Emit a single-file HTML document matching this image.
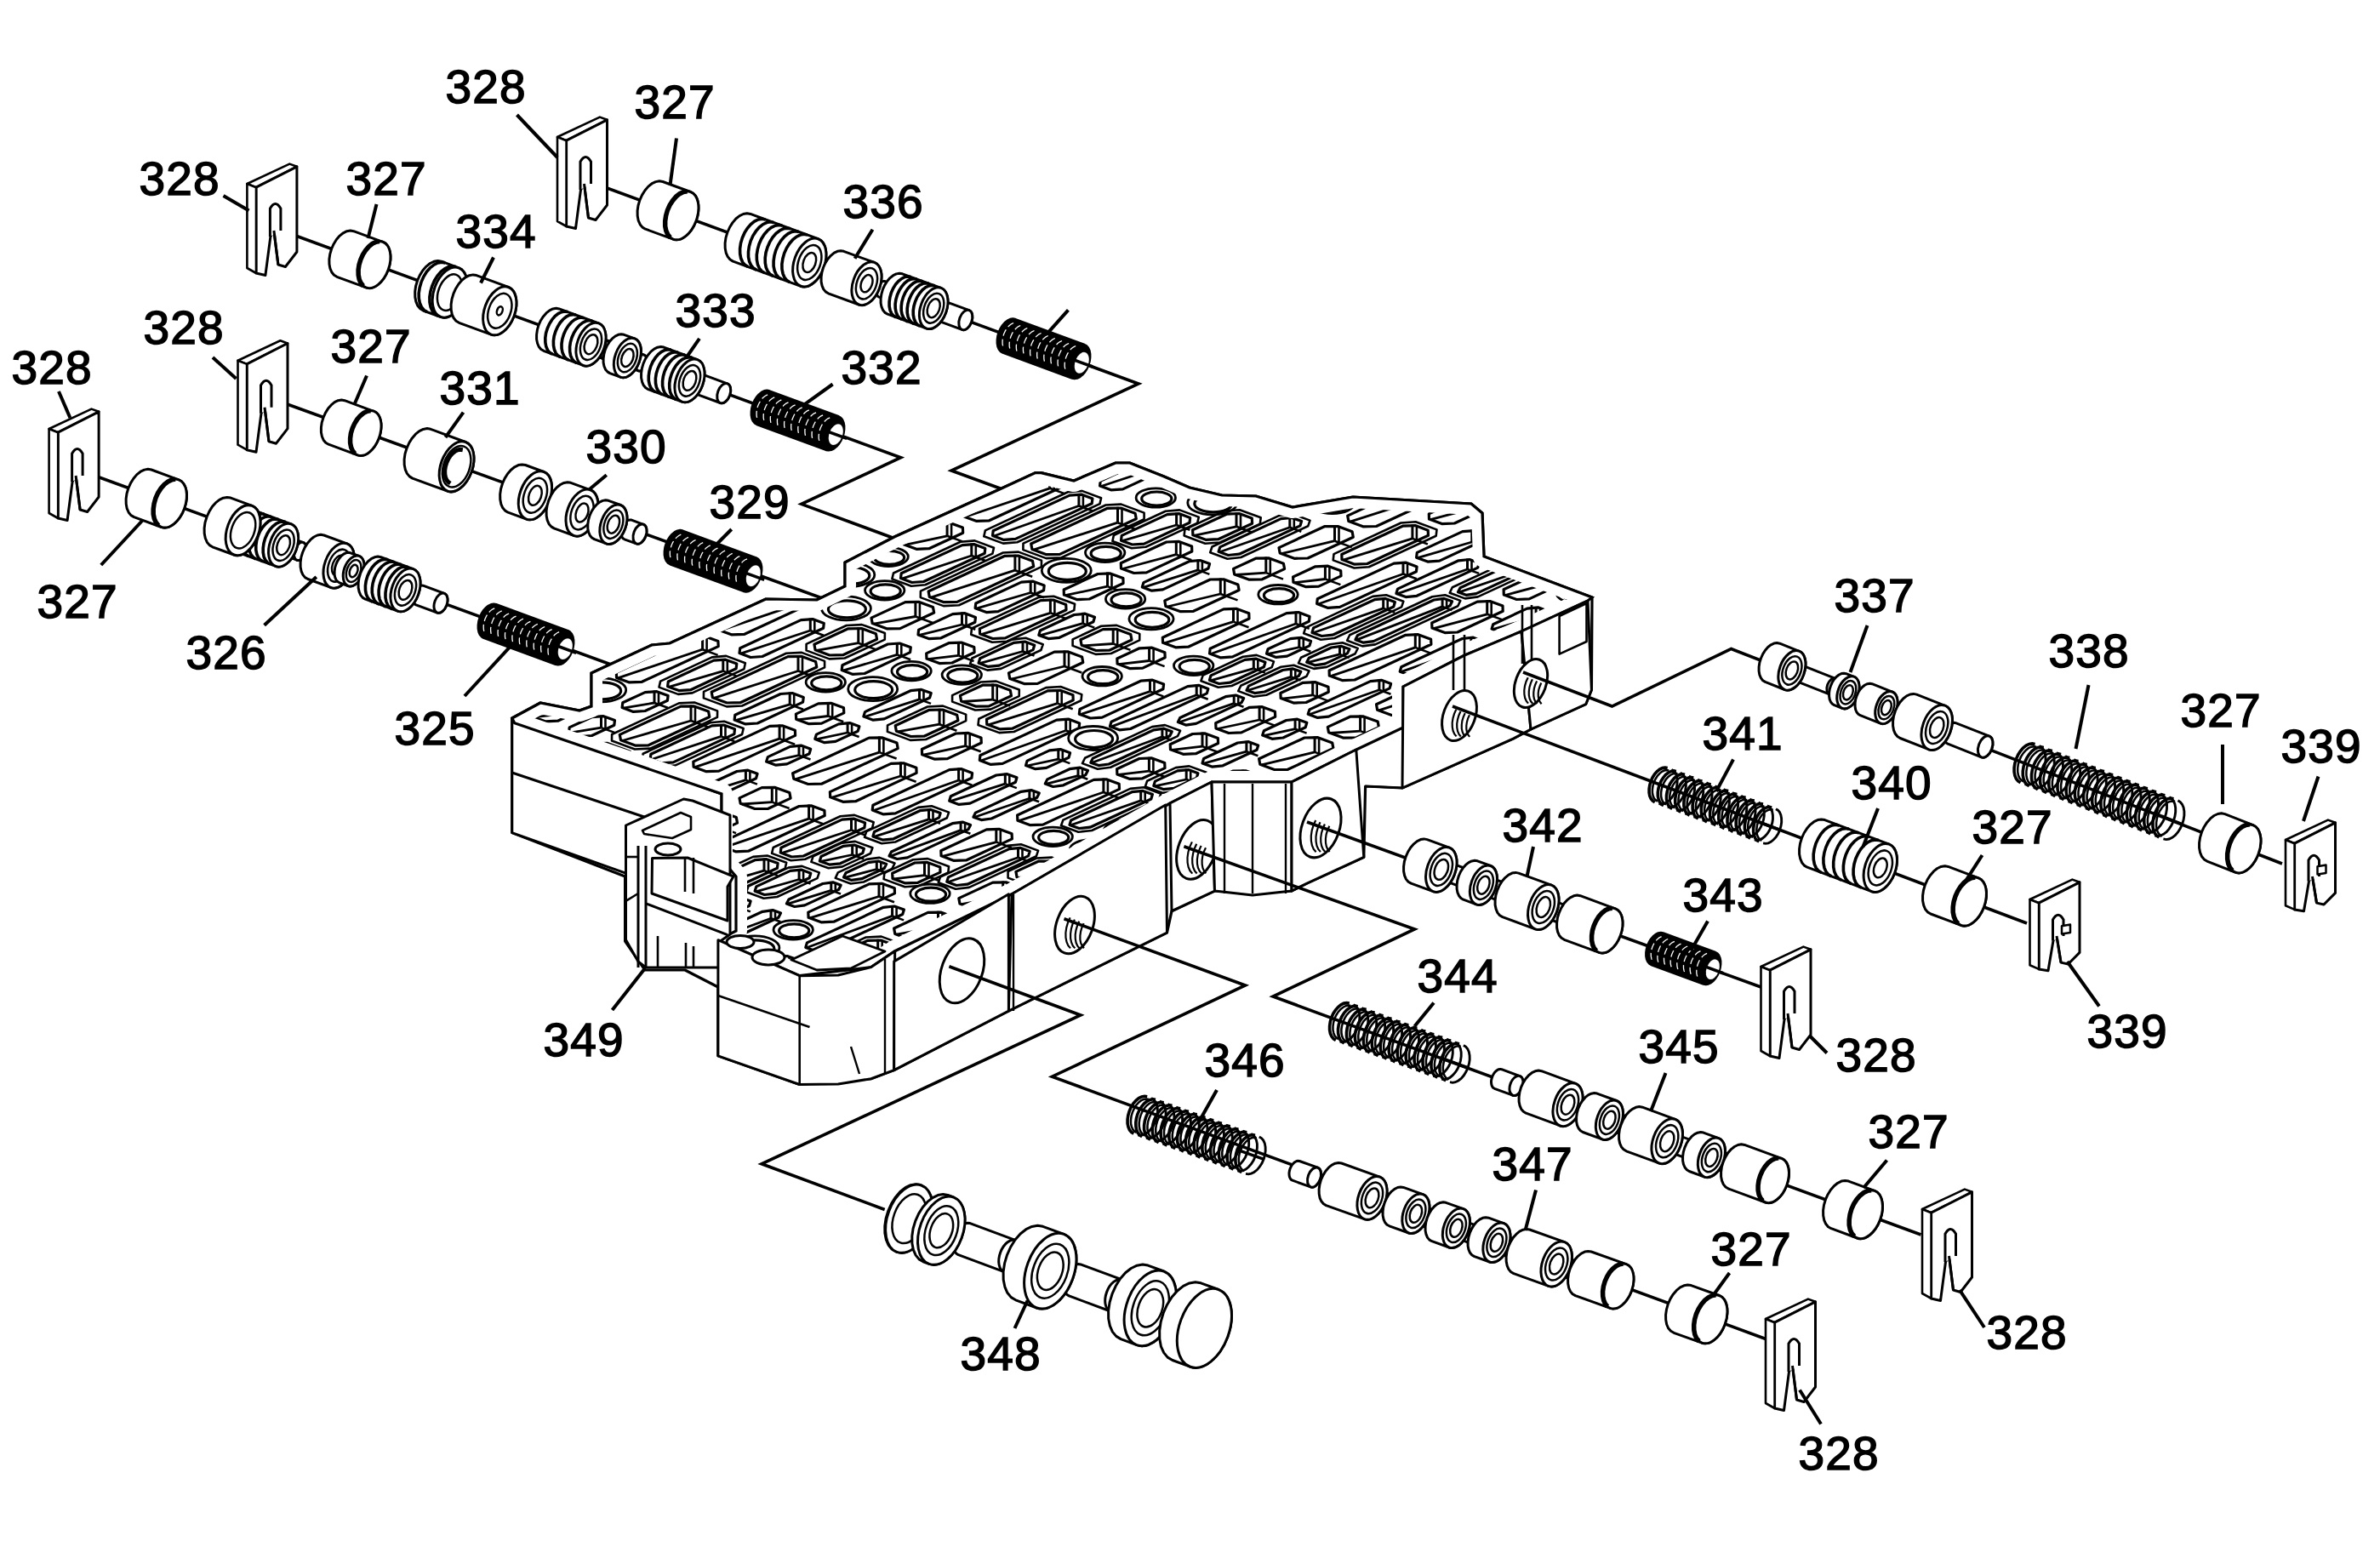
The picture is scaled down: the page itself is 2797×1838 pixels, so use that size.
<!DOCTYPE html>
<html><head><meta charset="utf-8"><style>
html,body{margin:0;padding:0;background:#fff;overflow:hidden}
svg{display:block}
.t{font-family:"Liberation Sans",sans-serif;font-size:55px;letter-spacing:1.2px;fill:#000;stroke:#000;stroke-width:1.5px}
</style></head><body>
<svg width="2797" height="1838" viewBox="0 0 2797 1838">
<rect width="2797" height="1838" fill="#fff"/>
<path d="M689.0 212.0 L1338.0 451.0 L1118.0 553.0 L1200.0 583.0" fill="none" stroke="#000" stroke-width="3.6" stroke-linejoin="miter"/>
<path d="M323.0 268.0 L1058.6 537.7 L941.8 592.4 L1060.0 636.0" fill="none" stroke="#000" stroke-width="3.6" stroke-linejoin="miter"/>
<path d="M312.0 465.7 L980.0 708.0" fill="none" stroke="#000" stroke-width="3.6" stroke-linejoin="miter"/>
<path d="M89.4 551.0 L740.0 789.0" fill="none" stroke="#000" stroke-width="3.6" stroke-linejoin="miter"/>
<path d="M601.8 844.0 L635.0 826.0 L681.0 835.0 L695.0 830.0 L695.0 791.0 L766.0 758.0 L787.0 756.0 L900.0 704.0 L960.0 705.0 L993.0 689.0 L993.0 661.0 L1051.0 631.0 L1174.8 575.0 L1216.8 555.6 L1223.5 555.6 L1262.0 565.0 L1311.0 544.0 L1327.7 544.0 L1368.0 560.0 L1398.0 573.0 L1436.0 582.0 L1476.0 583.0 L1519.0 596.0 L1590.0 584.0 L1729.0 592.0 L1742.0 603.0 L1744.0 654.0 L1871.0 702.0 L1870.4 810.7 L1863.7 827.5 L1799.0 857.0 L1778.8 867.8 L1701.4 902.3 L1648.0 926.0 L1604.6 924.0 L1602.8 1007.4 L1536.0 1038.0 L1518.0 1047.0 L1427.5 1047.0 L1377.0 1070.7 L1371.5 1096.0 L1185.4 1188.0 L1050.7 1257.6 L1023.8 1267.7 L939.7 1274.5 L843.9 1240.8 L843.9 1160.0 L805.0 1140.0 L758.0 1140.0 L734.6 1106.0 L734.6 1030.0 L601.8 978.6Z" fill="#fff" stroke="#000" stroke-width="3.2" stroke-linejoin="round"/>
<path d="M601.8 844.0 L848.0 933.0 L848.0 1040.0 L748.0 1030.7 L601.8 978.6Z" fill="#fff" stroke="#000" stroke-width="3" stroke-linejoin="round"/>
<path d="M601.8 908.0 L760.0 961.0" fill="none" stroke="#000" stroke-width="3" stroke-linejoin="miter"/>
<clipPath id="topclip"><path d="M601.8 844.0 L635.0 826.0 L681.0 835.0 L695.0 830.0 L695.0 791.0 L766.0 758.0 L787.0 756.0 L900.0 704.0 L960.0 705.0 L993.0 689.0 L993.0 661.0 L1051.0 631.0 L1174.8 575.0 L1216.8 555.6 L1223.5 555.6 L1262.0 565.0 L1311.0 544.0 L1327.7 544.0 L1368.0 560.0 L1398.0 573.0 L1436.0 582.0 L1476.0 583.0 L1519.0 596.0 L1590.0 584.0 L1729.0 592.0 L1742.0 603.0 L1744.0 654.0 L1871.0 702.0 L1866.0 706.0 L1788.0 742.0 L1720.7 770.3 L1649.0 807.0 L1649.0 855.0 L1596.0 880.0 L1518.0 919.0 L1424.0 919.0 L1375.0 944.0 L1189.0 1050.8 L1051.7 1117.7 L1023.8 1136.6 L939.7 1146.7 L843.9 1104.7 L865.0 1094.0 L865.0 1030.0 L848.0 1010.0 L848.0 933.0 L604.7 849.8Z"/></clipPath>
<path d="M601.8 844.0 L635.0 826.0 L681.0 835.0 L695.0 830.0 L695.0 791.0 L766.0 758.0 L787.0 756.0 L900.0 704.0 L960.0 705.0 L993.0 689.0 L993.0 661.0 L1051.0 631.0 L1174.8 575.0 L1216.8 555.6 L1223.5 555.6 L1262.0 565.0 L1311.0 544.0 L1327.7 544.0 L1368.0 560.0 L1398.0 573.0 L1436.0 582.0 L1476.0 583.0 L1519.0 596.0 L1590.0 584.0 L1729.0 592.0 L1742.0 603.0 L1744.0 654.0 L1871.0 702.0 L1866.0 706.0 L1788.0 742.0 L1720.7 770.3 L1649.0 807.0 L1649.0 855.0 L1596.0 880.0 L1518.0 919.0 L1424.0 919.0 L1375.0 944.0 L1189.0 1050.8 L1051.7 1117.7 L1023.8 1136.6 L939.7 1146.7 L843.9 1104.7 L865.0 1094.0 L865.0 1030.0 L848.0 1010.0 L848.0 933.0 L604.7 849.8Z" fill="#fff" stroke="none"/>
<g clip-path="url(#topclip)"><path d="M391.5 944.7 L463.1 911.5 L477.9 910.9 L492.9 916.4 L493.2 922.5 L421.5 955.8 L406.7 956.4 L391.7 950.9Z" fill="none" stroke="#000" stroke-width="3.2" stroke-linejoin="round"/><path d="M393.2 951.4 L474.6 926.2" fill="none" stroke="#000" stroke-width="2.8"/><path d="M474.6 909.7 L474.6 926.2" fill="none" stroke="#000" stroke-width="3.0"/><path d="M479.6 911.7 L479.6 928.2" fill="none" stroke="#000" stroke-width="2.6"/><path d="M474.6 926.2 L492.6 932.8" fill="none" stroke="#000" stroke-width="2.6"/><path d="M499.4 894.6 L589.2 853.0 L604.0 852.4 L619.0 857.9 L619.2 864.0 L529.4 905.7 L514.7 906.3 L499.7 900.8Z" fill="none" stroke="#000" stroke-width="3.2" stroke-linejoin="round"/><path d="M501.2 901.3 L600.7 867.6" fill="none" stroke="#000" stroke-width="2.8"/><path d="M600.7 851.1 L600.7 867.6" fill="none" stroke="#000" stroke-width="3.0"/><path d="M605.7 853.1 L605.7 869.6" fill="none" stroke="#000" stroke-width="2.6"/><path d="M600.7 867.6 L618.7 874.3" fill="none" stroke="#000" stroke-width="2.6"/><path d="M625.5 836.1 L651.8 823.9 L666.5 823.3 L681.6 828.8 L681.8 835.0 L655.5 847.2 L640.8 847.8 L625.7 842.3Z" fill="none" stroke="#000" stroke-width="3.2" stroke-linejoin="round"/><path d="M627.2 842.8 L663.2 838.6" fill="none" stroke="#000" stroke-width="2.8"/><path d="M663.2 822.1 L663.2 838.6" fill="none" stroke="#000" stroke-width="3.0"/><path d="M668.2 824.1 L668.2 840.6" fill="none" stroke="#000" stroke-width="2.6"/><path d="M663.2 838.6 L681.3 845.2" fill="none" stroke="#000" stroke-width="2.6"/><ellipse cx="706.7" cy="810.9" rx="29.0" ry="14.0" fill="#fff" stroke="#000" stroke-width="2.8"/><ellipse cx="707.7" cy="811.9" rx="22.0" ry="10.0" fill="#fff" stroke="#000" stroke-width="3.2"/><path d="M724.3 790.2 L814.1 748.6 L828.9 748.0 L843.9 753.5 L844.2 759.6 L754.4 801.3 L739.6 801.9 L724.6 796.4Z" fill="none" stroke="#000" stroke-width="3.2" stroke-linejoin="round"/><path d="M726.1 796.9 L825.6 763.2" fill="none" stroke="#000" stroke-width="2.8"/><path d="M825.6 746.7 L825.6 763.2" fill="none" stroke="#000" stroke-width="3.0"/><path d="M830.6 748.7 L830.6 765.2" fill="none" stroke="#000" stroke-width="2.6"/><path d="M825.6 763.2 L843.6 769.9" fill="none" stroke="#000" stroke-width="2.6"/><path d="M845.0 734.2 L934.8 692.6 L949.5 692.0 L964.5 697.5 L964.8 703.6 L875.0 745.3 L860.2 745.9 L845.2 740.4Z" fill="none" stroke="#000" stroke-width="3.2" stroke-linejoin="round"/><path d="M846.7 740.9 L946.2 707.2" fill="none" stroke="#000" stroke-width="2.8"/><path d="M946.2 690.7 L946.2 707.2" fill="none" stroke="#000" stroke-width="3.0"/><path d="M951.2 692.7 L951.2 709.2" fill="none" stroke="#000" stroke-width="2.6"/><path d="M946.2 707.2 L964.2 713.9" fill="none" stroke="#000" stroke-width="2.6"/><ellipse cx="998.8" cy="675.4" rx="29.0" ry="14.0" fill="#fff" stroke="#000" stroke-width="2.8"/><ellipse cx="999.8" cy="676.4" rx="22.0" ry="10.0" fill="#fff" stroke="#000" stroke-width="3.2"/><ellipse cx="1044.1" cy="654.3" rx="23.2" ry="11.2" fill="#fff" stroke="#000" stroke-width="2.8"/><ellipse cx="1045.1" cy="655.3" rx="17.6" ry="8.0" fill="#fff" stroke="#000" stroke-width="3.2"/><path d="M1061.7 633.6 L1101.7 615.1 L1116.4 614.5 L1131.4 620.0 L1131.7 626.2 L1091.8 644.7 L1077.0 645.3 L1062.0 639.8Z" fill="none" stroke="#000" stroke-width="3.2" stroke-linejoin="round"/><path d="M1063.5 640.3 L1113.1 629.8" fill="none" stroke="#000" stroke-width="2.8"/><path d="M1113.1 613.3 L1113.1 629.8" fill="none" stroke="#000" stroke-width="3.0"/><path d="M1118.1 615.3 L1118.1 631.8" fill="none" stroke="#000" stroke-width="2.6"/><path d="M1113.1 629.8 L1131.1 636.4" fill="none" stroke="#000" stroke-width="2.6"/><path d="M1132.5 600.8 L1222.3 559.1 L1237.1 558.5 L1252.1 564.0 L1252.3 570.2 L1162.5 611.8 L1147.8 612.4 L1132.7 606.9Z" fill="none" stroke="#000" stroke-width="3.2" stroke-linejoin="round"/><path d="M1134.2 607.5 L1233.7 573.8" fill="none" stroke="#000" stroke-width="2.8"/><path d="M1233.7 557.3 L1233.7 573.8" fill="none" stroke="#000" stroke-width="3.0"/><path d="M1238.7 559.3 L1238.7 575.8" fill="none" stroke="#000" stroke-width="2.6"/><path d="M1233.7 573.8 L1251.8 580.4" fill="none" stroke="#000" stroke-width="2.6"/><path d="M1258.6 542.3 L1312.1 517.4 L1326.8 516.8 L1341.9 522.4 L1342.1 528.5 L1288.6 553.3 L1273.8 553.9 L1258.8 548.4Z" fill="none" stroke="#000" stroke-width="3.2" stroke-linejoin="round"/><path d="M1260.3 549.0 L1323.5 532.1" fill="none" stroke="#000" stroke-width="2.8"/><path d="M1323.5 515.6 L1323.5 532.1" fill="none" stroke="#000" stroke-width="3.0"/><path d="M1328.5 517.6 L1328.5 534.1" fill="none" stroke="#000" stroke-width="2.6"/><path d="M1323.5 532.1 L1341.6 538.7" fill="none" stroke="#000" stroke-width="2.6"/><ellipse cx="1376.1" cy="500.2" rx="29.0" ry="14.0" fill="#fff" stroke="#000" stroke-width="2.8"/><ellipse cx="1377.1" cy="501.2" rx="22.0" ry="10.0" fill="#fff" stroke="#000" stroke-width="3.2"/><path d="M1393.7 479.5 L1483.5 437.9 L1498.3 437.3 L1513.3 442.8 L1513.5 448.9 L1423.7 490.6 L1409.0 491.2 L1394.0 485.7Z" fill="none" stroke="#000" stroke-width="3.2" stroke-linejoin="round"/><path d="M1395.5 486.2 L1495.0 452.5" fill="none" stroke="#000" stroke-width="2.8"/><path d="M1495.0 436.0 L1495.0 452.5" fill="none" stroke="#000" stroke-width="3.0"/><path d="M1500.0 438.0 L1500.0 454.5" fill="none" stroke="#000" stroke-width="2.6"/><path d="M1495.0 452.5 L1513.0 459.2" fill="none" stroke="#000" stroke-width="2.6"/><path d="M423.4 969.0 L476.9 944.1 L490.8 943.2 L503.9 948.0 L503.2 953.8 L449.7 978.6 L435.9 979.6 L422.7 974.8Z" fill="none" stroke="#000" stroke-width="3.2" stroke-linejoin="round"/><path d="M414.2 968.6 L474.9 940.4 L491.5 938.9 L514.0 947.2 L512.5 954.2 L451.7 982.4 L435.1 983.8 L412.6 975.6Z" fill="none" stroke="#000" stroke-width="2.6" stroke-linejoin="round"/><path d="M424.1 975.2 L487.9 956.5" fill="none" stroke="#000" stroke-width="2.8"/><path d="M487.9 942.1 L487.9 956.5" fill="none" stroke="#000" stroke-width="3.0"/><path d="M492.9 944.1 L492.9 958.5" fill="none" stroke="#000" stroke-width="2.6"/><path d="M487.9 956.5 L503.6 962.3" fill="none" stroke="#000" stroke-width="2.6"/><path d="M513.2 927.3 L584.9 894.0 L598.7 893.1 L611.8 897.9 L611.1 903.7 L539.5 937.0 L525.7 937.9 L512.5 933.1Z" fill="none" stroke="#000" stroke-width="3.2" stroke-linejoin="round"/><path d="M504.0 926.9 L582.9 890.3 L599.4 888.8 L622.0 897.1 L620.4 904.1 L541.5 940.7 L524.9 942.2 L502.4 933.9Z" fill="none" stroke="#000" stroke-width="2.6" stroke-linejoin="round"/><path d="M513.8 933.6 L595.8 906.4" fill="none" stroke="#000" stroke-width="2.8"/><path d="M595.8 892.0 L595.8 906.4" fill="none" stroke="#000" stroke-width="3.0"/><path d="M600.8 894.0 L600.8 908.4" fill="none" stroke="#000" stroke-width="2.6"/><path d="M595.8 906.4 L611.6 912.2" fill="none" stroke="#000" stroke-width="2.6"/><path d="M615.7 879.7 L642.0 867.5 L655.8 866.6 L669.0 871.4 L668.3 877.2 L642.0 889.4 L628.2 890.3 L615.0 885.5Z" fill="none" stroke="#000" stroke-width="3.2" stroke-linejoin="round"/><path d="M616.3 886.0 L652.9 879.9" fill="none" stroke="#000" stroke-width="2.8"/><path d="M652.9 865.5 L652.9 879.9" fill="none" stroke="#000" stroke-width="3.0"/><path d="M657.9 867.5 L657.9 881.9" fill="none" stroke="#000" stroke-width="2.6"/><path d="M652.9 879.9 L668.7 885.7" fill="none" stroke="#000" stroke-width="2.6"/><path d="M669.2 854.9 L695.5 842.7 L709.3 841.7 L722.5 846.5 L721.8 852.3 L695.5 864.5 L681.7 865.5 L668.5 860.7Z" fill="none" stroke="#000" stroke-width="3.2" stroke-linejoin="round"/><path d="M669.8 861.1 L706.5 855.1" fill="none" stroke="#000" stroke-width="2.8"/><path d="M706.5 840.7 L706.5 855.1" fill="none" stroke="#000" stroke-width="3.0"/><path d="M711.5 842.7 L711.5 857.1" fill="none" stroke="#000" stroke-width="2.6"/><path d="M706.5 855.1 L722.2 860.9" fill="none" stroke="#000" stroke-width="2.6"/><path d="M731.8 825.8 L758.1 813.6 L771.9 812.7 L785.1 817.5 L784.4 823.3 L758.1 835.5 L744.3 836.4 L731.1 831.6Z" fill="none" stroke="#000" stroke-width="3.2" stroke-linejoin="round"/><path d="M732.4 832.1 L769.0 826.0" fill="none" stroke="#000" stroke-width="2.8"/><path d="M769.0 811.6 L769.0 826.0" fill="none" stroke="#000" stroke-width="3.0"/><path d="M774.0 813.6 L774.0 828.0" fill="none" stroke="#000" stroke-width="2.6"/><path d="M769.0 826.0 L784.8 831.8" fill="none" stroke="#000" stroke-width="2.6"/><path d="M785.3 801.0 L838.8 776.1 L852.7 775.2 L865.8 780.0 L865.1 785.8 L811.6 810.7 L797.8 811.6 L784.6 806.8Z" fill="none" stroke="#000" stroke-width="3.2" stroke-linejoin="round"/><path d="M776.1 800.6 L836.8 772.4 L853.4 770.9 L875.9 779.2 L874.4 786.2 L813.6 814.4 L797.0 815.9 L774.5 807.6Z" fill="none" stroke="#000" stroke-width="2.6" stroke-linejoin="round"/><path d="M785.9 807.3 L849.8 788.6" fill="none" stroke="#000" stroke-width="2.8"/><path d="M849.8 774.1 L849.8 788.6" fill="none" stroke="#000" stroke-width="3.0"/><path d="M854.8 776.1 L854.8 790.6" fill="none" stroke="#000" stroke-width="2.6"/><path d="M849.8 788.6 L865.5 794.4" fill="none" stroke="#000" stroke-width="2.6"/><path d="M869.7 761.8 L941.3 728.6 L955.1 727.6 L968.3 732.5 L967.6 738.2 L895.9 771.5 L882.1 772.5 L869.0 767.6Z" fill="none" stroke="#000" stroke-width="3.2" stroke-linejoin="round"/><path d="M870.3 768.1 L952.3 741.0" fill="none" stroke="#000" stroke-width="2.8"/><path d="M952.3 726.6 L952.3 741.0" fill="none" stroke="#000" stroke-width="3.0"/><path d="M957.3 728.6 L957.3 743.0" fill="none" stroke="#000" stroke-width="2.6"/><path d="M952.3 741.0 L968.0 746.8" fill="none" stroke="#000" stroke-width="2.6"/><ellipse cx="994.4" cy="714.9" rx="29.0" ry="14.0" fill="#fff" stroke="#000" stroke-width="2.8"/><ellipse cx="995.4" cy="715.9" rx="22.0" ry="10.0" fill="#fff" stroke="#000" stroke-width="3.2"/><ellipse cx="1039.7" cy="693.8" rx="23.2" ry="11.2" fill="#fff" stroke="#000" stroke-width="2.8"/><ellipse cx="1040.7" cy="694.8" rx="17.6" ry="8.0" fill="#fff" stroke="#000" stroke-width="3.2"/><path d="M1059.2 673.8 L1130.9 640.6 L1144.7 639.6 L1157.8 644.5 L1157.2 650.3 L1085.5 683.5 L1071.7 684.5 L1058.5 679.6Z" fill="none" stroke="#000" stroke-width="3.2" stroke-linejoin="round"/><path d="M1050.0 673.5 L1128.9 636.8 L1145.5 635.4 L1168.0 643.7 L1166.4 650.6 L1087.5 687.3 L1070.9 688.7 L1048.4 680.4Z" fill="none" stroke="#000" stroke-width="2.6" stroke-linejoin="round"/><path d="M1059.9 680.1 L1141.8 653.0" fill="none" stroke="#000" stroke-width="2.8"/><path d="M1141.8 638.6 L1141.8 653.0" fill="none" stroke="#000" stroke-width="3.0"/><path d="M1146.8 640.6 L1146.8 655.0" fill="none" stroke="#000" stroke-width="2.6"/><path d="M1141.8 653.0 L1157.6 658.8" fill="none" stroke="#000" stroke-width="2.6"/><path d="M1167.2 623.7 L1257.0 582.1 L1270.8 581.1 L1283.9 586.0 L1283.2 591.7 L1193.4 633.4 L1179.6 634.4 L1166.5 629.5Z" fill="none" stroke="#000" stroke-width="3.2" stroke-linejoin="round"/><path d="M1157.9 623.4 L1255.0 578.3 L1271.5 576.9 L1294.1 585.2 L1292.5 592.1 L1195.4 637.2 L1178.9 638.6 L1156.3 630.3Z" fill="none" stroke="#000" stroke-width="2.6" stroke-linejoin="round"/><path d="M1167.8 630.0 L1267.9 594.5" fill="none" stroke="#000" stroke-width="2.8"/><path d="M1267.9 580.1 L1267.9 594.5" fill="none" stroke="#000" stroke-width="3.0"/><path d="M1272.9 582.1 L1272.9 596.5" fill="none" stroke="#000" stroke-width="2.6"/><path d="M1267.9 594.5 L1283.7 600.3" fill="none" stroke="#000" stroke-width="2.6"/><path d="M1293.2 565.2 L1364.9 532.0 L1378.7 531.0 L1391.9 535.9 L1391.2 541.6 L1319.5 574.9 L1305.7 575.8 L1292.6 571.0Z" fill="none" stroke="#000" stroke-width="3.2" stroke-linejoin="round"/><path d="M1293.9 571.5 L1375.8 544.4" fill="none" stroke="#000" stroke-width="2.8"/><path d="M1375.8 530.0 L1375.8 544.4" fill="none" stroke="#000" stroke-width="3.0"/><path d="M1380.8 532.0 L1380.8 546.4" fill="none" stroke="#000" stroke-width="2.6"/><path d="M1375.8 544.4 L1391.6 550.2" fill="none" stroke="#000" stroke-width="2.6"/><path d="M1392.1 519.3 L1432.0 500.8 L1445.8 499.9 L1459.0 504.7 L1458.3 510.5 L1418.4 529.0 L1404.6 530.0 L1391.4 525.1Z" fill="none" stroke="#000" stroke-width="3.2" stroke-linejoin="round"/><path d="M1382.8 519.0 L1430.0 497.1 L1446.6 495.6 L1469.1 503.9 L1467.5 510.9 L1420.4 532.8 L1403.8 534.2 L1381.3 525.9Z" fill="none" stroke="#000" stroke-width="2.6" stroke-linejoin="round"/><path d="M1392.7 525.6 L1442.9 513.2" fill="none" stroke="#000" stroke-width="2.8"/><path d="M1442.9 498.8 L1442.9 513.2" fill="none" stroke="#000" stroke-width="3.0"/><path d="M1447.9 500.8 L1447.9 515.2" fill="none" stroke="#000" stroke-width="2.6"/><path d="M1442.9 513.2 L1458.7 519.0" fill="none" stroke="#000" stroke-width="2.6"/><path d="M1468.3 484.0 L1494.6 471.8 L1508.4 470.8 L1521.6 475.6 L1520.9 481.4 L1494.6 493.6 L1480.7 494.6 L1467.6 489.8Z" fill="none" stroke="#000" stroke-width="3.2" stroke-linejoin="round"/><path d="M1459.0 483.6 L1492.6 468.0 L1509.2 466.6 L1531.7 474.8 L1530.1 481.8 L1496.6 497.4 L1480.0 498.8 L1457.5 490.6Z" fill="none" stroke="#000" stroke-width="2.6" stroke-linejoin="round"/><path d="M1468.9 490.2 L1505.5 484.2" fill="none" stroke="#000" stroke-width="2.8"/><path d="M1505.5 469.8 L1505.5 484.2" fill="none" stroke="#000" stroke-width="3.0"/><path d="M1510.5 471.8 L1510.5 486.2" fill="none" stroke="#000" stroke-width="2.6"/><path d="M1505.5 484.2 L1521.3 490.0" fill="none" stroke="#000" stroke-width="2.6"/><path d="M460.7 987.6 L500.7 969.0 L516.4 968.8 L533.2 975.0 L534.4 981.5 L494.5 1000.0 L478.8 1000.3 L461.9 994.0Z" fill="none" stroke="#000" stroke-width="3.2" stroke-linejoin="round"/><path d="M463.6 994.7 L512.6 986.0" fill="none" stroke="#000" stroke-width="2.8"/><path d="M512.6 967.4 L512.6 986.0" fill="none" stroke="#000" stroke-width="3.0"/><path d="M517.6 969.4 L517.6 988.0" fill="none" stroke="#000" stroke-width="2.6"/><path d="M512.6 986.0 L532.9 993.4" fill="none" stroke="#000" stroke-width="2.6"/><path d="M527.9 956.4 L581.4 931.6 L597.1 931.3 L614.0 937.5 L615.2 944.0 L561.7 968.8 L545.9 969.1 L529.1 962.9Z" fill="none" stroke="#000" stroke-width="3.2" stroke-linejoin="round"/><path d="M530.7 963.5 L593.4 948.5" fill="none" stroke="#000" stroke-width="2.8"/><path d="M593.4 929.9 L593.4 948.5" fill="none" stroke="#000" stroke-width="3.0"/><path d="M598.4 931.9 L598.4 950.5" fill="none" stroke="#000" stroke-width="2.6"/><path d="M593.4 948.5 L613.6 956.0" fill="none" stroke="#000" stroke-width="2.6"/><ellipse cx="641.8" cy="917.6" rx="23.2" ry="11.2" fill="#fff" stroke="#000" stroke-width="2.8"/><ellipse cx="642.8" cy="918.6" rx="17.6" ry="8.0" fill="#fff" stroke="#000" stroke-width="3.2"/><path d="M657.6 896.2 L697.5 877.7 L713.2 877.4 L730.1 883.6 L731.3 890.1 L691.4 908.6 L675.6 908.9 L658.8 902.7Z" fill="none" stroke="#000" stroke-width="3.2" stroke-linejoin="round"/><path d="M648.3 895.8 L695.5 873.9 L713.5 873.0 L740.6 883.0 L740.5 890.5 L693.4 912.4 L675.3 913.3 L648.2 903.3Z" fill="none" stroke="#000" stroke-width="2.6" stroke-linejoin="round"/><path d="M660.4 903.3 L709.5 894.6" fill="none" stroke="#000" stroke-width="2.8"/><path d="M709.5 876.1 L709.5 894.6" fill="none" stroke="#000" stroke-width="3.0"/><path d="M714.5 878.1 L714.5 896.6" fill="none" stroke="#000" stroke-width="2.6"/><path d="M709.5 894.6 L729.7 902.1" fill="none" stroke="#000" stroke-width="2.6"/><path d="M728.3 863.4 L800.0 830.1 L815.7 829.9 L832.6 836.1 L833.8 842.5 L762.1 875.8 L746.4 876.1 L729.5 869.8Z" fill="none" stroke="#000" stroke-width="3.2" stroke-linejoin="round"/><path d="M719.1 863.0 L798.0 826.4 L816.0 825.5 L843.1 835.4 L843.0 842.9 L764.1 879.6 L746.0 880.5 L719.0 870.5Z" fill="none" stroke="#000" stroke-width="2.6" stroke-linejoin="round"/><path d="M731.2 870.5 L812.0 847.0" fill="none" stroke="#000" stroke-width="2.8"/><path d="M812.0 828.5 L812.0 847.0" fill="none" stroke="#000" stroke-width="3.0"/><path d="M817.0 830.5 L817.0 849.0" fill="none" stroke="#000" stroke-width="2.6"/><path d="M812.0 847.0 L832.2 854.5" fill="none" stroke="#000" stroke-width="2.6"/><path d="M836.2 813.3 L926.0 771.6 L941.7 771.3 L958.6 777.5 L959.8 784.0 L870.0 825.7 L854.3 826.0 L837.4 819.7Z" fill="none" stroke="#000" stroke-width="3.2" stroke-linejoin="round"/><path d="M827.0 812.9 L924.0 767.8 L942.1 766.9 L969.1 776.9 L969.1 784.4 L872.0 829.5 L854.0 830.4 L826.9 820.4Z" fill="none" stroke="#000" stroke-width="2.6" stroke-linejoin="round"/><path d="M839.1 820.4 L938.0 788.5" fill="none" stroke="#000" stroke-width="2.8"/><path d="M938.0 770.0 L938.0 788.5" fill="none" stroke="#000" stroke-width="3.0"/><path d="M943.0 772.0 L943.0 790.5" fill="none" stroke="#000" stroke-width="2.6"/><path d="M938.0 788.5 L958.3 796.0" fill="none" stroke="#000" stroke-width="2.6"/><path d="M956.9 757.3 L996.8 738.8 L1012.5 738.5 L1029.4 744.7 L1030.6 751.2 L990.7 769.7 L975.0 770.0 L958.1 763.8Z" fill="none" stroke="#000" stroke-width="3.2" stroke-linejoin="round"/><path d="M947.6 756.9 L994.8 735.0 L1012.9 734.1 L1039.9 744.0 L1039.8 751.6 L992.7 773.5 L974.6 774.4 L947.6 764.4Z" fill="none" stroke="#000" stroke-width="2.6" stroke-linejoin="round"/><path d="M959.8 764.4 L1008.8 755.7" fill="none" stroke="#000" stroke-width="2.8"/><path d="M1008.8 737.1 L1008.8 755.7" fill="none" stroke="#000" stroke-width="3.0"/><path d="M1013.8 739.1 L1013.8 757.7" fill="none" stroke="#000" stroke-width="2.6"/><path d="M1008.8 755.7 L1029.0 763.1" fill="none" stroke="#000" stroke-width="2.6"/><path d="M1024.0 726.1 L1063.9 707.6 L1079.6 707.3 L1096.5 713.6 L1097.7 720.0 L1057.8 738.6 L1042.1 738.8 L1025.2 732.6Z" fill="none" stroke="#000" stroke-width="3.2" stroke-linejoin="round"/><path d="M1026.9 733.2 L1075.9 724.5" fill="none" stroke="#000" stroke-width="2.8"/><path d="M1075.9 706.0 L1075.9 724.5" fill="none" stroke="#000" stroke-width="3.0"/><path d="M1080.9 708.0 L1080.9 726.5" fill="none" stroke="#000" stroke-width="2.6"/><path d="M1075.9 724.5 L1096.2 732.0" fill="none" stroke="#000" stroke-width="2.6"/><path d="M1091.1 695.0 L1180.9 653.3 L1196.6 653.0 L1213.5 659.2 L1214.7 665.7 L1124.9 707.4 L1109.2 707.7 L1092.3 701.4Z" fill="none" stroke="#000" stroke-width="3.2" stroke-linejoin="round"/><path d="M1081.9 694.6 L1178.9 649.5 L1197.0 648.6 L1224.0 658.6 L1223.9 666.1 L1126.9 711.2 L1108.8 712.1 L1081.8 702.1Z" fill="none" stroke="#000" stroke-width="2.6" stroke-linejoin="round"/><path d="M1094.0 702.1 L1192.9 670.2" fill="none" stroke="#000" stroke-width="2.8"/><path d="M1192.9 651.7 L1192.9 670.2" fill="none" stroke="#000" stroke-width="3.0"/><path d="M1197.9 653.7 L1197.9 672.2" fill="none" stroke="#000" stroke-width="2.6"/><path d="M1192.9 670.2 L1213.2 677.7" fill="none" stroke="#000" stroke-width="2.6"/><path d="M1211.7 639.0 L1301.5 597.3 L1317.2 597.0 L1334.1 603.3 L1335.3 609.7 L1245.5 651.4 L1229.8 651.7 L1212.9 645.5Z" fill="none" stroke="#000" stroke-width="3.2" stroke-linejoin="round"/><path d="M1202.5 638.6 L1299.5 593.5 L1317.6 592.6 L1344.6 602.6 L1344.6 610.1 L1247.5 655.2 L1229.5 656.1 L1202.4 646.1Z" fill="none" stroke="#000" stroke-width="2.6" stroke-linejoin="round"/><path d="M1214.6 646.1 L1313.5 614.2" fill="none" stroke="#000" stroke-width="2.8"/><path d="M1313.5 595.7 L1313.5 614.2" fill="none" stroke="#000" stroke-width="3.0"/><path d="M1318.5 597.7 L1318.5 616.2" fill="none" stroke="#000" stroke-width="2.6"/><path d="M1313.5 614.2 L1333.8 621.7" fill="none" stroke="#000" stroke-width="2.6"/><ellipse cx="1358.3" cy="585.0" rx="23.2" ry="11.2" fill="#fff" stroke="#000" stroke-width="2.8"/><ellipse cx="1359.3" cy="586.0" rx="17.6" ry="8.0" fill="#fff" stroke="#000" stroke-width="3.2"/><path d="M1374.1 563.6 L1427.6 538.8 L1443.3 538.5 L1460.2 544.7 L1461.4 551.2 L1407.9 576.0 L1392.2 576.3 L1375.3 570.1Z" fill="none" stroke="#000" stroke-width="3.2" stroke-linejoin="round"/><path d="M1364.8 563.2 L1425.6 535.0 L1443.7 534.1 L1470.7 544.1 L1470.7 551.6 L1409.9 579.8 L1391.8 580.7 L1364.8 570.8Z" fill="none" stroke="#000" stroke-width="2.6" stroke-linejoin="round"/><path d="M1377.0 570.7 L1439.6 555.7" fill="none" stroke="#000" stroke-width="2.8"/><path d="M1439.6 537.2 L1439.6 555.7" fill="none" stroke="#000" stroke-width="3.0"/><path d="M1444.6 539.2 L1444.6 557.7" fill="none" stroke="#000" stroke-width="2.6"/><path d="M1439.6 555.7 L1459.9 563.2" fill="none" stroke="#000" stroke-width="2.6"/><path d="M1463.9 521.9 L1535.5 488.7 L1551.2 488.4 L1568.1 494.6 L1569.3 501.1 L1497.7 534.4 L1482.0 534.6 L1465.1 528.4Z" fill="none" stroke="#000" stroke-width="3.2" stroke-linejoin="round"/><path d="M1466.8 529.0 L1547.5 505.6" fill="none" stroke="#000" stroke-width="2.8"/><path d="M1547.5 487.1 L1547.5 505.6" fill="none" stroke="#000" stroke-width="3.0"/><path d="M1552.5 489.1 L1552.5 507.6" fill="none" stroke="#000" stroke-width="2.6"/><path d="M1547.5 505.6 L1567.8 513.1" fill="none" stroke="#000" stroke-width="2.6"/><path d="M520.0 999.9 L546.3 987.7 L560.2 986.7 L573.3 991.5 L572.6 997.3 L546.3 1009.5 L532.5 1010.5 L519.3 1005.7Z" fill="none" stroke="#000" stroke-width="3.2" stroke-linejoin="round"/><path d="M510.8 999.5 L544.3 983.9 L560.9 982.5 L583.4 990.7 L581.9 997.7 L548.3 1013.3 L531.7 1014.7 L509.2 1006.5Z" fill="none" stroke="#000" stroke-width="2.6" stroke-linejoin="round"/><path d="M520.7 1006.1 L557.3 1000.1" fill="none" stroke="#000" stroke-width="2.8"/><path d="M557.3 985.7 L557.3 1000.1" fill="none" stroke="#000" stroke-width="3.0"/><path d="M562.3 987.7 L562.3 1002.1" fill="none" stroke="#000" stroke-width="2.6"/><path d="M557.3 1000.1 L573.0 1005.9" fill="none" stroke="#000" stroke-width="2.6"/><path d="M577.2 973.4 L667.0 931.7 L680.8 930.7 L693.9 935.6 L693.2 941.3 L603.4 983.0 L589.6 984.0 L576.5 979.1Z" fill="none" stroke="#000" stroke-width="3.2" stroke-linejoin="round"/><path d="M577.8 979.6 L677.9 944.1" fill="none" stroke="#000" stroke-width="2.8"/><path d="M677.9 929.7 L677.9 944.1" fill="none" stroke="#000" stroke-width="3.0"/><path d="M682.9 931.7 L682.9 946.1" fill="none" stroke="#000" stroke-width="2.6"/><path d="M677.9 944.1 L693.7 949.9" fill="none" stroke="#000" stroke-width="2.6"/><path d="M697.8 917.4 L737.7 898.8 L751.5 897.9 L764.7 902.7 L764.0 908.5 L724.1 927.0 L710.3 928.0 L697.1 923.1Z" fill="none" stroke="#000" stroke-width="3.2" stroke-linejoin="round"/><path d="M698.4 923.6 L748.6 911.3" fill="none" stroke="#000" stroke-width="2.8"/><path d="M748.6 896.8 L748.6 911.3" fill="none" stroke="#000" stroke-width="3.0"/><path d="M753.6 898.8 L753.6 913.3" fill="none" stroke="#000" stroke-width="2.6"/><path d="M748.6 911.3 L764.4 917.1" fill="none" stroke="#000" stroke-width="2.6"/><path d="M764.9 886.2 L836.6 852.9 L850.4 852.0 L863.5 856.8 L862.9 862.6 L791.2 895.9 L777.4 896.8 L764.2 892.0Z" fill="none" stroke="#000" stroke-width="3.2" stroke-linejoin="round"/><path d="M755.7 885.8 L834.6 849.2 L851.1 847.7 L873.7 856.0 L872.1 863.0 L793.2 899.6 L776.6 901.1 L754.1 892.8Z" fill="none" stroke="#000" stroke-width="2.6" stroke-linejoin="round"/><path d="M765.5 892.5 L847.5 865.4" fill="none" stroke="#000" stroke-width="2.8"/><path d="M847.5 850.9 L847.5 865.4" fill="none" stroke="#000" stroke-width="3.0"/><path d="M852.5 852.9 L852.5 867.4" fill="none" stroke="#000" stroke-width="2.6"/><path d="M847.5 865.4 L863.3 871.2" fill="none" stroke="#000" stroke-width="2.6"/><path d="M863.8 840.3 L917.3 815.5 L931.1 814.5 L944.3 819.4 L943.6 825.1 L890.1 850.0 L876.2 850.9 L863.1 846.1Z" fill="none" stroke="#000" stroke-width="3.2" stroke-linejoin="round"/><path d="M864.4 846.6 L928.2 827.9" fill="none" stroke="#000" stroke-width="2.8"/><path d="M928.2 813.5 L928.2 827.9" fill="none" stroke="#000" stroke-width="3.0"/><path d="M933.2 815.5 L933.2 829.9" fill="none" stroke="#000" stroke-width="2.6"/><path d="M928.2 827.9 L944.0 833.7" fill="none" stroke="#000" stroke-width="2.6"/><ellipse cx="970.3" cy="801.8" rx="23.2" ry="11.2" fill="#fff" stroke="#000" stroke-width="2.8"/><ellipse cx="971.3" cy="802.8" rx="17.6" ry="8.0" fill="#fff" stroke="#000" stroke-width="3.2"/><path d="M989.9 781.8 L1043.4 757.0 L1057.2 756.0 L1070.3 760.8 L1069.6 766.6 L1016.1 791.5 L1002.3 792.4 L989.2 787.6Z" fill="none" stroke="#000" stroke-width="3.2" stroke-linejoin="round"/><path d="M990.5 788.1 L1054.3 769.4" fill="none" stroke="#000" stroke-width="2.8"/><path d="M1054.3 754.9 L1054.3 769.4" fill="none" stroke="#000" stroke-width="3.0"/><path d="M1059.3 756.9 L1059.3 771.4" fill="none" stroke="#000" stroke-width="2.6"/><path d="M1054.3 769.4 L1070.1 775.2" fill="none" stroke="#000" stroke-width="2.6"/><path d="M1079.6 740.1 L1119.6 721.6 L1133.4 720.6 L1146.5 725.5 L1145.8 731.3 L1105.9 749.8 L1092.1 750.7 L1079.0 745.9Z" fill="none" stroke="#000" stroke-width="3.2" stroke-linejoin="round"/><path d="M1080.3 746.4 L1130.5 734.0" fill="none" stroke="#000" stroke-width="2.8"/><path d="M1130.5 719.6 L1130.5 734.0" fill="none" stroke="#000" stroke-width="3.0"/><path d="M1135.5 721.6 L1135.5 736.0" fill="none" stroke="#000" stroke-width="2.6"/><path d="M1130.5 734.0 L1146.3 739.8" fill="none" stroke="#000" stroke-width="2.6"/><path d="M1146.8 709.0 L1200.3 684.1 L1214.1 683.2 L1227.2 688.0 L1226.6 693.8 L1173.0 718.6 L1159.2 719.6 L1146.1 714.7Z" fill="none" stroke="#000" stroke-width="3.2" stroke-linejoin="round"/><path d="M1147.4 715.2 L1211.2 696.5" fill="none" stroke="#000" stroke-width="2.8"/><path d="M1211.2 682.1 L1211.2 696.5" fill="none" stroke="#000" stroke-width="3.0"/><path d="M1216.2 684.1 L1216.2 698.5" fill="none" stroke="#000" stroke-width="2.6"/><path d="M1211.2 696.5 L1227.0 702.3" fill="none" stroke="#000" stroke-width="2.6"/><ellipse cx="1253.3" cy="670.4" rx="29.0" ry="14.0" fill="#fff" stroke="#000" stroke-width="2.8"/><ellipse cx="1254.3" cy="671.4" rx="22.0" ry="10.0" fill="#fff" stroke="#000" stroke-width="3.2"/><ellipse cx="1298.7" cy="649.4" rx="23.2" ry="11.2" fill="#fff" stroke="#000" stroke-width="2.8"/><ellipse cx="1299.7" cy="650.4" rx="17.6" ry="8.0" fill="#fff" stroke="#000" stroke-width="3.2"/><path d="M1318.2 629.4 L1371.7 604.6 L1385.5 603.6 L1398.7 608.4 L1398.0 614.2 L1344.5 639.1 L1330.6 640.0 L1317.5 635.2Z" fill="none" stroke="#000" stroke-width="3.2" stroke-linejoin="round"/><path d="M1308.9 629.0 L1369.7 600.8 L1386.3 599.4 L1408.8 607.6 L1407.2 614.6 L1346.5 642.8 L1329.9 644.3 L1307.4 636.0Z" fill="none" stroke="#000" stroke-width="2.6" stroke-linejoin="round"/><path d="M1318.8 635.7 L1382.6 617.0" fill="none" stroke="#000" stroke-width="2.8"/><path d="M1382.6 602.5 L1382.6 617.0" fill="none" stroke="#000" stroke-width="3.0"/><path d="M1387.6 604.5 L1387.6 619.0" fill="none" stroke="#000" stroke-width="2.6"/><path d="M1382.6 617.0 L1398.4 622.8" fill="none" stroke="#000" stroke-width="2.6"/><ellipse cx="1424.8" cy="590.9" rx="29.0" ry="14.0" fill="#fff" stroke="#000" stroke-width="2.8"/><ellipse cx="1425.8" cy="591.9" rx="22.0" ry="10.0" fill="#fff" stroke="#000" stroke-width="3.2"/><path d="M1444.3 570.9 L1470.6 558.7 L1484.4 557.7 L1497.5 562.5 L1496.8 568.3 L1470.5 580.5 L1456.7 581.5 L1443.6 576.7Z" fill="none" stroke="#000" stroke-width="3.2" stroke-linejoin="round"/><path d="M1444.9 577.1 L1481.5 571.1" fill="none" stroke="#000" stroke-width="2.8"/><path d="M1481.5 556.7 L1481.5 571.1" fill="none" stroke="#000" stroke-width="3.0"/><path d="M1486.5 558.7 L1486.5 573.1" fill="none" stroke="#000" stroke-width="2.6"/><path d="M1481.5 571.1 L1497.3 576.9" fill="none" stroke="#000" stroke-width="2.6"/><path d="M1506.8 541.8 L1546.8 523.3 L1560.6 522.4 L1573.7 527.2 L1573.0 533.0 L1533.1 551.5 L1519.3 552.4 L1506.2 547.6Z" fill="none" stroke="#000" stroke-width="3.2" stroke-linejoin="round"/><path d="M1507.5 548.1 L1557.7 535.7" fill="none" stroke="#000" stroke-width="2.8"/><path d="M1557.7 521.3 L1557.7 535.7" fill="none" stroke="#000" stroke-width="3.0"/><path d="M1562.7 523.3 L1562.7 537.7" fill="none" stroke="#000" stroke-width="2.6"/><path d="M1557.7 535.7 L1573.5 541.5" fill="none" stroke="#000" stroke-width="2.6"/><path d="M1577.6 509.0 L1649.2 475.7 L1663.1 474.8 L1676.2 479.6 L1675.5 485.4 L1603.9 518.7 L1590.0 519.6 L1576.9 514.8Z" fill="none" stroke="#000" stroke-width="3.2" stroke-linejoin="round"/><path d="M1578.2 515.3 L1660.2 488.1" fill="none" stroke="#000" stroke-width="2.8"/><path d="M1660.2 473.7 L1660.2 488.1" fill="none" stroke="#000" stroke-width="3.0"/><path d="M1665.2 475.7 L1665.2 490.1" fill="none" stroke="#000" stroke-width="2.6"/><path d="M1660.2 488.1 L1675.9 493.9" fill="none" stroke="#000" stroke-width="2.6"/><path d="M559.9 1013.4 L631.6 980.1 L646.4 979.5 L661.4 985.0 L661.6 991.2 L590.0 1024.4 L575.2 1025.0 L560.2 1019.5Z" fill="none" stroke="#000" stroke-width="3.2" stroke-linejoin="round"/><path d="M561.7 1020.0 L643.1 994.8" fill="none" stroke="#000" stroke-width="2.8"/><path d="M643.1 978.3 L643.1 994.8" fill="none" stroke="#000" stroke-width="3.0"/><path d="M648.1 980.3 L648.1 996.8" fill="none" stroke="#000" stroke-width="2.6"/><path d="M643.1 994.8 L661.1 1001.4" fill="none" stroke="#000" stroke-width="2.6"/><path d="M658.8 967.5 L685.1 955.3 L699.9 954.7 L714.9 960.2 L715.1 966.3 L688.8 978.5 L674.1 979.1 L659.1 973.6Z" fill="none" stroke="#000" stroke-width="3.2" stroke-linejoin="round"/><path d="M649.5 967.1 L683.1 951.5 L700.4 950.3 L725.2 959.5 L724.4 966.7 L690.8 982.3 L673.5 983.5 L648.7 974.3Z" fill="none" stroke="#000" stroke-width="2.6" stroke-linejoin="round"/><path d="M660.6 974.2 L696.6 969.9" fill="none" stroke="#000" stroke-width="2.8"/><path d="M696.6 953.4 L696.6 969.9" fill="none" stroke="#000" stroke-width="3.0"/><path d="M701.6 955.4 L701.6 971.9" fill="none" stroke="#000" stroke-width="2.6"/><path d="M696.6 969.9 L714.6 976.6" fill="none" stroke="#000" stroke-width="2.6"/><path d="M712.3 942.6 L784.0 909.4 L798.7 908.8 L813.8 914.3 L814.0 920.4 L742.4 953.7 L727.6 954.3 L712.6 948.8Z" fill="none" stroke="#000" stroke-width="3.2" stroke-linejoin="round"/><path d="M714.1 949.3 L795.4 924.1" fill="none" stroke="#000" stroke-width="2.8"/><path d="M795.4 907.6 L795.4 924.1" fill="none" stroke="#000" stroke-width="3.0"/><path d="M800.4 909.6 L800.4 926.1" fill="none" stroke="#000" stroke-width="2.6"/><path d="M795.4 924.1 L813.5 930.7" fill="none" stroke="#000" stroke-width="2.6"/><path d="M814.8 895.1 L904.6 853.4 L919.4 852.8 L934.4 858.3 L934.6 864.4 L844.8 906.1 L830.1 906.7 L815.1 901.2Z" fill="none" stroke="#000" stroke-width="3.2" stroke-linejoin="round"/><path d="M816.6 901.7 L916.1 868.1" fill="none" stroke="#000" stroke-width="2.8"/><path d="M916.1 851.6 L916.1 868.1" fill="none" stroke="#000" stroke-width="3.0"/><path d="M921.1 853.6 L921.1 870.1" fill="none" stroke="#000" stroke-width="2.6"/><path d="M916.1 868.1 L934.1 874.7" fill="none" stroke="#000" stroke-width="2.6"/><path d="M935.4 839.1 L961.7 826.9 L976.5 826.3 L991.5 831.8 L991.8 837.9 L965.5 850.1 L950.7 850.7 L935.7 845.2Z" fill="none" stroke="#000" stroke-width="3.2" stroke-linejoin="round"/><path d="M937.2 845.8 L973.2 841.5" fill="none" stroke="#000" stroke-width="2.8"/><path d="M973.2 825.0 L973.2 841.5" fill="none" stroke="#000" stroke-width="3.0"/><path d="M978.2 827.0 L978.2 843.5" fill="none" stroke="#000" stroke-width="2.6"/><path d="M973.2 841.5 L991.2 848.2" fill="none" stroke="#000" stroke-width="2.6"/><ellipse cx="1025.7" cy="809.7" rx="29.0" ry="14.0" fill="#fff" stroke="#000" stroke-width="2.8"/><ellipse cx="1026.7" cy="810.7" rx="22.0" ry="10.0" fill="#fff" stroke="#000" stroke-width="3.2"/><ellipse cx="1071.1" cy="788.6" rx="23.2" ry="11.2" fill="#fff" stroke="#000" stroke-width="2.8"/><ellipse cx="1072.1" cy="789.6" rx="17.6" ry="8.0" fill="#fff" stroke="#000" stroke-width="3.2"/><path d="M1088.7 767.9 L1115.0 755.7 L1129.8 755.1 L1144.8 760.6 L1145.1 766.8 L1118.8 779.0 L1104.0 779.6 L1089.0 774.1Z" fill="none" stroke="#000" stroke-width="3.2" stroke-linejoin="round"/><path d="M1090.5 774.6 L1126.5 770.4" fill="none" stroke="#000" stroke-width="2.8"/><path d="M1126.5 753.9 L1126.5 770.4" fill="none" stroke="#000" stroke-width="3.0"/><path d="M1131.5 755.9 L1131.5 772.4" fill="none" stroke="#000" stroke-width="2.6"/><path d="M1126.5 770.4 L1144.5 777.0" fill="none" stroke="#000" stroke-width="2.6"/><path d="M1151.3 738.9 L1223.0 705.6 L1237.7 705.0 L1252.7 710.5 L1253.0 716.7 L1181.3 749.9 L1166.6 750.5 L1151.6 745.0Z" fill="none" stroke="#000" stroke-width="3.2" stroke-linejoin="round"/><path d="M1142.0 738.5 L1221.0 701.9 L1238.3 700.7 L1263.1 709.8 L1262.3 717.1 L1183.3 753.7 L1166.0 754.8 L1141.2 745.7Z" fill="none" stroke="#000" stroke-width="2.6" stroke-linejoin="round"/><path d="M1153.1 745.6 L1234.4 720.3" fill="none" stroke="#000" stroke-width="2.8"/><path d="M1234.4 703.8 L1234.4 720.3" fill="none" stroke="#000" stroke-width="3.0"/><path d="M1239.4 705.8 L1239.4 722.3" fill="none" stroke="#000" stroke-width="2.6"/><path d="M1234.4 720.3 L1252.4 726.9" fill="none" stroke="#000" stroke-width="2.6"/><path d="M1250.2 693.0 L1290.1 674.5 L1304.8 673.9 L1319.9 679.4 L1320.1 685.5 L1280.2 704.0 L1265.4 704.6 L1250.4 699.1Z" fill="none" stroke="#000" stroke-width="3.2" stroke-linejoin="round"/><path d="M1251.9 699.7 L1301.5 689.1" fill="none" stroke="#000" stroke-width="2.8"/><path d="M1301.5 672.6 L1301.5 689.1" fill="none" stroke="#000" stroke-width="3.0"/><path d="M1306.5 674.6 L1306.5 691.1" fill="none" stroke="#000" stroke-width="2.6"/><path d="M1301.5 689.1 L1319.6 695.8" fill="none" stroke="#000" stroke-width="2.6"/><path d="M1317.3 661.8 L1370.8 637.0 L1385.6 636.4 L1400.6 641.9 L1400.8 648.0 L1347.3 672.9 L1332.6 673.5 L1317.5 668.0Z" fill="none" stroke="#000" stroke-width="3.2" stroke-linejoin="round"/><path d="M1319.0 668.5 L1382.3 651.7" fill="none" stroke="#000" stroke-width="2.8"/><path d="M1382.3 635.2 L1382.3 651.7" fill="none" stroke="#000" stroke-width="3.0"/><path d="M1387.3 637.2 L1387.3 653.7" fill="none" stroke="#000" stroke-width="2.6"/><path d="M1382.3 651.7 L1400.3 658.3" fill="none" stroke="#000" stroke-width="2.6"/><path d="M1401.6 622.7 L1441.5 604.2 L1456.3 603.5 L1471.3 609.1 L1471.6 615.2 L1431.7 633.7 L1416.9 634.3 L1401.9 628.8Z" fill="none" stroke="#000" stroke-width="3.2" stroke-linejoin="round"/><path d="M1392.4 622.3 L1439.5 600.4 L1456.9 599.2 L1481.7 608.3 L1480.8 615.6 L1433.7 637.5 L1416.3 638.7 L1391.6 629.5Z" fill="none" stroke="#000" stroke-width="2.6" stroke-linejoin="round"/><path d="M1403.4 629.4 L1453.0 618.8" fill="none" stroke="#000" stroke-width="2.8"/><path d="M1453.0 602.3 L1453.0 618.8" fill="none" stroke="#000" stroke-width="3.0"/><path d="M1458.0 604.3 L1458.0 620.8" fill="none" stroke="#000" stroke-width="2.6"/><path d="M1453.0 618.8 L1471.0 625.5" fill="none" stroke="#000" stroke-width="2.6"/><path d="M1477.8 587.3 L1549.5 554.1 L1564.2 553.4 L1579.3 559.0 L1579.5 565.1 L1507.9 598.4 L1493.1 599.0 L1478.1 593.4Z" fill="none" stroke="#000" stroke-width="3.2" stroke-linejoin="round"/><path d="M1479.6 594.0 L1560.9 568.7" fill="none" stroke="#000" stroke-width="2.8"/><path d="M1560.9 552.2 L1560.9 568.7" fill="none" stroke="#000" stroke-width="3.0"/><path d="M1565.9 554.2 L1565.9 570.7" fill="none" stroke="#000" stroke-width="2.6"/><path d="M1560.9 568.7 L1579.0 575.4" fill="none" stroke="#000" stroke-width="2.6"/><path d="M1576.7 541.4 L1648.3 508.2 L1663.1 507.6 L1678.1 513.1 L1678.4 519.2 L1606.7 552.5 L1592.0 553.1 L1576.9 547.6Z" fill="none" stroke="#000" stroke-width="3.2" stroke-linejoin="round"/><path d="M1567.4 541.0 L1646.3 504.4 L1663.7 503.2 L1688.4 512.4 L1687.6 519.6 L1608.7 556.2 L1591.4 557.4 L1566.6 548.3Z" fill="none" stroke="#000" stroke-width="2.6" stroke-linejoin="round"/><path d="M1578.4 548.1 L1659.8 522.8" fill="none" stroke="#000" stroke-width="2.8"/><path d="M1659.8 506.3 L1659.8 522.8" fill="none" stroke="#000" stroke-width="3.0"/><path d="M1664.8 508.3 L1664.8 524.8" fill="none" stroke="#000" stroke-width="2.6"/><path d="M1659.8 522.8 L1677.8 529.5" fill="none" stroke="#000" stroke-width="2.6"/><path d="M590.3 1034.4 L616.6 1022.2 L629.4 1020.9 L640.7 1025.1 L639.1 1030.5 L612.8 1042.7 L599.9 1044.0 L588.6 1039.9Z" fill="none" stroke="#000" stroke-width="3.2" stroke-linejoin="round"/><path d="M589.8 1040.3 L627.0 1032.4" fill="none" stroke="#000" stroke-width="2.8"/><path d="M627.0 1020.0 L627.0 1032.4" fill="none" stroke="#000" stroke-width="3.0"/><path d="M632.0 1022.0 L632.0 1034.4" fill="none" stroke="#000" stroke-width="2.6"/><path d="M627.0 1032.4 L640.5 1037.4" fill="none" stroke="#000" stroke-width="2.6"/><path d="M647.4 1007.9 L673.7 995.7 L686.6 994.4 L697.8 998.6 L696.2 1004.0 L669.9 1016.2 L657.0 1017.5 L645.8 1013.4Z" fill="none" stroke="#000" stroke-width="3.2" stroke-linejoin="round"/><path d="M646.9 1013.8 L684.1 1005.9" fill="none" stroke="#000" stroke-width="2.8"/><path d="M684.1 993.5 L684.1 1005.9" fill="none" stroke="#000" stroke-width="3.0"/><path d="M689.1 995.5 L689.1 1007.9" fill="none" stroke="#000" stroke-width="2.6"/><path d="M684.1 1005.9 L697.6 1010.8" fill="none" stroke="#000" stroke-width="2.6"/><path d="M704.5 981.4 L776.2 948.1 L789.1 946.8 L800.3 951.0 L798.7 956.4 L727.1 989.7 L714.2 991.0 L702.9 986.8Z" fill="none" stroke="#000" stroke-width="3.2" stroke-linejoin="round"/><path d="M704.0 987.2 L786.6 958.3" fill="none" stroke="#000" stroke-width="2.8"/><path d="M786.6 945.9 L786.6 958.3" fill="none" stroke="#000" stroke-width="3.0"/><path d="M791.6 947.9 L791.6 960.3" fill="none" stroke="#000" stroke-width="2.6"/><path d="M786.6 958.3 L800.1 963.3" fill="none" stroke="#000" stroke-width="2.6"/><path d="M812.5 931.3 L866.0 906.5 L878.9 905.2 L890.1 909.3 L888.5 914.7 L835.0 939.6 L822.1 940.9 L810.8 936.7Z" fill="none" stroke="#000" stroke-width="3.2" stroke-linejoin="round"/><path d="M812.0 937.1 L876.4 916.6" fill="none" stroke="#000" stroke-width="2.8"/><path d="M876.4 904.2 L876.4 916.6" fill="none" stroke="#000" stroke-width="3.0"/><path d="M881.4 906.2 L881.4 918.6" fill="none" stroke="#000" stroke-width="2.6"/><path d="M876.4 916.6 L889.9 921.6" fill="none" stroke="#000" stroke-width="2.6"/><path d="M902.3 889.6 L928.6 877.4 L941.4 876.1 L952.7 880.3 L951.1 885.7 L924.8 897.9 L911.9 899.2 L900.6 895.1Z" fill="none" stroke="#000" stroke-width="3.2" stroke-linejoin="round"/><path d="M901.8 895.5 L939.0 887.6" fill="none" stroke="#000" stroke-width="2.8"/><path d="M939.0 875.2 L939.0 887.6" fill="none" stroke="#000" stroke-width="3.0"/><path d="M944.0 877.2 L944.0 889.6" fill="none" stroke="#000" stroke-width="2.6"/><path d="M939.0 887.6 L952.5 892.5" fill="none" stroke="#000" stroke-width="2.6"/><path d="M959.4 863.1 L985.7 850.9 L998.6 849.6 L1009.9 853.7 L1008.2 859.2 L981.9 871.4 L969.0 872.7 L957.8 868.5Z" fill="none" stroke="#000" stroke-width="3.2" stroke-linejoin="round"/><path d="M958.9 868.9 L996.1 861.0" fill="none" stroke="#000" stroke-width="2.8"/><path d="M996.1 848.7 L996.1 861.0" fill="none" stroke="#000" stroke-width="3.0"/><path d="M1001.1 850.7 L1001.1 863.0" fill="none" stroke="#000" stroke-width="2.6"/><path d="M996.1 861.0 L1009.6 866.0" fill="none" stroke="#000" stroke-width="2.6"/><path d="M1016.5 836.6 L1070.1 811.7 L1082.9 810.4 L1094.2 814.6 L1092.6 820.0 L1039.1 844.9 L1026.2 846.2 L1014.9 842.0Z" fill="none" stroke="#000" stroke-width="3.2" stroke-linejoin="round"/><path d="M1016.0 842.4 L1080.5 821.9" fill="none" stroke="#000" stroke-width="2.8"/><path d="M1080.5 809.5 L1080.5 821.9" fill="none" stroke="#000" stroke-width="3.0"/><path d="M1085.5 811.5 L1085.5 823.9" fill="none" stroke="#000" stroke-width="2.6"/><path d="M1080.5 821.9 L1094.0 826.9" fill="none" stroke="#000" stroke-width="2.6"/><ellipse cx="1130.3" cy="793.1" rx="23.2" ry="11.2" fill="#fff" stroke="#000" stroke-width="2.8"/><ellipse cx="1131.3" cy="794.1" rx="17.6" ry="8.0" fill="#fff" stroke="#000" stroke-width="3.2"/><path d="M1151.7 773.8 L1191.6 755.3 L1204.5 754.0 L1215.7 758.2 L1214.1 763.6 L1174.2 782.1 L1161.3 783.4 L1150.1 779.3Z" fill="none" stroke="#000" stroke-width="3.2" stroke-linejoin="round"/><path d="M1142.4 773.5 L1189.6 751.6 L1205.4 749.8 L1225.7 757.3 L1223.4 764.0 L1176.2 785.9 L1160.4 787.6 L1140.1 780.1Z" fill="none" stroke="#000" stroke-width="2.6" stroke-linejoin="round"/><path d="M1151.2 779.7 L1202.0 765.5" fill="none" stroke="#000" stroke-width="2.8"/><path d="M1202.0 753.1 L1202.0 765.5" fill="none" stroke="#000" stroke-width="3.0"/><path d="M1207.0 755.1 L1207.0 767.5" fill="none" stroke="#000" stroke-width="2.6"/><path d="M1202.0 765.5 L1215.5 770.5" fill="none" stroke="#000" stroke-width="2.6"/><path d="M1222.4 741.0 L1262.3 722.5 L1275.2 721.2 L1286.5 725.3 L1284.9 730.8 L1245.0 749.3 L1232.1 750.6 L1220.8 746.4Z" fill="none" stroke="#000" stroke-width="3.2" stroke-linejoin="round"/><path d="M1221.9 746.9 L1272.7 732.6" fill="none" stroke="#000" stroke-width="2.8"/><path d="M1272.7 720.3 L1272.7 732.6" fill="none" stroke="#000" stroke-width="3.0"/><path d="M1277.7 722.3 L1277.7 734.6" fill="none" stroke="#000" stroke-width="2.6"/><path d="M1272.7 732.6 L1286.3 737.6" fill="none" stroke="#000" stroke-width="2.6"/><ellipse cx="1322.6" cy="703.9" rx="23.2" ry="11.2" fill="#fff" stroke="#000" stroke-width="2.8"/><ellipse cx="1323.6" cy="704.9" rx="17.6" ry="8.0" fill="#fff" stroke="#000" stroke-width="3.2"/><path d="M1344.0 684.6 L1397.5 659.7 L1410.4 658.5 L1421.6 662.6 L1420.0 668.0 L1366.5 692.9 L1353.6 694.2 L1342.3 690.0Z" fill="none" stroke="#000" stroke-width="3.2" stroke-linejoin="round"/><path d="M1343.5 690.4 L1407.9 669.9" fill="none" stroke="#000" stroke-width="2.8"/><path d="M1407.9 657.5 L1407.9 669.9" fill="none" stroke="#000" stroke-width="3.0"/><path d="M1412.9 659.5 L1412.9 671.9" fill="none" stroke="#000" stroke-width="2.6"/><path d="M1407.9 669.9 L1421.4 674.9" fill="none" stroke="#000" stroke-width="2.6"/><path d="M1433.8 642.9 L1505.4 609.6 L1518.3 608.4 L1529.6 612.5 L1527.9 617.9 L1456.3 651.2 L1443.4 652.5 L1432.1 648.3Z" fill="none" stroke="#000" stroke-width="3.2" stroke-linejoin="round"/><path d="M1424.5 642.5 L1503.4 605.9 L1519.2 604.2 L1539.5 611.6 L1537.2 618.3 L1458.3 655.0 L1442.5 656.7 L1422.2 649.2Z" fill="none" stroke="#000" stroke-width="2.6" stroke-linejoin="round"/><path d="M1433.3 648.8 L1515.8 619.8" fill="none" stroke="#000" stroke-width="2.8"/><path d="M1515.8 607.4 L1515.8 619.8" fill="none" stroke="#000" stroke-width="3.0"/><path d="M1520.8 609.4 L1520.8 621.8" fill="none" stroke="#000" stroke-width="2.6"/><path d="M1515.8 619.8 L1529.3 624.8" fill="none" stroke="#000" stroke-width="2.6"/><ellipse cx="1565.7" cy="591.1" rx="26.1" ry="12.6" fill="#fff" stroke="#000" stroke-width="2.8"/><ellipse cx="1566.7" cy="592.1" rx="19.8" ry="9.0" fill="#fff" stroke="#000" stroke-width="3.2"/><path d="M1587.0 571.8 L1613.3 559.6 L1626.2 558.3 L1637.5 562.4 L1635.9 567.8 L1609.6 580.0 L1596.7 581.3 L1585.4 577.2Z" fill="none" stroke="#000" stroke-width="3.2" stroke-linejoin="round"/><path d="M1577.8 571.4 L1611.3 555.8 L1627.2 554.1 L1647.4 561.5 L1645.1 568.2 L1611.6 583.8 L1595.7 585.5 L1575.5 578.1Z" fill="none" stroke="#000" stroke-width="2.6" stroke-linejoin="round"/><path d="M1586.5 577.6 L1623.8 569.7" fill="none" stroke="#000" stroke-width="2.8"/><path d="M1623.8 557.3 L1623.8 569.7" fill="none" stroke="#000" stroke-width="3.0"/><path d="M1628.8 559.3 L1628.8 571.7" fill="none" stroke="#000" stroke-width="2.6"/><path d="M1623.8 569.7 L1637.3 574.7" fill="none" stroke="#000" stroke-width="2.6"/><path d="M1644.2 545.2 L1734.0 503.6 L1746.9 502.3 L1758.1 506.4 L1756.5 511.8 L1666.7 553.5 L1653.8 554.8 L1642.6 550.7Z" fill="none" stroke="#000" stroke-width="3.2" stroke-linejoin="round"/><path d="M1643.7 551.1 L1744.4 513.7" fill="none" stroke="#000" stroke-width="2.8"/><path d="M1744.4 501.3 L1744.4 513.7" fill="none" stroke="#000" stroke-width="3.0"/><path d="M1749.4 503.3 L1749.4 515.7" fill="none" stroke="#000" stroke-width="2.6"/><path d="M1744.4 513.7 L1757.9 518.7" fill="none" stroke="#000" stroke-width="2.6"/><ellipse cx="682.7" cy="1038.4" rx="29.0" ry="14.0" fill="#fff" stroke="#000" stroke-width="2.8"/><ellipse cx="683.7" cy="1039.4" rx="22.0" ry="10.0" fill="#fff" stroke="#000" stroke-width="3.2"/><path d="M698.5 1017.0 L724.8 1004.8 L740.5 1004.5 L757.4 1010.7 L758.6 1017.2 L732.3 1029.4 L716.6 1029.7 L699.7 1023.5Z" fill="none" stroke="#000" stroke-width="3.2" stroke-linejoin="round"/><path d="M701.4 1024.1 L736.8 1021.7" fill="none" stroke="#000" stroke-width="2.8"/><path d="M736.8 1003.2 L736.8 1021.7" fill="none" stroke="#000" stroke-width="3.0"/><path d="M741.8 1005.2 L741.8 1023.7" fill="none" stroke="#000" stroke-width="2.6"/><path d="M736.8 1021.7 L757.0 1029.2" fill="none" stroke="#000" stroke-width="2.6"/><path d="M761.1 988.0 L832.7 954.7 L848.4 954.4 L865.3 960.6 L866.5 967.1 L794.8 1000.4 L779.1 1000.6 L762.3 994.4Z" fill="none" stroke="#000" stroke-width="3.2" stroke-linejoin="round"/><path d="M763.9 995.0 L844.7 971.6" fill="none" stroke="#000" stroke-width="2.8"/><path d="M844.7 953.1 L844.7 971.6" fill="none" stroke="#000" stroke-width="3.0"/><path d="M849.7 955.1 L849.7 973.6" fill="none" stroke="#000" stroke-width="2.6"/><path d="M844.7 971.6 L865.0 979.1" fill="none" stroke="#000" stroke-width="2.6"/><path d="M869.0 937.9 L895.3 925.6 L911.0 925.4 L927.9 931.6 L929.1 938.1 L902.8 950.3 L887.1 950.5 L870.2 944.3Z" fill="none" stroke="#000" stroke-width="3.2" stroke-linejoin="round"/><path d="M871.9 945.0 L907.3 942.6" fill="none" stroke="#000" stroke-width="2.8"/><path d="M907.3 924.0 L907.3 942.6" fill="none" stroke="#000" stroke-width="3.0"/><path d="M912.3 926.0 L912.3 944.6" fill="none" stroke="#000" stroke-width="2.6"/><path d="M907.3 942.6 L927.6 950.0" fill="none" stroke="#000" stroke-width="2.6"/><path d="M931.6 908.8 L1021.4 867.1 L1037.1 866.9 L1054.0 873.1 L1055.2 879.6 L965.4 921.2 L949.7 921.5 L932.8 915.3Z" fill="none" stroke="#000" stroke-width="3.2" stroke-linejoin="round"/><path d="M934.5 915.9 L1033.4 884.1" fill="none" stroke="#000" stroke-width="2.8"/><path d="M1033.4 865.5 L1033.4 884.1" fill="none" stroke="#000" stroke-width="3.0"/><path d="M1038.4 867.5 L1038.4 886.1" fill="none" stroke="#000" stroke-width="2.6"/><path d="M1033.4 884.1 L1053.6 891.5" fill="none" stroke="#000" stroke-width="2.6"/><path d="M1052.2 852.8 L1092.1 834.3 L1107.8 834.0 L1124.7 840.2 L1125.9 846.7 L1086.0 865.2 L1070.3 865.5 L1053.4 859.3Z" fill="none" stroke="#000" stroke-width="3.2" stroke-linejoin="round"/><path d="M1043.0 852.4 L1090.1 830.5 L1108.2 829.6 L1135.2 839.6 L1135.2 847.1 L1088.0 869.0 L1069.9 869.9 L1042.9 859.9Z" fill="none" stroke="#000" stroke-width="2.6" stroke-linejoin="round"/><path d="M1055.1 859.9 L1104.1 851.2" fill="none" stroke="#000" stroke-width="2.8"/><path d="M1104.1 832.7 L1104.1 851.2" fill="none" stroke="#000" stroke-width="3.0"/><path d="M1109.1 834.7 L1109.1 853.2" fill="none" stroke="#000" stroke-width="2.6"/><path d="M1104.1 851.2 L1124.4 858.7" fill="none" stroke="#000" stroke-width="2.6"/><path d="M1128.4 817.4 L1154.7 805.2 L1170.4 805.0 L1187.3 811.2 L1188.5 817.7 L1162.2 829.9 L1146.5 830.1 L1129.6 823.9Z" fill="none" stroke="#000" stroke-width="3.2" stroke-linejoin="round"/><path d="M1119.1 817.1 L1152.7 801.5 L1170.8 800.6 L1197.8 810.5 L1197.7 818.1 L1164.2 833.6 L1146.1 834.5 L1119.1 824.6Z" fill="none" stroke="#000" stroke-width="2.6" stroke-linejoin="round"/><path d="M1131.3 824.5 L1166.7 822.2" fill="none" stroke="#000" stroke-width="2.8"/><path d="M1166.7 803.6 L1166.7 822.2" fill="none" stroke="#000" stroke-width="3.0"/><path d="M1171.7 805.6 L1171.7 824.2" fill="none" stroke="#000" stroke-width="2.6"/><path d="M1166.7 822.2 L1187.0 829.6" fill="none" stroke="#000" stroke-width="2.6"/><path d="M1185.5 790.9 L1239.1 766.1 L1254.8 765.8 L1271.6 772.0 L1272.8 778.5 L1219.3 803.4 L1203.6 803.6 L1186.7 797.4Z" fill="none" stroke="#000" stroke-width="3.2" stroke-linejoin="round"/><path d="M1188.4 798.0 L1251.0 783.0" fill="none" stroke="#000" stroke-width="2.8"/><path d="M1251.0 764.5 L1251.0 783.0" fill="none" stroke="#000" stroke-width="3.0"/><path d="M1256.0 766.5 L1256.0 785.0" fill="none" stroke="#000" stroke-width="2.6"/><path d="M1251.0 783.0 L1271.3 790.5" fill="none" stroke="#000" stroke-width="2.6"/><path d="M1269.9 751.8 L1296.2 739.6 L1311.9 739.3 L1328.8 745.5 L1330.0 752.0 L1303.7 764.2 L1288.0 764.5 L1271.1 758.2Z" fill="none" stroke="#000" stroke-width="3.2" stroke-linejoin="round"/><path d="M1260.6 751.4 L1294.2 735.8 L1312.3 734.9 L1339.3 744.9 L1339.2 752.4 L1305.7 768.0 L1287.6 768.9 L1260.6 758.9Z" fill="none" stroke="#000" stroke-width="2.6" stroke-linejoin="round"/><path d="M1272.8 758.9 L1308.2 756.5" fill="none" stroke="#000" stroke-width="2.8"/><path d="M1308.2 737.9 L1308.2 756.5" fill="none" stroke="#000" stroke-width="3.0"/><path d="M1313.2 739.9 L1313.2 758.5" fill="none" stroke="#000" stroke-width="2.6"/><path d="M1308.2 756.5 L1328.5 763.9" fill="none" stroke="#000" stroke-width="2.6"/><ellipse cx="1353.0" cy="727.3" rx="26.1" ry="12.6" fill="#fff" stroke="#000" stroke-width="2.8"/><ellipse cx="1354.0" cy="728.3" rx="19.8" ry="9.0" fill="#fff" stroke="#000" stroke-width="3.2"/><path d="M1368.8 705.9 L1422.3 681.0 L1438.0 680.8 L1454.9 687.0 L1456.1 693.5 L1402.5 718.3 L1386.8 718.6 L1369.9 712.4Z" fill="none" stroke="#000" stroke-width="3.2" stroke-linejoin="round"/><path d="M1371.6 713.0 L1434.3 698.0" fill="none" stroke="#000" stroke-width="2.8"/><path d="M1434.3 679.4 L1434.3 698.0" fill="none" stroke="#000" stroke-width="3.0"/><path d="M1439.3 681.4 L1439.3 700.0" fill="none" stroke="#000" stroke-width="2.6"/><path d="M1434.3 698.0 L1454.5 705.4" fill="none" stroke="#000" stroke-width="2.6"/><path d="M1449.5 668.4 L1475.8 656.2 L1491.5 655.9 L1508.4 662.2 L1509.6 668.6 L1483.3 680.8 L1467.6 681.1 L1450.7 674.9Z" fill="none" stroke="#000" stroke-width="3.2" stroke-linejoin="round"/><path d="M1452.4 675.5 L1487.8 673.1" fill="none" stroke="#000" stroke-width="2.8"/><path d="M1487.8 654.6 L1487.8 673.1" fill="none" stroke="#000" stroke-width="3.0"/><path d="M1492.8 656.6 L1492.8 675.1" fill="none" stroke="#000" stroke-width="2.6"/><path d="M1487.8 673.1 L1508.0 680.6" fill="none" stroke="#000" stroke-width="2.6"/><path d="M1503.0 643.6 L1556.5 618.7 L1572.2 618.5 L1589.1 624.7 L1590.3 631.2 L1536.8 656.0 L1521.1 656.3 L1504.2 650.0Z" fill="none" stroke="#000" stroke-width="3.2" stroke-linejoin="round"/><path d="M1505.9 650.7 L1568.5 635.7" fill="none" stroke="#000" stroke-width="2.8"/><path d="M1568.5 617.1 L1568.5 635.7" fill="none" stroke="#000" stroke-width="3.0"/><path d="M1573.5 619.1 L1573.5 637.7" fill="none" stroke="#000" stroke-width="2.6"/><path d="M1568.5 635.7 L1588.8 643.1" fill="none" stroke="#000" stroke-width="2.6"/><path d="M1583.7 606.1 L1673.5 564.4 L1689.2 564.2 L1706.1 570.4 L1707.3 576.9 L1617.5 618.5 L1601.8 618.8 L1584.9 612.6Z" fill="none" stroke="#000" stroke-width="3.2" stroke-linejoin="round"/><path d="M1586.6 613.2 L1685.5 581.4" fill="none" stroke="#000" stroke-width="2.8"/><path d="M1685.5 562.8 L1685.5 581.4" fill="none" stroke="#000" stroke-width="3.0"/><path d="M1690.5 564.8 L1690.5 583.4" fill="none" stroke="#000" stroke-width="2.6"/><path d="M1685.5 581.4 L1705.8 588.8" fill="none" stroke="#000" stroke-width="2.6"/><path d="M702.4 1057.3 L728.7 1045.1 L743.5 1044.5 L758.5 1050.1 L758.8 1056.2 L732.5 1068.4 L717.7 1069.0 L702.7 1063.5Z" fill="none" stroke="#000" stroke-width="3.2" stroke-linejoin="round"/><path d="M704.2 1064.0 L740.2 1059.8" fill="none" stroke="#000" stroke-width="2.8"/><path d="M740.2 1043.3 L740.2 1059.8" fill="none" stroke="#000" stroke-width="3.0"/><path d="M745.2 1045.3 L745.2 1061.8" fill="none" stroke="#000" stroke-width="2.6"/><path d="M740.2 1059.8 L758.2 1066.4" fill="none" stroke="#000" stroke-width="2.6"/><path d="M759.6 1030.8 L813.1 1006.0 L827.8 1005.4 L842.9 1010.9 L843.1 1017.0 L789.6 1041.9 L774.8 1042.5 L759.8 1036.9Z" fill="none" stroke="#000" stroke-width="3.2" stroke-linejoin="round"/><path d="M761.3 1037.5 L824.5 1020.7" fill="none" stroke="#000" stroke-width="2.8"/><path d="M824.5 1004.2 L824.5 1020.7" fill="none" stroke="#000" stroke-width="3.0"/><path d="M829.5 1006.2 L829.5 1022.7" fill="none" stroke="#000" stroke-width="2.6"/><path d="M824.5 1020.7 L842.6 1027.3" fill="none" stroke="#000" stroke-width="2.6"/><path d="M849.4 989.1 L939.1 947.5 L953.9 946.9 L968.9 952.4 L969.2 958.5 L879.4 1000.2 L864.6 1000.8 L849.6 995.3Z" fill="none" stroke="#000" stroke-width="3.2" stroke-linejoin="round"/><path d="M851.1 995.8 L950.6 962.1" fill="none" stroke="#000" stroke-width="2.8"/><path d="M950.6 945.6 L950.6 962.1" fill="none" stroke="#000" stroke-width="3.0"/><path d="M955.6 947.6 L955.6 964.1" fill="none" stroke="#000" stroke-width="2.6"/><path d="M950.6 962.1 L968.6 968.8" fill="none" stroke="#000" stroke-width="2.6"/><path d="M975.4 930.6 L1047.1 897.4 L1061.8 896.8 L1076.9 902.3 L1077.1 908.4 L1005.5 941.7 L990.7 942.3 L975.7 936.8Z" fill="none" stroke="#000" stroke-width="3.2" stroke-linejoin="round"/><path d="M977.2 937.3 L1058.5 912.0" fill="none" stroke="#000" stroke-width="2.8"/><path d="M1058.5 895.5 L1058.5 912.0" fill="none" stroke="#000" stroke-width="3.0"/><path d="M1063.5 897.5 L1063.5 914.0" fill="none" stroke="#000" stroke-width="2.6"/><path d="M1058.5 912.0 L1076.6 918.7" fill="none" stroke="#000" stroke-width="2.6"/><path d="M1083.4 880.5 L1123.3 862.0 L1138.0 861.4 L1153.0 866.9 L1153.3 873.0 L1113.4 891.6 L1098.6 892.2 L1083.6 886.7Z" fill="none" stroke="#000" stroke-width="3.2" stroke-linejoin="round"/><path d="M1085.1 887.2 L1134.7 876.7" fill="none" stroke="#000" stroke-width="2.8"/><path d="M1134.7 860.2 L1134.7 876.7" fill="none" stroke="#000" stroke-width="3.0"/><path d="M1139.7 862.2 L1139.7 878.7" fill="none" stroke="#000" stroke-width="2.6"/><path d="M1134.7 876.7 L1152.7 883.3" fill="none" stroke="#000" stroke-width="2.6"/><path d="M1159.5 845.2 L1231.2 811.9 L1246.0 811.3 L1261.0 816.8 L1261.2 822.9 L1189.6 856.2 L1174.8 856.8 L1159.8 851.3Z" fill="none" stroke="#000" stroke-width="3.2" stroke-linejoin="round"/><path d="M1150.3 844.8 L1229.2 808.1 L1246.5 807.0 L1271.3 816.1 L1270.5 823.3 L1191.6 860.0 L1174.3 861.1 L1149.5 852.0Z" fill="none" stroke="#000" stroke-width="2.6" stroke-linejoin="round"/><path d="M1161.3 851.8 L1242.7 826.6" fill="none" stroke="#000" stroke-width="2.8"/><path d="M1242.7 810.1 L1242.7 826.6" fill="none" stroke="#000" stroke-width="3.0"/><path d="M1247.7 812.1 L1247.7 828.6" fill="none" stroke="#000" stroke-width="2.6"/><path d="M1242.7 826.6 L1260.7 833.2" fill="none" stroke="#000" stroke-width="2.6"/><ellipse cx="1295.2" cy="794.7" rx="23.2" ry="11.2" fill="#fff" stroke="#000" stroke-width="2.8"/><ellipse cx="1296.2" cy="795.7" rx="17.6" ry="8.0" fill="#fff" stroke="#000" stroke-width="3.2"/><path d="M1312.8 774.0 L1339.1 761.8 L1353.9 761.2 L1368.9 766.7 L1369.2 772.8 L1342.9 785.1 L1328.1 785.7 L1313.1 780.1Z" fill="none" stroke="#000" stroke-width="3.2" stroke-linejoin="round"/><path d="M1314.6 780.7 L1350.6 776.5" fill="none" stroke="#000" stroke-width="2.8"/><path d="M1350.6 760.0 L1350.6 776.5" fill="none" stroke="#000" stroke-width="3.0"/><path d="M1355.6 762.0 L1355.6 778.5" fill="none" stroke="#000" stroke-width="2.6"/><path d="M1350.6 776.5 L1368.6 783.1" fill="none" stroke="#000" stroke-width="2.6"/><path d="M1366.3 749.2 L1438.0 715.9 L1452.8 715.3 L1467.8 720.8 L1468.0 727.0 L1396.4 760.2 L1381.6 760.8 L1366.6 755.3Z" fill="none" stroke="#000" stroke-width="3.2" stroke-linejoin="round"/><path d="M1368.1 755.9 L1449.5 730.6" fill="none" stroke="#000" stroke-width="2.8"/><path d="M1449.5 714.1 L1449.5 730.6" fill="none" stroke="#000" stroke-width="3.0"/><path d="M1454.5 716.1 L1454.5 732.6" fill="none" stroke="#000" stroke-width="2.6"/><path d="M1449.5 730.6 L1467.5 737.2" fill="none" stroke="#000" stroke-width="2.6"/><ellipse cx="1502.0" cy="698.7" rx="23.2" ry="11.2" fill="#fff" stroke="#000" stroke-width="2.8"/><ellipse cx="1503.0" cy="699.7" rx="17.6" ry="8.0" fill="#fff" stroke="#000" stroke-width="3.2"/><path d="M1519.6 678.0 L1545.9 665.8 L1560.7 665.2 L1575.7 670.7 L1576.0 676.9 L1549.7 689.1 L1534.9 689.7 L1519.9 684.2Z" fill="none" stroke="#000" stroke-width="3.2" stroke-linejoin="round"/><path d="M1521.4 684.7 L1557.4 680.5" fill="none" stroke="#000" stroke-width="2.8"/><path d="M1557.4 664.0 L1557.4 680.5" fill="none" stroke="#000" stroke-width="3.0"/><path d="M1562.4 666.0 L1562.4 682.5" fill="none" stroke="#000" stroke-width="2.6"/><path d="M1557.4 680.5 L1575.4 687.1" fill="none" stroke="#000" stroke-width="2.6"/><path d="M1576.8 651.5 L1648.4 618.2 L1663.2 617.6 L1678.2 623.2 L1678.5 629.3 L1606.8 662.5 L1592.0 663.2 L1577.0 657.6Z" fill="none" stroke="#000" stroke-width="3.2" stroke-linejoin="round"/><path d="M1567.5 651.1 L1646.4 614.5 L1663.7 613.3 L1688.5 622.4 L1687.7 629.7 L1608.8 666.3 L1591.5 667.5 L1566.7 658.4Z" fill="none" stroke="#000" stroke-width="2.6" stroke-linejoin="round"/><path d="M1578.5 658.2 L1659.9 632.9" fill="none" stroke="#000" stroke-width="2.8"/><path d="M1659.9 616.4 L1659.9 632.9" fill="none" stroke="#000" stroke-width="3.0"/><path d="M1664.9 618.4 L1664.9 634.9" fill="none" stroke="#000" stroke-width="2.6"/><path d="M1659.9 632.9 L1677.9 639.5" fill="none" stroke="#000" stroke-width="2.6"/><path d="M1679.3 603.9 L1732.8 579.1 L1747.5 578.5 L1762.6 584.0 L1762.8 590.1 L1709.3 615.0 L1694.5 615.6 L1679.5 610.1Z" fill="none" stroke="#000" stroke-width="3.2" stroke-linejoin="round"/><path d="M1681.0 610.6 L1744.2 593.8" fill="none" stroke="#000" stroke-width="2.8"/><path d="M1744.2 577.3 L1744.2 593.8" fill="none" stroke="#000" stroke-width="3.0"/><path d="M1749.2 579.3 L1749.2 595.8" fill="none" stroke="#000" stroke-width="2.6"/><path d="M1744.2 593.8 L1762.3 600.4" fill="none" stroke="#000" stroke-width="2.6"/><path d="M726.6 1085.2 L752.9 1073.0 L766.7 1072.0 L779.8 1076.9 L779.1 1082.6 L752.8 1094.8 L739.0 1095.8 L725.9 1091.0Z" fill="none" stroke="#000" stroke-width="3.2" stroke-linejoin="round"/><path d="M727.2 1091.4 L763.8 1085.4" fill="none" stroke="#000" stroke-width="2.8"/><path d="M763.8 1071.0 L763.8 1085.4" fill="none" stroke="#000" stroke-width="3.0"/><path d="M768.8 1073.0 L768.8 1087.4" fill="none" stroke="#000" stroke-width="2.6"/><path d="M763.8 1085.4 L779.6 1091.2" fill="none" stroke="#000" stroke-width="2.6"/><path d="M780.1 1060.3 L806.4 1048.1 L820.2 1047.2 L833.3 1052.0 L832.7 1057.8 L806.4 1070.0 L792.5 1071.0 L779.4 1066.1Z" fill="none" stroke="#000" stroke-width="3.2" stroke-linejoin="round"/><path d="M770.8 1060.0 L804.4 1044.4 L821.0 1042.9 L843.5 1051.2 L841.9 1058.2 L808.4 1073.8 L791.8 1075.2 L769.3 1066.9Z" fill="none" stroke="#000" stroke-width="2.6" stroke-linejoin="round"/><path d="M780.7 1066.6 L817.3 1060.6" fill="none" stroke="#000" stroke-width="2.8"/><path d="M817.3 1046.1 L817.3 1060.6" fill="none" stroke="#000" stroke-width="3.0"/><path d="M822.3 1048.1 L822.3 1062.6" fill="none" stroke="#000" stroke-width="2.6"/><path d="M817.3 1060.6 L833.1 1066.4" fill="none" stroke="#000" stroke-width="2.6"/><path d="M833.6 1035.5 L887.1 1010.7 L900.9 1009.7 L914.1 1014.5 L913.4 1020.3 L859.9 1045.2 L846.0 1046.1 L832.9 1041.3Z" fill="none" stroke="#000" stroke-width="3.2" stroke-linejoin="round"/><path d="M824.3 1035.1 L885.1 1006.9 L901.7 1005.5 L924.2 1013.7 L922.6 1020.7 L861.9 1048.9 L845.3 1050.4 L822.8 1042.1Z" fill="none" stroke="#000" stroke-width="2.6" stroke-linejoin="round"/><path d="M834.2 1041.8 L898.0 1023.1" fill="none" stroke="#000" stroke-width="2.8"/><path d="M898.0 1008.6 L898.0 1023.1" fill="none" stroke="#000" stroke-width="3.0"/><path d="M903.0 1010.6 L903.0 1025.1" fill="none" stroke="#000" stroke-width="2.6"/><path d="M898.0 1023.1 L913.8 1028.9" fill="none" stroke="#000" stroke-width="2.6"/><path d="M917.9 996.3 L989.6 963.1 L1003.4 962.1 L1016.6 967.0 L1015.9 972.8 L944.2 1006.0 L930.4 1007.0 L917.3 1002.1Z" fill="none" stroke="#000" stroke-width="3.2" stroke-linejoin="round"/><path d="M908.7 996.0 L987.6 959.3 L1004.2 957.9 L1026.7 966.2 L1025.1 973.1 L946.2 1009.8 L929.6 1011.2 L907.1 1002.9Z" fill="none" stroke="#000" stroke-width="2.6" stroke-linejoin="round"/><path d="M918.6 1002.6 L1000.5 975.5" fill="none" stroke="#000" stroke-width="2.8"/><path d="M1000.5 961.1 L1000.5 975.5" fill="none" stroke="#000" stroke-width="3.0"/><path d="M1005.5 963.1 L1005.5 977.5" fill="none" stroke="#000" stroke-width="2.6"/><path d="M1000.5 975.5 L1016.3 981.3" fill="none" stroke="#000" stroke-width="2.6"/><path d="M1025.9 946.3 L1115.7 904.6 L1129.5 903.6 L1142.6 908.5 L1141.9 914.2 L1052.2 955.9 L1038.3 956.9 L1025.2 952.0Z" fill="none" stroke="#000" stroke-width="3.2" stroke-linejoin="round"/><path d="M1026.5 952.5 L1126.6 917.0" fill="none" stroke="#000" stroke-width="2.8"/><path d="M1126.6 902.6 L1126.6 917.0" fill="none" stroke="#000" stroke-width="3.0"/><path d="M1131.6 904.6 L1131.6 919.0" fill="none" stroke="#000" stroke-width="2.6"/><path d="M1126.6 917.0 L1142.4 922.8" fill="none" stroke="#000" stroke-width="2.6"/><path d="M1151.9 887.7 L1241.7 846.1 L1255.6 845.1 L1268.7 849.9 L1268.0 855.7 L1178.2 897.4 L1164.4 898.4 L1151.3 893.5Z" fill="none" stroke="#000" stroke-width="3.2" stroke-linejoin="round"/><path d="M1152.6 894.0 L1252.7 858.5" fill="none" stroke="#000" stroke-width="2.8"/><path d="M1252.7 844.0 L1252.7 858.5" fill="none" stroke="#000" stroke-width="3.0"/><path d="M1257.7 846.0 L1257.7 860.5" fill="none" stroke="#000" stroke-width="2.6"/><path d="M1252.7 858.5 L1268.4 864.3" fill="none" stroke="#000" stroke-width="2.6"/><path d="M1269.0 833.4 L1340.6 800.2 L1354.4 799.2 L1367.6 804.0 L1366.9 809.8 L1295.2 843.1 L1281.4 844.0 L1268.3 839.2Z" fill="none" stroke="#000" stroke-width="3.2" stroke-linejoin="round"/><path d="M1269.6 839.7 L1351.5 812.6" fill="none" stroke="#000" stroke-width="2.8"/><path d="M1351.5 798.1 L1351.5 812.6" fill="none" stroke="#000" stroke-width="3.0"/><path d="M1356.5 800.1 L1356.5 814.6" fill="none" stroke="#000" stroke-width="2.6"/><path d="M1351.5 812.6 L1367.3 818.4" fill="none" stroke="#000" stroke-width="2.6"/><ellipse cx="1402.7" cy="782.3" rx="23.2" ry="11.2" fill="#fff" stroke="#000" stroke-width="2.8"/><ellipse cx="1403.7" cy="783.3" rx="17.6" ry="8.0" fill="#fff" stroke="#000" stroke-width="3.2"/><path d="M1422.2 762.3 L1512.0 720.6 L1525.9 719.6 L1539.0 724.5 L1538.3 730.3 L1448.5 771.9 L1434.7 772.9 L1421.5 768.1Z" fill="none" stroke="#000" stroke-width="3.2" stroke-linejoin="round"/><path d="M1422.9 768.5 L1523.0 733.0" fill="none" stroke="#000" stroke-width="2.8"/><path d="M1523.0 718.6 L1523.0 733.0" fill="none" stroke="#000" stroke-width="3.0"/><path d="M1528.0 720.6 L1528.0 735.0" fill="none" stroke="#000" stroke-width="2.6"/><path d="M1523.0 733.0 L1538.7 738.8" fill="none" stroke="#000" stroke-width="2.6"/><path d="M1548.3 703.8 L1638.1 662.1 L1651.9 661.1 L1665.1 666.0 L1664.4 671.7 L1574.6 713.4 L1560.8 714.4 L1547.6 709.5Z" fill="none" stroke="#000" stroke-width="3.2" stroke-linejoin="round"/><path d="M1548.9 710.0 L1649.0 674.5" fill="none" stroke="#000" stroke-width="2.8"/><path d="M1649.0 660.1 L1649.0 674.5" fill="none" stroke="#000" stroke-width="3.0"/><path d="M1654.0 662.1 L1654.0 676.5" fill="none" stroke="#000" stroke-width="2.6"/><path d="M1649.0 674.5 L1664.8 680.3" fill="none" stroke="#000" stroke-width="2.6"/><path d="M1665.3 649.4 L1718.8 624.6 L1732.7 623.7 L1745.8 628.5 L1745.1 634.3 L1691.6 659.1 L1677.8 660.1 L1664.6 655.2Z" fill="none" stroke="#000" stroke-width="3.2" stroke-linejoin="round"/><path d="M1665.9 655.7 L1729.8 637.0" fill="none" stroke="#000" stroke-width="2.8"/><path d="M1729.8 622.6 L1729.8 637.0" fill="none" stroke="#000" stroke-width="3.0"/><path d="M1734.8 624.6 L1734.8 639.0" fill="none" stroke="#000" stroke-width="2.6"/><path d="M1729.8 637.0 L1745.5 642.8" fill="none" stroke="#000" stroke-width="2.6"/><path d="M1749.7 610.3 L1789.6 591.8 L1803.4 590.8 L1816.5 595.7 L1815.8 601.4 L1775.9 620.0 L1762.1 620.9 L1749.0 616.1Z" fill="none" stroke="#000" stroke-width="3.2" stroke-linejoin="round"/><path d="M1740.4 609.9 L1787.6 588.0 L1804.1 586.6 L1826.7 594.9 L1825.1 601.8 L1777.9 623.7 L1761.4 625.2 L1738.8 616.9Z" fill="none" stroke="#000" stroke-width="2.6" stroke-linejoin="round"/><path d="M1750.3 616.6 L1800.5 604.2" fill="none" stroke="#000" stroke-width="2.8"/><path d="M1800.5 589.8 L1800.5 604.2" fill="none" stroke="#000" stroke-width="3.0"/><path d="M1805.5 591.8 L1805.5 606.2" fill="none" stroke="#000" stroke-width="2.6"/><path d="M1800.5 604.2 L1816.3 610.0" fill="none" stroke="#000" stroke-width="2.6"/><ellipse cx="810.2" cy="1087.7" rx="23.2" ry="11.2" fill="#fff" stroke="#000" stroke-width="2.8"/><ellipse cx="811.2" cy="1088.7" rx="17.6" ry="8.0" fill="#fff" stroke="#000" stroke-width="3.2"/><path d="M831.6 1068.4 L857.9 1056.2 L870.8 1054.9 L882.1 1059.1 L880.5 1064.5 L854.2 1076.7 L841.3 1078.0 L830.0 1073.9Z" fill="none" stroke="#000" stroke-width="3.2" stroke-linejoin="round"/><path d="M831.1 1074.3 L868.3 1066.4" fill="none" stroke="#000" stroke-width="2.8"/><path d="M868.3 1054.0 L868.3 1066.4" fill="none" stroke="#000" stroke-width="3.0"/><path d="M873.3 1056.0 L873.3 1068.4" fill="none" stroke="#000" stroke-width="2.6"/><path d="M868.3 1066.4 L881.9 1071.4" fill="none" stroke="#000" stroke-width="2.6"/><path d="M888.8 1041.9 L928.7 1023.4 L941.6 1022.1 L952.8 1026.2 L951.2 1031.7 L911.3 1050.2 L898.4 1051.5 L887.1 1047.3Z" fill="none" stroke="#000" stroke-width="3.2" stroke-linejoin="round"/><path d="M879.5 1041.5 L926.7 1019.6 L942.5 1017.9 L962.8 1025.4 L960.5 1032.1 L913.3 1054.0 L897.5 1055.7 L877.2 1048.2Z" fill="none" stroke="#000" stroke-width="2.6" stroke-linejoin="round"/><path d="M888.3 1047.8 L939.1 1033.5" fill="none" stroke="#000" stroke-width="2.8"/><path d="M939.1 1021.2 L939.1 1033.5" fill="none" stroke="#000" stroke-width="3.0"/><path d="M944.1 1023.2 L944.1 1035.5" fill="none" stroke="#000" stroke-width="2.6"/><path d="M939.1 1033.5 L952.6 1038.5" fill="none" stroke="#000" stroke-width="2.6"/><path d="M965.0 1006.5 L991.3 994.3 L1004.1 993.0 L1015.4 997.2 L1013.8 1002.6 L987.5 1014.8 L974.6 1016.1 L963.3 1012.0Z" fill="none" stroke="#000" stroke-width="3.2" stroke-linejoin="round"/><path d="M955.7 1006.2 L989.3 990.6 L1005.1 988.9 L1025.4 996.3 L1023.0 1003.0 L989.5 1018.6 L973.7 1020.3 L953.4 1012.9Z" fill="none" stroke="#000" stroke-width="2.6" stroke-linejoin="round"/><path d="M964.5 1012.4 L1001.7 1004.5" fill="none" stroke="#000" stroke-width="2.8"/><path d="M1001.7 992.1 L1001.7 1004.5" fill="none" stroke="#000" stroke-width="3.0"/><path d="M1006.7 994.1 L1006.7 1006.5" fill="none" stroke="#000" stroke-width="2.6"/><path d="M1001.7 1004.5 L1015.2 1009.5" fill="none" stroke="#000" stroke-width="2.6"/><path d="M1027.5 977.5 L1081.1 952.7 L1093.9 951.4 L1105.2 955.5 L1103.6 960.9 L1050.1 985.8 L1037.2 987.1 L1025.9 982.9Z" fill="none" stroke="#000" stroke-width="3.2" stroke-linejoin="round"/><path d="M1018.3 977.1 L1079.1 948.9 L1094.9 947.2 L1115.1 954.6 L1112.8 961.3 L1052.1 989.5 L1036.2 991.3 L1016.0 983.8Z" fill="none" stroke="#000" stroke-width="2.6" stroke-linejoin="round"/><path d="M1027.0 983.3 L1091.5 962.8" fill="none" stroke="#000" stroke-width="2.8"/><path d="M1091.5 950.4 L1091.5 962.8" fill="none" stroke="#000" stroke-width="3.0"/><path d="M1096.5 952.4 L1096.5 964.8" fill="none" stroke="#000" stroke-width="2.6"/><path d="M1091.5 962.8 L1105.0 967.8" fill="none" stroke="#000" stroke-width="2.6"/><path d="M1117.3 935.8 L1170.8 911.0 L1183.7 909.7 L1195.0 913.8 L1193.4 919.3 L1139.9 944.1 L1127.0 945.4 L1115.7 941.3Z" fill="none" stroke="#000" stroke-width="3.2" stroke-linejoin="round"/><path d="M1116.8 941.7 L1181.3 921.1" fill="none" stroke="#000" stroke-width="2.8"/><path d="M1181.3 908.8 L1181.3 921.1" fill="none" stroke="#000" stroke-width="3.0"/><path d="M1186.3 910.8 L1186.3 923.1" fill="none" stroke="#000" stroke-width="2.6"/><path d="M1181.3 921.1 L1194.8 926.1" fill="none" stroke="#000" stroke-width="2.6"/><path d="M1207.1 894.1 L1233.4 881.9 L1246.3 880.6 L1257.6 884.8 L1256.0 890.2 L1229.7 902.4 L1216.8 903.7 L1205.5 899.6Z" fill="none" stroke="#000" stroke-width="3.2" stroke-linejoin="round"/><path d="M1206.6 900.0 L1243.8 892.1" fill="none" stroke="#000" stroke-width="2.8"/><path d="M1243.8 879.7 L1243.8 892.1" fill="none" stroke="#000" stroke-width="3.0"/><path d="M1248.8 881.7 L1248.8 894.1" fill="none" stroke="#000" stroke-width="2.6"/><path d="M1243.8 892.1 L1257.4 897.1" fill="none" stroke="#000" stroke-width="2.6"/><ellipse cx="1284.6" cy="867.5" rx="29.0" ry="14.0" fill="#fff" stroke="#000" stroke-width="2.8"/><ellipse cx="1285.6" cy="868.5" rx="22.0" ry="10.0" fill="#fff" stroke="#000" stroke-width="3.2"/><path d="M1306.0 848.2 L1395.8 806.6 L1408.7 805.3 L1419.9 809.4 L1418.3 814.9 L1328.5 856.5 L1315.6 857.8 L1304.4 853.7Z" fill="none" stroke="#000" stroke-width="3.2" stroke-linejoin="round"/><path d="M1305.5 854.1 L1406.2 816.7" fill="none" stroke="#000" stroke-width="2.8"/><path d="M1406.2 804.4 L1406.2 816.7" fill="none" stroke="#000" stroke-width="3.0"/><path d="M1411.2 806.4 L1411.2 818.7" fill="none" stroke="#000" stroke-width="2.6"/><path d="M1406.2 816.7 L1419.7 821.7" fill="none" stroke="#000" stroke-width="2.6"/><path d="M1423.0 793.9 L1462.9 775.4 L1475.8 774.1 L1487.0 778.3 L1485.4 783.7 L1445.5 802.2 L1432.6 803.5 L1421.4 799.4Z" fill="none" stroke="#000" stroke-width="3.2" stroke-linejoin="round"/><path d="M1413.7 793.6 L1460.9 771.7 L1476.7 769.9 L1497.0 777.4 L1494.7 784.1 L1447.5 806.0 L1431.7 807.7 L1411.4 800.2Z" fill="none" stroke="#000" stroke-width="2.6" stroke-linejoin="round"/><path d="M1422.5 799.8 L1473.3 785.6" fill="none" stroke="#000" stroke-width="2.8"/><path d="M1473.3 773.2 L1473.3 785.6" fill="none" stroke="#000" stroke-width="3.0"/><path d="M1478.3 775.2 L1478.3 787.6" fill="none" stroke="#000" stroke-width="2.6"/><path d="M1473.3 785.6 L1486.8 790.6" fill="none" stroke="#000" stroke-width="2.6"/><path d="M1490.1 762.8 L1516.4 750.6 L1529.3 749.3 L1540.6 753.4 L1538.9 758.9 L1512.6 771.1 L1499.7 772.4 L1488.5 768.2Z" fill="none" stroke="#000" stroke-width="3.2" stroke-linejoin="round"/><path d="M1489.6 768.6 L1526.8 760.7" fill="none" stroke="#000" stroke-width="2.8"/><path d="M1526.8 748.4 L1526.8 760.7" fill="none" stroke="#000" stroke-width="3.0"/><path d="M1531.8 750.4 L1531.8 762.7" fill="none" stroke="#000" stroke-width="2.6"/><path d="M1526.8 760.7 L1540.3 765.7" fill="none" stroke="#000" stroke-width="2.6"/><path d="M1543.6 737.9 L1615.3 704.7 L1628.2 703.4 L1639.4 707.5 L1637.8 713.0 L1566.1 746.2 L1553.3 747.5 L1542.0 743.4Z" fill="none" stroke="#000" stroke-width="3.2" stroke-linejoin="round"/><path d="M1534.4 737.6 L1613.3 700.9 L1629.1 699.2 L1649.4 706.7 L1647.1 713.4 L1568.2 750.0 L1552.3 751.7 L1532.1 744.3Z" fill="none" stroke="#000" stroke-width="2.6" stroke-linejoin="round"/><path d="M1543.1 743.8 L1625.7 714.9" fill="none" stroke="#000" stroke-width="2.8"/><path d="M1625.7 702.5 L1625.7 714.9" fill="none" stroke="#000" stroke-width="3.0"/><path d="M1630.7 704.5 L1630.7 716.9" fill="none" stroke="#000" stroke-width="2.6"/><path d="M1625.7 714.9 L1639.2 719.8" fill="none" stroke="#000" stroke-width="2.6"/><path d="M1642.5 692.1 L1714.1 658.8 L1727.0 657.5 L1738.3 661.6 L1736.7 667.1 L1665.0 700.3 L1652.1 701.6 L1640.9 697.5Z" fill="none" stroke="#000" stroke-width="3.2" stroke-linejoin="round"/><path d="M1642.0 697.9 L1724.5 669.0" fill="none" stroke="#000" stroke-width="2.8"/><path d="M1724.5 656.6 L1724.5 669.0" fill="none" stroke="#000" stroke-width="3.0"/><path d="M1729.5 658.6 L1729.5 671.0" fill="none" stroke="#000" stroke-width="2.6"/><path d="M1724.5 669.0 L1738.1 673.9" fill="none" stroke="#000" stroke-width="2.6"/><path d="M1745.0 644.5 L1834.8 602.8 L1847.7 601.5 L1858.9 605.7 L1857.3 611.1 L1767.5 652.8 L1754.6 654.1 L1743.4 649.9Z" fill="none" stroke="#000" stroke-width="3.2" stroke-linejoin="round"/><path d="M1744.5 650.3 L1845.2 613.0" fill="none" stroke="#000" stroke-width="2.8"/><path d="M1845.2 600.6 L1845.2 613.0" fill="none" stroke="#000" stroke-width="3.0"/><path d="M1850.2 602.6 L1850.2 615.0" fill="none" stroke="#000" stroke-width="2.6"/><path d="M1845.2 613.0 L1858.7 617.9" fill="none" stroke="#000" stroke-width="2.6"/><path d="M824.5 1104.5 L896.1 1071.3 L908.1 1069.6 L917.5 1073.1 L914.9 1078.2 L843.2 1111.5 L831.3 1113.1 L821.9 1109.6Z" fill="none" stroke="#000" stroke-width="3.2" stroke-linejoin="round"/><path d="M822.9 1110.0 L906.0 1079.2" fill="none" stroke="#000" stroke-width="2.8"/><path d="M906.0 1068.9 L906.0 1079.2" fill="none" stroke="#000" stroke-width="3.0"/><path d="M911.0 1070.9 L911.0 1081.2" fill="none" stroke="#000" stroke-width="2.6"/><path d="M906.0 1079.2 L917.3 1083.3" fill="none" stroke="#000" stroke-width="2.6"/><path d="M927.0 1057.0 L966.9 1038.5 L978.8 1036.8 L988.2 1040.3 L985.6 1045.4 L945.7 1063.9 L933.8 1065.5 L924.4 1062.1Z" fill="none" stroke="#000" stroke-width="3.2" stroke-linejoin="round"/><path d="M925.3 1062.4 L976.8 1046.4" fill="none" stroke="#000" stroke-width="2.8"/><path d="M976.8 1036.1 L976.8 1046.4" fill="none" stroke="#000" stroke-width="3.0"/><path d="M981.8 1038.1 L981.8 1048.4" fill="none" stroke="#000" stroke-width="2.6"/><path d="M976.8 1046.4 L988.0 1050.5" fill="none" stroke="#000" stroke-width="2.6"/><path d="M994.1 1025.8 L1020.4 1013.6 L1032.3 1012.0 L1041.7 1015.4 L1039.2 1020.5 L1012.9 1032.7 L1000.9 1034.4 L991.5 1030.9Z" fill="none" stroke="#000" stroke-width="3.2" stroke-linejoin="round"/><path d="M984.8 1025.4 L1018.4 1009.9 L1033.5 1007.9 L1051.5 1014.5 L1048.4 1020.9 L1014.9 1036.5 L999.8 1038.5 L981.8 1031.9Z" fill="none" stroke="#000" stroke-width="2.6" stroke-linejoin="round"/><path d="M992.5 1031.3 L1030.3 1021.5" fill="none" stroke="#000" stroke-width="2.8"/><path d="M1030.3 1011.2 L1030.3 1021.5" fill="none" stroke="#000" stroke-width="3.0"/><path d="M1035.3 1013.2 L1035.3 1023.5" fill="none" stroke="#000" stroke-width="2.6"/><path d="M1030.3 1021.5 L1041.5 1025.7" fill="none" stroke="#000" stroke-width="2.6"/><path d="M1047.6 1001.0 L1119.3 967.7 L1131.2 966.1 L1140.6 969.5 L1138.0 974.6 L1066.4 1007.9 L1054.4 1009.5 L1045.0 1006.1Z" fill="none" stroke="#000" stroke-width="3.2" stroke-linejoin="round"/><path d="M1046.0 1006.4 L1129.1 975.6" fill="none" stroke="#000" stroke-width="2.8"/><path d="M1129.1 965.3 L1129.1 975.6" fill="none" stroke="#000" stroke-width="3.0"/><path d="M1134.1 967.3 L1134.1 977.6" fill="none" stroke="#000" stroke-width="2.6"/><path d="M1129.1 975.6 L1140.4 979.8" fill="none" stroke="#000" stroke-width="2.6"/><path d="M1146.5 955.1 L1200.0 930.3 L1211.9 928.6 L1221.3 932.1 L1218.7 937.2 L1165.2 962.0 L1153.3 963.6 L1143.9 960.2Z" fill="none" stroke="#000" stroke-width="3.2" stroke-linejoin="round"/><path d="M1144.8 960.5 L1209.9 938.2" fill="none" stroke="#000" stroke-width="2.8"/><path d="M1209.9 927.9 L1209.9 938.2" fill="none" stroke="#000" stroke-width="3.0"/><path d="M1214.9 929.9 L1214.9 940.2" fill="none" stroke="#000" stroke-width="2.6"/><path d="M1209.9 938.2 L1221.1 942.3" fill="none" stroke="#000" stroke-width="2.6"/><path d="M1230.8 915.9 L1257.1 903.7 L1269.1 902.1 L1278.5 905.5 L1275.9 910.6 L1249.6 922.8 L1237.6 924.5 L1228.3 921.0Z" fill="none" stroke="#000" stroke-width="3.2" stroke-linejoin="round"/><path d="M1229.2 921.4 L1267.0 911.6" fill="none" stroke="#000" stroke-width="2.8"/><path d="M1267.0 901.3 L1267.0 911.6" fill="none" stroke="#000" stroke-width="3.0"/><path d="M1272.0 903.3 L1272.0 913.6" fill="none" stroke="#000" stroke-width="2.6"/><path d="M1267.0 911.6 L1278.3 915.8" fill="none" stroke="#000" stroke-width="2.6"/><path d="M1284.3 891.1 L1356.0 857.8 L1367.9 856.2 L1377.3 859.7 L1374.8 864.7 L1303.1 898.0 L1291.1 899.6 L1281.8 896.2Z" fill="none" stroke="#000" stroke-width="3.2" stroke-linejoin="round"/><path d="M1275.1 890.7 L1354.0 854.1 L1369.1 852.1 L1387.1 858.7 L1384.0 865.1 L1305.1 901.8 L1290.0 903.8 L1272.0 897.1Z" fill="none" stroke="#000" stroke-width="2.6" stroke-linejoin="round"/><path d="M1282.7 896.5 L1365.9 865.8" fill="none" stroke="#000" stroke-width="2.8"/><path d="M1365.9 855.4 L1365.9 865.8" fill="none" stroke="#000" stroke-width="3.0"/><path d="M1370.9 857.4 L1370.9 867.8" fill="none" stroke="#000" stroke-width="2.6"/><path d="M1365.9 865.8 L1377.1 869.9" fill="none" stroke="#000" stroke-width="2.6"/><path d="M1386.8 843.5 L1440.3 818.7 L1452.3 817.0 L1461.7 820.5 L1459.1 825.6 L1405.6 850.4 L1393.6 852.1 L1384.3 848.6Z" fill="none" stroke="#000" stroke-width="3.2" stroke-linejoin="round"/><path d="M1385.2 849.0 L1450.2 826.6" fill="none" stroke="#000" stroke-width="2.8"/><path d="M1450.2 816.3 L1450.2 826.6" fill="none" stroke="#000" stroke-width="3.0"/><path d="M1455.2 818.3 L1455.2 828.6" fill="none" stroke="#000" stroke-width="2.6"/><path d="M1450.2 826.6 L1461.5 830.7" fill="none" stroke="#000" stroke-width="2.6"/><path d="M1467.5 806.1 L1507.5 787.5 L1519.4 785.9 L1528.8 789.3 L1526.2 794.4 L1486.3 813.0 L1474.4 814.6 L1465.0 811.2Z" fill="none" stroke="#000" stroke-width="3.2" stroke-linejoin="round"/><path d="M1458.3 805.7 L1505.4 783.8 L1520.5 781.8 L1538.5 788.4 L1535.5 794.8 L1488.3 816.7 L1473.2 818.7 L1455.2 812.1Z" fill="none" stroke="#000" stroke-width="2.6" stroke-linejoin="round"/><path d="M1465.9 811.5 L1517.3 795.4" fill="none" stroke="#000" stroke-width="2.8"/><path d="M1517.3 785.1 L1517.3 795.4" fill="none" stroke="#000" stroke-width="3.0"/><path d="M1522.3 787.1 L1522.3 797.4" fill="none" stroke="#000" stroke-width="2.6"/><path d="M1517.3 795.4 L1528.6 799.6" fill="none" stroke="#000" stroke-width="2.6"/><path d="M1538.3 773.2 L1564.6 761.0 L1576.5 759.4 L1585.9 762.8 L1583.4 767.9 L1557.1 780.1 L1545.1 781.8 L1535.7 778.3Z" fill="none" stroke="#000" stroke-width="3.2" stroke-linejoin="round"/><path d="M1529.0 772.8 L1562.6 757.3 L1577.7 755.3 L1595.7 761.9 L1592.6 768.3 L1559.1 783.9 L1544.0 785.9 L1526.0 779.3Z" fill="none" stroke="#000" stroke-width="2.6" stroke-linejoin="round"/><path d="M1536.7 778.7 L1574.5 768.9" fill="none" stroke="#000" stroke-width="2.8"/><path d="M1574.5 758.6 L1574.5 768.9" fill="none" stroke="#000" stroke-width="3.0"/><path d="M1579.5 760.6 L1579.5 770.9" fill="none" stroke="#000" stroke-width="2.6"/><path d="M1574.5 768.9 L1585.7 773.1" fill="none" stroke="#000" stroke-width="2.6"/><path d="M1595.4 746.7 L1685.2 705.0 L1697.2 703.4 L1706.6 706.8 L1704.0 711.9 L1614.2 753.6 L1602.3 755.2 L1592.9 751.8Z" fill="none" stroke="#000" stroke-width="3.2" stroke-linejoin="round"/><path d="M1586.2 746.3 L1683.2 701.3 L1698.3 699.3 L1716.3 705.9 L1713.3 712.3 L1616.2 757.4 L1601.1 759.4 L1583.1 752.7Z" fill="none" stroke="#000" stroke-width="2.6" stroke-linejoin="round"/><path d="M1593.8 752.1 L1695.1 712.9" fill="none" stroke="#000" stroke-width="2.8"/><path d="M1695.1 702.6 L1695.1 712.9" fill="none" stroke="#000" stroke-width="3.0"/><path d="M1700.1 704.6 L1700.1 714.9" fill="none" stroke="#000" stroke-width="2.6"/><path d="M1695.1 712.9 L1706.4 717.1" fill="none" stroke="#000" stroke-width="2.6"/><path d="M1716.1 690.7 L1769.6 665.9 L1781.5 664.2 L1790.9 667.7 L1788.3 672.8 L1734.8 697.6 L1722.9 699.3 L1713.5 695.8Z" fill="none" stroke="#000" stroke-width="3.2" stroke-linejoin="round"/><path d="M1706.8 690.3 L1767.6 662.1 L1782.6 660.1 L1800.7 666.7 L1797.6 673.2 L1736.8 701.4 L1721.8 703.4 L1703.7 696.7Z" fill="none" stroke="#000" stroke-width="2.6" stroke-linejoin="round"/><path d="M1714.4 696.1 L1779.5 673.8" fill="none" stroke="#000" stroke-width="2.8"/><path d="M1779.5 663.5 L1779.5 673.8" fill="none" stroke="#000" stroke-width="3.0"/><path d="M1784.5 665.5 L1784.5 675.8" fill="none" stroke="#000" stroke-width="2.6"/><path d="M1779.5 673.8 L1790.7 677.9" fill="none" stroke="#000" stroke-width="2.6"/><path d="M1805.9 649.0 L1845.8 630.5 L1857.7 628.9 L1867.1 632.3 L1864.5 637.4 L1824.6 655.9 L1812.7 657.6 L1803.3 654.1Z" fill="none" stroke="#000" stroke-width="3.2" stroke-linejoin="round"/><path d="M1804.2 654.5 L1855.6 638.4" fill="none" stroke="#000" stroke-width="2.8"/><path d="M1855.6 628.1 L1855.6 638.4" fill="none" stroke="#000" stroke-width="3.0"/><path d="M1860.6 630.1 L1860.6 640.4" fill="none" stroke="#000" stroke-width="2.6"/><path d="M1855.6 638.4 L1866.9 642.6" fill="none" stroke="#000" stroke-width="2.6"/><path d="M1876.6 616.2 L1948.3 582.9 L1960.2 581.3 L1969.6 584.7 L1967.0 589.8 L1895.4 623.1 L1883.4 624.7 L1874.0 621.3Z" fill="none" stroke="#000" stroke-width="3.2" stroke-linejoin="round"/><path d="M1875.0 621.6 L1958.1 590.8" fill="none" stroke="#000" stroke-width="2.8"/><path d="M1958.1 580.5 L1958.1 590.8" fill="none" stroke="#000" stroke-width="3.0"/><path d="M1963.1 582.5 L1963.1 592.8" fill="none" stroke="#000" stroke-width="2.6"/><path d="M1958.1 590.8 L1969.4 595.0" fill="none" stroke="#000" stroke-width="2.6"/><ellipse cx="886.9" cy="1113.9" rx="29.0" ry="14.0" fill="#fff" stroke="#000" stroke-width="2.8"/><ellipse cx="887.9" cy="1114.9" rx="22.0" ry="10.0" fill="#fff" stroke="#000" stroke-width="3.2"/><ellipse cx="932.2" cy="1092.8" rx="23.2" ry="11.2" fill="#fff" stroke="#000" stroke-width="2.8"/><ellipse cx="933.2" cy="1093.8" rx="17.6" ry="8.0" fill="#fff" stroke="#000" stroke-width="3.2"/><path d="M949.8 1072.1 L1021.5 1038.9 L1036.3 1038.3 L1051.3 1043.8 L1051.5 1049.9 L979.9 1083.2 L965.1 1083.8 L950.1 1078.3Z" fill="none" stroke="#000" stroke-width="3.2" stroke-linejoin="round"/><path d="M951.6 1078.8 L1033.0 1053.5" fill="none" stroke="#000" stroke-width="2.8"/><path d="M1033.0 1037.0 L1033.0 1053.5" fill="none" stroke="#000" stroke-width="3.0"/><path d="M1038.0 1039.0 L1038.0 1055.5" fill="none" stroke="#000" stroke-width="2.6"/><path d="M1033.0 1053.5 L1051.0 1060.2" fill="none" stroke="#000" stroke-width="2.6"/><path d="M1048.7 1026.2 L1075.0 1014.0 L1089.8 1013.4 L1104.8 1018.9 L1105.0 1025.1 L1078.7 1037.3 L1064.0 1037.9 L1049.0 1032.4Z" fill="none" stroke="#000" stroke-width="3.2" stroke-linejoin="round"/><path d="M1039.4 1025.9 L1073.0 1010.3 L1090.3 1009.1 L1115.1 1018.2 L1114.3 1025.5 L1080.7 1041.0 L1063.4 1042.2 L1038.6 1033.1Z" fill="none" stroke="#000" stroke-width="2.6" stroke-linejoin="round"/><path d="M1050.5 1032.9 L1086.5 1028.7" fill="none" stroke="#000" stroke-width="2.8"/><path d="M1086.5 1012.2 L1086.5 1028.7" fill="none" stroke="#000" stroke-width="3.0"/><path d="M1091.5 1014.2 L1091.5 1030.7" fill="none" stroke="#000" stroke-width="2.6"/><path d="M1086.5 1028.7 L1104.5 1035.3" fill="none" stroke="#000" stroke-width="2.6"/><path d="M1105.8 999.7 L1159.4 974.9 L1174.1 974.3 L1189.1 979.8 L1189.4 985.9 L1135.9 1010.8 L1121.1 1011.4 L1106.1 1005.8Z" fill="none" stroke="#000" stroke-width="3.2" stroke-linejoin="round"/><path d="M1107.6 1006.4 L1170.8 989.6" fill="none" stroke="#000" stroke-width="2.8"/><path d="M1170.8 973.1 L1170.8 989.6" fill="none" stroke="#000" stroke-width="3.0"/><path d="M1175.8 975.1 L1175.8 991.6" fill="none" stroke="#000" stroke-width="2.6"/><path d="M1170.8 989.6 L1188.8 996.2" fill="none" stroke="#000" stroke-width="2.6"/><path d="M1195.6 958.0 L1285.4 916.4 L1300.2 915.8 L1315.2 921.3 L1315.5 927.4 L1225.7 969.1 L1210.9 969.7 L1195.9 964.2Z" fill="none" stroke="#000" stroke-width="3.2" stroke-linejoin="round"/><path d="M1197.4 964.7 L1296.9 931.0" fill="none" stroke="#000" stroke-width="2.8"/><path d="M1296.9 914.5 L1296.9 931.0" fill="none" stroke="#000" stroke-width="3.0"/><path d="M1301.9 916.5 L1301.9 933.0" fill="none" stroke="#000" stroke-width="2.6"/><path d="M1296.9 931.0 L1314.9 937.7" fill="none" stroke="#000" stroke-width="2.6"/><path d="M1312.6 903.7 L1338.9 891.5 L1353.7 890.9 L1368.7 896.4 L1369.0 902.6 L1342.7 914.8 L1327.9 915.4 L1312.9 909.9Z" fill="none" stroke="#000" stroke-width="3.2" stroke-linejoin="round"/><path d="M1314.4 910.4 L1350.4 906.2" fill="none" stroke="#000" stroke-width="2.8"/><path d="M1350.4 889.7 L1350.4 906.2" fill="none" stroke="#000" stroke-width="3.0"/><path d="M1355.4 891.7 L1355.4 908.2" fill="none" stroke="#000" stroke-width="2.6"/><path d="M1350.4 906.2 L1368.4 912.8" fill="none" stroke="#000" stroke-width="2.6"/><path d="M1375.2 874.7 L1401.5 862.5 L1416.3 861.9 L1431.3 867.4 L1431.6 873.5 L1405.3 885.7 L1390.5 886.3 L1375.5 880.8Z" fill="none" stroke="#000" stroke-width="3.2" stroke-linejoin="round"/><path d="M1377.0 881.4 L1413.0 877.1" fill="none" stroke="#000" stroke-width="2.8"/><path d="M1413.0 860.6 L1413.0 877.1" fill="none" stroke="#000" stroke-width="3.0"/><path d="M1418.0 862.6 L1418.0 879.1" fill="none" stroke="#000" stroke-width="2.6"/><path d="M1413.0 877.1 L1431.0 883.8" fill="none" stroke="#000" stroke-width="2.6"/><path d="M1428.7 849.8 L1468.6 831.3 L1483.4 830.7 L1498.4 836.2 L1498.7 842.4 L1458.8 860.9 L1444.0 861.5 L1429.0 856.0Z" fill="none" stroke="#000" stroke-width="3.2" stroke-linejoin="round"/><path d="M1430.5 856.5 L1480.1 846.0" fill="none" stroke="#000" stroke-width="2.8"/><path d="M1480.1 829.5 L1480.1 846.0" fill="none" stroke="#000" stroke-width="3.0"/><path d="M1485.1 831.5 L1485.1 848.0" fill="none" stroke="#000" stroke-width="2.6"/><path d="M1480.1 846.0 L1498.1 852.6" fill="none" stroke="#000" stroke-width="2.6"/><path d="M1504.9 814.5 L1531.2 802.3 L1546.0 801.7 L1561.0 807.2 L1561.3 813.3 L1535.0 825.5 L1520.2 826.1 L1505.2 820.6Z" fill="none" stroke="#000" stroke-width="3.2" stroke-linejoin="round"/><path d="M1506.7 821.2 L1542.7 816.9" fill="none" stroke="#000" stroke-width="2.8"/><path d="M1542.7 800.4 L1542.7 816.9" fill="none" stroke="#000" stroke-width="3.0"/><path d="M1547.7 802.4 L1547.7 818.9" fill="none" stroke="#000" stroke-width="2.6"/><path d="M1542.7 816.9 L1560.7 823.6" fill="none" stroke="#000" stroke-width="2.6"/><path d="M1562.1 788.0 L1651.9 746.3 L1666.6 745.7 L1681.6 751.2 L1681.9 757.3 L1592.1 799.0 L1577.3 799.6 L1562.3 794.1Z" fill="none" stroke="#000" stroke-width="3.2" stroke-linejoin="round"/><path d="M1563.8 794.6 L1663.3 760.9" fill="none" stroke="#000" stroke-width="2.8"/><path d="M1663.3 744.5 L1663.3 760.9" fill="none" stroke="#000" stroke-width="3.0"/><path d="M1668.3 746.5 L1668.3 762.9" fill="none" stroke="#000" stroke-width="2.6"/><path d="M1663.3 760.9 L1681.3 767.6" fill="none" stroke="#000" stroke-width="2.6"/><path d="M1682.7 732.0 L1736.2 707.1 L1751.0 706.5 L1766.0 712.0 L1766.2 718.2 L1712.7 743.0 L1698.0 743.6 L1683.0 738.1Z" fill="none" stroke="#000" stroke-width="3.2" stroke-linejoin="round"/><path d="M1684.5 738.6 L1747.7 721.8" fill="none" stroke="#000" stroke-width="2.8"/><path d="M1747.7 705.3 L1747.7 721.8" fill="none" stroke="#000" stroke-width="3.0"/><path d="M1752.7 707.3 L1752.7 723.8" fill="none" stroke="#000" stroke-width="2.6"/><path d="M1747.7 721.8 L1765.7 728.4" fill="none" stroke="#000" stroke-width="2.6"/><path d="M1767.1 692.8 L1820.6 668.0 L1835.3 667.4 L1850.3 672.9 L1850.6 679.0 L1797.1 703.9 L1782.3 704.5 L1767.3 698.9Z" fill="none" stroke="#000" stroke-width="3.2" stroke-linejoin="round"/><path d="M1768.8 699.5 L1832.0 682.6" fill="none" stroke="#000" stroke-width="2.8"/><path d="M1832.0 666.1 L1832.0 682.6" fill="none" stroke="#000" stroke-width="3.0"/><path d="M1837.0 668.1 L1837.0 684.6" fill="none" stroke="#000" stroke-width="2.6"/><path d="M1832.0 682.6 L1850.0 689.3" fill="none" stroke="#000" stroke-width="2.6"/><path d="M1856.8 651.1 L1883.1 638.9 L1897.9 638.3 L1912.9 643.8 L1913.2 650.0 L1886.9 662.2 L1872.1 662.8 L1857.1 657.3Z" fill="none" stroke="#000" stroke-width="3.2" stroke-linejoin="round"/><path d="M1858.6 657.8 L1894.6 653.6" fill="none" stroke="#000" stroke-width="2.8"/><path d="M1894.6 637.1 L1894.6 653.6" fill="none" stroke="#000" stroke-width="3.0"/><path d="M1899.6 639.1 L1899.6 655.6" fill="none" stroke="#000" stroke-width="2.6"/><path d="M1894.6 653.6 L1912.6 660.2" fill="none" stroke="#000" stroke-width="2.6"/><path d="M885.8 1137.0 L912.1 1124.8 L925.0 1123.5 L936.3 1127.6 L934.7 1133.1 L908.4 1145.3 L895.5 1146.6 L884.2 1142.4Z" fill="none" stroke="#000" stroke-width="3.2" stroke-linejoin="round"/><path d="M885.3 1142.8 L922.5 1134.9" fill="none" stroke="#000" stroke-width="2.8"/><path d="M922.5 1122.6 L922.5 1134.9" fill="none" stroke="#000" stroke-width="3.0"/><path d="M927.5 1124.6 L927.5 1136.9" fill="none" stroke="#000" stroke-width="2.6"/><path d="M922.5 1134.9 L936.1 1139.9" fill="none" stroke="#000" stroke-width="2.6"/><path d="M948.4 1107.9 L1038.2 1066.3 L1051.1 1065.0 L1062.4 1069.1 L1060.7 1074.5 L970.9 1116.2 L958.1 1117.5 L946.8 1113.4Z" fill="none" stroke="#000" stroke-width="3.2" stroke-linejoin="round"/><path d="M947.9 1113.8 L1048.6 1076.4" fill="none" stroke="#000" stroke-width="2.8"/><path d="M1048.6 1064.0 L1048.6 1076.4" fill="none" stroke="#000" stroke-width="3.0"/><path d="M1053.6 1066.0 L1053.6 1078.4" fill="none" stroke="#000" stroke-width="2.6"/><path d="M1048.6 1076.4 L1062.1 1081.4" fill="none" stroke="#000" stroke-width="2.6"/><ellipse cx="1093.0" cy="1050.2" rx="23.2" ry="11.2" fill="#fff" stroke="#000" stroke-width="2.8"/><ellipse cx="1094.0" cy="1051.2" rx="17.6" ry="8.0" fill="#fff" stroke="#000" stroke-width="3.2"/><path d="M1114.4 1030.9 L1186.1 997.6 L1198.9 996.3 L1210.2 1000.5 L1208.6 1005.9 L1136.9 1039.2 L1124.0 1040.5 L1112.8 1036.3Z" fill="none" stroke="#000" stroke-width="3.2" stroke-linejoin="round"/><path d="M1105.1 1030.5 L1184.0 993.9 L1199.9 992.2 L1220.1 999.6 L1217.8 1006.3 L1138.9 1042.9 L1123.1 1044.7 L1102.8 1037.2Z" fill="none" stroke="#000" stroke-width="2.6" stroke-linejoin="round"/><path d="M1113.9 1036.7 L1196.5 1007.8" fill="none" stroke="#000" stroke-width="2.8"/><path d="M1196.5 995.4 L1196.5 1007.8" fill="none" stroke="#000" stroke-width="3.0"/><path d="M1201.5 997.4 L1201.5 1009.8" fill="none" stroke="#000" stroke-width="2.6"/><path d="M1196.5 1007.8 L1210.0 1012.8" fill="none" stroke="#000" stroke-width="2.6"/><ellipse cx="1237.2" cy="983.3" rx="23.2" ry="11.2" fill="#fff" stroke="#000" stroke-width="2.8"/><ellipse cx="1238.2" cy="984.3" rx="17.6" ry="8.0" fill="#fff" stroke="#000" stroke-width="3.2"/><path d="M1258.6 964.0 L1330.3 930.7 L1343.2 929.4 L1354.4 933.5 L1352.8 939.0 L1281.1 972.2 L1268.2 973.5 L1257.0 969.4Z" fill="none" stroke="#000" stroke-width="3.2" stroke-linejoin="round"/><path d="M1249.4 963.6 L1328.3 926.9 L1344.1 925.2 L1364.4 932.7 L1362.0 939.4 L1283.1 976.0 L1267.3 977.7 L1247.0 970.3Z" fill="none" stroke="#000" stroke-width="2.6" stroke-linejoin="round"/><path d="M1258.1 969.8 L1340.7 940.9" fill="none" stroke="#000" stroke-width="2.8"/><path d="M1340.7 928.5 L1340.7 940.9" fill="none" stroke="#000" stroke-width="3.0"/><path d="M1345.7 930.5 L1345.7 942.9" fill="none" stroke="#000" stroke-width="2.6"/><path d="M1340.7 940.9 L1354.2 945.8" fill="none" stroke="#000" stroke-width="2.6"/><path d="M1357.5 918.1 L1383.8 905.9 L1396.7 904.6 L1407.9 908.7 L1406.3 914.1 L1380.0 926.3 L1367.1 927.6 L1355.8 923.5Z" fill="none" stroke="#000" stroke-width="3.2" stroke-linejoin="round"/><path d="M1348.2 917.7 L1381.8 902.1 L1397.6 900.4 L1417.9 907.8 L1415.6 914.5 L1382.0 930.1 L1366.2 931.8 L1345.9 924.4Z" fill="none" stroke="#000" stroke-width="2.6" stroke-linejoin="round"/><path d="M1357.0 923.9 L1394.2 916.0" fill="none" stroke="#000" stroke-width="2.8"/><path d="M1394.2 903.6 L1394.2 916.0" fill="none" stroke="#000" stroke-width="3.0"/><path d="M1399.2 905.6 L1399.2 918.0" fill="none" stroke="#000" stroke-width="2.6"/><path d="M1394.2 916.0 L1407.7 921.0" fill="none" stroke="#000" stroke-width="2.6"/><path d="M1414.6 891.5 L1454.5 873.0 L1467.4 871.7 L1478.7 875.9 L1477.0 881.3 L1437.1 899.8 L1424.3 901.1 L1413.0 897.0Z" fill="none" stroke="#000" stroke-width="3.2" stroke-linejoin="round"/><path d="M1414.1 897.4 L1464.9 883.2" fill="none" stroke="#000" stroke-width="2.8"/><path d="M1464.9 870.8 L1464.9 883.2" fill="none" stroke="#000" stroke-width="3.0"/><path d="M1469.9 872.8 L1469.9 885.2" fill="none" stroke="#000" stroke-width="2.6"/><path d="M1464.9 883.2 L1478.4 888.2" fill="none" stroke="#000" stroke-width="2.6"/><path d="M1485.4 858.7 L1511.7 846.5 L1524.6 845.2 L1535.8 849.3 L1534.2 854.8 L1507.9 867.0 L1495.0 868.3 L1483.7 864.1Z" fill="none" stroke="#000" stroke-width="3.2" stroke-linejoin="round"/><path d="M1484.9 864.6 L1522.1 856.7" fill="none" stroke="#000" stroke-width="2.8"/><path d="M1522.1 844.3 L1522.1 856.7" fill="none" stroke="#000" stroke-width="3.0"/><path d="M1527.1 846.3 L1527.1 858.7" fill="none" stroke="#000" stroke-width="2.6"/><path d="M1522.1 856.7 L1535.6 861.6" fill="none" stroke="#000" stroke-width="2.6"/><path d="M1538.9 833.9 L1610.5 800.6 L1623.4 799.3 L1634.7 803.5 L1633.1 808.9 L1561.4 842.1 L1548.5 843.4 L1537.2 839.3Z" fill="none" stroke="#000" stroke-width="3.2" stroke-linejoin="round"/><path d="M1538.4 839.7 L1620.9 810.8" fill="none" stroke="#000" stroke-width="2.8"/><path d="M1620.9 798.4 L1620.9 810.8" fill="none" stroke="#000" stroke-width="3.0"/><path d="M1625.9 800.4 L1625.9 812.8" fill="none" stroke="#000" stroke-width="2.6"/><path d="M1620.9 810.8 L1634.5 815.7" fill="none" stroke="#000" stroke-width="2.6"/><path d="M1646.8 783.8 L1718.5 750.5 L1731.3 749.2 L1742.6 753.4 L1741.0 758.8 L1669.3 792.1 L1656.4 793.3 L1645.2 789.2Z" fill="none" stroke="#000" stroke-width="3.2" stroke-linejoin="round"/><path d="M1646.3 789.6 L1728.9 760.7" fill="none" stroke="#000" stroke-width="2.8"/><path d="M1728.9 748.3 L1728.9 760.7" fill="none" stroke="#000" stroke-width="3.0"/><path d="M1733.9 750.3 L1733.9 762.7" fill="none" stroke="#000" stroke-width="2.6"/><path d="M1728.9 760.7 L1742.4 765.6" fill="none" stroke="#000" stroke-width="2.6"/><path d="M1754.7 733.7 L1794.6 715.1 L1807.5 713.8 L1818.8 718.0 L1817.2 723.4 L1777.3 742.0 L1764.4 743.2 L1753.1 739.1Z" fill="none" stroke="#000" stroke-width="3.2" stroke-linejoin="round"/><path d="M1754.2 739.5 L1805.1 725.3" fill="none" stroke="#000" stroke-width="2.8"/><path d="M1805.1 712.9 L1805.1 725.3" fill="none" stroke="#000" stroke-width="3.0"/><path d="M1810.1 714.9 L1810.1 727.3" fill="none" stroke="#000" stroke-width="2.6"/><path d="M1805.1 725.3 L1818.6 730.3" fill="none" stroke="#000" stroke-width="2.6"/><ellipse cx="1854.9" cy="696.5" rx="26.1" ry="12.6" fill="#fff" stroke="#000" stroke-width="2.8"/><ellipse cx="1855.9" cy="697.5" rx="19.8" ry="9.0" fill="#fff" stroke="#000" stroke-width="3.2"/><ellipse cx="1900.2" cy="675.5" rx="26.1" ry="12.6" fill="#fff" stroke="#000" stroke-width="2.8"/><ellipse cx="1901.2" cy="676.5" rx="19.8" ry="9.0" fill="#fff" stroke="#000" stroke-width="3.2"/><path d="M1921.6 656.2 L2011.4 614.5 L2024.3 613.2 L2035.6 617.4 L2033.9 622.8 L1944.2 664.5 L1931.3 665.8 L1920.0 661.6Z" fill="none" stroke="#000" stroke-width="3.2" stroke-linejoin="round"/><path d="M1921.1 662.1 L2021.8 624.7" fill="none" stroke="#000" stroke-width="2.8"/><path d="M2021.8 612.3 L2021.8 624.7" fill="none" stroke="#000" stroke-width="3.0"/><path d="M2026.8 614.3 L2026.8 626.7" fill="none" stroke="#000" stroke-width="2.6"/><path d="M2021.8 624.7 L2035.3 629.7" fill="none" stroke="#000" stroke-width="2.6"/><path d="M930.0 1147.0 L1019.7 1105.3 L1035.4 1105.0 L1052.3 1111.2 L1053.5 1117.7 L963.7 1159.4 L948.0 1159.7 L931.1 1153.4Z" fill="none" stroke="#000" stroke-width="3.2" stroke-linejoin="round"/><path d="M920.7 1146.6 L1017.7 1101.5 L1035.8 1100.6 L1062.8 1110.6 L1062.8 1118.1 L965.7 1163.1 L947.7 1164.0 L920.6 1154.1Z" fill="none" stroke="#000" stroke-width="2.6" stroke-linejoin="round"/><path d="M932.8 1154.1 L1031.7 1122.2" fill="none" stroke="#000" stroke-width="2.8"/><path d="M1031.7 1103.7 L1031.7 1122.2" fill="none" stroke="#000" stroke-width="3.0"/><path d="M1036.7 1105.7 L1036.7 1124.2" fill="none" stroke="#000" stroke-width="2.6"/><path d="M1031.7 1122.2 L1052.0 1129.7" fill="none" stroke="#000" stroke-width="2.6"/><path d="M1050.6 1091.0 L1090.5 1072.4 L1106.2 1072.2 L1123.1 1078.4 L1124.3 1084.9 L1084.4 1103.4 L1068.7 1103.7 L1051.8 1097.4Z" fill="none" stroke="#000" stroke-width="3.2" stroke-linejoin="round"/><path d="M1053.5 1098.1 L1102.5 1089.4" fill="none" stroke="#000" stroke-width="2.8"/><path d="M1102.5 1070.8 L1102.5 1089.4" fill="none" stroke="#000" stroke-width="3.0"/><path d="M1107.5 1072.8 L1107.5 1091.4" fill="none" stroke="#000" stroke-width="2.6"/><path d="M1102.5 1089.4 L1122.7 1096.8" fill="none" stroke="#000" stroke-width="2.6"/><path d="M1126.8 1055.6 L1166.7 1037.1 L1182.4 1036.8 L1199.3 1043.0 L1200.5 1049.5 L1160.6 1068.0 L1144.9 1068.3 L1128.0 1062.1Z" fill="none" stroke="#000" stroke-width="3.2" stroke-linejoin="round"/><path d="M1129.7 1062.7 L1178.7 1054.0" fill="none" stroke="#000" stroke-width="2.8"/><path d="M1178.7 1035.5 L1178.7 1054.0" fill="none" stroke="#000" stroke-width="3.0"/><path d="M1183.7 1037.5 L1183.7 1056.0" fill="none" stroke="#000" stroke-width="2.6"/><path d="M1178.7 1054.0 L1198.9 1061.5" fill="none" stroke="#000" stroke-width="2.6"/><path d="M1193.9 1024.4 L1220.2 1012.2 L1235.9 1012.0 L1252.8 1018.2 L1254.0 1024.7 L1227.7 1036.9 L1212.0 1037.1 L1195.1 1030.9Z" fill="none" stroke="#000" stroke-width="3.2" stroke-linejoin="round"/><path d="M1184.6 1024.1 L1218.2 1008.5 L1236.3 1007.6 L1263.3 1017.5 L1263.2 1025.1 L1229.7 1040.6 L1211.6 1041.5 L1184.6 1031.6Z" fill="none" stroke="#000" stroke-width="2.6" stroke-linejoin="round"/><path d="M1196.8 1031.5 L1232.2 1029.2" fill="none" stroke="#000" stroke-width="2.8"/><path d="M1232.2 1010.6 L1232.2 1029.2" fill="none" stroke="#000" stroke-width="3.0"/><path d="M1237.2 1012.6 L1237.2 1031.2" fill="none" stroke="#000" stroke-width="2.6"/><path d="M1232.2 1029.2 L1252.4 1036.6" fill="none" stroke="#000" stroke-width="2.6"/><ellipse cx="1280.6" cy="998.2" rx="23.2" ry="11.2" fill="#fff" stroke="#000" stroke-width="2.8"/><ellipse cx="1281.6" cy="999.2" rx="17.6" ry="8.0" fill="#fff" stroke="#000" stroke-width="3.2"/><ellipse cx="1326.0" cy="977.2" rx="29.0" ry="14.0" fill="#fff" stroke="#000" stroke-width="2.8"/><ellipse cx="1327.0" cy="978.2" rx="22.0" ry="10.0" fill="#fff" stroke="#000" stroke-width="3.2"/><path d="M1341.7 955.8 L1368.0 943.6 L1383.7 943.4 L1400.6 949.6 L1401.8 956.0 L1375.5 968.3 L1359.8 968.5 L1342.9 962.3Z" fill="none" stroke="#000" stroke-width="3.2" stroke-linejoin="round"/><path d="M1344.6 962.9 L1380.0 960.5" fill="none" stroke="#000" stroke-width="2.8"/><path d="M1380.0 942.0 L1380.0 960.5" fill="none" stroke="#000" stroke-width="3.0"/><path d="M1385.0 944.0 L1385.0 962.5" fill="none" stroke="#000" stroke-width="2.6"/><path d="M1380.0 960.5 L1400.3 968.0" fill="none" stroke="#000" stroke-width="2.6"/><path d="M1395.2 931.0 L1448.8 906.1 L1464.5 905.9 L1481.4 912.1 L1482.5 918.6 L1429.0 943.4 L1413.3 943.7 L1396.4 937.5Z" fill="none" stroke="#000" stroke-width="3.2" stroke-linejoin="round"/><path d="M1398.1 938.1 L1460.7 923.1" fill="none" stroke="#000" stroke-width="2.8"/><path d="M1460.7 904.5 L1460.7 923.1" fill="none" stroke="#000" stroke-width="3.0"/><path d="M1465.7 906.5 L1465.7 925.1" fill="none" stroke="#000" stroke-width="2.6"/><path d="M1460.7 923.1 L1481.0 930.5" fill="none" stroke="#000" stroke-width="2.6"/><path d="M1479.6 891.8 L1533.1 867.0 L1548.8 866.7 L1565.7 872.9 L1566.9 879.4 L1513.4 904.3 L1497.7 904.5 L1480.8 898.3Z" fill="none" stroke="#000" stroke-width="3.2" stroke-linejoin="round"/><path d="M1482.5 898.9 L1545.1 883.9" fill="none" stroke="#000" stroke-width="2.8"/><path d="M1545.1 865.4 L1545.1 883.9" fill="none" stroke="#000" stroke-width="3.0"/><path d="M1550.1 867.4 L1550.1 885.9" fill="none" stroke="#000" stroke-width="2.6"/><path d="M1545.1 883.9 L1565.4 891.4" fill="none" stroke="#000" stroke-width="2.6"/><path d="M1560.3 854.4 L1586.6 842.2 L1602.3 841.9 L1619.2 848.1 L1620.4 854.6 L1594.1 866.8 L1578.4 867.1 L1561.5 860.8Z" fill="none" stroke="#000" stroke-width="3.2" stroke-linejoin="round"/><path d="M1563.2 861.5 L1598.6 859.1" fill="none" stroke="#000" stroke-width="2.8"/><path d="M1598.6 840.5 L1598.6 859.1" fill="none" stroke="#000" stroke-width="3.0"/><path d="M1603.6 842.5 L1603.6 861.1" fill="none" stroke="#000" stroke-width="2.6"/><path d="M1598.6 859.1 L1618.9 866.5" fill="none" stroke="#000" stroke-width="2.6"/><path d="M1617.5 827.8 L1707.3 786.2 L1723.0 785.9 L1739.8 792.1 L1741.0 798.6 L1651.2 840.3 L1635.5 840.5 L1618.6 834.3Z" fill="none" stroke="#000" stroke-width="3.2" stroke-linejoin="round"/><path d="M1620.3 834.9 L1719.2 803.1" fill="none" stroke="#000" stroke-width="2.8"/><path d="M1719.2 784.5 L1719.2 803.1" fill="none" stroke="#000" stroke-width="3.0"/><path d="M1724.2 786.5 L1724.2 805.1" fill="none" stroke="#000" stroke-width="2.6"/><path d="M1719.2 803.1 L1739.5 810.6" fill="none" stroke="#000" stroke-width="2.6"/><path d="M1734.5 773.5 L1788.0 748.7 L1803.7 748.4 L1820.6 754.6 L1821.8 761.1 L1768.2 786.0 L1752.5 786.2 L1735.7 780.0Z" fill="none" stroke="#000" stroke-width="3.2" stroke-linejoin="round"/><path d="M1737.3 780.6 L1800.0 765.6" fill="none" stroke="#000" stroke-width="2.8"/><path d="M1800.0 747.1 L1800.0 765.6" fill="none" stroke="#000" stroke-width="3.0"/><path d="M1805.0 749.1 L1805.0 767.6" fill="none" stroke="#000" stroke-width="2.6"/><path d="M1800.0 765.6 L1820.2 773.1" fill="none" stroke="#000" stroke-width="2.6"/><path d="M1815.2 736.1 L1905.0 694.4 L1920.7 694.1 L1937.6 700.3 L1938.8 706.8 L1849.0 748.5 L1833.3 748.8 L1816.4 742.5Z" fill="none" stroke="#000" stroke-width="3.2" stroke-linejoin="round"/><path d="M1805.9 735.7 L1903.0 690.6 L1921.1 689.7 L1948.1 699.7 L1948.0 707.2 L1851.0 752.3 L1832.9 753.1 L1805.9 743.2Z" fill="none" stroke="#000" stroke-width="2.6" stroke-linejoin="round"/><path d="M1818.1 743.2 L1917.0 711.3" fill="none" stroke="#000" stroke-width="2.8"/><path d="M1917.0 692.8 L1917.0 711.3" fill="none" stroke="#000" stroke-width="3.0"/><path d="M1922.0 694.8 L1922.0 713.3" fill="none" stroke="#000" stroke-width="2.6"/><path d="M1917.0 711.3 L1937.2 718.8" fill="none" stroke="#000" stroke-width="2.6"/><path d="M1941.3 677.5 L1981.2 659.0 L1996.9 658.8 L2013.8 665.0 L2015.0 671.5 L1975.0 690.0 L1959.3 690.2 L1942.4 684.0Z" fill="none" stroke="#000" stroke-width="3.2" stroke-linejoin="round"/><path d="M1944.1 684.6 L1993.2 675.9" fill="none" stroke="#000" stroke-width="2.8"/><path d="M1993.2 657.4 L1993.2 675.9" fill="none" stroke="#000" stroke-width="3.0"/><path d="M1998.2 659.4 L1998.2 677.9" fill="none" stroke="#000" stroke-width="2.6"/><path d="M1993.2 675.9 L2013.4 683.4" fill="none" stroke="#000" stroke-width="2.6"/><path d="M974.6 1168.4 L1064.4 1126.7 L1076.3 1125.1 L1085.7 1128.6 L1083.1 1133.6 L993.3 1175.3 L981.4 1177.0 L972.0 1173.5Z" fill="none" stroke="#000" stroke-width="3.2" stroke-linejoin="round"/><path d="M965.3 1168.0 L1062.4 1123.0 L1077.4 1121.0 L1095.4 1127.6 L1092.4 1134.0 L995.3 1179.1 L980.3 1181.1 L962.2 1174.5Z" fill="none" stroke="#000" stroke-width="2.6" stroke-linejoin="round"/><path d="M972.9 1173.9 L1074.2 1134.7" fill="none" stroke="#000" stroke-width="2.8"/><path d="M1074.2 1124.3 L1074.2 1134.7" fill="none" stroke="#000" stroke-width="3.0"/><path d="M1079.2 1126.3 L1079.2 1136.7" fill="none" stroke="#000" stroke-width="2.6"/><path d="M1074.2 1134.7 L1085.5 1138.8" fill="none" stroke="#000" stroke-width="2.6"/><path d="M1100.6 1109.9 L1172.3 1076.6 L1184.2 1075.0 L1193.6 1078.5 L1191.1 1083.6 L1119.4 1116.8 L1107.5 1118.5 L1098.1 1115.0Z" fill="none" stroke="#000" stroke-width="3.2" stroke-linejoin="round"/><path d="M1091.4 1109.5 L1170.3 1072.9 L1185.4 1070.9 L1203.4 1077.5 L1200.3 1083.9 L1121.4 1120.6 L1106.3 1122.6 L1088.3 1115.9Z" fill="none" stroke="#000" stroke-width="2.6" stroke-linejoin="round"/><path d="M1099.0 1115.3 L1182.2 1084.6" fill="none" stroke="#000" stroke-width="2.8"/><path d="M1182.2 1074.2 L1182.2 1084.6" fill="none" stroke="#000" stroke-width="3.0"/><path d="M1187.2 1076.2 L1187.2 1086.6" fill="none" stroke="#000" stroke-width="2.6"/><path d="M1182.2 1084.6 L1193.4 1088.7" fill="none" stroke="#000" stroke-width="2.6"/><ellipse cx="1221.6" cy="1061.6" rx="23.2" ry="11.2" fill="#fff" stroke="#000" stroke-width="2.8"/><ellipse cx="1222.6" cy="1062.6" rx="17.6" ry="8.0" fill="#fff" stroke="#000" stroke-width="3.2"/><path d="M1244.8 1043.0 L1334.6 1001.3 L1346.6 999.6 L1356.0 1003.1 L1353.4 1008.2 L1263.6 1049.9 L1251.7 1051.5 L1242.3 1048.1Z" fill="none" stroke="#000" stroke-width="3.2" stroke-linejoin="round"/><path d="M1235.6 1042.6 L1332.6 997.5 L1347.7 995.5 L1365.7 1002.2 L1362.7 1008.6 L1265.6 1053.6 L1250.5 1055.6 L1232.5 1049.0Z" fill="none" stroke="#000" stroke-width="2.6" stroke-linejoin="round"/><path d="M1243.2 1048.4 L1344.5 1009.2" fill="none" stroke="#000" stroke-width="2.8"/><path d="M1344.5 998.9 L1344.5 1009.2" fill="none" stroke="#000" stroke-width="3.0"/><path d="M1349.5 1000.9 L1349.5 1011.2" fill="none" stroke="#000" stroke-width="2.6"/><path d="M1344.5 1009.2 L1355.8 1013.3" fill="none" stroke="#000" stroke-width="2.6"/><path d="M1365.5 987.0 L1419.0 962.1 L1430.9 960.5 L1440.3 963.9 L1437.8 969.0 L1384.2 993.9 L1372.3 995.5 L1362.9 992.1Z" fill="none" stroke="#000" stroke-width="3.2" stroke-linejoin="round"/><path d="M1356.2 986.6 L1417.0 958.4 L1432.1 956.4 L1450.1 963.0 L1447.0 969.4 L1386.3 997.6 L1371.2 999.6 L1353.2 993.0Z" fill="none" stroke="#000" stroke-width="2.6" stroke-linejoin="round"/><path d="M1363.9 992.4 L1428.9 970.0" fill="none" stroke="#000" stroke-width="2.8"/><path d="M1428.9 959.7 L1428.9 970.0" fill="none" stroke="#000" stroke-width="3.0"/><path d="M1433.9 961.7 L1433.9 972.0" fill="none" stroke="#000" stroke-width="2.6"/><path d="M1428.9 970.0 L1440.1 974.2" fill="none" stroke="#000" stroke-width="2.6"/><path d="M1446.2 949.5 L1499.7 924.7 L1511.7 923.0 L1521.0 926.5 L1518.5 931.6 L1465.0 956.4 L1453.0 958.1 L1443.6 954.6Z" fill="none" stroke="#000" stroke-width="3.2" stroke-linejoin="round"/><path d="M1444.6 954.9 L1509.6 932.6" fill="none" stroke="#000" stroke-width="2.8"/><path d="M1509.6 922.3 L1509.6 932.6" fill="none" stroke="#000" stroke-width="3.0"/><path d="M1514.6 924.3 L1514.6 934.6" fill="none" stroke="#000" stroke-width="2.6"/><path d="M1509.6 932.6 L1520.9 936.7" fill="none" stroke="#000" stroke-width="2.6"/><path d="M1526.9 912.0 L1598.6 878.8 L1610.5 877.1 L1619.9 880.6 L1617.3 885.7 L1545.7 918.9 L1533.7 920.6 L1524.4 917.1Z" fill="none" stroke="#000" stroke-width="3.2" stroke-linejoin="round"/><path d="M1525.3 917.5 L1608.5 886.7" fill="none" stroke="#000" stroke-width="2.8"/><path d="M1608.5 876.4 L1608.5 886.7" fill="none" stroke="#000" stroke-width="3.0"/><path d="M1613.5 878.4 L1613.5 888.7" fill="none" stroke="#000" stroke-width="2.6"/><path d="M1608.5 886.7 L1619.7 890.8" fill="none" stroke="#000" stroke-width="2.6"/><path d="M1634.9 861.9 L1706.5 828.7 L1718.5 827.0 L1727.8 830.5 L1725.3 835.6 L1653.6 868.8 L1641.7 870.5 L1632.3 867.0Z" fill="none" stroke="#000" stroke-width="3.2" stroke-linejoin="round"/><path d="M1633.2 867.4 L1716.4 836.6" fill="none" stroke="#000" stroke-width="2.8"/><path d="M1716.4 826.3 L1716.4 836.6" fill="none" stroke="#000" stroke-width="3.0"/><path d="M1721.4 828.3 L1721.4 838.6" fill="none" stroke="#000" stroke-width="2.6"/><path d="M1716.4 836.6 L1727.7 840.7" fill="none" stroke="#000" stroke-width="2.6"/><path d="M1737.3 814.4 L1777.3 795.8 L1789.2 794.2 L1798.6 797.6 L1796.0 802.7 L1756.1 821.3 L1744.2 822.9 L1734.8 819.5Z" fill="none" stroke="#000" stroke-width="3.2" stroke-linejoin="round"/><path d="M1735.7 819.8 L1787.1 803.7" fill="none" stroke="#000" stroke-width="2.8"/><path d="M1787.1 793.4 L1787.1 803.7" fill="none" stroke="#000" stroke-width="3.0"/><path d="M1792.1 795.4 L1792.1 805.7" fill="none" stroke="#000" stroke-width="2.6"/><path d="M1787.1 803.7 L1798.4 807.9" fill="none" stroke="#000" stroke-width="2.6"/><path d="M1813.5 779.0 L1853.4 760.5 L1865.4 758.8 L1874.8 762.3 L1872.2 767.4 L1832.3 785.9 L1820.4 787.5 L1811.0 784.1Z" fill="none" stroke="#000" stroke-width="3.2" stroke-linejoin="round"/><path d="M1804.3 778.6 L1851.4 756.7 L1866.5 754.7 L1884.5 761.3 L1881.5 767.8 L1834.3 789.7 L1819.2 791.7 L1801.2 785.0Z" fill="none" stroke="#000" stroke-width="2.6" stroke-linejoin="round"/><path d="M1811.9 784.4 L1863.3 768.4" fill="none" stroke="#000" stroke-width="2.8"/><path d="M1863.3 758.1 L1863.3 768.4" fill="none" stroke="#000" stroke-width="3.0"/><path d="M1868.3 760.1 L1868.3 770.4" fill="none" stroke="#000" stroke-width="2.6"/><path d="M1863.3 768.4 L1874.6 772.5" fill="none" stroke="#000" stroke-width="2.6"/><ellipse cx="1906.4" cy="743.7" rx="29.0" ry="14.0" fill="#fff" stroke="#000" stroke-width="2.8"/><ellipse cx="1907.4" cy="744.7" rx="22.0" ry="10.0" fill="#fff" stroke="#000" stroke-width="3.2"/><path d="M1929.6 725.1 L2001.3 691.9 L2013.2 690.2 L2022.6 693.7 L2020.1 698.8 L1948.4 732.0 L1936.5 733.7 L1927.1 730.2Z" fill="none" stroke="#000" stroke-width="3.2" stroke-linejoin="round"/><path d="M1928.0 730.5 L2011.2 699.8" fill="none" stroke="#000" stroke-width="2.8"/><path d="M2011.2 689.4 L2011.2 699.8" fill="none" stroke="#000" stroke-width="3.0"/><path d="M2016.2 691.4 L2016.2 701.8" fill="none" stroke="#000" stroke-width="2.6"/><path d="M2011.2 699.8 L2022.4 703.9" fill="none" stroke="#000" stroke-width="2.6"/><path d="M2037.6 675.0 L2109.2 641.8 L2121.2 640.1 L2130.6 643.6 L2128.0 648.7 L2056.3 681.9 L2044.4 683.6 L2035.0 680.1Z" fill="none" stroke="#000" stroke-width="3.2" stroke-linejoin="round"/><path d="M2035.9 680.5 L2119.1 649.7" fill="none" stroke="#000" stroke-width="2.8"/><path d="M2119.1 639.4 L2119.1 649.7" fill="none" stroke="#000" stroke-width="3.0"/><path d="M2124.1 641.4 L2124.1 651.7" fill="none" stroke="#000" stroke-width="2.6"/><path d="M2119.1 649.7 L2130.4 653.8" fill="none" stroke="#000" stroke-width="2.6"/><path d="M1002.5 1185.1 L1056.0 1160.3 L1068.9 1159.0 L1080.1 1163.2 L1078.5 1168.6 L1025.0 1193.4 L1012.1 1194.7 L1000.8 1190.6Z" fill="none" stroke="#000" stroke-width="3.2" stroke-linejoin="round"/><path d="M1002.0 1191.0 L1066.4 1170.5" fill="none" stroke="#000" stroke-width="2.8"/><path d="M1066.4 1158.1 L1066.4 1170.5" fill="none" stroke="#000" stroke-width="3.0"/><path d="M1071.4 1160.1 L1071.4 1172.5" fill="none" stroke="#000" stroke-width="2.6"/><path d="M1066.4 1170.5 L1079.9 1175.4" fill="none" stroke="#000" stroke-width="2.6"/><path d="M1083.2 1147.7 L1173.0 1106.0 L1185.9 1104.7 L1197.1 1108.8 L1195.5 1114.3 L1105.7 1156.0 L1092.8 1157.3 L1081.6 1153.1Z" fill="none" stroke="#000" stroke-width="3.2" stroke-linejoin="round"/><path d="M1073.9 1147.3 L1171.0 1102.2 L1186.8 1100.5 L1207.1 1108.0 L1204.8 1114.7 L1107.7 1159.7 L1091.9 1161.4 L1071.6 1154.0Z" fill="none" stroke="#000" stroke-width="2.6" stroke-linejoin="round"/><path d="M1082.7 1153.5 L1183.4 1116.2" fill="none" stroke="#000" stroke-width="2.8"/><path d="M1183.4 1103.8 L1183.4 1116.2" fill="none" stroke="#000" stroke-width="3.0"/><path d="M1188.4 1105.8 L1188.4 1118.2" fill="none" stroke="#000" stroke-width="2.6"/><path d="M1183.4 1116.2 L1196.9 1121.1" fill="none" stroke="#000" stroke-width="2.6"/><path d="M1203.8 1091.7 L1275.5 1058.4 L1288.4 1057.1 L1299.6 1061.3 L1298.0 1066.7 L1226.3 1100.0 L1213.4 1101.3 L1202.2 1097.1Z" fill="none" stroke="#000" stroke-width="3.2" stroke-linejoin="round"/><path d="M1194.6 1091.3 L1273.5 1054.7 L1289.3 1052.9 L1309.6 1060.4 L1307.2 1067.1 L1228.3 1103.7 L1212.5 1105.5 L1192.2 1098.0Z" fill="none" stroke="#000" stroke-width="2.6" stroke-linejoin="round"/><path d="M1203.3 1097.5 L1285.9 1068.6" fill="none" stroke="#000" stroke-width="2.8"/><path d="M1285.9 1056.2 L1285.9 1068.6" fill="none" stroke="#000" stroke-width="3.0"/><path d="M1290.9 1058.2 L1290.9 1070.6" fill="none" stroke="#000" stroke-width="2.6"/><path d="M1285.9 1068.6 L1299.4 1073.6" fill="none" stroke="#000" stroke-width="2.6"/><path d="M1311.7 1041.6 L1401.5 999.9 L1414.4 998.6 L1425.7 1002.8 L1424.1 1008.2 L1334.3 1049.9 L1321.4 1051.2 L1310.1 1047.0Z" fill="none" stroke="#000" stroke-width="3.2" stroke-linejoin="round"/><path d="M1302.5 1041.2 L1399.5 996.2 L1415.4 994.4 L1435.6 1001.9 L1433.3 1008.6 L1336.3 1053.6 L1320.4 1055.4 L1300.2 1047.9Z" fill="none" stroke="#000" stroke-width="2.6" stroke-linejoin="round"/><path d="M1311.2 1047.4 L1411.9 1010.1" fill="none" stroke="#000" stroke-width="2.8"/><path d="M1411.9 997.7 L1411.9 1010.1" fill="none" stroke="#000" stroke-width="3.0"/><path d="M1416.9 999.7 L1416.9 1012.1" fill="none" stroke="#000" stroke-width="2.6"/><path d="M1411.9 1010.1 L1425.5 1015.0" fill="none" stroke="#000" stroke-width="2.6"/><path d="M1428.7 987.3 L1455.1 975.1 L1467.9 973.8 L1479.2 977.9 L1477.6 983.4 L1451.3 995.6 L1438.4 996.9 L1427.1 992.7Z" fill="none" stroke="#000" stroke-width="3.2" stroke-linejoin="round"/><path d="M1428.2 993.1 L1465.5 985.2" fill="none" stroke="#000" stroke-width="2.8"/><path d="M1465.5 972.9 L1465.5 985.2" fill="none" stroke="#000" stroke-width="3.0"/><path d="M1470.5 974.9 L1470.5 987.2" fill="none" stroke="#000" stroke-width="2.6"/><path d="M1465.5 985.2 L1479.0 990.2" fill="none" stroke="#000" stroke-width="2.6"/><ellipse cx="1506.2" cy="960.7" rx="29.0" ry="14.0" fill="#fff" stroke="#000" stroke-width="2.8"/><ellipse cx="1507.2" cy="961.7" rx="22.0" ry="10.0" fill="#fff" stroke="#000" stroke-width="3.2"/><ellipse cx="1551.6" cy="939.6" rx="29.0" ry="14.0" fill="#fff" stroke="#000" stroke-width="2.8"/><ellipse cx="1552.6" cy="940.6" rx="22.0" ry="10.0" fill="#fff" stroke="#000" stroke-width="3.2"/><path d="M1573.0 920.3 L1644.6 887.1 L1657.5 885.8 L1668.8 889.9 L1667.1 895.4 L1595.5 928.6 L1582.6 929.9 L1571.3 925.8Z" fill="none" stroke="#000" stroke-width="3.2" stroke-linejoin="round"/><path d="M1563.7 920.0 L1642.6 883.3 L1658.4 881.6 L1678.7 889.1 L1676.4 895.8 L1597.5 932.4 L1581.7 934.1 L1561.4 926.6Z" fill="none" stroke="#000" stroke-width="2.6" stroke-linejoin="round"/><path d="M1572.5 926.2 L1655.0 897.2" fill="none" stroke="#000" stroke-width="2.8"/><path d="M1655.0 884.9 L1655.0 897.2" fill="none" stroke="#000" stroke-width="3.0"/><path d="M1660.0 886.9 L1660.0 899.2" fill="none" stroke="#000" stroke-width="2.6"/><path d="M1655.0 897.2 L1668.5 902.2" fill="none" stroke="#000" stroke-width="2.6"/><path d="M1671.8 874.5 L1761.6 832.8 L1774.5 831.5 L1785.8 835.6 L1784.1 841.1 L1694.3 882.7 L1681.5 884.0 L1670.2 879.9Z" fill="none" stroke="#000" stroke-width="3.2" stroke-linejoin="round"/><path d="M1662.6 874.1 L1759.6 829.0 L1775.4 827.3 L1795.7 834.8 L1793.4 841.4 L1696.4 886.5 L1680.5 888.2 L1660.3 880.8Z" fill="none" stroke="#000" stroke-width="2.6" stroke-linejoin="round"/><path d="M1671.3 880.3 L1772.0 842.9" fill="none" stroke="#000" stroke-width="2.8"/><path d="M1772.0 830.6 L1772.0 842.9" fill="none" stroke="#000" stroke-width="3.0"/><path d="M1777.0 832.6 L1777.0 844.9" fill="none" stroke="#000" stroke-width="2.6"/><path d="M1772.0 842.9 L1785.5 847.9" fill="none" stroke="#000" stroke-width="2.6"/><path d="M1792.5 818.5 L1846.0 793.6 L1858.9 792.3 L1870.1 796.5 L1868.5 801.9 L1815.0 826.7 L1802.1 828.0 L1790.8 823.9Z" fill="none" stroke="#000" stroke-width="3.2" stroke-linejoin="round"/><path d="M1792.0 824.3 L1856.4 803.8" fill="none" stroke="#000" stroke-width="2.8"/><path d="M1856.4 791.4 L1856.4 803.8" fill="none" stroke="#000" stroke-width="3.0"/><path d="M1861.4 793.4 L1861.4 805.8" fill="none" stroke="#000" stroke-width="2.6"/><path d="M1856.4 803.8 L1869.9 808.8" fill="none" stroke="#000" stroke-width="2.6"/><path d="M1876.8 779.3 L1948.5 746.0 L1961.3 744.7 L1972.6 748.9 L1971.0 754.3 L1899.3 787.6 L1886.4 788.9 L1875.2 784.7Z" fill="none" stroke="#000" stroke-width="3.2" stroke-linejoin="round"/><path d="M1876.3 785.2 L1958.9 756.2" fill="none" stroke="#000" stroke-width="2.8"/><path d="M1958.9 743.8 L1958.9 756.2" fill="none" stroke="#000" stroke-width="3.0"/><path d="M1963.9 745.8 L1963.9 758.2" fill="none" stroke="#000" stroke-width="2.6"/><path d="M1958.9 756.2 L1972.4 761.2" fill="none" stroke="#000" stroke-width="2.6"/><ellipse cx="2008.7" cy="727.5" rx="29.0" ry="14.0" fill="#fff" stroke="#000" stroke-width="2.8"/><ellipse cx="2009.7" cy="728.5" rx="22.0" ry="10.0" fill="#fff" stroke="#000" stroke-width="3.2"/><path d="M2030.1 708.2 L2101.7 674.9 L2114.6 673.6 L2125.9 677.7 L2124.3 683.2 L2052.6 716.4 L2039.7 717.7 L2028.5 713.6Z" fill="none" stroke="#000" stroke-width="3.2" stroke-linejoin="round"/><path d="M2029.6 714.0 L2112.2 685.1" fill="none" stroke="#000" stroke-width="2.8"/><path d="M2112.2 672.7 L2112.2 685.1" fill="none" stroke="#000" stroke-width="3.0"/><path d="M2117.2 674.7 L2117.2 687.1" fill="none" stroke="#000" stroke-width="2.6"/><path d="M2112.2 685.1 L2125.7 690.0" fill="none" stroke="#000" stroke-width="2.6"/><path d="M601.8 844.0 L635.0 826.0 L681.0 835.0 L695.0 830.0 L695.0 791.0 L766.0 758.0 L787.0 756.0 L900.0 704.0 L960.0 705.0 L993.0 689.0 L993.0 661.0 L1051.0 631.0 L1174.8 575.0 L1216.8 555.6 L1223.5 555.6 L1262.0 565.0 L1311.0 544.0 L1327.7 544.0 L1368.0 560.0 L1398.0 573.0 L1436.0 582.0 L1476.0 583.0 L1519.0 596.0 L1590.0 584.0 L1729.0 592.0 L1742.0 603.0 L1744.0 654.0 L1871.0 702.0 L1866.0 706.0 L1788.0 742.0 L1720.7 770.3 L1649.0 807.0 L1649.0 855.0 L1596.0 880.0 L1518.0 919.0 L1424.0 919.0 L1375.0 944.0 L1189.0 1050.8 L1051.7 1117.7 L1023.8 1136.6 L939.7 1146.7 L843.9 1104.7 L865.0 1094.0 L865.0 1030.0 L848.0 1010.0 L848.0 933.0 L604.7 849.8Z" fill="none" stroke="#fff" stroke-width="26" stroke-linejoin="round"/><path d="M601.8 844.0 L635.0 826.0 L681.0 835.0 L695.0 830.0 L695.0 791.0 L766.0 758.0 L787.0 756.0 L900.0 704.0 L960.0 705.0 L993.0 689.0 L993.0 661.0 L1051.0 631.0 L1174.8 575.0 L1216.8 555.6 L1223.5 555.6 L1262.0 565.0 L1311.0 544.0 L1327.7 544.0 L1368.0 560.0 L1398.0 573.0 L1436.0 582.0 L1476.0 583.0 L1519.0 596.0 L1590.0 584.0 L1729.0 592.0 L1742.0 603.0 L1744.0 654.0 L1871.0 702.0 L1866.0 706.0 L1788.0 742.0 L1720.7 770.3 L1649.0 807.0 L1649.0 855.0 L1596.0 880.0 L1518.0 919.0 L1424.0 919.0 L1375.0 944.0 L1189.0 1050.8 L1051.7 1117.7 L1023.8 1136.6 L939.7 1146.7 L843.9 1104.7 L865.0 1094.0 L865.0 1030.0 L848.0 1010.0 L848.0 933.0 L604.7 849.8Z" fill="none" stroke="#000" stroke-width="28" stroke-dasharray="0" stroke-opacity="0"/></g>
<path d="M601.8 844.0 L635.0 826.0 L681.0 835.0 L695.0 830.0 L695.0 791.0 L766.0 758.0 L787.0 756.0 L900.0 704.0 L960.0 705.0 L993.0 689.0 L993.0 661.0 L1051.0 631.0 L1174.8 575.0 L1216.8 555.6 L1223.5 555.6 L1262.0 565.0 L1311.0 544.0 L1327.7 544.0 L1368.0 560.0 L1398.0 573.0 L1436.0 582.0 L1476.0 583.0 L1519.0 596.0 L1590.0 584.0 L1729.0 592.0 L1742.0 603.0 L1744.0 654.0 L1871.0 702.0 L1866.0 706.0 L1788.0 742.0 L1720.7 770.3 L1649.0 807.0 L1649.0 855.0 L1596.0 880.0 L1518.0 919.0 L1424.0 919.0 L1375.0 944.0 L1189.0 1050.8 L1051.7 1117.7 L1023.8 1136.6 L939.7 1146.7 L843.9 1104.7 L865.0 1094.0 L865.0 1030.0 L848.0 1010.0 L848.0 933.0 L604.7 849.8Z" fill="none" stroke="#000" stroke-width="3.2"/>
<path d="M735.5 970.0 L803.4 939.0 L814.0 941.0 L858.0 958.0 L858.0 1098.0 L848.0 1105.0 L848.0 1137.0 L806.0 1137.0 L759.0 1137.0 L750.0 1130.0 L735.5 1104.6Z" fill="#fff" stroke="#000" stroke-width="3" stroke-linejoin="round"/>
<path d="M766.5 1008.6 L808.0 1008.0 L862.0 1030.0 L855.0 1042.0 L855.0 1082.0 L766.0 1050.0Z" fill="#fff" stroke="#000" stroke-width="3" stroke-linejoin="round"/>
<ellipse cx="785" cy="998" rx="15" ry="7" fill="#fff" stroke="#000" stroke-width="3"/>
<path d="M755.0 976.0 L800.0 955.0 L812.0 960.0 L812.0 975.0 L790.0 985.0 L757.0 980.0Z" fill="#fff" stroke="#000" stroke-width="2.6" stroke-linejoin="round"/>
<path d="M750.0 994.0 L750.0 1137.0" fill="none" stroke="#000" stroke-width="3" stroke-linejoin="miter"/>
<path d="M759.0 994.0 L759.0 1137.0" fill="none" stroke="#000" stroke-width="3" stroke-linejoin="miter"/>
<path d="M735.5 1007.0 L750.0 1007.0" fill="none" stroke="#000" stroke-width="2.6" stroke-linejoin="miter"/>
<path d="M735.5 1058.8 L750.0 1050.0" fill="none" stroke="#000" stroke-width="2.6" stroke-linejoin="miter"/>
<path d="M759.0 1061.8 L855.0 1098.7" fill="none" stroke="#000" stroke-width="3" stroke-linejoin="miter"/>
<path d="M773.0 1100.0 L773.0 1137.0" fill="none" stroke="#000" stroke-width="2.6" stroke-linejoin="miter"/>
<path d="M806.0 1108.0 L806.0 1137.0" fill="none" stroke="#000" stroke-width="2.6" stroke-linejoin="miter"/>
<path d="M815.0 1112.0 L815.0 1137.0" fill="none" stroke="#000" stroke-width="2.6" stroke-linejoin="miter"/>
<path d="M805.0 1008.0 L805.0 1048.0" fill="none" stroke="#000" stroke-width="2.6" stroke-linejoin="miter"/>
<path d="M815.0 1008.0 L815.0 1050.0" fill="none" stroke="#000" stroke-width="2.6" stroke-linejoin="miter"/>
<path d="M843.9 1104.7 L939.7 1146.7 L985.0 1146.0 L1023.8 1136.6 L1051.7 1117.7 L1050.7 1257.6 L1023.8 1267.7 L985.0 1274.0 L939.7 1274.5 L843.9 1240.8Z" fill="#fff" stroke="#000" stroke-width="3" stroke-linejoin="round"/>
<path d="M939.7 1146.7 L939.7 1274.5" fill="none" stroke="#000" stroke-width="2.6" stroke-linejoin="miter"/>
<path d="M1040.0 1127.0 L1040.0 1262.0" fill="none" stroke="#000" stroke-width="2.4" stroke-linejoin="miter"/>
<path d="M843.9 1170.0 L951.5 1207.0" fill="none" stroke="#000" stroke-width="2.6" stroke-linejoin="miter"/>
<path d="M1000.0 1230.0 L1010.0 1262.0" fill="none" stroke="#000" stroke-width="2.4" stroke-linejoin="miter"/>
<ellipse cx="870" cy="1107" rx="16" ry="7.5" fill="#fff" stroke="#000" stroke-width="3"/>
<ellipse cx="903" cy="1125" rx="19" ry="9" fill="#fff" stroke="#000" stroke-width="3"/>
<path d="M930.0 1128.0 L990.0 1100.0 L1040.0 1118.0 L1000.0 1138.0 L960.0 1140.0Z" fill="#fff" stroke="#000" stroke-width="2.8" stroke-linejoin="round"/>
<path d="M1050.7 1129.9 L1185.4 1050.8 L1185.4 1188.0 L1050.7 1257.6Z" fill="#fff" stroke="#000" stroke-width="3" stroke-linejoin="round"/>
<ellipse cx="1130.5" cy="1140.8" rx="39.5" ry="23.9" transform="rotate(110.19 1130.5 1140.8)" fill="#fff" stroke="#000" stroke-width="3"/>
<path d="M1189.0 1050.8 L1369.7 946.0 L1371.5 1096.0 L1185.4 1188.0Z" fill="#fff" stroke="#000" stroke-width="3" stroke-linejoin="round"/>
<path d="M1191.0 1051.0 L1191.0 1188.0" fill="none" stroke="#000" stroke-width="2.4" stroke-linejoin="miter"/>
<ellipse cx="1263.0" cy="1087.0" rx="35.1" ry="21.3" transform="rotate(110.19 1263.0 1087.0)" fill="#fff" stroke="#000" stroke-width="3"/>
<path d="M1257.6 1078.4 L1255.0 1084.1 L1253.3 1090.1 L1252.4 1096.2 L1252.5 1101.9 L1253.5 1107.0 L1255.3 1111.2 L1258.0 1114.4" fill="none" stroke="#000" stroke-width="2.2" stroke-linejoin="miter"/>
<path d="M1262.9 1080.6 L1260.5 1086.0 L1258.9 1091.6 L1258.1 1097.3 L1258.1 1102.6 L1259.1 1107.4 L1260.8 1111.4 L1263.3 1114.4" fill="none" stroke="#000" stroke-width="2.2" stroke-linejoin="miter"/>
<path d="M1268.3 1082.8 L1266.0 1087.9 L1264.5 1093.1 L1263.7 1098.4 L1263.8 1103.4 L1264.6 1107.8 L1266.3 1111.6 L1268.6 1114.4" fill="none" stroke="#000" stroke-width="2.2" stroke-linejoin="miter"/>
<path d="M1273.6 1085.1 L1271.5 1089.7 L1270.1 1094.6 L1269.4 1099.5 L1269.4 1104.1 L1270.2 1108.3 L1271.8 1111.7 L1273.9 1114.3" fill="none" stroke="#000" stroke-width="2.2" stroke-linejoin="miter"/>
<path d="M1375.0 944.0 L1424.0 919.0 L1427.5 1047.0 L1377.0 1070.7Z" fill="#fff" stroke="#000" stroke-width="3" stroke-linejoin="round"/>
<ellipse cx="1406.7" cy="998.4" rx="36.2" ry="21.9" transform="rotate(110.19 1406.7 998.4)" fill="#fff" stroke="#000" stroke-width="3"/>
<path d="M1400.9 989.4 L1398.2 995.3 L1396.4 1001.5 L1395.5 1007.7 L1395.6 1013.6 L1396.6 1018.9 L1398.5 1023.3 L1401.3 1026.6" fill="none" stroke="#000" stroke-width="2.2" stroke-linejoin="miter"/>
<path d="M1406.2 991.7 L1403.8 997.2 L1402.1 1003.0 L1401.2 1008.8 L1401.3 1014.4 L1402.2 1019.3 L1404.0 1023.4 L1406.6 1026.5" fill="none" stroke="#000" stroke-width="2.2" stroke-linejoin="miter"/>
<path d="M1411.6 993.9 L1409.3 999.1 L1407.7 1004.5 L1406.9 1010.0 L1407.0 1015.1 L1407.9 1019.7 L1409.6 1023.5 L1412.0 1026.4" fill="none" stroke="#000" stroke-width="2.2" stroke-linejoin="miter"/>
<path d="M1417.0 996.2 L1414.8 1001.0 L1413.3 1006.0 L1412.6 1011.1 L1412.7 1015.8 L1413.5 1020.1 L1415.1 1023.7 L1417.3 1026.4" fill="none" stroke="#000" stroke-width="2.2" stroke-linejoin="miter"/>
<path d="M1424.0 919.0 L1518.0 919.0 L1518.0 1047.0 L1472.0 1052.0 L1427.5 1047.0Z" fill="#fff" stroke="#000" stroke-width="3" stroke-linejoin="round"/>
<path d="M1439.0 921.0 L1439.0 1050.0" fill="none" stroke="#000" stroke-width="2.4" stroke-linejoin="miter"/>
<path d="M1472.0 921.0 L1472.0 1050.0" fill="none" stroke="#000" stroke-width="2.4" stroke-linejoin="miter"/>
<path d="M1511.0 921.0 L1511.0 1050.0" fill="none" stroke="#000" stroke-width="2.4" stroke-linejoin="miter"/>
<path d="M1518.0 919.0 L1593.8 881.0 L1602.8 1007.4 L1536.0 1038.0 L1518.0 1047.0Z" fill="#fff" stroke="#000" stroke-width="3" stroke-linejoin="round"/>
<ellipse cx="1552.0" cy="973.0" rx="36.2" ry="21.9" transform="rotate(110.19 1552.0 973.0)" fill="#fff" stroke="#000" stroke-width="3"/>
<path d="M1546.2 964.0 L1543.5 969.9 L1541.7 976.1 L1540.8 982.3 L1540.9 988.2 L1541.9 993.5 L1543.8 997.9 L1546.6 1001.2" fill="none" stroke="#000" stroke-width="2.2" stroke-linejoin="miter"/>
<path d="M1551.5 966.3 L1549.1 971.8 L1547.4 977.6 L1546.5 983.4 L1546.6 989.0 L1547.5 993.9 L1549.3 998.0 L1551.9 1001.1" fill="none" stroke="#000" stroke-width="2.2" stroke-linejoin="miter"/>
<path d="M1556.9 968.5 L1554.6 973.7 L1553.0 979.1 L1552.2 984.6 L1552.3 989.7 L1553.2 994.3 L1554.9 998.1 L1557.3 1001.0" fill="none" stroke="#000" stroke-width="2.2" stroke-linejoin="miter"/>
<path d="M1562.3 970.8 L1560.1 975.6 L1558.6 980.6 L1557.9 985.7 L1558.0 990.4 L1558.8 994.7 L1560.4 998.3 L1562.6 1001.0" fill="none" stroke="#000" stroke-width="2.2" stroke-linejoin="miter"/>
<path d="M1649.0 807.0 L1720.7 770.3 L1788.0 742.0 L1799.0 857.0 L1778.8 867.8 L1701.4 902.3 L1648.0 926.0Z" fill="#fff" stroke="#000" stroke-width="3" stroke-linejoin="round"/>
<path d="M1708.0 746.0 L1708.0 811.0" fill="none" stroke="#000" stroke-width="2.6" stroke-linejoin="miter"/>
<path d="M1721.0 746.0 L1721.0 811.0" fill="none" stroke="#000" stroke-width="2.6" stroke-linejoin="miter"/>
<ellipse cx="1715.0" cy="841.0" rx="30.7" ry="18.6" transform="rotate(110.19 1715.0 841.0)" fill="#fff" stroke="#000" stroke-width="3"/>
<path d="M1711.3 833.8 L1709.0 838.9 L1707.5 844.1 L1706.7 849.4 L1706.8 854.4 L1707.6 858.8 L1709.3 862.6 L1711.6 865.4" fill="none" stroke="#000" stroke-width="2.2" stroke-linejoin="miter"/>
<path d="M1716.5 836.0 L1714.4 840.7 L1713.0 845.6 L1712.2 850.5 L1712.3 855.2 L1713.1 859.4 L1714.6 862.9 L1716.8 865.5" fill="none" stroke="#000" stroke-width="2.2" stroke-linejoin="miter"/>
<path d="M1721.7 838.1 L1719.8 842.5 L1718.4 847.1 L1717.8 851.7 L1717.8 856.1 L1718.6 860.0 L1720.0 863.2 L1722.0 865.7" fill="none" stroke="#000" stroke-width="2.2" stroke-linejoin="miter"/>
<path d="M1727.0 840.3 L1725.1 844.3 L1723.9 848.6 L1723.3 852.9 L1723.3 856.9 L1724.0 860.6 L1725.4 863.6 L1727.2 865.9" fill="none" stroke="#000" stroke-width="2.2" stroke-linejoin="miter"/>
<path d="M1788.0 742.0 L1866.0 706.0 L1870.4 810.7 L1863.7 827.5 L1799.0 857.0Z" fill="#fff" stroke="#000" stroke-width="3" stroke-linejoin="round"/>
<path d="M1789.0 711.0 L1789.0 780.0" fill="none" stroke="#000" stroke-width="2.6" stroke-linejoin="miter"/>
<path d="M1800.0 711.0 L1800.0 780.0" fill="none" stroke="#000" stroke-width="2.6" stroke-linejoin="miter"/>
<ellipse cx="1799.0" cy="803.0" rx="29.6" ry="17.9" transform="rotate(110.19 1799.0 803.0)" fill="#fff" stroke="#000" stroke-width="3"/>
<path d="M1795.7 796.2 L1793.5 801.0 L1792.0 806.1 L1791.3 811.2 L1791.4 816.0 L1792.2 820.3 L1793.8 823.9 L1796.0 826.6" fill="none" stroke="#000" stroke-width="2.2" stroke-linejoin="miter"/>
<path d="M1800.9 798.3 L1798.9 802.9 L1797.5 807.6 L1796.8 812.4 L1796.8 816.9 L1797.6 820.9 L1799.1 824.3 L1801.2 826.8" fill="none" stroke="#000" stroke-width="2.2" stroke-linejoin="miter"/>
<path d="M1806.1 800.4 L1804.2 804.7 L1802.9 809.1 L1802.3 813.5 L1802.3 817.8 L1803.0 821.5 L1804.4 824.7 L1806.4 827.0" fill="none" stroke="#000" stroke-width="2.2" stroke-linejoin="miter"/>
<path d="M1811.3 802.5 L1809.6 806.5 L1808.3 810.6 L1807.7 814.7 L1807.8 818.6 L1808.5 822.1 L1809.8 825.0 L1811.6 827.2" fill="none" stroke="#000" stroke-width="2.2" stroke-linejoin="miter"/>
<path d="M1832.6 724.0 L1864.5 709.0 L1864.5 754.0 L1832.6 768.6Z" fill="#fff" stroke="#000" stroke-width="2.6" stroke-linejoin="round"/>
<path d="M1604.6 924.0 L1648.0 926.0" fill="none" stroke="#000" stroke-width="2.6" stroke-linejoin="miter"/>
<path d="M1790.0 790.0 L1894.5 830.0 L2034.5 762.5 L2682.0 1015.0" fill="none" stroke="#000" stroke-width="3.6" stroke-linejoin="miter"/>
<path d="M1707.0 830.0 L2382.0 1085.0" fill="none" stroke="#000" stroke-width="3.6" stroke-linejoin="miter"/>
<path d="M1536.0 966.0 L2069.5 1160.0" fill="none" stroke="#000" stroke-width="3.6" stroke-linejoin="miter"/>
<path d="M1391.4 994.8 L1662.5 1092.0 L1496.0 1171.0 L2257.5 1451.0" fill="none" stroke="#000" stroke-width="3.6" stroke-linejoin="miter"/>
<path d="M1250.5 1079.7 L1463.5 1158.0 L1236.4 1265.2 L2075.0 1573.5" fill="none" stroke="#000" stroke-width="3.6" stroke-linejoin="miter"/>
<path d="M1115.4 1135.7 L1270.0 1193.0 L895.0 1367.8 L1039.7 1421.5" fill="none" stroke="#000" stroke-width="3.6" stroke-linejoin="miter"/>
<path d="M655.0 161.0 L704.9 137.6 L713.5 140.8 L665.6 165.2Z" fill="#fff" stroke="#000" stroke-width="2.6" stroke-linejoin="round"/>
<path d="M665.6 165.2 L713.5 140.8 L713.5 241.0 L700.0 258.5 L691.5 256.0 L686.5 216.0 L682.5 223.0 L676.5 268.5 L665.6 266.0Z" fill="#fff" stroke="#000" stroke-width="3" stroke-linejoin="round"/>
<path d="M655.0 161.0 L665.6 165.2 L665.6 266.0 L655.0 260.0Z" fill="#fff" stroke="#000" stroke-width="2.6" stroke-linejoin="round"/>
<path d="M682.0 223.0 L682.0 190.0 Q688.2 179.0 694.5 190.0 L694.5 216.0" fill="#fff" stroke="#000" stroke-width="3"/>
<path d="M686.5 216.0 L691.5 256.0" fill="none" stroke="#000" stroke-width="3" stroke-linejoin="miter"/>
<path d="M758.5 269.2 L755.0 267.1 L752.2 263.7 L750.2 259.2 L749.2 253.8 L749.1 247.8 L750.0 241.5 L751.9 235.1 L754.6 229.1 L758.0 223.7 L761.9 219.1 L766.2 215.7 L770.6 213.6 L774.9 212.8 L778.9 213.5 L811.5 225.5 L815.0 227.6 L817.8 230.9 L819.8 235.4 L820.8 240.8 L820.9 246.8 L820.0 253.2 L818.1 259.5 L815.4 265.6 L812.0 271.0 L808.1 275.5 L803.8 278.9 L799.4 281.1 L795.1 281.8 L791.1 281.1Z" fill="#fff" stroke="#000" stroke-width="3" stroke-linejoin="round"/>
<ellipse cx="801.3" cy="253.3" rx="29.6" ry="17.9" transform="rotate(110.19 801.3 253.3)" fill="#fff" stroke="#000" stroke-width="3"/>
<path d="M807.5 224.8 L803.2 225.6 L798.8 227.7 L794.5 231.1 L790.6 235.7 L787.1 241.1 L784.4 247.1 L782.6 253.5 L781.7 259.8 L781.7 265.8 L782.8 271.2 L784.8 275.7 L787.6 279.1" fill="none" stroke="#000" stroke-width="5.5" stroke-linejoin="miter"/>
<path d="M943.5 317.4 L942.2 316.6 L941.2 315.3 L940.4 313.7 L940.1 311.7 L940.0 309.5 L940.4 307.1 L941.1 304.8 L942.1 302.5 L943.3 300.5 L944.8 298.8 L946.4 297.6 L948.0 296.8 L949.6 296.5 L951.1 296.7 L996.5 313.5 L997.8 314.2 L998.8 315.5 L999.6 317.1 L999.9 319.1 L1000.0 321.4 L999.6 323.7 L998.9 326.1 L997.9 328.3 L996.7 330.3 L995.2 332.0 L993.6 333.3 L992.0 334.0 L990.4 334.3 L988.9 334.1Z" fill="#fff" stroke="#000" stroke-width="3" stroke-linejoin="round"/>
<ellipse cx="992.7" cy="323.8" rx="11.0" ry="6.6" transform="rotate(110.19 992.7 323.8)" fill="#fff" stroke="#000" stroke-width="3"/>
<path d="M1033.2 349.2 L1032.0 348.5 L1031.1 347.4 L1030.4 345.9 L1030.1 344.1 L1030.0 342.1 L1030.3 340.0 L1031.0 337.8 L1031.9 335.8 L1033.0 334.0 L1034.3 332.5 L1035.7 331.4 L1037.2 330.7 L1038.6 330.4 L1040.0 330.6 L1066.8 340.5 L1068.0 341.2 L1068.9 342.3 L1069.6 343.8 L1069.9 345.6 L1070.0 347.6 L1069.7 349.7 L1069.0 351.9 L1068.1 353.9 L1067.0 355.7 L1065.7 357.2 L1064.3 358.3 L1062.8 359.0 L1061.4 359.3 L1060.0 359.1Z" fill="#fff" stroke="#000" stroke-width="3" stroke-linejoin="round"/>
<ellipse cx="1063.4" cy="349.8" rx="9.9" ry="6.0" transform="rotate(110.19 1063.4 349.8)" fill="#fff" stroke="#000" stroke-width="3"/>
<path d="M861.5 307.1 L858.0 305.0 L855.2 301.6 L853.2 297.1 L852.2 291.7 L852.1 285.7 L853.0 279.4 L854.9 273.0 L857.6 267.0 L861.0 261.6 L864.9 257.0 L869.2 253.6 L873.6 251.5 L877.9 250.7 L881.9 251.4 L961.5 280.7 L965.0 282.8 L967.8 286.1 L969.8 290.6 L970.8 296.0 L970.9 302.0 L970.0 308.4 L968.1 314.7 L965.4 320.8 L962.0 326.2 L958.1 330.7 L953.8 334.1 L949.4 336.3 L945.1 337.0 L941.1 336.3Z" fill="#fff" stroke="#000" stroke-width="3" stroke-linejoin="round"/>
<path d="M899.5 257.9 L895.4 257.2 L891.1 257.9 L886.7 260.1 L882.4 263.5 L878.5 268.0 L875.1 273.4 L872.4 279.5 L870.5 285.8 L869.6 292.2 L869.7 298.2 L870.7 303.6 L872.7 308.1 L875.5 311.4 L879.0 313.5" fill="none" stroke="#000" stroke-width="3.6" stroke-linejoin="miter"/>
<path d="M909.3 261.5 L905.3 260.8 L901.0 261.6 L896.6 263.7 L892.3 267.1 L888.4 271.7 L884.9 277.1 L882.2 283.1 L880.4 289.5 L879.5 295.8 L879.5 301.8 L880.6 307.2 L882.6 311.7 L885.4 315.1 L888.9 317.1" fill="none" stroke="#000" stroke-width="3.6" stroke-linejoin="miter"/>
<path d="M919.2 265.1 L915.2 264.4 L910.9 265.2 L906.5 267.3 L902.2 270.7 L898.2 275.3 L894.8 280.7 L892.1 286.7 L890.3 293.1 L889.3 299.4 L889.4 305.4 L890.4 310.8 L892.4 315.3 L895.2 318.7 L898.7 320.8" fill="none" stroke="#000" stroke-width="3.6" stroke-linejoin="miter"/>
<path d="M929.1 268.7 L925.1 268.1 L920.7 268.8 L916.3 271.0 L912.0 274.4 L908.1 278.9 L904.7 284.3 L902.0 290.4 L900.1 296.7 L899.2 303.1 L899.3 309.1 L900.3 314.5 L902.3 319.0 L905.1 322.3 L908.6 324.4" fill="none" stroke="#000" stroke-width="3.6" stroke-linejoin="miter"/>
<path d="M938.9 272.4 L934.9 271.7 L930.6 272.4 L926.2 274.6 L921.9 278.0 L918.0 282.5 L914.5 288.0 L911.8 294.0 L910.0 300.4 L909.1 306.7 L909.1 312.7 L910.2 318.1 L912.2 322.6 L915.0 326.0 L918.5 328.0" fill="none" stroke="#000" stroke-width="3.6" stroke-linejoin="miter"/>
<path d="M948.8 276.0 L944.8 275.3 L940.5 276.1 L936.1 278.2 L931.8 281.6 L927.8 286.2 L924.4 291.6 L921.7 297.6 L919.9 304.0 L918.9 310.3 L919.0 316.3 L920.1 321.7 L922.0 326.2 L924.8 329.6 L928.3 331.7" fill="none" stroke="#000" stroke-width="3.6" stroke-linejoin="miter"/>
<ellipse cx="951.3" cy="308.5" rx="29.6" ry="17.9" transform="rotate(110.19 951.3 308.5)" fill="#fff" stroke="#000" stroke-width="3"/>
<ellipse cx="951.3" cy="308.5" rx="21.3" ry="12.9" transform="rotate(110.19 951.3 308.5)" fill="none" stroke="#000" stroke-width="2.5"/>
<ellipse cx="951.3" cy="308.5" rx="11.9" ry="7.2" transform="rotate(110.19 951.3 308.5)" fill="#fff" stroke="#000" stroke-width="2.5"/>
<path d="M973.4 344.8 L970.3 342.9 L967.8 339.9 L966.1 335.9 L965.1 331.1 L965.1 325.8 L965.9 320.1 L967.5 314.5 L969.9 309.1 L973.0 304.3 L976.5 300.3 L980.3 297.2 L984.2 295.3 L988.1 294.7 L991.6 295.3 L1027.6 308.5 L1030.7 310.4 L1033.2 313.4 L1034.9 317.3 L1035.9 322.1 L1035.9 327.5 L1035.1 333.1 L1033.5 338.8 L1031.1 344.1 L1028.0 348.9 L1024.5 353.0 L1020.7 356.0 L1016.8 357.9 L1012.9 358.6 L1009.4 358.0Z" fill="#fff" stroke="#000" stroke-width="3" stroke-linejoin="round"/>
<ellipse cx="1018.5" cy="333.2" rx="26.4" ry="16.0" transform="rotate(110.19 1018.5 333.2)" fill="#fff" stroke="#000" stroke-width="3"/>
<ellipse cx="1018.5" cy="333.2" rx="19.0" ry="11.5" transform="rotate(110.19 1018.5 333.2)" fill="none" stroke="#000" stroke-width="2.5"/>
<ellipse cx="1018.5" cy="333.2" rx="10.5" ry="6.4" transform="rotate(110.19 1018.5 333.2)" fill="#fff" stroke="#000" stroke-width="2.5"/>
<path d="M1093.9 373.9 L1092.4 373.0 L1091.3 371.6 L1090.5 369.8 L1090.1 367.6 L1090.0 365.2 L1090.4 362.6 L1091.2 360.0 L1092.3 357.5 L1093.7 355.3 L1095.3 353.5 L1097.0 352.1 L1098.8 351.2 L1100.6 350.9 L1102.2 351.2 L1138.9 364.7 L1140.4 365.6 L1141.5 366.9 L1142.3 368.8 L1142.7 370.9 L1142.8 373.4 L1142.4 376.0 L1141.6 378.6 L1140.5 381.0 L1139.1 383.2 L1137.5 385.1 L1135.8 386.5 L1134.0 387.4 L1132.2 387.7 L1130.6 387.4Z" fill="#fff" stroke="#000" stroke-width="3" stroke-linejoin="round"/>
<ellipse cx="1134.8" cy="376.0" rx="12.1" ry="7.3" transform="rotate(110.19 1134.8 376.0)" fill="#fff" stroke="#000" stroke-width="3"/>
<path d="M1043.1 369.2 L1040.1 367.4 L1037.7 364.6 L1036.0 360.7 L1035.1 356.2 L1035.1 351.0 L1035.9 345.6 L1037.4 340.2 L1039.7 335.1 L1042.6 330.5 L1046.0 326.6 L1049.7 323.7 L1053.4 321.9 L1057.1 321.2 L1060.5 321.8 L1105.9 338.5 L1108.9 340.3 L1111.3 343.2 L1113.0 347.0 L1113.9 351.6 L1113.9 356.7 L1113.1 362.1 L1111.6 367.5 L1109.3 372.6 L1106.4 377.3 L1103.0 381.1 L1099.3 384.0 L1095.6 385.9 L1091.9 386.5 L1088.5 385.9Z" fill="#fff" stroke="#000" stroke-width="3" stroke-linejoin="round"/>
<path d="M1070.5 325.5 L1067.1 324.9 L1063.4 325.5 L1059.7 327.4 L1056.0 330.3 L1052.6 334.1 L1049.7 338.8 L1047.4 343.9 L1045.9 349.3 L1045.1 354.7 L1045.1 359.8 L1046.0 364.4 L1047.7 368.3 L1050.1 371.1 L1053.1 372.9" fill="none" stroke="#000" stroke-width="3.6" stroke-linejoin="miter"/>
<path d="M1077.5 328.1 L1074.1 327.5 L1070.5 328.1 L1066.7 329.9 L1063.0 332.9 L1059.7 336.7 L1056.8 341.4 L1054.5 346.5 L1052.9 351.9 L1052.1 357.3 L1052.2 362.4 L1053.1 367.0 L1054.7 370.8 L1057.1 373.7 L1060.1 375.5" fill="none" stroke="#000" stroke-width="3.6" stroke-linejoin="miter"/>
<path d="M1084.6 330.7 L1081.2 330.1 L1077.5 330.7 L1073.7 332.5 L1070.1 335.5 L1066.7 339.3 L1063.8 343.9 L1061.5 349.1 L1059.9 354.5 L1059.2 359.9 L1059.2 365.0 L1060.1 369.6 L1061.8 373.4 L1064.2 376.3 L1067.1 378.1" fill="none" stroke="#000" stroke-width="3.6" stroke-linejoin="miter"/>
<path d="M1091.6 333.3 L1088.2 332.7 L1084.5 333.3 L1080.8 335.1 L1077.1 338.0 L1073.8 341.9 L1070.9 346.5 L1068.6 351.7 L1067.0 357.1 L1066.2 362.5 L1066.2 367.6 L1067.1 372.2 L1068.8 376.0 L1071.2 378.9 L1074.2 380.7" fill="none" stroke="#000" stroke-width="3.6" stroke-linejoin="miter"/>
<path d="M1098.7 335.8 L1095.3 335.3 L1091.6 335.9 L1087.8 337.7 L1084.2 340.6 L1080.8 344.5 L1077.9 349.1 L1075.6 354.3 L1074.0 359.7 L1073.2 365.1 L1073.3 370.2 L1074.2 374.8 L1075.9 378.6 L1078.2 381.5 L1081.2 383.3" fill="none" stroke="#000" stroke-width="3.6" stroke-linejoin="miter"/>
<ellipse cx="1097.2" cy="362.2" rx="25.3" ry="15.3" transform="rotate(110.19 1097.2 362.2)" fill="#fff" stroke="#000" stroke-width="3"/>
<ellipse cx="1097.2" cy="362.2" rx="18.2" ry="11.0" transform="rotate(110.19 1097.2 362.2)" fill="none" stroke="#000" stroke-width="2.5"/>
<ellipse cx="1097.2" cy="362.2" rx="11.4" ry="6.9" transform="rotate(110.19 1097.2 362.2)" fill="#fff" stroke="#000" stroke-width="2.5"/>
<path d="M1178.7 414.4 L1176.2 413.0 L1174.2 410.6 L1172.8 407.4 L1172.1 403.6 L1172.1 399.4 L1172.7 395.0 L1174.0 390.5 L1175.9 386.2 L1178.3 382.4 L1181.1 379.2 L1184.1 376.8 L1187.2 375.3 L1190.3 374.8 L1193.1 375.3 L1274.3 405.2 L1276.8 406.6 L1278.8 409.0 L1280.2 412.2 L1280.9 416.0 L1280.9 420.2 L1280.3 424.6 L1279.0 429.1 L1277.1 433.4 L1274.7 437.2 L1271.9 440.4 L1268.9 442.8 L1265.8 444.3 L1262.7 444.8 L1259.9 444.3Z" fill="#000" stroke="#000" stroke-width="3" stroke-linejoin="round"/>
<path d="M1191.1 379.5 L1188.4 380.8 L1185.8 382.9 L1183.4 385.7 L1181.4 388.9 L1179.7 392.6 L1178.6 396.4 L1178.1 400.3 L1178.1 403.9 L1178.7 407.2 L1179.9 409.9" fill="none" stroke="#fff" stroke-width="1.3" stroke-dasharray="8 4"/>
<path d="M1199.2 382.5 L1196.5 383.8 L1194.0 385.9 L1191.6 388.6 L1189.5 391.9 L1187.9 395.6 L1186.7 399.4 L1186.2 403.3 L1186.2 406.9 L1186.9 410.2 L1188.1 412.9" fill="none" stroke="#fff" stroke-width="1.3" stroke-dasharray="8 4"/>
<path d="M1207.3 385.5 L1204.7 386.8 L1202.1 388.9 L1199.7 391.6 L1197.6 394.9 L1196.0 398.6 L1194.9 402.4 L1194.3 406.3 L1194.4 409.9 L1195.0 413.2 L1196.2 415.9" fill="none" stroke="#fff" stroke-width="1.3" stroke-dasharray="8 4"/>
<path d="M1215.5 388.5 L1212.8 389.8 L1210.2 391.9 L1207.8 394.6 L1205.8 397.9 L1204.1 401.6 L1203.0 405.4 L1202.4 409.2 L1202.5 412.9 L1203.1 416.1 L1204.3 418.9" fill="none" stroke="#fff" stroke-width="1.3" stroke-dasharray="8 4"/>
<path d="M1223.6 391.5 L1220.9 392.8 L1218.3 394.9 L1215.9 397.6 L1213.9 400.9 L1212.2 404.6 L1211.1 408.4 L1210.6 412.2 L1210.6 415.9 L1211.2 419.1 L1212.4 421.9" fill="none" stroke="#fff" stroke-width="1.3" stroke-dasharray="8 4"/>
<path d="M1231.7 394.5 L1229.1 395.8 L1226.5 397.9 L1224.1 400.6 L1222.0 403.9 L1220.4 407.5 L1219.2 411.4 L1218.7 415.2 L1218.7 418.9 L1219.4 422.1 L1220.6 424.8" fill="none" stroke="#fff" stroke-width="1.3" stroke-dasharray="8 4"/>
<path d="M1239.8 397.5 L1237.2 398.8 L1234.6 400.9 L1232.2 403.6 L1230.1 406.9 L1228.5 410.5 L1227.4 414.4 L1226.8 418.2 L1226.9 421.9 L1227.5 425.1 L1228.7 427.8" fill="none" stroke="#fff" stroke-width="1.3" stroke-dasharray="8 4"/>
<path d="M1248.0 400.5 L1245.3 401.8 L1242.7 403.8 L1240.3 406.6 L1238.3 409.9 L1236.6 413.5 L1235.5 417.4 L1234.9 421.2 L1235.0 424.8 L1235.6 428.1 L1236.8 430.8" fill="none" stroke="#fff" stroke-width="1.3" stroke-dasharray="8 4"/>
<path d="M1256.1 403.5 L1253.4 404.8 L1250.8 406.8 L1248.4 409.6 L1246.4 412.9 L1244.7 416.5 L1243.6 420.4 L1243.1 424.2 L1243.1 427.8 L1243.7 431.1 L1244.9 433.8" fill="none" stroke="#fff" stroke-width="1.3" stroke-dasharray="8 4"/>
<path d="M1264.2 406.5 L1261.6 407.8 L1259.0 409.8 L1256.6 412.6 L1254.5 415.9 L1252.9 419.5 L1251.8 423.3 L1251.2 427.2 L1251.2 430.8 L1251.9 434.1 L1253.1 436.8" fill="none" stroke="#fff" stroke-width="1.3" stroke-dasharray="8 4"/>
<ellipse cx="1271.3" cy="426.3" rx="12.9" ry="7.8" transform="rotate(110.19 1271.3 426.3)" fill="#fff" stroke="#000" stroke-width="0.1"/>
<path d="M1257.6 421.3 L1284.2 431.0" fill="none" stroke="#000" stroke-width="3.6" stroke-linejoin="miter"/>
<path d="M290.4 216.0 L340.3 192.6 L348.9 195.8 L301.0 220.2Z" fill="#fff" stroke="#000" stroke-width="2.6" stroke-linejoin="round"/>
<path d="M301.0 220.2 L348.9 195.8 L348.9 296.0 L335.4 313.5 L326.9 311.0 L321.9 271.0 L317.9 278.0 L311.9 323.5 L301.0 321.0Z" fill="#fff" stroke="#000" stroke-width="3" stroke-linejoin="round"/>
<path d="M290.4 216.0 L301.0 220.2 L301.0 321.0 L290.4 315.0Z" fill="#fff" stroke="#000" stroke-width="2.6" stroke-linejoin="round"/>
<path d="M317.4 278.0 L317.4 245.0 Q323.6 234.0 329.9 245.0 L329.9 271.0" fill="#fff" stroke="#000" stroke-width="3"/>
<path d="M321.9 271.0 L326.9 311.0" fill="none" stroke="#000" stroke-width="3" stroke-linejoin="miter"/>
<path d="M395.9 325.3 L392.6 323.3 L389.9 320.0 L388.0 315.7 L387.0 310.5 L386.9 304.7 L387.8 298.6 L389.6 292.5 L392.2 286.7 L395.4 281.5 L399.2 277.1 L403.4 273.8 L407.6 271.7 L411.8 271.0 L415.6 271.7 L449.9 284.3 L453.2 286.3 L455.9 289.5 L457.8 293.8 L458.8 299.0 L458.9 304.8 L458.0 310.9 L456.2 317.0 L453.6 322.8 L450.4 328.1 L446.6 332.4 L442.4 335.7 L438.2 337.8 L434.0 338.5 L430.2 337.9Z" fill="#fff" stroke="#000" stroke-width="3" stroke-linejoin="round"/>
<ellipse cx="440.0" cy="311.1" rx="28.6" ry="17.3" transform="rotate(110.19 440.0 311.1)" fill="#fff" stroke="#000" stroke-width="3"/>
<path d="M446.0 283.6 L441.9 284.3 L437.6 286.4 L433.5 289.7 L429.7 294.1 L426.4 299.3 L423.8 305.1 L422.0 311.2 L421.1 317.3 L421.2 323.1 L422.2 328.3 L424.1 332.6 L426.8 335.9" fill="none" stroke="#000" stroke-width="5.5" stroke-linejoin="miter"/>
<path d="M497.4 365.0 L493.8 362.8 L490.9 359.3 L488.9 354.6 L487.8 349.1 L487.7 342.8 L488.6 336.2 L490.6 329.7 L493.4 323.4 L496.9 317.8 L501.0 313.1 L505.4 309.5 L510.0 307.3 L514.5 306.5 L518.7 307.2 L539.2 314.8 L542.8 316.9 L545.7 320.4 L547.7 325.1 L548.8 330.7 L548.9 336.9 L548.0 343.5 L546.0 350.1 L543.2 356.3 L539.7 362.0 L535.6 366.7 L531.2 370.2 L526.6 372.4 L522.1 373.2 L517.9 372.5Z" fill="#fff" stroke="#000" stroke-width="3" stroke-linejoin="round"/>
<path d="M523.2 308.9 L519.0 308.2 L514.5 309.0 L510.0 311.2 L505.5 314.7 L501.4 319.4 L497.9 325.1 L495.1 331.3 L493.2 337.9 L492.2 344.5 L492.3 350.7 L493.4 356.3 L495.4 361.0 L498.3 364.5 L501.9 366.6" fill="none" stroke="#000" stroke-width="3.6" stroke-linejoin="miter"/>
<path d="M535.9 313.6 L531.7 312.9 L527.3 313.6 L522.7 315.9 L518.2 319.4 L514.1 324.1 L510.6 329.7 L507.8 336.0 L505.9 342.6 L504.9 349.2 L505.0 355.4 L506.1 361.0 L508.1 365.6 L511.0 369.1 L514.7 371.3" fill="none" stroke="#000" stroke-width="3.6" stroke-linejoin="miter"/>
<ellipse cx="528.6" cy="343.6" rx="30.7" ry="18.6" transform="rotate(110.19 528.6 343.6)" fill="#fff" stroke="#000" stroke-width="3"/>
<ellipse cx="528.6" cy="343.6" rx="22.1" ry="13.4" transform="rotate(110.19 528.6 343.6)" fill="none" stroke="#000" stroke-width="2.5"/>
<path d="M539.5 379.3 L536.0 377.2 L533.2 373.8 L531.2 369.3 L530.2 363.9 L530.1 357.9 L531.0 351.6 L532.9 345.2 L535.6 339.2 L539.0 333.8 L542.9 329.2 L547.2 325.8 L551.6 323.7 L555.9 322.9 L559.9 323.6 L597.5 337.4 L601.0 339.5 L603.8 342.9 L605.8 347.4 L606.8 352.8 L606.9 358.8 L606.0 365.1 L604.1 371.5 L601.4 377.5 L598.0 382.9 L594.1 387.5 L589.8 390.9 L585.4 393.0 L581.1 393.8 L577.1 393.1Z" fill="#fff" stroke="#000" stroke-width="3" stroke-linejoin="round"/>
<ellipse cx="587.3" cy="365.3" rx="29.6" ry="17.9" transform="rotate(110.19 587.3 365.3)" fill="#fff" stroke="#000" stroke-width="3"/>
<ellipse cx="587.3" cy="365.3" rx="21.3" ry="12.9" transform="rotate(110.19 587.3 365.3)" fill="none" stroke="#000" stroke-width="2.5"/>
<ellipse cx="587.3" cy="365.3" rx="5.3" ry="3.2" transform="rotate(110.19 587.3 365.3)" fill="#fff" stroke="#000" stroke-width="2.5"/>
<path d="M703.5 419.7 L702.2 419.0 L701.2 417.7 L700.4 416.0 L700.1 414.1 L700.0 411.8 L700.4 409.5 L701.1 407.1 L702.1 404.9 L703.3 402.9 L704.8 401.2 L706.4 399.9 L708.0 399.1 L709.6 398.9 L711.1 399.1 L716.5 401.1 L717.8 401.9 L718.8 403.1 L719.6 404.8 L719.9 406.8 L720.0 409.0 L719.6 411.4 L718.9 413.7 L717.9 415.9 L716.7 417.9 L715.2 419.6 L713.6 420.9 L712.0 421.7 L710.4 422.0 L708.9 421.7Z" fill="#fff" stroke="#000" stroke-width="3" stroke-linejoin="round"/>
<ellipse cx="712.7" cy="411.4" rx="11.0" ry="6.6" transform="rotate(110.19 712.7 411.4)" fill="#fff" stroke="#000" stroke-width="3"/>
<path d="M748.2 435.0 L747.0 434.3 L746.1 433.2 L745.4 431.7 L745.1 429.9 L745.0 427.9 L745.3 425.8 L746.0 423.6 L746.9 421.6 L748.0 419.8 L749.3 418.3 L750.7 417.2 L752.2 416.5 L753.6 416.2 L755.0 416.4 L756.8 417.1 L758.0 417.8 L758.9 418.9 L759.6 420.4 L759.9 422.2 L760.0 424.2 L759.7 426.3 L759.0 428.5 L758.1 430.5 L757.0 432.3 L755.7 433.8 L754.3 434.9 L752.8 435.7 L751.4 435.9 L750.0 435.7Z" fill="#fff" stroke="#000" stroke-width="3" stroke-linejoin="round"/>
<ellipse cx="753.4" cy="426.4" rx="9.9" ry="6.0" transform="rotate(110.19 753.4 426.4)" fill="#fff" stroke="#000" stroke-width="3"/>
<path d="M638.9 412.3 L635.8 410.5 L633.3 407.5 L631.6 403.5 L630.6 398.7 L630.6 393.4 L631.4 387.7 L633.0 382.1 L635.4 376.7 L638.5 371.9 L642.0 367.9 L645.8 364.8 L649.7 362.9 L653.6 362.3 L657.1 362.9 L703.6 380.0 L706.7 381.8 L709.2 384.8 L710.9 388.8 L711.9 393.6 L711.9 398.9 L711.1 404.6 L709.5 410.2 L707.1 415.6 L704.0 420.4 L700.5 424.4 L696.7 427.5 L692.8 429.4 L688.9 430.0 L685.4 429.4Z" fill="#fff" stroke="#000" stroke-width="3" stroke-linejoin="round"/>
<path d="M667.3 366.6 L663.8 366.0 L659.9 366.7 L656.0 368.6 L652.2 371.6 L648.7 375.7 L645.7 380.5 L643.3 385.9 L641.6 391.5 L640.8 397.1 L640.9 402.5 L641.8 407.3 L643.5 411.3 L646.0 414.3 L649.1 416.1" fill="none" stroke="#000" stroke-width="3.6" stroke-linejoin="miter"/>
<path d="M676.9 370.2 L673.4 369.6 L669.5 370.2 L665.6 372.1 L661.8 375.2 L658.3 379.2 L655.3 384.0 L652.9 389.4 L651.2 395.0 L650.4 400.7 L650.5 406.0 L651.4 410.8 L653.1 414.8 L655.6 417.8 L658.7 419.6" fill="none" stroke="#000" stroke-width="3.6" stroke-linejoin="miter"/>
<path d="M686.5 373.7 L683.0 373.1 L679.1 373.8 L675.2 375.7 L671.4 378.7 L667.9 382.7 L664.9 387.6 L662.5 392.9 L660.8 398.6 L660.0 404.2 L660.1 409.6 L661.0 414.3 L662.8 418.3 L665.2 421.3 L668.3 423.2" fill="none" stroke="#000" stroke-width="3.6" stroke-linejoin="miter"/>
<path d="M696.1 377.2 L692.6 376.6 L688.7 377.3 L684.8 379.2 L681.0 382.2 L677.5 386.3 L674.5 391.1 L672.1 396.5 L670.4 402.1 L669.6 407.7 L669.7 413.1 L670.6 417.9 L672.4 421.9 L674.8 424.9 L677.9 426.7" fill="none" stroke="#000" stroke-width="3.6" stroke-linejoin="miter"/>
<ellipse cx="694.5" cy="404.7" rx="26.4" ry="16.0" transform="rotate(110.19 694.5 404.7)" fill="#fff" stroke="#000" stroke-width="3"/>
<ellipse cx="694.5" cy="404.7" rx="19.0" ry="11.5" transform="rotate(110.19 694.5 404.7)" fill="none" stroke="#000" stroke-width="2.5"/>
<ellipse cx="694.5" cy="404.7" rx="11.9" ry="7.2" transform="rotate(110.19 694.5 404.7)" fill="#fff" stroke="#000" stroke-width="2.5"/>
<path d="M716.7 438.6 L713.9 436.9 L711.6 434.2 L710.0 430.5 L709.1 426.1 L709.1 421.2 L709.8 416.1 L711.3 410.9 L713.5 406.0 L716.3 401.6 L719.5 397.9 L723.0 395.1 L726.6 393.3 L730.1 392.7 L733.4 393.3 L745.8 397.8 L748.6 399.5 L750.9 402.3 L752.5 405.9 L753.4 410.3 L753.4 415.2 L752.7 420.4 L751.2 425.6 L749.0 430.5 L746.2 434.9 L743.0 438.6 L739.5 441.4 L735.9 443.1 L732.4 443.7 L729.1 443.2Z" fill="#fff" stroke="#000" stroke-width="3" stroke-linejoin="round"/>
<ellipse cx="737.4" cy="420.5" rx="24.2" ry="14.6" transform="rotate(110.19 737.4 420.5)" fill="#fff" stroke="#000" stroke-width="3"/>
<ellipse cx="737.4" cy="420.5" rx="17.4" ry="10.5" transform="rotate(110.19 737.4 420.5)" fill="none" stroke="#000" stroke-width="2.5"/>
<ellipse cx="737.4" cy="420.5" rx="10.9" ry="6.6" transform="rotate(110.19 737.4 420.5)" fill="#fff" stroke="#000" stroke-width="2.5"/>
<path d="M818.9 463.3 L817.4 462.5 L816.3 461.1 L815.5 459.3 L815.1 457.1 L815.0 454.7 L815.4 452.1 L816.2 449.5 L817.3 447.0 L818.7 444.8 L820.3 443.0 L822.0 441.6 L823.8 440.7 L825.6 440.4 L827.2 440.7 L854.8 450.8 L856.3 451.7 L857.4 453.1 L858.2 454.9 L858.6 457.1 L858.7 459.5 L858.3 462.1 L857.5 464.7 L856.4 467.2 L855.0 469.4 L853.4 471.2 L851.7 472.6 L849.9 473.5 L848.1 473.8 L846.5 473.5Z" fill="#fff" stroke="#000" stroke-width="3" stroke-linejoin="round"/>
<ellipse cx="850.7" cy="462.2" rx="12.1" ry="7.3" transform="rotate(110.19 850.7 462.2)" fill="#fff" stroke="#000" stroke-width="3"/>
<path d="M761.9 457.6 L758.8 455.8 L756.3 452.8 L754.6 448.8 L753.6 444.0 L753.6 438.6 L754.4 433.0 L756.0 427.4 L758.4 422.0 L761.5 417.2 L765.0 413.1 L768.8 410.1 L772.7 408.2 L776.6 407.5 L780.1 408.1 L819.6 422.7 L822.7 424.5 L825.2 427.5 L826.9 431.5 L827.9 436.3 L827.9 441.6 L827.1 447.3 L825.5 452.9 L823.1 458.3 L820.0 463.1 L816.5 467.1 L812.7 470.2 L808.8 472.1 L804.9 472.7 L801.4 472.1Z" fill="#fff" stroke="#000" stroke-width="3" stroke-linejoin="round"/>
<path d="M788.8 411.3 L785.2 410.7 L781.4 411.4 L777.5 413.3 L773.7 416.3 L770.2 420.4 L767.1 425.2 L764.7 430.6 L763.1 436.2 L762.3 441.8 L762.3 447.2 L763.3 452.0 L765.0 456.0 L767.5 459.0 L770.6 460.8" fill="none" stroke="#000" stroke-width="3.6" stroke-linejoin="miter"/>
<path d="M797.0 414.3 L793.4 413.7 L789.6 414.4 L785.6 416.3 L781.8 419.3 L778.3 423.4 L775.3 428.2 L772.9 433.6 L771.2 439.2 L770.4 444.8 L770.5 450.2 L771.4 455.0 L773.2 459.0 L775.7 462.0 L778.8 463.8" fill="none" stroke="#000" stroke-width="3.6" stroke-linejoin="miter"/>
<path d="M805.1 417.3 L801.5 416.7 L797.7 417.4 L793.8 419.3 L790.0 422.3 L786.5 426.4 L783.4 431.2 L781.0 436.6 L779.4 442.2 L778.6 447.8 L778.6 453.2 L779.6 458.0 L781.3 462.0 L783.8 465.0 L786.9 466.8" fill="none" stroke="#000" stroke-width="3.6" stroke-linejoin="miter"/>
<path d="M813.3 420.3 L809.7 419.7 L805.9 420.4 L801.9 422.3 L798.1 425.3 L794.6 429.4 L791.6 434.2 L789.2 439.6 L787.5 445.2 L786.7 450.8 L786.8 456.2 L787.7 461.0 L789.5 465.0 L792.0 468.0 L795.1 469.8" fill="none" stroke="#000" stroke-width="3.6" stroke-linejoin="miter"/>
<ellipse cx="810.5" cy="447.4" rx="26.4" ry="16.0" transform="rotate(110.19 810.5 447.4)" fill="#fff" stroke="#000" stroke-width="3"/>
<ellipse cx="810.5" cy="447.4" rx="19.0" ry="11.5" transform="rotate(110.19 810.5 447.4)" fill="none" stroke="#000" stroke-width="2.5"/>
<ellipse cx="810.5" cy="447.4" rx="11.9" ry="7.2" transform="rotate(110.19 810.5 447.4)" fill="#fff" stroke="#000" stroke-width="2.5"/>
<path d="M889.7 498.8 L887.2 497.3 L885.2 494.9 L883.8 491.8 L883.1 488.0 L883.1 483.8 L883.7 479.3 L885.0 474.8 L886.9 470.6 L889.3 466.8 L892.1 463.6 L895.1 461.2 L898.2 459.6 L901.3 459.1 L904.1 459.6 L985.3 489.5 L987.8 491.0 L989.8 493.3 L991.2 496.5 L991.9 500.3 L991.9 504.5 L991.3 509.0 L990.0 513.4 L988.1 517.7 L985.7 521.5 L982.9 524.7 L979.9 527.1 L976.8 528.6 L973.7 529.1 L970.9 528.7Z" fill="#000" stroke="#000" stroke-width="3" stroke-linejoin="round"/>
<path d="M902.1 463.9 L899.4 465.2 L896.8 467.2 L894.4 470.0 L892.4 473.3 L890.7 476.9 L889.6 480.8 L889.1 484.6 L889.1 488.2 L889.7 491.5 L890.9 494.2" fill="none" stroke="#fff" stroke-width="1.3" stroke-dasharray="8 4"/>
<path d="M910.2 466.9 L907.5 468.2 L905.0 470.2 L902.6 473.0 L900.5 476.3 L898.9 479.9 L897.7 483.8 L897.2 487.6 L897.2 491.2 L897.9 494.5 L899.1 497.2" fill="none" stroke="#fff" stroke-width="1.3" stroke-dasharray="8 4"/>
<path d="M918.3 469.9 L915.7 471.2 L913.1 473.2 L910.7 476.0 L908.6 479.3 L907.0 482.9 L905.9 486.8 L905.3 490.6 L905.4 494.2 L906.0 497.5 L907.2 500.2" fill="none" stroke="#fff" stroke-width="1.3" stroke-dasharray="8 4"/>
<path d="M926.5 472.8 L923.8 474.1 L921.2 476.2 L918.8 479.0 L916.8 482.2 L915.1 485.9 L914.0 489.7 L913.4 493.6 L913.5 497.2 L914.1 500.5 L915.3 503.2" fill="none" stroke="#fff" stroke-width="1.3" stroke-dasharray="8 4"/>
<path d="M934.6 475.8 L931.9 477.1 L929.3 479.2 L926.9 482.0 L924.9 485.2 L923.2 488.9 L922.1 492.7 L921.6 496.6 L921.6 500.2 L922.2 503.5 L923.4 506.2" fill="none" stroke="#fff" stroke-width="1.3" stroke-dasharray="8 4"/>
<path d="M942.7 478.8 L940.1 480.1 L937.5 482.2 L935.1 484.9 L933.0 488.2 L931.4 491.9 L930.2 495.7 L929.7 499.6 L929.7 503.2 L930.4 506.5 L931.6 509.2" fill="none" stroke="#fff" stroke-width="1.3" stroke-dasharray="8 4"/>
<path d="M950.8 481.8 L948.2 483.1 L945.6 485.2 L943.2 487.9 L941.1 491.2 L939.5 494.9 L938.4 498.7 L937.8 502.5 L937.9 506.2 L938.5 509.4 L939.7 512.2" fill="none" stroke="#fff" stroke-width="1.3" stroke-dasharray="8 4"/>
<path d="M959.0 484.8 L956.3 486.1 L953.7 488.2 L951.3 490.9 L949.3 494.2 L947.6 497.9 L946.5 501.7 L945.9 505.5 L946.0 509.2 L946.6 512.4 L947.8 515.2" fill="none" stroke="#fff" stroke-width="1.3" stroke-dasharray="8 4"/>
<path d="M967.1 487.8 L964.4 489.1 L961.8 491.2 L959.4 493.9 L957.4 497.2 L955.7 500.9 L954.6 504.7 L954.1 508.5 L954.1 512.2 L954.7 515.4 L955.9 518.1" fill="none" stroke="#fff" stroke-width="1.3" stroke-dasharray="8 4"/>
<path d="M975.2 490.8 L972.6 492.1 L970.0 494.2 L967.6 496.9 L965.5 500.2 L963.9 503.8 L962.8 507.7 L962.2 511.5 L962.2 515.2 L962.9 518.4 L964.1 521.1" fill="none" stroke="#fff" stroke-width="1.3" stroke-dasharray="8 4"/>
<ellipse cx="982.3" cy="510.6" rx="12.9" ry="7.8" transform="rotate(110.19 982.3 510.6)" fill="#fff" stroke="#000" stroke-width="0.1"/>
<path d="M968.6 505.6 L995.2 515.4" fill="none" stroke="#000" stroke-width="3.6" stroke-linejoin="miter"/>
<path d="M279.5 423.7 L329.4 400.3 L338.0 403.5 L290.1 427.9Z" fill="#fff" stroke="#000" stroke-width="2.6" stroke-linejoin="round"/>
<path d="M290.1 427.9 L338.0 403.5 L338.0 503.7 L324.5 521.2 L316.0 518.7 L311.0 478.7 L307.0 485.7 L301.0 531.2 L290.1 528.7Z" fill="#fff" stroke="#000" stroke-width="3" stroke-linejoin="round"/>
<path d="M279.5 423.7 L290.1 427.9 L290.1 528.7 L279.5 522.7Z" fill="#fff" stroke="#000" stroke-width="2.6" stroke-linejoin="round"/>
<path d="M306.5 485.7 L306.5 452.7 Q312.8 441.7 319.0 452.7 L319.0 478.7" fill="#fff" stroke="#000" stroke-width="3"/>
<path d="M311.0 478.7 L316.0 518.7" fill="none" stroke="#000" stroke-width="3" stroke-linejoin="miter"/>
<path d="M386.1 522.2 L382.8 520.3 L380.2 517.2 L378.4 513.0 L377.4 508.0 L377.4 502.5 L378.2 496.6 L380.0 490.7 L382.5 485.1 L385.6 480.1 L389.3 475.9 L393.2 472.7 L397.3 470.7 L401.3 470.0 L405.0 470.7 L439.2 483.3 L442.5 485.2 L445.1 488.3 L446.9 492.5 L447.9 497.5 L447.9 503.0 L447.1 508.9 L445.3 514.8 L442.8 520.4 L439.7 525.4 L436.0 529.6 L432.1 532.8 L428.0 534.7 L424.0 535.4 L420.3 534.8Z" fill="#fff" stroke="#000" stroke-width="3" stroke-linejoin="round"/>
<ellipse cx="429.8" cy="509.0" rx="27.5" ry="16.6" transform="rotate(110.19 429.8 509.0)" fill="#fff" stroke="#000" stroke-width="3"/>
<path d="M435.5 482.6 L431.5 483.3 L427.4 485.3 L423.5 488.5 L419.8 492.7 L416.7 497.7 L414.2 503.3 L412.4 509.2 L411.6 515.0 L411.6 520.6 L412.6 525.6 L414.4 529.8 L417.0 532.9" fill="none" stroke="#000" stroke-width="5.5" stroke-linejoin="miter"/>
<path d="M484.8 562.1 L481.2 559.9 L478.3 556.4 L476.3 551.8 L475.2 546.2 L475.1 539.9 L476.0 533.4 L478.0 526.8 L480.8 520.5 L484.3 514.9 L488.4 510.2 L492.8 506.6 L497.4 504.4 L501.9 503.6 L506.1 504.3 L547.2 519.5 L550.8 521.6 L553.7 525.1 L555.7 529.8 L556.8 535.4 L556.9 541.6 L556.0 548.2 L554.0 554.8 L551.2 561.0 L547.7 566.7 L543.6 571.4 L539.2 574.9 L534.6 577.1 L530.1 577.9 L525.9 577.2Z" fill="#fff" stroke="#000" stroke-width="3" stroke-linejoin="round"/>
<ellipse cx="536.6" cy="548.3" rx="30.7" ry="18.6" transform="rotate(110.19 536.6 548.3)" fill="#fff" stroke="#000" stroke-width="3"/>
<ellipse cx="536.6" cy="548.3" rx="25.2" ry="15.3" transform="rotate(110.19 536.6 548.3)" fill="none" stroke="#000" stroke-width="2.5"/>
<path d="M543.8 528.7 L541.0 528.2 L537.9 528.8 L534.8 530.3 L531.8 532.7 L529.0 535.9 L526.6 539.7 L524.7 544.0 L523.4 548.4 L522.7 552.9 L522.8 557.2 L523.5 561.0 L524.9 564.1 L526.9 566.5 L529.3 568.0" fill="none" stroke="#000" stroke-width="5" stroke-linejoin="miter"/>
<path d="M643.5 599.4 L642.2 598.6 L641.2 597.4 L640.4 595.7 L640.1 593.7 L640.0 591.5 L640.4 589.1 L641.1 586.8 L642.1 584.6 L643.3 582.6 L644.8 580.9 L646.4 579.6 L648.0 578.8 L649.6 578.5 L651.1 578.8 L696.5 595.5 L697.8 596.3 L698.8 597.5 L699.6 599.2 L699.9 601.2 L700.0 603.4 L699.6 605.7 L698.9 608.1 L697.9 610.3 L696.7 612.3 L695.2 614.0 L693.6 615.3 L692.0 616.1 L690.4 616.4 L688.9 616.1Z" fill="#fff" stroke="#000" stroke-width="3" stroke-linejoin="round"/>
<ellipse cx="692.7" cy="605.8" rx="11.0" ry="6.6" transform="rotate(110.19 692.7 605.8)" fill="#fff" stroke="#000" stroke-width="3"/>
<path d="M597.1 602.2 L593.6 600.1 L590.8 596.8 L588.8 592.3 L587.8 586.9 L587.7 580.9 L588.6 574.5 L590.5 568.2 L593.2 562.1 L596.6 556.7 L600.5 552.2 L604.8 548.8 L609.2 546.6 L613.5 545.9 L617.5 546.5 L639.1 554.5 L642.6 556.6 L645.4 559.9 L647.4 564.4 L648.4 569.8 L648.5 575.8 L647.6 582.2 L645.7 588.5 L643.0 594.6 L639.6 600.0 L635.7 604.5 L631.4 607.9 L627.0 610.1 L622.7 610.8 L618.7 610.1Z" fill="#fff" stroke="#000" stroke-width="3" stroke-linejoin="round"/>
<ellipse cx="628.9" cy="582.3" rx="29.6" ry="17.9" transform="rotate(110.19 628.9 582.3)" fill="#fff" stroke="#000" stroke-width="3"/>
<ellipse cx="628.9" cy="582.3" rx="21.3" ry="12.9" transform="rotate(110.19 628.9 582.3)" fill="none" stroke="#000" stroke-width="2.5"/>
<ellipse cx="628.9" cy="582.3" rx="11.9" ry="7.2" transform="rotate(110.19 628.9 582.3)" fill="#fff" stroke="#000" stroke-width="2.5"/>
<path d="M651.1 620.9 L647.8 618.9 L645.1 615.7 L643.2 611.4 L642.2 606.2 L642.1 600.4 L643.0 594.3 L644.8 588.2 L647.4 582.3 L650.6 577.1 L654.4 572.8 L658.6 569.5 L662.8 567.4 L667.0 566.7 L670.8 567.3 L693.9 575.8 L697.2 577.8 L699.9 581.1 L701.8 585.4 L702.8 590.6 L702.9 596.4 L702.0 602.5 L700.2 608.6 L697.6 614.4 L694.4 619.6 L690.6 624.0 L686.4 627.3 L682.2 629.3 L678.0 630.1 L674.2 629.4Z" fill="#fff" stroke="#000" stroke-width="3" stroke-linejoin="round"/>
<ellipse cx="684.0" cy="602.6" rx="28.6" ry="17.3" transform="rotate(110.19 684.0 602.6)" fill="#fff" stroke="#000" stroke-width="3"/>
<ellipse cx="684.0" cy="602.6" rx="20.6" ry="12.4" transform="rotate(110.19 684.0 602.6)" fill="none" stroke="#000" stroke-width="2.5"/>
<ellipse cx="684.0" cy="602.6" rx="11.4" ry="6.9" transform="rotate(110.19 684.0 602.6)" fill="#fff" stroke="#000" stroke-width="2.5"/>
<path d="M733.9 633.8 L732.4 633.0 L731.3 631.6 L730.5 629.8 L730.1 627.6 L730.0 625.1 L730.4 622.5 L731.2 620.0 L732.3 617.5 L733.7 615.3 L735.3 613.4 L737.0 612.0 L738.8 611.2 L740.6 610.9 L742.2 611.1 L756.1 616.3 L757.6 617.1 L758.7 618.5 L759.5 620.3 L759.9 622.5 L760.0 625.0 L759.6 627.5 L758.8 630.1 L757.7 632.6 L756.3 634.8 L754.7 636.7 L753.0 638.0 L751.2 638.9 L749.4 639.2 L747.8 638.9Z" fill="#fff" stroke="#000" stroke-width="3" stroke-linejoin="round"/>
<ellipse cx="752.0" cy="627.6" rx="12.1" ry="7.3" transform="rotate(110.19 752.0 627.6)" fill="#fff" stroke="#000" stroke-width="3"/>
<path d="M698.4 633.6 L695.6 632.0 L693.3 629.2 L691.7 625.5 L690.8 621.2 L690.8 616.3 L691.5 611.1 L693.0 605.9 L695.2 601.0 L698.0 596.6 L701.2 592.9 L704.7 590.1 L708.3 588.4 L711.8 587.7 L715.1 588.3 L729.3 593.5 L732.1 595.2 L734.4 598.0 L736.0 601.6 L736.9 606.0 L736.9 610.9 L736.2 616.1 L734.7 621.2 L732.5 626.2 L729.7 630.6 L726.5 634.3 L723.0 637.1 L719.4 638.8 L715.9 639.4 L712.6 638.9Z" fill="#fff" stroke="#000" stroke-width="3" stroke-linejoin="round"/>
<ellipse cx="720.9" cy="616.2" rx="24.2" ry="14.6" transform="rotate(110.19 720.9 616.2)" fill="#fff" stroke="#000" stroke-width="3"/>
<ellipse cx="720.9" cy="616.2" rx="17.4" ry="10.5" transform="rotate(110.19 720.9 616.2)" fill="none" stroke="#000" stroke-width="2.5"/>
<ellipse cx="720.9" cy="616.2" rx="10.9" ry="6.6" transform="rotate(110.19 720.9 616.2)" fill="#fff" stroke="#000" stroke-width="2.5"/>
<path d="M787.7 663.0 L785.2 661.5 L783.2 659.1 L781.8 656.0 L781.1 652.2 L781.1 648.0 L781.7 643.5 L783.0 639.0 L784.9 634.8 L787.3 631.0 L790.1 627.8 L793.1 625.4 L796.2 623.9 L799.3 623.3 L802.1 623.8 L888.3 655.6 L890.8 657.0 L892.8 659.4 L894.2 662.5 L894.9 666.3 L894.9 670.6 L894.3 675.0 L893.0 679.5 L891.1 683.7 L888.7 687.6 L885.9 690.8 L882.9 693.2 L879.8 694.7 L876.7 695.2 L873.9 694.7Z" fill="#000" stroke="#000" stroke-width="3" stroke-linejoin="round"/>
<path d="M800.3 628.2 L797.7 629.5 L795.1 631.6 L792.7 634.3 L790.6 637.6 L789.0 641.2 L787.9 645.1 L787.3 648.9 L787.4 652.6 L788.0 655.8 L789.2 658.5" fill="none" stroke="#fff" stroke-width="1.3" stroke-dasharray="8 4"/>
<path d="M809.0 631.4 L806.3 632.7 L803.7 634.7 L801.3 637.5 L799.2 640.8 L797.6 644.4 L796.5 648.2 L795.9 652.1 L796.0 655.7 L796.6 659.0 L797.8 661.7" fill="none" stroke="#fff" stroke-width="1.3" stroke-dasharray="8 4"/>
<path d="M817.6 634.5 L814.9 635.8 L812.3 637.9 L809.9 640.6 L807.9 643.9 L806.2 647.6 L805.1 651.4 L804.6 655.3 L804.6 658.9 L805.2 662.2 L806.4 664.9" fill="none" stroke="#fff" stroke-width="1.3" stroke-dasharray="8 4"/>
<path d="M826.2 637.7 L823.5 639.0 L821.0 641.1 L818.6 643.8 L816.5 647.1 L814.9 650.8 L813.7 654.6 L813.2 658.4 L813.2 662.1 L813.9 665.3 L815.1 668.1" fill="none" stroke="#fff" stroke-width="1.3" stroke-dasharray="8 4"/>
<path d="M834.8 640.9 L832.2 642.2 L829.6 644.2 L827.2 647.0 L825.1 650.3 L823.5 653.9 L822.4 657.8 L821.8 661.6 L821.9 665.2 L822.5 668.5 L823.7 671.2" fill="none" stroke="#fff" stroke-width="1.3" stroke-dasharray="8 4"/>
<path d="M843.5 644.1 L840.8 645.3 L838.2 647.4 L835.8 650.2 L833.8 653.5 L832.1 657.1 L831.0 660.9 L830.4 664.8 L830.5 668.4 L831.1 671.7 L832.3 674.4" fill="none" stroke="#fff" stroke-width="1.3" stroke-dasharray="8 4"/>
<path d="M852.1 647.2 L849.4 648.5 L846.8 650.6 L844.4 653.3 L842.4 656.6 L840.7 660.3 L839.6 664.1 L839.1 668.0 L839.1 671.6 L839.7 674.9 L840.9 677.6" fill="none" stroke="#fff" stroke-width="1.3" stroke-dasharray="8 4"/>
<path d="M860.7 650.4 L858.1 651.7 L855.5 653.8 L853.1 656.5 L851.0 659.8 L849.4 663.5 L848.2 667.3 L847.7 671.1 L847.7 674.8 L848.4 678.0 L849.6 680.7" fill="none" stroke="#fff" stroke-width="1.3" stroke-dasharray="8 4"/>
<path d="M869.3 653.6 L866.7 654.9 L864.1 656.9 L861.7 659.7 L859.6 663.0 L858.0 666.6 L856.9 670.5 L856.3 674.3 L856.4 677.9 L857.0 681.2 L858.2 683.9" fill="none" stroke="#fff" stroke-width="1.3" stroke-dasharray="8 4"/>
<path d="M878.0 656.8 L875.3 658.0 L872.7 660.1 L870.3 662.9 L868.3 666.1 L866.6 669.8 L865.5 673.6 L864.9 677.5 L865.0 681.1 L865.6 684.4 L866.8 687.1" fill="none" stroke="#fff" stroke-width="1.3" stroke-dasharray="8 4"/>
<ellipse cx="885.3" cy="676.7" rx="12.9" ry="7.8" transform="rotate(110.19 885.3 676.7)" fill="#fff" stroke="#000" stroke-width="0.1"/>
<path d="M871.6 671.6 L898.2 681.4" fill="none" stroke="#000" stroke-width="3.6" stroke-linejoin="miter"/>
<path d="M57.6 504.0 L107.5 480.6 L116.1 483.8 L68.2 508.2Z" fill="#fff" stroke="#000" stroke-width="2.6" stroke-linejoin="round"/>
<path d="M68.2 508.2 L116.1 483.8 L116.1 584.0 L102.6 601.5 L94.1 599.0 L89.1 559.0 L85.1 566.0 L79.1 611.5 L68.2 609.0Z" fill="#fff" stroke="#000" stroke-width="3" stroke-linejoin="round"/>
<path d="M57.6 504.0 L68.2 508.2 L68.2 609.0 L57.6 603.0Z" fill="#fff" stroke="#000" stroke-width="2.6" stroke-linejoin="round"/>
<path d="M84.6 566.0 L84.6 533.0 Q90.8 522.0 97.1 533.0 L97.1 559.0" fill="#fff" stroke="#000" stroke-width="3"/>
<path d="M89.1 559.0 L94.1 599.0" fill="none" stroke="#000" stroke-width="3" stroke-linejoin="miter"/>
<path d="M157.5 607.6 L154.0 605.6 L151.2 602.2 L149.2 597.7 L148.2 592.3 L148.1 586.3 L149.0 580.0 L150.9 573.6 L153.6 567.6 L157.0 562.2 L160.9 557.6 L165.2 554.2 L169.6 552.1 L173.9 551.3 L177.9 552.0 L210.0 563.8 L213.5 565.9 L216.3 569.2 L218.3 573.7 L219.3 579.1 L219.4 585.1 L218.5 591.5 L216.6 597.8 L213.9 603.9 L210.5 609.3 L206.6 613.8 L202.3 617.2 L197.9 619.4 L193.6 620.1 L189.6 619.5Z" fill="#fff" stroke="#000" stroke-width="3" stroke-linejoin="round"/>
<ellipse cx="199.8" cy="591.6" rx="29.6" ry="17.9" transform="rotate(110.19 199.8 591.6)" fill="#fff" stroke="#000" stroke-width="3"/>
<path d="M206.0 563.1 L201.7 563.9 L197.3 566.0 L193.0 569.4 L189.1 574.0 L185.6 579.4 L182.9 585.4 L181.1 591.8 L180.2 598.1 L180.2 604.1 L181.3 609.5 L183.3 614.0 L186.1 617.4" fill="none" stroke="#000" stroke-width="5.5" stroke-linejoin="miter"/>
<path d="M343.5 656.2 L342.2 655.4 L341.2 654.2 L340.4 652.5 L340.1 650.5 L340.0 648.3 L340.4 646.0 L341.1 643.6 L342.1 641.4 L343.3 639.4 L344.8 637.7 L346.4 636.4 L348.0 635.6 L349.6 635.3 L351.1 635.6 L356.5 637.6 L357.8 638.4 L358.8 639.6 L359.6 641.3 L359.9 643.3 L360.0 645.5 L359.6 647.8 L358.9 650.2 L357.9 652.4 L356.7 654.4 L355.2 656.1 L353.6 657.4 L352.0 658.2 L350.4 658.5 L348.9 658.2Z" fill="#fff" stroke="#000" stroke-width="3" stroke-linejoin="round"/>
<ellipse cx="352.7" cy="647.9" rx="11.0" ry="6.6" transform="rotate(110.19 352.7 647.9)" fill="#fff" stroke="#000" stroke-width="3"/>
<path d="M283.4 650.5 L280.3 648.6 L277.8 645.6 L276.1 641.7 L275.1 636.9 L275.1 631.5 L275.9 625.9 L277.5 620.2 L279.9 614.9 L283.0 610.1 L286.5 606.0 L290.3 603.0 L294.2 601.1 L298.1 600.4 L301.6 601.0 L342.2 615.9 L345.3 617.8 L347.8 620.8 L349.5 624.8 L350.5 629.6 L350.5 634.9 L349.7 640.5 L348.1 646.2 L345.7 651.6 L342.6 656.4 L339.1 660.4 L335.3 663.4 L331.4 665.4 L327.5 666.0 L324.0 665.4Z" fill="#fff" stroke="#000" stroke-width="3" stroke-linejoin="round"/>
<path d="M310.5 604.3 L307.0 603.7 L303.1 604.4 L299.2 606.3 L295.4 609.3 L291.9 613.3 L288.9 618.2 L286.5 623.5 L284.8 629.2 L284.0 634.8 L284.1 640.1 L285.0 644.9 L286.7 648.9 L289.2 651.9 L292.3 653.8" fill="none" stroke="#000" stroke-width="3.6" stroke-linejoin="miter"/>
<path d="M318.9 607.4 L315.4 606.8 L311.5 607.4 L307.6 609.3 L303.8 612.4 L300.3 616.4 L297.3 621.2 L294.9 626.6 L293.2 632.2 L292.4 637.9 L292.4 643.2 L293.4 648.0 L295.1 652.0 L297.6 655.0 L300.7 656.9" fill="none" stroke="#000" stroke-width="3.6" stroke-linejoin="miter"/>
<path d="M327.3 610.5 L323.7 609.9 L319.9 610.5 L316.0 612.4 L312.2 615.5 L308.7 619.5 L305.6 624.3 L303.2 629.7 L301.6 635.3 L300.8 641.0 L300.8 646.3 L301.8 651.1 L303.5 655.1 L306.0 658.1 L309.1 659.9" fill="none" stroke="#000" stroke-width="3.6" stroke-linejoin="miter"/>
<path d="M335.7 613.6 L332.1 612.9 L328.3 613.6 L324.4 615.5 L320.6 618.6 L317.0 622.6 L314.0 627.4 L311.6 632.8 L310.0 638.4 L309.2 644.1 L309.2 649.4 L310.1 654.2 L311.9 658.2 L314.4 661.2 L317.5 663.0" fill="none" stroke="#000" stroke-width="3.6" stroke-linejoin="miter"/>
<ellipse cx="333.1" cy="640.7" rx="26.4" ry="16.0" transform="rotate(110.19 333.1 640.7)" fill="#fff" stroke="#000" stroke-width="3"/>
<ellipse cx="333.1" cy="640.7" rx="19.0" ry="11.5" transform="rotate(110.19 333.1 640.7)" fill="none" stroke="#000" stroke-width="2.5"/>
<ellipse cx="333.1" cy="640.7" rx="11.9" ry="7.2" transform="rotate(110.19 333.1 640.7)" fill="#fff" stroke="#000" stroke-width="2.5"/>
<path d="M249.8 642.8 L246.2 640.6 L243.3 637.2 L241.3 632.5 L240.2 626.9 L240.1 620.7 L241.0 614.1 L243.0 607.5 L245.8 601.3 L249.3 595.6 L253.4 590.9 L257.8 587.4 L262.4 585.2 L266.9 584.4 L271.1 585.1 L296.2 594.3 L299.8 596.5 L302.7 600.0 L304.7 604.6 L305.8 610.2 L305.9 616.5 L305.0 623.0 L303.0 629.6 L300.2 635.9 L296.7 641.5 L292.6 646.2 L288.2 649.8 L283.6 652.0 L279.1 652.8 L274.9 652.0Z" fill="#fff" stroke="#000" stroke-width="3" stroke-linejoin="round"/>
<ellipse cx="285.6" cy="623.2" rx="30.7" ry="18.6" transform="rotate(110.19 285.6 623.2)" fill="#fff" stroke="#000" stroke-width="3"/>
<ellipse cx="285.6" cy="623.2" rx="22.1" ry="13.4" transform="rotate(110.19 285.6 623.2)" fill="none" stroke="#000" stroke-width="2.5"/>
<path d="M361.8 680.5 L358.5 678.6 L355.9 675.4 L354.1 671.3 L353.1 666.3 L353.1 660.7 L353.9 654.9 L355.7 649.0 L358.2 643.4 L361.3 638.4 L365.0 634.2 L368.9 631.0 L373.0 629.0 L377.0 628.3 L380.7 629.0 L407.7 638.9 L411.0 640.8 L413.6 643.9 L415.4 648.1 L416.4 653.1 L416.4 658.6 L415.6 664.5 L413.8 670.4 L411.3 676.0 L408.2 681.0 L404.5 685.2 L400.6 688.4 L396.5 690.4 L392.5 691.1 L388.8 690.4Z" fill="#fff" stroke="#000" stroke-width="3" stroke-linejoin="round"/>
<ellipse cx="398.2" cy="664.7" rx="27.5" ry="16.6" transform="rotate(110.19 398.2 664.7)" fill="#fff" stroke="#000" stroke-width="3"/>
<ellipse cx="398.2" cy="664.7" rx="19.8" ry="12.0" transform="rotate(110.19 398.2 664.7)" fill="none" stroke="#000" stroke-width="2.5"/>
<ellipse cx="398.2" cy="664.7" rx="12.4" ry="7.5" transform="rotate(110.19 398.2 664.7)" fill="#fff" stroke="#000" stroke-width="2.5"/>
<path d="M399.0 684.8 L396.8 683.5 L395.0 681.4 L393.8 678.6 L393.1 675.2 L393.1 671.4 L393.6 667.4 L394.8 663.4 L396.5 659.6 L398.7 656.2 L401.1 653.3 L403.8 651.2 L406.6 649.8 L409.3 649.3 L411.9 649.8 L422.0 653.5 L424.2 654.8 L426.0 656.9 L427.2 659.8 L427.9 663.2 L427.9 667.0 L427.4 670.9 L426.2 674.9 L424.5 678.7 L422.3 682.2 L419.9 685.0 L417.2 687.2 L414.4 688.5 L411.7 689.0 L409.1 688.6Z" fill="#fff" stroke="#000" stroke-width="3" stroke-linejoin="round"/>
<ellipse cx="415.6" cy="671.0" rx="18.7" ry="11.3" transform="rotate(110.19 415.6 671.0)" fill="#fff" stroke="#000" stroke-width="3"/>
<ellipse cx="415.6" cy="671.0" rx="13.4" ry="8.1" transform="rotate(110.19 415.6 671.0)" fill="none" stroke="#000" stroke-width="2.5"/>
<ellipse cx="415.6" cy="671.0" rx="7.5" ry="4.5" transform="rotate(110.19 415.6 671.0)" fill="#fff" stroke="#000" stroke-width="2.5"/>
<path d="M488.9 710.9 L487.4 710.0 L486.3 708.7 L485.5 706.8 L485.1 704.6 L485.0 702.2 L485.4 699.6 L486.2 697.0 L487.3 694.6 L488.7 692.3 L490.3 690.5 L492.0 689.1 L493.8 688.2 L495.6 687.9 L497.2 688.2 L522.1 697.4 L523.6 698.2 L524.7 699.6 L525.5 701.4 L525.9 703.6 L526.0 706.1 L525.6 708.7 L524.8 711.2 L523.7 713.7 L522.3 715.9 L520.7 717.8 L519.0 719.2 L517.2 720.0 L515.4 720.3 L513.8 720.1Z" fill="#fff" stroke="#000" stroke-width="3" stroke-linejoin="round"/>
<ellipse cx="518.0" cy="708.7" rx="12.1" ry="7.3" transform="rotate(110.19 518.0 708.7)" fill="#fff" stroke="#000" stroke-width="3"/>
<path d="M429.4 704.2 L426.3 702.4 L423.8 699.4 L422.1 695.4 L421.1 690.6 L421.1 685.2 L421.9 679.6 L423.5 674.0 L425.9 668.6 L429.0 663.8 L432.5 659.7 L436.3 656.7 L440.2 654.8 L444.1 654.1 L447.6 654.7 L485.6 668.7 L488.7 670.6 L491.2 673.6 L492.9 677.5 L493.9 682.3 L493.9 687.7 L493.1 693.3 L491.5 699.0 L489.1 704.3 L486.0 709.1 L482.5 713.2 L478.7 716.2 L474.8 718.1 L470.9 718.8 L467.4 718.2Z" fill="#fff" stroke="#000" stroke-width="3" stroke-linejoin="round"/>
<path d="M456.0 657.8 L452.4 657.2 L448.6 657.9 L444.6 659.8 L440.8 662.8 L437.3 666.9 L434.3 671.7 L431.9 677.0 L430.2 682.7 L429.4 688.3 L429.5 693.7 L430.4 698.5 L432.2 702.4 L434.7 705.4 L437.8 707.3" fill="none" stroke="#000" stroke-width="3.6" stroke-linejoin="miter"/>
<path d="M463.8 660.7 L460.3 660.1 L456.4 660.8 L452.5 662.7 L448.7 665.7 L445.2 669.7 L442.1 674.6 L439.7 679.9 L438.1 685.6 L437.3 691.2 L437.3 696.6 L438.3 701.3 L440.0 705.3 L442.5 708.3 L445.6 710.2" fill="none" stroke="#000" stroke-width="3.6" stroke-linejoin="miter"/>
<path d="M471.7 663.6 L468.1 663.0 L464.3 663.6 L460.3 665.5 L456.5 668.6 L453.0 672.6 L450.0 677.4 L447.6 682.8 L445.9 688.5 L445.1 694.1 L445.2 699.4 L446.1 704.2 L447.9 708.2 L450.4 711.2 L453.5 713.1" fill="none" stroke="#000" stroke-width="3.6" stroke-linejoin="miter"/>
<path d="M479.5 666.5 L475.9 665.9 L472.1 666.5 L468.2 668.4 L464.4 671.5 L460.9 675.5 L457.8 680.3 L455.4 685.7 L453.8 691.3 L453.0 697.0 L453.0 702.3 L454.0 707.1 L455.7 711.1 L458.2 714.1 L461.3 715.9" fill="none" stroke="#000" stroke-width="3.6" stroke-linejoin="miter"/>
<ellipse cx="476.5" cy="693.4" rx="26.4" ry="16.0" transform="rotate(110.19 476.5 693.4)" fill="#fff" stroke="#000" stroke-width="3"/>
<ellipse cx="476.5" cy="693.4" rx="19.0" ry="11.5" transform="rotate(110.19 476.5 693.4)" fill="none" stroke="#000" stroke-width="2.5"/>
<ellipse cx="476.5" cy="693.4" rx="11.9" ry="7.2" transform="rotate(110.19 476.5 693.4)" fill="#fff" stroke="#000" stroke-width="2.5"/>
<path d="M568.7 749.6 L566.2 748.1 L564.2 745.8 L562.8 742.6 L562.1 738.8 L562.1 734.6 L562.7 730.1 L564.0 725.7 L565.9 721.4 L568.3 717.6 L571.1 714.4 L574.1 712.0 L577.2 710.5 L580.3 710.0 L583.1 710.4 L667.3 741.4 L669.8 742.9 L671.8 745.3 L673.2 748.4 L673.9 752.2 L673.9 756.5 L673.3 760.9 L672.0 765.4 L670.1 769.6 L667.7 773.5 L664.9 776.6 L661.9 779.1 L658.8 780.6 L655.7 781.1 L652.9 780.6Z" fill="#000" stroke="#000" stroke-width="3" stroke-linejoin="round"/>
<path d="M581.2 714.8 L578.6 716.1 L576.0 718.1 L573.6 720.9 L571.5 724.2 L569.9 727.8 L568.8 731.7 L568.2 735.5 L568.3 739.1 L568.9 742.4 L570.1 745.1" fill="none" stroke="#fff" stroke-width="1.3" stroke-dasharray="8 4"/>
<path d="M589.7 717.9 L587.0 719.2 L584.4 721.2 L582.0 724.0 L579.9 727.3 L578.3 730.9 L577.2 734.8 L576.6 738.6 L576.7 742.2 L577.3 745.5 L578.5 748.2" fill="none" stroke="#fff" stroke-width="1.3" stroke-dasharray="8 4"/>
<path d="M598.1 721.0 L595.4 722.3 L592.8 724.3 L590.4 727.1 L588.4 730.4 L586.7 734.0 L585.6 737.9 L585.1 741.7 L585.1 745.3 L585.7 748.6 L586.9 751.3" fill="none" stroke="#fff" stroke-width="1.3" stroke-dasharray="8 4"/>
<path d="M606.5 724.1 L603.8 725.4 L601.3 727.4 L598.9 730.2 L596.8 733.5 L595.2 737.1 L594.0 741.0 L593.5 744.8 L593.5 748.4 L594.2 751.7 L595.4 754.4" fill="none" stroke="#fff" stroke-width="1.3" stroke-dasharray="8 4"/>
<path d="M614.9 727.2 L612.3 728.5 L609.7 730.5 L607.3 733.3 L605.2 736.6 L603.6 740.2 L602.5 744.1 L601.9 747.9 L602.0 751.5 L602.6 754.8 L603.8 757.5" fill="none" stroke="#fff" stroke-width="1.3" stroke-dasharray="8 4"/>
<path d="M623.4 730.3 L620.7 731.6 L618.1 733.6 L615.7 736.4 L613.7 739.7 L612.0 743.3 L610.9 747.2 L610.3 751.0 L610.4 754.6 L611.0 757.9 L612.2 760.6" fill="none" stroke="#fff" stroke-width="1.3" stroke-dasharray="8 4"/>
<path d="M631.8 733.4 L629.1 734.7 L626.5 736.7 L624.1 739.5 L622.1 742.8 L620.4 746.4 L619.3 750.3 L618.8 754.1 L618.8 757.7 L619.4 761.0 L620.6 763.7" fill="none" stroke="#fff" stroke-width="1.3" stroke-dasharray="8 4"/>
<path d="M640.2 736.5 L637.6 737.8 L635.0 739.8 L632.6 742.6 L630.5 745.9 L628.9 749.5 L627.7 753.4 L627.2 757.2 L627.2 760.8 L627.9 764.1 L629.1 766.8" fill="none" stroke="#fff" stroke-width="1.3" stroke-dasharray="8 4"/>
<path d="M648.6 739.6 L646.0 740.9 L643.4 742.9 L641.0 745.7 L638.9 749.0 L637.3 752.6 L636.2 756.5 L635.6 760.3 L635.7 763.9 L636.3 767.2 L637.5 769.9" fill="none" stroke="#fff" stroke-width="1.3" stroke-dasharray="8 4"/>
<path d="M657.1 742.7 L654.4 744.0 L651.8 746.0 L649.4 748.8 L647.4 752.1 L645.7 755.7 L644.6 759.6 L644.0 763.4 L644.1 767.0 L644.7 770.3 L645.9 773.0" fill="none" stroke="#fff" stroke-width="1.3" stroke-dasharray="8 4"/>
<ellipse cx="664.3" cy="762.6" rx="12.9" ry="7.8" transform="rotate(110.19 664.3 762.6)" fill="#fff" stroke="#000" stroke-width="0.1"/>
<path d="M650.6 757.5 L677.2 767.3" fill="none" stroke="#000" stroke-width="3.6" stroke-linejoin="miter"/>
<path d="M2103.1 797.3 L2101.9 796.6 L2101.0 795.5 L2100.4 794.0 L2100.0 792.2 L2100.0 790.1 L2100.4 788.0 L2101.0 785.9 L2101.9 783.9 L2103.1 782.1 L2104.4 780.6 L2105.8 779.5 L2107.3 778.8 L2108.7 778.6 L2110.1 778.9 L2156.9 797.3 L2158.1 798.1 L2159.0 799.2 L2159.6 800.7 L2160.0 802.5 L2160.0 804.5 L2159.6 806.7 L2159.0 808.8 L2158.1 810.8 L2156.9 812.6 L2155.6 814.1 L2154.2 815.2 L2152.7 815.9 L2151.3 816.1 L2149.9 815.8Z" fill="#fff" stroke="#000" stroke-width="3" stroke-linejoin="round"/>
<ellipse cx="2153.4" cy="806.6" rx="9.9" ry="6.0" transform="rotate(110.19 2153.4 806.6)" fill="#fff" stroke="#000" stroke-width="3"/>
<path d="M2074.5 801.4 L2071.7 799.7 L2069.5 796.9 L2067.9 793.2 L2067.1 788.7 L2067.1 783.8 L2067.9 778.6 L2069.5 773.5 L2071.7 768.6 L2074.5 764.2 L2077.7 760.5 L2081.2 757.8 L2084.8 756.1 L2088.3 755.6 L2091.6 756.2 L2114.5 765.3 L2117.3 767.0 L2119.5 769.8 L2121.1 773.5 L2121.9 778.0 L2121.9 782.9 L2121.1 788.1 L2119.5 793.2 L2117.3 798.1 L2114.5 802.5 L2111.3 806.1 L2107.8 808.9 L2104.2 810.5 L2100.7 811.1 L2097.4 810.5Z" fill="#fff" stroke="#000" stroke-width="3" stroke-linejoin="round"/>
<ellipse cx="2105.9" cy="787.9" rx="24.2" ry="14.6" transform="rotate(110.19 2105.9 787.9)" fill="#fff" stroke="#000" stroke-width="3"/>
<ellipse cx="2105.9" cy="787.9" rx="17.4" ry="10.5" transform="rotate(110.19 2105.9 787.9)" fill="none" stroke="#000" stroke-width="2.5"/>
<ellipse cx="2105.9" cy="787.9" rx="10.9" ry="6.6" transform="rotate(110.19 2105.9 787.9)" fill="#fff" stroke="#000" stroke-width="2.5"/>
<path d="M2155.7 828.7 L2153.4 827.3 L2151.5 825.0 L2150.2 821.9 L2149.6 818.3 L2149.6 814.3 L2150.2 810.0 L2151.5 805.8 L2153.3 801.8 L2155.6 798.2 L2158.3 795.2 L2161.2 793.0 L2164.1 791.6 L2167.0 791.2 L2169.6 791.7 L2178.8 795.4 L2181.1 796.8 L2183.0 799.1 L2184.3 802.1 L2184.9 805.7 L2184.9 809.8 L2184.3 814.0 L2183.0 818.2 L2181.2 822.2 L2178.9 825.8 L2176.2 828.8 L2173.3 831.0 L2170.4 832.4 L2167.5 832.9 L2164.9 832.3Z" fill="#fff" stroke="#000" stroke-width="3" stroke-linejoin="round"/>
<ellipse cx="2171.9" cy="813.8" rx="19.8" ry="12.0" transform="rotate(110.19 2171.9 813.8)" fill="#fff" stroke="#000" stroke-width="3"/>
<ellipse cx="2171.9" cy="813.8" rx="14.2" ry="8.6" transform="rotate(110.19 2171.9 813.8)" fill="none" stroke="#000" stroke-width="2.5"/>
<ellipse cx="2171.9" cy="813.8" rx="8.9" ry="5.4" transform="rotate(110.19 2171.9 813.8)" fill="#fff" stroke="#000" stroke-width="2.5"/>
<path d="M2186.2 840.7 L2183.9 839.3 L2182.0 837.0 L2180.7 834.0 L2180.1 830.3 L2180.1 826.3 L2180.7 822.1 L2182.0 817.8 L2183.8 813.8 L2186.1 810.3 L2188.8 807.3 L2191.7 805.0 L2194.6 803.7 L2197.5 803.2 L2200.1 803.7 L2223.8 813.1 L2226.1 814.5 L2228.0 816.8 L2229.3 819.9 L2229.9 823.5 L2229.9 827.5 L2229.3 831.8 L2228.0 836.0 L2226.2 840.0 L2223.9 843.6 L2221.2 846.6 L2218.3 848.8 L2215.4 850.2 L2212.5 850.6 L2209.9 850.1Z" fill="#fff" stroke="#000" stroke-width="3" stroke-linejoin="round"/>
<ellipse cx="2216.9" cy="831.6" rx="19.8" ry="12.0" transform="rotate(110.19 2216.9 831.6)" fill="#fff" stroke="#000" stroke-width="3"/>
<ellipse cx="2216.9" cy="831.6" rx="14.2" ry="8.6" transform="rotate(110.19 2216.9 831.6)" fill="none" stroke="#000" stroke-width="2.5"/>
<ellipse cx="2216.9" cy="831.6" rx="8.9" ry="5.4" transform="rotate(110.19 2216.9 831.6)" fill="#fff" stroke="#000" stroke-width="2.5"/>
<path d="M2289.1 874.2 L2287.6 873.3 L2286.3 871.8 L2285.5 869.7 L2285.1 867.3 L2285.1 864.6 L2285.5 861.8 L2286.3 859.0 L2287.6 856.3 L2289.1 853.9 L2290.9 851.9 L2292.8 850.5 L2294.7 849.5 L2296.6 849.2 L2298.4 849.6 L2337.9 865.2 L2339.4 866.1 L2340.7 867.6 L2341.5 869.7 L2341.9 872.1 L2341.9 874.8 L2341.5 877.6 L2340.7 880.4 L2339.4 883.1 L2337.9 885.5 L2336.1 887.5 L2334.2 888.9 L2332.3 889.9 L2330.4 890.2 L2328.6 889.8Z" fill="#fff" stroke="#000" stroke-width="3" stroke-linejoin="round"/>
<ellipse cx="2333.2" cy="877.5" rx="13.2" ry="8.0" transform="rotate(110.19 2333.2 877.5)" fill="#fff" stroke="#000" stroke-width="3"/>
<path d="M2233.1 867.5 L2229.9 865.5 L2227.3 862.3 L2225.5 858.1 L2224.6 853.0 L2224.6 847.5 L2225.5 841.6 L2227.3 835.7 L2229.8 830.1 L2233.0 825.2 L2236.7 821.0 L2240.7 817.9 L2244.8 816.0 L2248.8 815.4 L2252.4 816.1 L2285.9 829.3 L2289.1 831.3 L2291.7 834.5 L2293.5 838.7 L2294.4 843.8 L2294.4 849.4 L2293.5 855.2 L2291.7 861.1 L2289.2 866.7 L2286.0 871.6 L2282.3 875.8 L2278.3 878.9 L2274.2 880.8 L2270.2 881.4 L2266.6 880.7Z" fill="#fff" stroke="#000" stroke-width="3" stroke-linejoin="round"/>
<ellipse cx="2276.2" cy="855.0" rx="27.5" ry="16.6" transform="rotate(110.19 2276.2 855.0)" fill="#fff" stroke="#000" stroke-width="3"/>
<ellipse cx="2276.2" cy="855.0" rx="19.8" ry="12.0" transform="rotate(110.19 2276.2 855.0)" fill="none" stroke="#000" stroke-width="2.5"/>
<ellipse cx="2276.2" cy="855.0" rx="12.4" ry="7.5" transform="rotate(110.19 2276.2 855.0)" fill="#fff" stroke="#000" stroke-width="2.5"/>
<path d="M2391.6 874.5 L2388.3 873.9 L2384.8 874.4 L2381.2 876.1 L2377.7 878.8 L2374.5 882.5 L2371.7 886.9 L2369.5 891.8 L2367.9 896.9 L2367.1 902.1 L2367.1 907.0 L2367.9 911.5 L2369.5 915.2 L2371.7 918.0 L2374.5 919.7" fill="none" stroke="#000" stroke-width="3.6" stroke-linejoin="miter"/>
<path d="M2396.6 876.5 L2399.4 878.3 L2401.6 881.1 L2403.2 884.8 L2404.0 889.2 L2404.0 894.1 L2403.2 899.3 L2401.7 904.5 L2399.4 909.4 L2396.6 913.7 L2393.4 917.4 L2389.9 920.1 L2386.3 921.8 L2382.8 922.3 L2379.5 921.7" fill="none" stroke="#000" stroke-width="2.8800000000000003" stroke-linejoin="miter"/>
<path d="M2393.2 877.8 L2390.3 877.2 L2387.2 877.7 L2383.9 879.2 L2380.8 881.7 L2377.9 884.9 L2375.3 888.9 L2373.3 893.3 L2371.9 897.9 L2371.2 902.6 L2371.2 907.0 L2371.9 911.0 L2373.3 914.3 L2375.4 916.9 L2377.9 918.5" fill="none" stroke="#000" stroke-width="2.52" stroke-linejoin="miter"/>
<path d="M2401.8 878.5 L2398.5 877.9 L2395.0 878.4 L2391.4 880.1 L2387.9 882.9 L2384.7 886.5 L2381.9 890.9 L2379.6 895.8 L2378.1 900.9 L2377.3 906.1 L2377.3 911.0 L2378.1 915.5 L2379.7 919.2 L2381.9 922.0 L2384.7 923.7" fill="none" stroke="#000" stroke-width="3.6" stroke-linejoin="miter"/>
<path d="M2406.8 880.5 L2409.6 882.3 L2411.8 885.1 L2413.4 888.8 L2414.2 893.2 L2414.2 898.1 L2413.4 903.3 L2411.8 908.5 L2409.6 913.4 L2406.8 917.8 L2403.6 921.4 L2400.1 924.1 L2396.5 925.8 L2393.0 926.3 L2389.7 925.7" fill="none" stroke="#000" stroke-width="2.8800000000000003" stroke-linejoin="miter"/>
<path d="M2403.4 881.8 L2400.5 881.2 L2397.3 881.7 L2394.1 883.2 L2391.0 885.7 L2388.0 888.9 L2385.5 892.9 L2383.5 897.3 L2382.1 901.9 L2381.4 906.6 L2381.4 911.0 L2382.1 915.0 L2383.5 918.4 L2385.5 920.9 L2388.1 922.5" fill="none" stroke="#000" stroke-width="2.52" stroke-linejoin="miter"/>
<path d="M2411.9 882.6 L2408.7 881.9 L2405.2 882.5 L2401.6 884.1 L2398.1 886.9 L2394.9 890.5 L2392.1 894.9 L2389.8 899.8 L2388.3 905.0 L2387.5 910.1 L2387.5 915.1 L2388.3 919.5 L2389.8 923.2 L2392.1 926.0 L2394.9 927.8" fill="none" stroke="#000" stroke-width="3.6" stroke-linejoin="miter"/>
<path d="M2416.9 884.5 L2419.8 886.3 L2422.0 889.1 L2423.6 892.8 L2424.4 897.2 L2424.4 902.2 L2423.6 907.3 L2422.0 912.5 L2419.8 917.4 L2417.0 921.8 L2413.7 925.4 L2410.2 928.1 L2406.6 929.8 L2403.1 930.4 L2399.9 929.7" fill="none" stroke="#000" stroke-width="2.8800000000000003" stroke-linejoin="miter"/>
<path d="M2413.6 885.8 L2410.7 885.2 L2407.5 885.7 L2404.3 887.2 L2401.1 889.7 L2398.2 893.0 L2395.7 896.9 L2393.7 901.3 L2392.3 906.0 L2391.6 910.6 L2391.6 915.0 L2392.3 919.0 L2393.7 922.4 L2395.7 924.9 L2398.2 926.5" fill="none" stroke="#000" stroke-width="2.52" stroke-linejoin="miter"/>
<path d="M2422.1 886.6 L2418.9 885.9 L2415.4 886.5 L2411.8 888.2 L2408.3 890.9 L2405.0 894.5 L2402.2 898.9 L2400.0 903.8 L2398.4 909.0 L2397.6 914.1 L2397.6 919.1 L2398.4 923.5 L2400.0 927.2 L2402.3 930.0 L2405.1 931.8" fill="none" stroke="#000" stroke-width="3.6" stroke-linejoin="miter"/>
<path d="M2427.1 888.5 L2429.9 890.3 L2432.2 893.1 L2433.8 896.8 L2434.6 901.2 L2434.6 906.2 L2433.8 911.3 L2432.2 916.5 L2430.0 921.4 L2427.2 925.8 L2423.9 929.4 L2420.4 932.2 L2416.8 933.8 L2413.3 934.4 L2410.1 933.7" fill="none" stroke="#000" stroke-width="2.8800000000000003" stroke-linejoin="miter"/>
<path d="M2423.8 889.8 L2420.9 889.2 L2417.7 889.7 L2414.5 891.2 L2411.3 893.7 L2408.4 897.0 L2405.9 900.9 L2403.9 905.3 L2402.5 910.0 L2401.7 914.6 L2401.7 919.1 L2402.5 923.0 L2403.9 926.4 L2405.9 928.9 L2408.4 930.5" fill="none" stroke="#000" stroke-width="2.52" stroke-linejoin="miter"/>
<path d="M2432.3 890.6 L2429.1 890.0 L2425.6 890.5 L2422.0 892.2 L2418.5 894.9 L2415.2 898.5 L2412.4 902.9 L2410.2 907.8 L2408.6 913.0 L2407.8 918.2 L2407.8 923.1 L2408.6 927.5 L2410.2 931.2 L2412.4 934.0 L2415.3 935.8" fill="none" stroke="#000" stroke-width="3.6" stroke-linejoin="miter"/>
<path d="M2437.3 892.6 L2440.1 894.3 L2442.4 897.1 L2443.9 900.8 L2444.7 905.3 L2444.7 910.2 L2443.9 915.4 L2442.4 920.5 L2440.1 925.4 L2437.3 929.8 L2434.1 933.4 L2430.6 936.2 L2427.0 937.8 L2423.5 938.4 L2420.3 937.8" fill="none" stroke="#000" stroke-width="2.8800000000000003" stroke-linejoin="miter"/>
<path d="M2434.0 893.8 L2431.0 893.3 L2427.9 893.7 L2424.6 895.3 L2421.5 897.7 L2418.6 901.0 L2416.0 904.9 L2414.0 909.3 L2412.6 914.0 L2411.9 918.6 L2411.9 923.1 L2412.6 927.1 L2414.0 930.4 L2416.1 932.9 L2418.6 934.5" fill="none" stroke="#000" stroke-width="2.52" stroke-linejoin="miter"/>
<path d="M2442.5 894.6 L2439.2 894.0 L2435.7 894.5 L2432.1 896.2 L2428.6 898.9 L2425.4 902.6 L2422.6 906.9 L2420.4 911.8 L2418.8 917.0 L2418.0 922.2 L2418.0 927.1 L2418.8 931.5 L2420.4 935.2 L2422.6 938.0 L2425.4 939.8" fill="none" stroke="#000" stroke-width="3.6" stroke-linejoin="miter"/>
<path d="M2447.5 896.6 L2450.3 898.3 L2452.5 901.1 L2454.1 904.8 L2454.9 909.3 L2454.9 914.2 L2454.1 919.4 L2452.6 924.5 L2450.3 929.4 L2447.5 933.8 L2444.3 937.5 L2440.8 940.2 L2437.2 941.9 L2433.7 942.4 L2430.4 941.8" fill="none" stroke="#000" stroke-width="2.8800000000000003" stroke-linejoin="miter"/>
<path d="M2444.1 897.8 L2441.2 897.3 L2438.1 897.8 L2434.8 899.3 L2431.7 901.7 L2428.8 905.0 L2426.2 908.9 L2424.2 913.4 L2422.8 918.0 L2422.1 922.7 L2422.1 927.1 L2422.8 931.1 L2424.2 934.4 L2426.3 936.9 L2428.8 938.5" fill="none" stroke="#000" stroke-width="2.52" stroke-linejoin="miter"/>
<path d="M2452.7 898.6 L2449.4 898.0 L2445.9 898.5 L2442.3 900.2 L2438.8 902.9 L2435.6 906.6 L2432.8 910.9 L2430.5 915.8 L2429.0 921.0 L2428.2 926.2 L2428.2 931.1 L2429.0 935.5 L2430.6 939.2 L2432.8 942.1 L2435.6 943.8" fill="none" stroke="#000" stroke-width="3.6" stroke-linejoin="miter"/>
<path d="M2457.7 900.6 L2460.5 902.3 L2462.7 905.1 L2464.3 908.9 L2465.1 913.3 L2465.1 918.2 L2464.3 923.4 L2462.7 928.5 L2460.5 933.4 L2457.7 937.8 L2454.5 941.5 L2451.0 944.2 L2447.4 945.9 L2443.9 946.4 L2440.6 945.8" fill="none" stroke="#000" stroke-width="2.8800000000000003" stroke-linejoin="miter"/>
<path d="M2454.3 901.9 L2451.4 901.3 L2448.2 901.8 L2445.0 903.3 L2441.9 905.7 L2438.9 909.0 L2436.4 913.0 L2434.4 917.4 L2433.0 922.0 L2432.3 926.7 L2432.3 931.1 L2433.0 935.1 L2434.4 938.4 L2436.4 941.0 L2439.0 942.5" fill="none" stroke="#000" stroke-width="2.52" stroke-linejoin="miter"/>
<path d="M2462.8 902.6 L2459.6 902.0 L2456.1 902.5 L2452.5 904.2 L2449.0 906.9 L2445.8 910.6 L2443.0 915.0 L2440.7 919.9 L2439.2 925.0 L2438.4 930.2 L2438.4 935.1 L2439.2 939.5 L2440.7 943.3 L2443.0 946.1 L2445.8 947.8" fill="none" stroke="#000" stroke-width="3.6" stroke-linejoin="miter"/>
<path d="M2467.8 904.6 L2470.7 906.4 L2472.9 909.2 L2474.5 912.9 L2475.3 917.3 L2475.3 922.2 L2474.5 927.4 L2472.9 932.6 L2470.7 937.5 L2467.9 941.8 L2464.6 945.5 L2461.1 948.2 L2457.5 949.9 L2454.0 950.4 L2450.8 949.8" fill="none" stroke="#000" stroke-width="2.8800000000000003" stroke-linejoin="miter"/>
<path d="M2464.5 905.9 L2461.6 905.3 L2458.4 905.8 L2455.2 907.3 L2452.0 909.8 L2449.1 913.0 L2446.6 917.0 L2444.6 921.4 L2443.2 926.0 L2442.5 930.7 L2442.5 935.1 L2443.2 939.1 L2444.6 942.4 L2446.6 945.0 L2449.1 946.6" fill="none" stroke="#000" stroke-width="2.52" stroke-linejoin="miter"/>
<path d="M2473.0 906.6 L2469.8 906.0 L2466.3 906.5 L2462.7 908.2 L2459.2 911.0 L2455.9 914.6 L2453.1 919.0 L2450.9 923.9 L2449.3 929.0 L2448.5 934.2 L2448.5 939.1 L2449.3 943.6 L2450.9 947.3 L2453.2 950.1 L2456.0 951.8" fill="none" stroke="#000" stroke-width="3.6" stroke-linejoin="miter"/>
<path d="M2478.0 908.6 L2480.8 910.4 L2483.1 913.2 L2484.7 916.9 L2485.5 921.3 L2485.5 926.2 L2484.7 931.4 L2483.1 936.6 L2480.9 941.5 L2478.1 945.9 L2474.8 949.5 L2471.3 952.2 L2467.7 953.9 L2464.2 954.4 L2461.0 953.8" fill="none" stroke="#000" stroke-width="2.8800000000000003" stroke-linejoin="miter"/>
<path d="M2474.7 909.9 L2471.8 909.3 L2468.6 909.8 L2465.4 911.3 L2462.2 913.8 L2459.3 917.0 L2456.8 921.0 L2454.8 925.4 L2453.4 930.0 L2452.6 934.7 L2452.6 939.1 L2453.4 943.1 L2454.8 946.5 L2456.8 949.0 L2459.3 950.6" fill="none" stroke="#000" stroke-width="2.52" stroke-linejoin="miter"/>
<path d="M2483.2 910.7 L2480.0 910.0 L2476.5 910.6 L2472.9 912.2 L2469.4 915.0 L2466.1 918.6 L2463.3 923.0 L2461.1 927.9 L2459.5 933.1 L2458.7 938.2 L2458.7 943.1 L2459.5 947.6 L2461.1 951.3 L2463.3 954.1 L2466.2 955.9" fill="none" stroke="#000" stroke-width="3.6" stroke-linejoin="miter"/>
<path d="M2488.2 912.6 L2491.0 914.4 L2493.3 917.2 L2494.8 920.9 L2495.6 925.3 L2495.6 930.3 L2494.8 935.4 L2493.3 940.6 L2491.0 945.5 L2488.2 949.9 L2485.0 953.5 L2481.5 956.2 L2477.9 957.9 L2474.4 958.5 L2471.2 957.8" fill="none" stroke="#000" stroke-width="2.8800000000000003" stroke-linejoin="miter"/>
<path d="M2484.9 913.9 L2481.9 913.3 L2478.8 913.8 L2475.5 915.3 L2472.4 917.8 L2469.5 921.1 L2466.9 925.0 L2464.9 929.4 L2463.5 934.1 L2462.8 938.7 L2462.8 943.1 L2463.5 947.1 L2464.9 950.5 L2467.0 953.0 L2469.5 954.6" fill="none" stroke="#000" stroke-width="2.52" stroke-linejoin="miter"/>
<path d="M2493.4 914.7 L2490.1 914.0 L2486.6 914.6 L2483.0 916.2 L2479.5 919.0 L2476.3 922.6 L2473.5 927.0 L2471.3 931.9 L2469.7 937.1 L2468.9 942.2 L2468.9 947.2 L2469.7 951.6 L2471.3 955.3 L2473.5 958.1 L2476.3 959.9" fill="none" stroke="#000" stroke-width="3.6" stroke-linejoin="miter"/>
<path d="M2498.4 916.6 L2501.2 918.4 L2503.4 921.2 L2505.0 924.9 L2505.8 929.3 L2505.8 934.3 L2505.0 939.4 L2503.5 944.6 L2501.2 949.5 L2498.4 953.9 L2495.2 957.5 L2491.7 960.3 L2488.1 961.9 L2484.6 962.5 L2481.3 961.8" fill="none" stroke="#000" stroke-width="2.8800000000000003" stroke-linejoin="miter"/>
<path d="M2495.0 917.9 L2492.1 917.3 L2489.0 917.8 L2485.7 919.3 L2482.6 921.8 L2479.7 925.1 L2477.1 929.0 L2475.1 933.4 L2473.7 938.1 L2473.0 942.7 L2473.0 947.2 L2473.7 951.1 L2475.1 954.5 L2477.2 957.0 L2479.7 958.6" fill="none" stroke="#000" stroke-width="2.52" stroke-linejoin="miter"/>
<path d="M2503.6 918.7 L2500.3 918.1 L2496.8 918.6 L2493.2 920.3 L2489.7 923.0 L2486.5 926.6 L2483.7 931.0 L2481.4 935.9 L2479.9 941.1 L2479.1 946.3 L2479.1 951.2 L2479.9 955.6 L2481.5 959.3 L2483.7 962.1 L2486.5 963.9" fill="none" stroke="#000" stroke-width="3.6" stroke-linejoin="miter"/>
<path d="M2508.6 920.6 L2511.4 922.4 L2513.6 925.2 L2515.2 928.9 L2516.0 933.4 L2516.0 938.3 L2515.2 943.5 L2513.6 948.6 L2511.4 953.5 L2508.6 957.9 L2505.4 961.5 L2501.9 964.3 L2498.3 965.9 L2494.8 966.5 L2491.5 965.9" fill="none" stroke="#000" stroke-width="2.8800000000000003" stroke-linejoin="miter"/>
<path d="M2505.2 921.9 L2502.3 921.4 L2499.1 921.8 L2495.9 923.4 L2492.8 925.8 L2489.8 929.1 L2487.3 933.0 L2485.3 937.4 L2483.9 942.1 L2483.2 946.7 L2483.2 951.2 L2483.9 955.2 L2485.3 958.5 L2487.3 961.0 L2489.9 962.6" fill="none" stroke="#000" stroke-width="2.52" stroke-linejoin="miter"/>
<path d="M2513.7 922.7 L2510.5 922.1 L2507.0 922.6 L2503.4 924.3 L2499.9 927.0 L2496.7 930.7 L2493.9 935.0 L2491.6 939.9 L2490.1 945.1 L2489.3 950.3 L2489.3 955.2 L2490.1 959.6 L2491.6 963.3 L2493.9 966.1 L2496.7 967.9" fill="none" stroke="#000" stroke-width="3.6" stroke-linejoin="miter"/>
<path d="M2518.7 924.7 L2521.6 926.4 L2523.8 929.2 L2525.4 932.9 L2526.2 937.4 L2526.2 942.3 L2525.4 947.5 L2523.8 952.6 L2521.6 957.5 L2518.8 961.9 L2515.5 965.6 L2512.0 968.3 L2508.4 970.0 L2504.9 970.5 L2501.7 969.9" fill="none" stroke="#000" stroke-width="2.8800000000000003" stroke-linejoin="miter"/>
<path d="M2515.4 925.9 L2512.5 925.4 L2509.3 925.9 L2506.1 927.4 L2502.9 929.8 L2500.0 933.1 L2497.5 937.0 L2495.5 941.5 L2494.1 946.1 L2493.4 950.8 L2493.4 955.2 L2494.1 959.2 L2495.5 962.5 L2497.5 965.0 L2500.0 966.6" fill="none" stroke="#000" stroke-width="2.52" stroke-linejoin="miter"/>
<path d="M2523.9 926.7 L2520.7 926.1 L2517.2 926.6 L2513.6 928.3 L2510.1 931.0 L2506.8 934.7 L2504.0 939.0 L2501.8 943.9 L2500.2 949.1 L2499.4 954.3 L2499.4 959.2 L2500.2 963.6 L2501.8 967.3 L2504.1 970.1 L2506.9 971.9" fill="none" stroke="#000" stroke-width="3.6" stroke-linejoin="miter"/>
<path d="M2528.9 928.7 L2531.7 930.4 L2534.0 933.2 L2535.6 937.0 L2536.4 941.4 L2536.4 946.3 L2535.6 951.5 L2534.0 956.6 L2531.8 961.5 L2529.0 965.9 L2525.7 969.6 L2522.2 972.3 L2518.6 974.0 L2515.1 974.5 L2511.9 973.9" fill="none" stroke="#000" stroke-width="2.8800000000000003" stroke-linejoin="miter"/>
<path d="M2525.6 930.0 L2522.7 929.4 L2519.5 929.9 L2516.3 931.4 L2513.1 933.8 L2510.2 937.1 L2507.7 941.1 L2505.7 945.5 L2504.3 950.1 L2503.5 954.8 L2503.5 959.2 L2504.3 963.2 L2505.7 966.5 L2507.7 969.1 L2510.2 970.6" fill="none" stroke="#000" stroke-width="2.52" stroke-linejoin="miter"/>
<path d="M2534.1 930.7 L2530.9 930.1 L2527.4 930.6 L2523.8 932.3 L2520.3 935.0 L2517.0 938.7 L2514.2 943.1 L2512.0 948.0 L2510.4 953.1 L2509.6 958.3 L2509.6 963.2 L2510.4 967.6 L2512.0 971.4 L2514.2 974.2 L2517.1 975.9" fill="none" stroke="#000" stroke-width="3.6" stroke-linejoin="miter"/>
<path d="M2539.1 932.7 L2541.9 934.5 L2544.2 937.3 L2545.7 941.0 L2546.5 945.4 L2546.5 950.3 L2545.7 955.5 L2544.2 960.7 L2541.9 965.6 L2539.1 969.9 L2535.9 973.6 L2532.4 976.3 L2528.8 978.0 L2525.3 978.5 L2522.1 977.9" fill="none" stroke="#000" stroke-width="2.8800000000000003" stroke-linejoin="miter"/>
<path d="M2535.8 934.0 L2532.8 933.4 L2529.7 933.9 L2526.4 935.4 L2523.3 937.8 L2520.4 941.1 L2517.8 945.1 L2515.8 949.5 L2514.4 954.1 L2513.7 958.8 L2513.7 963.2 L2514.4 967.2 L2515.8 970.5 L2517.9 973.1 L2520.4 974.6" fill="none" stroke="#000" stroke-width="2.52" stroke-linejoin="miter"/>
<path d="M2544.3 934.7 L2541.0 934.1 L2537.5 934.6 L2533.9 936.3 L2530.4 939.0 L2527.2 942.7 L2524.4 947.1 L2522.2 952.0 L2520.6 957.1 L2519.8 962.3 L2519.8 967.2 L2520.6 971.7 L2522.2 975.4 L2524.4 978.2 L2527.2 979.9" fill="none" stroke="#000" stroke-width="3.6" stroke-linejoin="miter"/>
<path d="M2549.3 936.7 L2552.1 938.5 L2554.3 941.3 L2555.9 945.0 L2556.7 949.4 L2556.7 954.3 L2555.9 959.5 L2554.4 964.7 L2552.1 969.6 L2549.3 973.9 L2546.1 977.6 L2542.6 980.3 L2539.0 982.0 L2535.5 982.5 L2532.2 981.9" fill="none" stroke="#000" stroke-width="2.8800000000000003" stroke-linejoin="miter"/>
<path d="M2545.9 938.0 L2543.0 937.4 L2539.9 937.9 L2536.6 939.4 L2533.5 941.9 L2530.6 945.1 L2528.0 949.1 L2526.0 953.5 L2524.6 958.1 L2523.9 962.8 L2523.9 967.2 L2524.6 971.2 L2526.0 974.6 L2528.1 977.1 L2530.6 978.7" fill="none" stroke="#000" stroke-width="2.52" stroke-linejoin="miter"/>
<path d="M2554.5 938.7 L2551.2 938.1 L2547.7 938.7 L2544.1 940.3 L2540.6 943.1 L2537.4 946.7 L2534.6 951.1 L2532.3 956.0 L2530.8 961.1 L2530.0 966.3 L2530.0 971.2 L2530.8 975.7 L2532.4 979.4 L2534.6 982.2 L2537.4 984.0" fill="none" stroke="#000" stroke-width="3.6" stroke-linejoin="miter"/>
<path d="M2559.5 940.7 L2562.3 942.5 L2564.5 945.3 L2566.1 949.0 L2566.9 953.4 L2566.9 958.3 L2566.1 963.5 L2564.5 968.7 L2562.3 973.6 L2559.5 978.0 L2556.3 981.6 L2552.8 984.3 L2549.2 986.0 L2545.7 986.6 L2542.4 985.9" fill="none" stroke="#000" stroke-width="2.8800000000000003" stroke-linejoin="miter"/>
<path d="M2556.1 942.0 L2553.2 941.4 L2550.0 941.9 L2546.8 943.4 L2543.7 945.9 L2540.7 949.2 L2538.2 953.1 L2536.2 957.5 L2534.8 962.2 L2534.1 966.8 L2534.1 971.2 L2534.8 975.2 L2536.2 978.6 L2538.2 981.1 L2540.8 982.7" fill="none" stroke="#000" stroke-width="2.52" stroke-linejoin="miter"/>
<path d="M2534.9 957.0 L2565.7 969.2" fill="none" stroke="#000" stroke-width="3.6" stroke-linejoin="miter"/>
<path d="M2593.7 1012.1 L2590.3 1009.9 L2587.5 1006.5 L2585.6 1001.9 L2584.6 996.5 L2584.6 990.4 L2585.6 984.1 L2587.5 977.7 L2590.3 971.7 L2593.7 966.4 L2597.7 961.9 L2602.0 958.5 L2606.4 956.5 L2610.7 955.8 L2614.7 956.6 L2647.8 969.6 L2651.2 971.8 L2654.0 975.2 L2655.9 979.8 L2656.9 985.2 L2656.9 991.3 L2655.9 997.6 L2654.0 1004.0 L2651.2 1010.0 L2647.8 1015.3 L2643.8 1019.8 L2639.5 1023.2 L2635.1 1025.2 L2630.8 1025.9 L2626.8 1025.1Z" fill="#fff" stroke="#000" stroke-width="3" stroke-linejoin="round"/>
<ellipse cx="2637.3" cy="997.4" rx="29.6" ry="17.9" transform="rotate(110.19 2637.3 997.4)" fill="#fff" stroke="#000" stroke-width="3"/>
<path d="M2643.8 968.9 L2639.5 969.5 L2635.1 971.6 L2630.8 974.9 L2626.8 979.4 L2623.3 984.8 L2620.6 990.8 L2618.7 997.1 L2617.7 1003.5 L2617.7 1009.5 L2618.7 1015.0 L2620.6 1019.5 L2623.4 1022.9" fill="none" stroke="#000" stroke-width="5.5" stroke-linejoin="miter"/>
<path d="M2686.0 987.0 L2735.9 963.6 L2744.5 966.8 L2696.6 991.2Z" fill="#fff" stroke="#000" stroke-width="2.6" stroke-linejoin="round"/>
<path d="M2696.6 991.2 L2744.5 966.8 L2744.5 1049.4 L2731.0 1063.0 L2722.5 1061.1 L2717.5 1029.9 L2713.5 1035.4 L2707.5 1070.8 L2696.6 1068.9Z" fill="#fff" stroke="#000" stroke-width="3" stroke-linejoin="round"/>
<path d="M2686.0 987.0 L2696.6 991.2 L2696.6 1068.9 L2686.0 1064.2Z" fill="#fff" stroke="#000" stroke-width="2.6" stroke-linejoin="round"/>
<path d="M2713.0 1035.4 L2713.0 1010.7 Q2719.2 999.7 2725.5 1010.7 L2725.5 1029.9" fill="#fff" stroke="#000" stroke-width="3"/>
<path d="M2717.5 1029.9 L2722.5 1061.1" fill="none" stroke="#000" stroke-width="3" stroke-linejoin="miter"/>
<path d="M2723.5 1018.2 L2733.5 1016.6 L2733.5 1026.0 L2723.5 1027.6Z" fill="#fff" stroke="#000" stroke-width="2.5" stroke-linejoin="round"/>
<path d="M1959.7 902.6 L1956.8 902.1 L1953.7 902.6 L1950.5 904.1 L1947.4 906.5 L1944.5 909.8 L1942.1 913.7 L1940.1 918.1 L1938.8 922.6 L1938.1 927.2 L1938.1 931.6 L1938.8 935.5 L1940.3 938.7 L1942.3 941.2 L1944.8 942.7" fill="none" stroke="#000" stroke-width="3.6" stroke-linejoin="miter"/>
<path d="M1964.4 904.4 L1967.0 905.9 L1969.0 908.3 L1970.4 911.6 L1971.1 915.5 L1971.1 919.9 L1970.5 924.4 L1969.1 929.0 L1967.1 933.4 L1964.7 937.3 L1961.8 940.5 L1958.7 943.0 L1955.5 944.5 L1952.4 945.0 L1949.5 944.5" fill="none" stroke="#000" stroke-width="2.8800000000000003" stroke-linejoin="miter"/>
<path d="M1961.3 905.5 L1958.7 905.0 L1955.9 905.5 L1953.1 906.8 L1950.3 909.1 L1947.7 912.0 L1945.5 915.5 L1943.7 919.4 L1942.5 923.5 L1941.9 927.7 L1941.9 931.6 L1942.6 935.1 L1943.8 938.0 L1945.6 940.2 L1947.9 941.6" fill="none" stroke="#000" stroke-width="2.52" stroke-linejoin="miter"/>
<path d="M1969.9 906.4 L1967.0 905.9 L1963.9 906.4 L1960.7 908.0 L1957.6 910.4 L1954.8 913.7 L1952.3 917.6 L1950.3 921.9 L1949.0 926.5 L1948.3 931.1 L1948.3 935.4 L1949.1 939.3 L1950.5 942.6 L1952.5 945.1 L1955.0 946.6" fill="none" stroke="#000" stroke-width="3.6" stroke-linejoin="miter"/>
<path d="M1974.7 908.2 L1977.2 909.7 L1979.2 912.2 L1980.6 915.5 L1981.3 919.4 L1981.4 923.7 L1980.7 928.3 L1979.3 932.9 L1977.4 937.2 L1974.9 941.1 L1972.0 944.4 L1968.9 946.8 L1965.7 948.4 L1962.6 948.9 L1959.7 948.4" fill="none" stroke="#000" stroke-width="2.8800000000000003" stroke-linejoin="miter"/>
<path d="M1971.5 909.3 L1968.9 908.9 L1966.1 909.3 L1963.3 910.7 L1960.5 912.9 L1957.9 915.8 L1955.7 919.4 L1953.9 923.3 L1952.7 927.4 L1952.1 931.5 L1952.1 935.4 L1952.8 939.0 L1954.0 941.9 L1955.9 944.1 L1958.1 945.5" fill="none" stroke="#000" stroke-width="2.52" stroke-linejoin="miter"/>
<path d="M1980.1 910.3 L1977.2 909.8 L1974.1 910.3 L1970.9 911.8 L1967.8 914.3 L1965.0 917.5 L1962.5 921.4 L1960.5 925.8 L1959.2 930.4 L1958.5 934.9 L1958.5 939.3 L1959.3 943.2 L1960.7 946.5 L1962.7 948.9 L1965.2 950.4" fill="none" stroke="#000" stroke-width="3.6" stroke-linejoin="miter"/>
<path d="M1984.9 912.1 L1987.4 913.6 L1989.4 916.1 L1990.8 919.3 L1991.5 923.2 L1991.6 927.6 L1990.9 932.2 L1989.5 936.7 L1987.6 941.1 L1985.1 945.0 L1982.2 948.3 L1979.1 950.7 L1976.0 952.2 L1972.8 952.7 L1970.0 952.2" fill="none" stroke="#000" stroke-width="2.8800000000000003" stroke-linejoin="miter"/>
<path d="M1981.7 913.2 L1979.1 912.7 L1976.3 913.2 L1973.5 914.6 L1970.7 916.8 L1968.1 919.7 L1965.9 923.2 L1964.1 927.1 L1962.9 931.3 L1962.3 935.4 L1962.3 939.3 L1963.0 942.8 L1964.3 945.7 L1966.1 948.0 L1968.3 949.3" fill="none" stroke="#000" stroke-width="2.52" stroke-linejoin="miter"/>
<path d="M1990.3 914.1 L1987.4 913.6 L1984.3 914.1 L1981.1 915.7 L1978.0 918.1 L1975.2 921.4 L1972.7 925.3 L1970.7 929.6 L1969.4 934.2 L1968.7 938.8 L1968.7 943.2 L1969.5 947.1 L1970.9 950.3 L1972.9 952.8 L1975.4 954.3" fill="none" stroke="#000" stroke-width="3.6" stroke-linejoin="miter"/>
<path d="M1995.1 915.9 L1997.6 917.5 L1999.6 919.9 L2001.0 923.2 L2001.7 927.1 L2001.8 931.4 L2001.1 936.0 L1999.7 940.6 L1997.8 944.9 L1995.3 948.8 L1992.5 952.1 L1989.3 954.6 L1986.2 956.1 L1983.0 956.6 L1980.2 956.1" fill="none" stroke="#000" stroke-width="2.8800000000000003" stroke-linejoin="miter"/>
<path d="M1992.0 917.0 L1989.4 916.6 L1986.6 917.0 L1983.7 918.4 L1980.9 920.6 L1978.3 923.6 L1976.1 927.1 L1974.3 931.0 L1973.1 935.1 L1972.5 939.2 L1972.5 943.2 L1973.2 946.7 L1974.5 949.6 L1976.3 951.8 L1978.5 953.2" fill="none" stroke="#000" stroke-width="2.52" stroke-linejoin="miter"/>
<path d="M2000.5 918.0 L1997.6 917.5 L1994.5 918.0 L1991.3 919.5 L1988.2 922.0 L1985.4 925.2 L1982.9 929.1 L1981.0 933.5 L1979.6 938.1 L1978.9 942.7 L1978.9 947.0 L1979.7 950.9 L1981.1 954.2 L1983.1 956.6 L1985.6 958.1" fill="none" stroke="#000" stroke-width="3.6" stroke-linejoin="miter"/>
<path d="M2005.3 919.8 L2007.8 921.3 L2009.8 923.8 L2011.2 927.0 L2012.0 930.9 L2012.0 935.3 L2011.3 939.9 L2010.0 944.4 L2008.0 948.8 L2005.5 952.7 L2002.7 956.0 L1999.6 958.4 L1996.4 959.9 L1993.3 960.5 L1990.4 959.9" fill="none" stroke="#000" stroke-width="2.8800000000000003" stroke-linejoin="miter"/>
<path d="M2002.2 920.9 L1999.6 920.4 L1996.8 920.9 L1993.9 922.3 L1991.1 924.5 L1988.5 927.4 L1986.3 930.9 L1984.5 934.8 L1983.3 939.0 L1982.7 943.1 L1982.7 947.0 L1983.4 950.5 L1984.7 953.5 L1986.5 955.7 L1988.7 957.0" fill="none" stroke="#000" stroke-width="2.52" stroke-linejoin="miter"/>
<path d="M2010.7 921.9 L2007.9 921.3 L2004.7 921.9 L2001.6 923.4 L1998.5 925.8 L1995.6 929.1 L1993.1 933.0 L1991.2 937.4 L1989.8 941.9 L1989.1 946.5 L1989.2 950.9 L1989.9 954.8 L1991.3 958.0 L1993.3 960.5 L1995.8 962.0" fill="none" stroke="#000" stroke-width="3.6" stroke-linejoin="miter"/>
<path d="M2015.5 923.7 L2018.0 925.2 L2020.0 927.6 L2021.4 930.9 L2022.2 934.8 L2022.2 939.1 L2021.5 943.7 L2020.2 948.3 L2018.2 952.7 L2015.7 956.6 L2012.9 959.8 L2009.8 962.3 L2006.6 963.8 L2003.5 964.3 L2000.6 963.8" fill="none" stroke="#000" stroke-width="2.8800000000000003" stroke-linejoin="miter"/>
<path d="M2012.4 924.8 L2009.8 924.3 L2007.0 924.8 L2004.1 926.1 L2001.3 928.3 L1998.7 931.3 L1996.5 934.8 L1994.8 938.7 L1993.5 942.8 L1992.9 947.0 L1992.9 950.9 L1993.6 954.4 L1994.9 957.3 L1996.7 959.5 L1999.0 960.9" fill="none" stroke="#000" stroke-width="2.52" stroke-linejoin="miter"/>
<path d="M2021.0 925.7 L2018.1 925.2 L2015.0 925.7 L2011.8 927.2 L2008.7 929.7 L2005.8 933.0 L2003.3 936.9 L2001.4 941.2 L2000.0 945.8 L1999.3 950.4 L1999.4 954.7 L2000.1 958.6 L2001.5 961.9 L2003.5 964.3 L2006.0 965.9" fill="none" stroke="#000" stroke-width="3.6" stroke-linejoin="miter"/>
<path d="M2025.7 927.5 L2028.2 929.0 L2030.2 931.5 L2031.6 934.7 L2032.4 938.6 L2032.4 943.0 L2031.7 947.6 L2030.4 952.2 L2028.4 956.5 L2025.9 960.4 L2023.1 963.7 L2020.0 966.1 L2016.8 967.7 L2013.7 968.2 L2010.8 967.7" fill="none" stroke="#000" stroke-width="2.8800000000000003" stroke-linejoin="miter"/>
<path d="M2022.6 928.6 L2020.0 928.2 L2017.2 928.6 L2014.3 930.0 L2011.5 932.2 L2009.0 935.1 L2006.7 938.6 L2005.0 942.6 L2003.7 946.7 L2003.1 950.8 L2003.2 954.7 L2003.8 958.2 L2005.1 961.2 L2006.9 963.4 L2009.2 964.8" fill="none" stroke="#000" stroke-width="2.52" stroke-linejoin="miter"/>
<path d="M2031.2 929.6 L2028.3 929.1 L2025.2 929.6 L2022.0 931.1 L2018.9 933.5 L2016.0 936.8 L2013.5 940.7 L2011.6 945.1 L2010.2 949.6 L2009.6 954.2 L2009.6 958.6 L2010.3 962.5 L2011.7 965.7 L2013.7 968.2 L2016.3 969.7" fill="none" stroke="#000" stroke-width="3.6" stroke-linejoin="miter"/>
<path d="M2035.9 931.4 L2038.4 932.9 L2040.4 935.3 L2041.9 938.6 L2042.6 942.5 L2042.6 946.9 L2041.9 951.4 L2040.6 956.0 L2038.6 960.4 L2036.2 964.3 L2033.3 967.5 L2030.2 970.0 L2027.0 971.5 L2023.9 972.0 L2021.0 971.5" fill="none" stroke="#000" stroke-width="2.8800000000000003" stroke-linejoin="miter"/>
<path d="M2032.8 932.5 L2030.2 932.0 L2027.4 932.5 L2024.5 933.8 L2021.7 936.1 L2019.2 939.0 L2016.9 942.5 L2015.2 946.4 L2014.0 950.5 L2013.3 954.7 L2013.4 958.6 L2014.0 962.1 L2015.3 965.0 L2017.1 967.2 L2019.4 968.6" fill="none" stroke="#000" stroke-width="2.52" stroke-linejoin="miter"/>
<path d="M2041.4 933.4 L2038.5 932.9 L2035.4 933.4 L2032.2 935.0 L2029.1 937.4 L2026.2 940.7 L2023.8 944.6 L2021.8 948.9 L2020.4 953.5 L2019.8 958.1 L2019.8 962.4 L2020.5 966.3 L2021.9 969.6 L2024.0 972.1 L2026.5 973.6" fill="none" stroke="#000" stroke-width="3.6" stroke-linejoin="miter"/>
<path d="M2046.1 935.2 L2048.6 936.7 L2050.7 939.2 L2052.1 942.5 L2052.8 946.4 L2052.8 950.7 L2052.2 955.3 L2050.8 959.9 L2048.8 964.2 L2046.4 968.1 L2043.5 971.4 L2040.4 973.8 L2037.2 975.4 L2034.1 975.9 L2031.2 975.4" fill="none" stroke="#000" stroke-width="2.8800000000000003" stroke-linejoin="miter"/>
<path d="M2043.0 936.3 L2040.4 935.9 L2037.6 936.3 L2034.7 937.7 L2031.9 939.9 L2029.4 942.8 L2027.1 946.4 L2025.4 950.3 L2024.2 954.4 L2023.6 958.5 L2023.6 962.4 L2024.2 966.0 L2025.5 968.9 L2027.3 971.1 L2029.6 972.5" fill="none" stroke="#000" stroke-width="2.52" stroke-linejoin="miter"/>
<path d="M2051.6 937.3 L2048.7 936.8 L2045.6 937.3 L2042.4 938.8 L2039.3 941.3 L2036.4 944.5 L2034.0 948.4 L2032.0 952.8 L2030.7 957.4 L2030.0 961.9 L2030.0 966.3 L2030.7 970.2 L2032.2 973.5 L2034.2 975.9 L2036.7 977.4" fill="none" stroke="#000" stroke-width="3.6" stroke-linejoin="miter"/>
<path d="M2056.3 939.1 L2058.8 940.6 L2060.9 943.1 L2062.3 946.3 L2063.0 950.2 L2063.0 954.6 L2062.4 959.2 L2061.0 963.7 L2059.0 968.1 L2056.6 972.0 L2053.7 975.3 L2050.6 977.7 L2047.4 979.2 L2044.3 979.7 L2041.4 979.2" fill="none" stroke="#000" stroke-width="2.8800000000000003" stroke-linejoin="miter"/>
<path d="M2053.2 940.2 L2050.6 939.7 L2047.8 940.2 L2044.9 941.6 L2042.2 943.8 L2039.6 946.7 L2037.4 950.2 L2035.6 954.1 L2034.4 958.3 L2033.8 962.4 L2033.8 966.3 L2034.5 969.8 L2035.7 972.7 L2037.5 975.0 L2039.8 976.3" fill="none" stroke="#000" stroke-width="2.52" stroke-linejoin="miter"/>
<path d="M2061.8 941.1 L2058.9 940.6 L2055.8 941.1 L2052.6 942.7 L2049.5 945.1 L2046.7 948.4 L2044.2 952.3 L2042.2 956.6 L2040.9 961.2 L2040.2 965.8 L2040.2 970.2 L2041.0 974.1 L2042.4 977.3 L2044.4 979.8 L2046.9 981.3" fill="none" stroke="#000" stroke-width="3.6" stroke-linejoin="miter"/>
<path d="M2066.5 942.9 L2069.1 944.5 L2071.1 946.9 L2072.5 950.2 L2073.2 954.1 L2073.3 958.4 L2072.6 963.0 L2071.2 967.6 L2069.3 971.9 L2066.8 975.9 L2063.9 979.1 L2060.8 981.6 L2057.6 983.1 L2054.5 983.6 L2051.6 983.1" fill="none" stroke="#000" stroke-width="2.8800000000000003" stroke-linejoin="miter"/>
<path d="M2063.4 944.0 L2060.8 943.6 L2058.0 944.0 L2055.2 945.4 L2052.4 947.6 L2049.8 950.6 L2047.6 954.1 L2045.8 958.0 L2044.6 962.1 L2044.0 966.2 L2044.0 970.2 L2044.7 973.7 L2045.9 976.6 L2047.7 978.8 L2050.0 980.2" fill="none" stroke="#000" stroke-width="2.52" stroke-linejoin="miter"/>
<path d="M2072.0 945.0 L2069.1 944.5 L2066.0 945.0 L2062.8 946.5 L2059.7 949.0 L2056.9 952.2 L2054.4 956.1 L2052.4 960.5 L2051.1 965.1 L2050.4 969.7 L2050.4 974.0 L2051.2 977.9 L2052.6 981.2 L2054.6 983.6 L2057.1 985.1" fill="none" stroke="#000" stroke-width="3.6" stroke-linejoin="miter"/>
<path d="M2076.8 946.8 L2079.3 948.3 L2081.3 950.8 L2082.7 954.0 L2083.4 957.9 L2083.5 962.3 L2082.8 966.9 L2081.4 971.5 L2079.5 975.8 L2077.0 979.7 L2074.1 983.0 L2071.0 985.4 L2067.8 986.9 L2064.7 987.5 L2061.8 986.9" fill="none" stroke="#000" stroke-width="2.8800000000000003" stroke-linejoin="miter"/>
<path d="M2073.6 947.9 L2071.0 947.4 L2068.2 947.9 L2065.4 949.3 L2062.6 951.5 L2060.0 954.4 L2057.8 957.9 L2056.0 961.9 L2054.8 966.0 L2054.2 970.1 L2054.2 974.0 L2054.9 977.5 L2056.1 980.5 L2058.0 982.7 L2060.2 984.0" fill="none" stroke="#000" stroke-width="2.52" stroke-linejoin="miter"/>
<path d="M2082.2 948.9 L2079.3 948.3 L2076.2 948.9 L2073.0 950.4 L2069.9 952.8 L2067.1 956.1 L2064.6 960.0 L2062.6 964.4 L2061.3 968.9 L2060.6 973.5 L2060.6 977.9 L2061.4 981.8 L2062.8 985.0 L2064.8 987.5 L2067.3 989.0" fill="none" stroke="#000" stroke-width="3.6" stroke-linejoin="miter"/>
<path d="M2087.0 950.7 L2089.5 952.2 L2091.5 954.6 L2092.9 957.9 L2093.6 961.8 L2093.7 966.1 L2093.0 970.7 L2091.6 975.3 L2089.7 979.7 L2087.2 983.6 L2084.3 986.8 L2081.2 989.3 L2078.1 990.8 L2074.9 991.3 L2072.1 990.8" fill="none" stroke="#000" stroke-width="2.8800000000000003" stroke-linejoin="miter"/>
<path d="M2083.8 951.8 L2081.3 951.3 L2078.4 951.8 L2075.6 953.1 L2072.8 955.3 L2070.2 958.3 L2068.0 961.8 L2066.2 965.7 L2065.0 969.8 L2064.4 974.0 L2064.4 977.9 L2065.1 981.4 L2066.4 984.3 L2068.2 986.5 L2070.4 987.9" fill="none" stroke="#000" stroke-width="2.52" stroke-linejoin="miter"/>
<path d="M2065.0 965.3 L2092.3 975.6" fill="none" stroke="#000" stroke-width="3.6" stroke-linejoin="miter"/>
<path d="M2123.9 1019.2 L2120.4 1017.1 L2117.6 1013.7 L2115.7 1009.2 L2114.6 1003.8 L2114.6 997.7 L2115.5 991.4 L2117.4 985.0 L2120.1 979.0 L2123.6 973.6 L2127.5 969.1 L2131.8 965.7 L2136.2 963.6 L2140.5 962.9 L2144.5 963.6 L2220.1 992.1 L2223.6 994.3 L2226.4 997.7 L2228.3 1002.2 L2229.4 1007.6 L2229.4 1013.6 L2228.5 1019.9 L2226.6 1026.3 L2223.9 1032.3 L2220.4 1037.7 L2216.5 1042.2 L2212.2 1045.6 L2207.8 1047.7 L2203.5 1048.5 L2199.5 1047.7Z" fill="#fff" stroke="#000" stroke-width="3" stroke-linejoin="round"/>
<path d="M2161.2 969.9 L2157.2 969.2 L2152.9 969.9 L2148.4 972.0 L2144.1 975.4 L2140.2 979.9 L2136.8 985.3 L2134.0 991.3 L2132.2 997.7 L2131.2 1004.0 L2131.3 1010.0 L2132.3 1015.4 L2134.3 1020.0 L2137.0 1023.4 L2140.5 1025.5" fill="none" stroke="#000" stroke-width="3.6" stroke-linejoin="miter"/>
<path d="M2172.9 974.3 L2168.9 973.6 L2164.6 974.3 L2160.2 976.4 L2155.9 979.8 L2151.9 984.3 L2148.5 989.7 L2145.8 995.8 L2143.9 1002.1 L2142.9 1008.4 L2143.0 1014.5 L2144.0 1019.9 L2146.0 1024.4 L2148.8 1027.8 L2152.2 1029.9" fill="none" stroke="#000" stroke-width="3.6" stroke-linejoin="miter"/>
<path d="M2184.6 978.7 L2180.6 978.0 L2176.3 978.7 L2171.9 980.8 L2167.6 984.2 L2163.6 988.7 L2160.2 994.2 L2157.5 1000.2 L2155.6 1006.5 L2154.7 1012.9 L2154.7 1018.9 L2155.7 1024.3 L2157.7 1028.8 L2160.5 1032.2 L2163.9 1034.3" fill="none" stroke="#000" stroke-width="3.6" stroke-linejoin="miter"/>
<path d="M2196.3 983.2 L2192.3 982.4 L2188.0 983.2 L2183.6 985.3 L2179.3 988.7 L2175.3 993.2 L2171.9 998.6 L2169.2 1004.6 L2167.3 1010.9 L2166.4 1017.3 L2166.4 1023.3 L2167.4 1028.7 L2169.4 1033.2 L2172.2 1036.6 L2175.7 1038.7" fill="none" stroke="#000" stroke-width="3.6" stroke-linejoin="miter"/>
<path d="M2208.0 987.6 L2204.0 986.9 L2199.7 987.6 L2195.3 989.7 L2191.0 993.1 L2187.0 997.6 L2183.6 1003.0 L2180.9 1009.0 L2179.0 1015.4 L2178.1 1021.7 L2178.1 1027.7 L2179.2 1033.2 L2181.1 1037.7 L2183.9 1041.1 L2187.4 1043.2" fill="none" stroke="#000" stroke-width="3.6" stroke-linejoin="miter"/>
<ellipse cx="2209.8" cy="1019.9" rx="29.6" ry="17.9" transform="rotate(110.19 2209.8 1019.9)" fill="#fff" stroke="#000" stroke-width="3"/>
<ellipse cx="2209.8" cy="1019.9" rx="21.3" ry="12.9" transform="rotate(110.19 2209.8 1019.9)" fill="none" stroke="#000" stroke-width="2.5"/>
<ellipse cx="2209.8" cy="1019.9" rx="11.9" ry="7.2" transform="rotate(110.19 2209.8 1019.9)" fill="#fff" stroke="#000" stroke-width="2.5"/>
<path d="M2268.9 1074.0 L2265.4 1071.9 L2262.6 1068.5 L2260.7 1063.9 L2259.6 1058.5 L2259.6 1052.5 L2260.5 1046.2 L2262.4 1039.8 L2265.1 1033.8 L2268.6 1028.4 L2272.5 1023.9 L2276.8 1020.5 L2281.2 1018.4 L2285.5 1017.7 L2289.5 1018.4 L2325.1 1031.8 L2328.6 1033.9 L2331.4 1037.3 L2333.3 1041.8 L2334.4 1047.2 L2334.4 1053.3 L2333.5 1059.6 L2331.6 1066.0 L2328.9 1072.0 L2325.4 1077.4 L2321.5 1081.9 L2317.2 1085.3 L2312.8 1087.4 L2308.5 1088.1 L2304.5 1087.4Z" fill="#fff" stroke="#000" stroke-width="3" stroke-linejoin="round"/>
<ellipse cx="2314.8" cy="1059.6" rx="29.6" ry="17.9" transform="rotate(110.19 2314.8 1059.6)" fill="#fff" stroke="#000" stroke-width="3"/>
<path d="M2321.1 1031.1 L2316.8 1031.8 L2312.4 1033.9 L2308.1 1037.3 L2304.1 1041.8 L2300.7 1047.2 L2298.0 1053.3 L2296.1 1059.6 L2295.2 1066.0 L2295.2 1072.0 L2296.3 1077.4 L2298.2 1081.9 L2301.0 1085.3" fill="none" stroke="#000" stroke-width="5.5" stroke-linejoin="miter"/>
<path d="M2385.5 1057.0 L2435.4 1033.6 L2444.0 1036.8 L2396.1 1061.2Z" fill="#fff" stroke="#000" stroke-width="2.6" stroke-linejoin="round"/>
<path d="M2396.1 1061.2 L2444.0 1036.8 L2444.0 1119.4 L2430.5 1133.0 L2422.0 1131.1 L2417.0 1099.9 L2413.0 1105.4 L2407.0 1140.8 L2396.1 1138.9Z" fill="#fff" stroke="#000" stroke-width="3" stroke-linejoin="round"/>
<path d="M2385.5 1057.0 L2396.1 1061.2 L2396.1 1138.9 L2385.5 1134.2Z" fill="#fff" stroke="#000" stroke-width="2.6" stroke-linejoin="round"/>
<path d="M2412.5 1105.4 L2412.5 1080.7 Q2418.8 1069.7 2425.0 1080.7 L2425.0 1099.9" fill="#fff" stroke="#000" stroke-width="3"/>
<path d="M2417.0 1099.9 L2422.0 1131.1" fill="none" stroke="#000" stroke-width="3" stroke-linejoin="miter"/>
<path d="M2423.0 1088.2 L2433.0 1086.6 L2433.0 1096.0 L2423.0 1097.6Z" fill="#fff" stroke="#000" stroke-width="2.5" stroke-linejoin="round"/>
<path d="M1683.5 1029.8 L1682.2 1029.1 L1681.2 1027.8 L1680.4 1026.1 L1680.1 1024.1 L1680.0 1021.9 L1680.4 1019.6 L1681.1 1017.2 L1682.1 1015.0 L1683.3 1013.0 L1684.8 1011.3 L1686.4 1010.0 L1688.0 1009.2 L1689.6 1009.0 L1691.1 1009.2 L1876.5 1077.4 L1877.8 1078.1 L1878.8 1079.4 L1879.6 1081.0 L1879.9 1083.0 L1880.0 1085.3 L1879.6 1087.6 L1878.9 1090.0 L1877.9 1092.2 L1876.7 1094.2 L1875.2 1095.9 L1873.6 1097.2 L1872.0 1097.9 L1870.4 1098.2 L1868.9 1098.0Z" fill="#fff" stroke="#000" stroke-width="3" stroke-linejoin="round"/>
<ellipse cx="1872.7" cy="1087.7" rx="11.0" ry="6.6" transform="rotate(110.19 1872.7 1087.7)" fill="#fff" stroke="#000" stroke-width="3"/>
<path d="M1658.3 1038.1 L1655.0 1036.2 L1652.4 1033.1 L1650.6 1028.9 L1649.6 1023.9 L1649.6 1018.3 L1650.4 1012.5 L1652.2 1006.6 L1654.7 1001.0 L1657.8 996.0 L1661.5 991.8 L1665.4 988.6 L1669.5 986.6 L1673.5 985.9 L1677.2 986.6 L1703.2 996.1 L1706.5 998.0 L1709.1 1001.2 L1710.9 1005.3 L1711.9 1010.3 L1711.9 1015.9 L1711.1 1021.7 L1709.3 1027.6 L1706.8 1033.2 L1703.7 1038.2 L1700.0 1042.4 L1696.1 1045.6 L1692.0 1047.6 L1688.0 1048.3 L1684.3 1047.7Z" fill="#fff" stroke="#000" stroke-width="3" stroke-linejoin="round"/>
<ellipse cx="1693.8" cy="1021.9" rx="27.5" ry="16.6" transform="rotate(110.19 1693.8 1021.9)" fill="#fff" stroke="#000" stroke-width="3"/>
<ellipse cx="1693.8" cy="1021.9" rx="19.8" ry="12.0" transform="rotate(110.19 1693.8 1021.9)" fill="none" stroke="#000" stroke-width="2.5"/>
<ellipse cx="1693.8" cy="1021.9" rx="12.4" ry="7.5" transform="rotate(110.19 1693.8 1021.9)" fill="#fff" stroke="#000" stroke-width="2.5"/>
<path d="M1719.7 1057.2 L1716.9 1055.5 L1714.6 1052.7 L1713.0 1049.1 L1712.1 1044.7 L1712.1 1039.8 L1712.8 1034.6 L1714.3 1029.5 L1716.5 1024.5 L1719.3 1020.1 L1722.5 1016.4 L1726.0 1013.6 L1729.6 1011.9 L1733.1 1011.3 L1736.4 1011.8 L1751.8 1017.5 L1754.6 1019.2 L1756.9 1021.9 L1758.5 1025.6 L1759.4 1030.0 L1759.4 1034.9 L1758.7 1040.0 L1757.2 1045.2 L1755.0 1050.1 L1752.2 1054.5 L1749.0 1058.2 L1745.5 1061.0 L1741.9 1062.8 L1738.4 1063.4 L1735.1 1062.8Z" fill="#fff" stroke="#000" stroke-width="3" stroke-linejoin="round"/>
<ellipse cx="1743.4" cy="1040.2" rx="24.2" ry="14.6" transform="rotate(110.19 1743.4 1040.2)" fill="#fff" stroke="#000" stroke-width="3"/>
<ellipse cx="1743.4" cy="1040.2" rx="17.4" ry="10.5" transform="rotate(110.19 1743.4 1040.2)" fill="none" stroke="#000" stroke-width="2.5"/>
<ellipse cx="1743.4" cy="1040.2" rx="10.9" ry="6.6" transform="rotate(110.19 1743.4 1040.2)" fill="#fff" stroke="#000" stroke-width="2.5"/>
<path d="M1765.8 1077.6 L1762.5 1075.7 L1759.9 1072.6 L1758.1 1068.4 L1757.1 1063.4 L1757.1 1057.9 L1757.9 1052.0 L1759.7 1046.1 L1762.2 1040.5 L1765.3 1035.5 L1769.0 1031.3 L1772.9 1028.1 L1777.0 1026.1 L1781.0 1025.4 L1784.7 1026.1 L1823.2 1040.2 L1826.5 1042.1 L1829.1 1045.3 L1830.9 1049.4 L1831.9 1054.4 L1831.9 1060.0 L1831.1 1065.9 L1829.3 1071.7 L1826.8 1077.3 L1823.7 1082.3 L1820.0 1086.5 L1816.1 1089.7 L1812.0 1091.7 L1808.0 1092.4 L1804.3 1091.8Z" fill="#fff" stroke="#000" stroke-width="3" stroke-linejoin="round"/>
<ellipse cx="1813.8" cy="1066.0" rx="27.5" ry="16.6" transform="rotate(110.19 1813.8 1066.0)" fill="#fff" stroke="#000" stroke-width="3"/>
<ellipse cx="1813.8" cy="1066.0" rx="19.8" ry="12.0" transform="rotate(110.19 1813.8 1066.0)" fill="none" stroke="#000" stroke-width="2.5"/>
<ellipse cx="1813.8" cy="1066.0" rx="12.4" ry="7.5" transform="rotate(110.19 1813.8 1066.0)" fill="#fff" stroke="#000" stroke-width="2.5"/>
<path d="M1838.3 1104.3 L1835.0 1102.3 L1832.4 1099.2 L1830.6 1095.1 L1829.6 1090.1 L1829.6 1084.5 L1830.4 1078.6 L1832.2 1072.8 L1834.7 1067.2 L1837.8 1062.1 L1841.5 1057.9 L1845.4 1054.8 L1849.5 1052.8 L1853.5 1052.1 L1857.2 1052.7 L1898.2 1067.8 L1901.5 1069.7 L1904.1 1072.8 L1905.9 1077.0 L1906.9 1082.0 L1906.9 1087.5 L1906.1 1093.4 L1904.3 1099.3 L1901.8 1104.9 L1898.7 1109.9 L1895.0 1114.1 L1891.1 1117.3 L1887.0 1119.3 L1883.0 1120.0 L1879.3 1119.3Z" fill="#fff" stroke="#000" stroke-width="3" stroke-linejoin="round"/>
<ellipse cx="1888.8" cy="1093.6" rx="27.5" ry="16.6" transform="rotate(110.19 1888.8 1093.6)" fill="#fff" stroke="#000" stroke-width="3"/>
<path d="M1894.5 1067.2 L1890.5 1067.9 L1886.4 1069.8 L1882.5 1073.0 L1878.8 1077.2 L1875.7 1082.2 L1873.2 1087.8 L1871.4 1093.7 L1870.6 1099.6 L1870.6 1105.1 L1871.6 1110.1 L1873.4 1114.3 L1876.0 1117.4" fill="none" stroke="#000" stroke-width="5.5" stroke-linejoin="miter"/>
<path d="M1940.8 1133.8 L1938.5 1132.4 L1936.6 1130.1 L1935.3 1127.1 L1934.6 1123.5 L1934.6 1119.5 L1935.2 1115.3 L1936.4 1111.1 L1938.2 1107.1 L1940.5 1103.4 L1943.1 1100.4 L1946.0 1098.1 L1948.9 1096.7 L1951.8 1096.2 L1954.5 1096.7 L2015.7 1119.2 L2018.0 1120.5 L2019.9 1122.8 L2021.2 1125.8 L2021.9 1129.4 L2021.9 1133.4 L2021.3 1137.6 L2020.1 1141.8 L2018.3 1145.9 L2016.0 1149.5 L2013.4 1152.5 L2010.5 1154.8 L2007.6 1156.2 L2004.7 1156.7 L2002.0 1156.3Z" fill="#000" stroke="#000" stroke-width="3" stroke-linejoin="round"/>
<path d="M1952.6 1100.7 L1950.0 1101.9 L1947.6 1103.9 L1945.3 1106.5 L1943.4 1109.6 L1941.8 1113.1 L1940.7 1116.7 L1940.2 1120.3 L1940.3 1123.8 L1940.9 1126.9 L1942.0 1129.4" fill="none" stroke="#fff" stroke-width="1.3" stroke-dasharray="8 4"/>
<path d="M1960.2 1103.5 L1957.7 1104.7 L1955.2 1106.7 L1953.0 1109.3 L1951.0 1112.4 L1949.5 1115.9 L1948.4 1119.5 L1947.9 1123.2 L1947.9 1126.6 L1948.5 1129.7 L1949.6 1132.3" fill="none" stroke="#fff" stroke-width="1.3" stroke-dasharray="8 4"/>
<path d="M1967.9 1106.3 L1965.3 1107.6 L1962.9 1109.5 L1960.6 1112.1 L1958.7 1115.2 L1957.1 1118.7 L1956.0 1122.3 L1955.5 1126.0 L1955.6 1129.4 L1956.2 1132.5 L1957.3 1135.1" fill="none" stroke="#fff" stroke-width="1.3" stroke-dasharray="8 4"/>
<path d="M1975.5 1109.1 L1973.0 1110.4 L1970.5 1112.3 L1968.3 1114.9 L1966.3 1118.0 L1964.8 1121.5 L1963.7 1125.1 L1963.2 1128.8 L1963.2 1132.2 L1963.8 1135.3 L1964.9 1137.9" fill="none" stroke="#fff" stroke-width="1.3" stroke-dasharray="8 4"/>
<path d="M1983.2 1112.0 L1980.6 1113.2 L1978.2 1115.1 L1975.9 1117.7 L1974.0 1120.9 L1972.4 1124.3 L1971.4 1128.0 L1970.8 1131.6 L1970.9 1135.0 L1971.5 1138.1 L1972.6 1140.7" fill="none" stroke="#fff" stroke-width="1.3" stroke-dasharray="8 4"/>
<path d="M1990.8 1114.8 L1988.3 1116.0 L1985.8 1118.0 L1983.6 1120.6 L1981.6 1123.7 L1980.1 1127.1 L1979.0 1130.8 L1978.5 1134.4 L1978.5 1137.9 L1979.1 1140.9 L1980.3 1143.5" fill="none" stroke="#fff" stroke-width="1.3" stroke-dasharray="8 4"/>
<path d="M1998.5 1117.6 L1995.9 1118.8 L1993.5 1120.8 L1991.2 1123.4 L1989.3 1126.5 L1987.7 1129.9 L1986.7 1133.6 L1986.1 1137.2 L1986.2 1140.7 L1986.8 1143.8 L1987.9 1146.3" fill="none" stroke="#fff" stroke-width="1.3" stroke-dasharray="8 4"/>
<path d="M2006.1 1120.4 L2003.6 1121.6 L2001.1 1123.6 L1998.9 1126.2 L1996.9 1129.3 L1995.4 1132.8 L1994.3 1136.4 L1993.8 1140.0 L1993.8 1143.5 L1994.4 1146.6 L1995.6 1149.1" fill="none" stroke="#fff" stroke-width="1.3" stroke-dasharray="8 4"/>
<ellipse cx="2012.8" cy="1139.2" rx="12.3" ry="7.4" transform="rotate(110.19 2012.8 1139.2)" fill="#fff" stroke="#000" stroke-width="0.1"/>
<path d="M1999.9 1134.4 L2025.1 1143.7" fill="none" stroke="#000" stroke-width="3.6" stroke-linejoin="miter"/>
<path d="M2069.5 1136.0 L2119.4 1112.6 L2128.0 1115.8 L2080.1 1140.2Z" fill="#fff" stroke="#000" stroke-width="2.6" stroke-linejoin="round"/>
<path d="M2080.1 1140.2 L2128.0 1115.8 L2128.0 1216.0 L2114.5 1233.5 L2106.0 1231.0 L2101.0 1191.0 L2097.0 1198.0 L2091.0 1243.5 L2080.1 1241.0Z" fill="#fff" stroke="#000" stroke-width="3" stroke-linejoin="round"/>
<path d="M2069.5 1136.0 L2080.1 1140.2 L2080.1 1241.0 L2069.5 1235.0Z" fill="#fff" stroke="#000" stroke-width="2.6" stroke-linejoin="round"/>
<path d="M2096.5 1198.0 L2096.5 1165.0 Q2102.8 1154.0 2109.0 1165.0 L2109.0 1191.0" fill="#fff" stroke="#000" stroke-width="3"/>
<path d="M2101.0 1191.0 L2106.0 1231.0" fill="none" stroke="#000" stroke-width="3" stroke-linejoin="miter"/>
<path d="M1585.8 1179.1 L1582.7 1178.6 L1579.3 1179.1 L1575.9 1180.8 L1572.6 1183.5 L1569.5 1187.0 L1566.8 1191.2 L1564.7 1195.9 L1563.3 1200.8 L1562.6 1205.8 L1562.6 1210.4 L1563.4 1214.6 L1565.0 1218.1 L1567.2 1220.8 L1569.9 1222.4" fill="none" stroke="#000" stroke-width="3.6" stroke-linejoin="miter"/>
<path d="M1590.5 1180.8 L1593.3 1182.4 L1595.4 1185.1 L1597.0 1188.6 L1597.8 1192.8 L1597.8 1197.4 L1597.1 1202.4 L1595.7 1207.3 L1593.6 1212.0 L1590.9 1216.2 L1587.9 1219.7 L1584.5 1222.4 L1581.1 1224.1 L1577.7 1224.6 L1574.6 1224.1" fill="none" stroke="#000" stroke-width="2.8800000000000003" stroke-linejoin="miter"/>
<path d="M1587.4 1182.1 L1584.6 1181.6 L1581.5 1182.2 L1578.5 1183.7 L1575.5 1186.1 L1572.7 1189.2 L1570.3 1193.0 L1568.4 1197.3 L1567.1 1201.7 L1566.5 1206.1 L1566.5 1210.3 L1567.3 1214.1 L1568.6 1217.3 L1570.6 1219.6 L1573.0 1221.1" fill="none" stroke="#000" stroke-width="2.52" stroke-linejoin="miter"/>
<path d="M1595.7 1182.7 L1592.6 1182.2 L1589.3 1182.8 L1585.8 1184.5 L1582.5 1187.1 L1579.4 1190.7 L1576.8 1194.9 L1574.7 1199.6 L1573.2 1204.5 L1572.5 1209.4 L1572.6 1214.1 L1573.4 1218.3 L1574.9 1221.8 L1577.1 1224.4 L1579.8 1226.0" fill="none" stroke="#000" stroke-width="3.6" stroke-linejoin="miter"/>
<path d="M1600.5 1184.5 L1603.2 1186.1 L1605.4 1188.7 L1606.9 1192.2 L1607.7 1196.4 L1607.8 1201.1 L1607.1 1206.0 L1605.6 1211.0 L1603.5 1215.7 L1600.9 1219.9 L1597.8 1223.4 L1594.5 1226.1 L1591.0 1227.7 L1587.7 1228.3 L1584.6 1227.8" fill="none" stroke="#000" stroke-width="2.8800000000000003" stroke-linejoin="miter"/>
<path d="M1597.3 1185.8 L1594.5 1185.3 L1591.5 1185.8 L1588.4 1187.3 L1585.4 1189.7 L1582.6 1192.9 L1580.3 1196.7 L1578.4 1200.9 L1577.1 1205.4 L1576.4 1209.8 L1576.5 1214.0 L1577.2 1217.8 L1578.6 1220.9 L1580.5 1223.3 L1583.0 1224.7" fill="none" stroke="#000" stroke-width="2.52" stroke-linejoin="miter"/>
<path d="M1605.7 1186.4 L1602.6 1185.9 L1599.2 1186.5 L1595.8 1188.1 L1592.5 1190.8 L1589.4 1194.3 L1586.7 1198.5 L1584.6 1203.2 L1583.2 1208.2 L1582.5 1213.1 L1582.5 1217.8 L1583.3 1222.0 L1584.9 1225.5 L1587.1 1228.1 L1589.8 1229.7" fill="none" stroke="#000" stroke-width="3.6" stroke-linejoin="miter"/>
<path d="M1610.4 1188.2 L1613.2 1189.8 L1615.3 1192.4 L1616.9 1195.9 L1617.7 1200.1 L1617.7 1204.8 L1617.0 1209.7 L1615.6 1214.6 L1613.5 1219.3 L1610.8 1223.5 L1607.8 1227.1 L1604.4 1229.7 L1601.0 1231.4 L1597.6 1232.0 L1594.5 1231.4" fill="none" stroke="#000" stroke-width="2.8800000000000003" stroke-linejoin="miter"/>
<path d="M1607.3 1189.4 L1604.5 1189.0 L1601.4 1189.5 L1598.4 1191.0 L1595.4 1193.4 L1592.6 1196.6 L1590.2 1200.4 L1588.3 1204.6 L1587.0 1209.0 L1586.4 1213.5 L1586.4 1217.7 L1587.1 1221.4 L1588.5 1224.6 L1590.5 1227.0 L1592.9 1228.4" fill="none" stroke="#000" stroke-width="2.52" stroke-linejoin="miter"/>
<path d="M1615.6 1190.1 L1612.5 1189.5 L1609.2 1190.1 L1605.7 1191.8 L1602.4 1194.4 L1599.3 1198.0 L1596.7 1202.2 L1594.6 1206.9 L1593.1 1211.8 L1592.4 1216.8 L1592.5 1221.4 L1593.3 1225.6 L1594.8 1229.1 L1597.0 1231.7 L1599.7 1233.4" fill="none" stroke="#000" stroke-width="3.6" stroke-linejoin="miter"/>
<path d="M1620.4 1191.8 L1623.1 1193.4 L1625.3 1196.1 L1626.8 1199.6 L1627.6 1203.7 L1627.7 1208.4 L1627.0 1213.4 L1625.5 1218.3 L1623.4 1223.0 L1620.8 1227.2 L1617.7 1230.7 L1614.4 1233.4 L1610.9 1235.1 L1607.6 1235.6 L1604.5 1235.1" fill="none" stroke="#000" stroke-width="2.8800000000000003" stroke-linejoin="miter"/>
<path d="M1617.2 1193.1 L1614.4 1192.6 L1611.4 1193.2 L1608.3 1194.7 L1605.3 1197.1 L1602.5 1200.2 L1600.2 1204.0 L1598.3 1208.2 L1597.0 1212.7 L1596.3 1217.1 L1596.4 1221.3 L1597.1 1225.1 L1598.5 1228.3 L1600.4 1230.6 L1602.9 1232.1" fill="none" stroke="#000" stroke-width="2.52" stroke-linejoin="miter"/>
<path d="M1625.6 1193.7 L1622.5 1193.2 L1619.1 1193.8 L1615.7 1195.5 L1612.3 1198.1 L1609.3 1201.6 L1606.6 1205.9 L1604.5 1210.6 L1603.1 1215.5 L1602.4 1220.4 L1602.4 1225.1 L1603.2 1229.3 L1604.8 1232.8 L1606.9 1235.4 L1609.7 1237.0" fill="none" stroke="#000" stroke-width="3.6" stroke-linejoin="miter"/>
<path d="M1630.3 1195.5 L1633.1 1197.1 L1635.2 1199.7 L1636.8 1203.2 L1637.6 1207.4 L1637.6 1212.1 L1636.9 1217.0 L1635.5 1222.0 L1633.4 1226.6 L1630.7 1230.9 L1627.7 1234.4 L1624.3 1237.1 L1620.9 1238.7 L1617.5 1239.3 L1614.4 1238.8" fill="none" stroke="#000" stroke-width="2.8800000000000003" stroke-linejoin="miter"/>
<path d="M1627.2 1196.8 L1624.4 1196.3 L1621.3 1196.8 L1618.3 1198.3 L1615.3 1200.7 L1612.5 1203.9 L1610.1 1207.7 L1608.2 1211.9 L1606.9 1216.4 L1606.3 1220.8 L1606.3 1225.0 L1607.0 1228.8 L1608.4 1231.9 L1610.4 1234.3 L1612.8 1235.7" fill="none" stroke="#000" stroke-width="2.52" stroke-linejoin="miter"/>
<path d="M1635.5 1197.4 L1632.4 1196.9 L1629.1 1197.5 L1625.6 1199.1 L1622.3 1201.8 L1619.2 1205.3 L1616.6 1209.5 L1614.5 1214.2 L1613.0 1219.2 L1612.3 1224.1 L1612.4 1228.8 L1613.2 1233.0 L1614.7 1236.4 L1616.9 1239.1 L1619.6 1240.7" fill="none" stroke="#000" stroke-width="3.6" stroke-linejoin="miter"/>
<path d="M1640.3 1199.1 L1643.0 1200.8 L1645.2 1203.4 L1646.7 1206.9 L1647.5 1211.1 L1647.6 1215.7 L1646.9 1220.7 L1645.4 1225.6 L1643.3 1230.3 L1640.7 1234.5 L1637.6 1238.1 L1634.3 1240.7 L1630.8 1242.4 L1627.5 1243.0 L1624.4 1242.4" fill="none" stroke="#000" stroke-width="2.8800000000000003" stroke-linejoin="miter"/>
<path d="M1637.1 1200.4 L1634.3 1200.0 L1631.3 1200.5 L1628.2 1202.0 L1625.2 1204.4 L1622.4 1207.6 L1620.1 1211.4 L1618.2 1215.6 L1616.9 1220.0 L1616.2 1224.5 L1616.3 1228.7 L1617.0 1232.4 L1618.4 1235.6 L1620.3 1237.9 L1622.8 1239.4" fill="none" stroke="#000" stroke-width="2.52" stroke-linejoin="miter"/>
<path d="M1645.5 1201.1 L1642.4 1200.5 L1639.0 1201.1 L1635.6 1202.8 L1632.2 1205.4 L1629.2 1209.0 L1626.5 1213.2 L1624.4 1217.9 L1623.0 1222.8 L1622.3 1227.8 L1622.3 1232.4 L1623.1 1236.6 L1624.7 1240.1 L1626.8 1242.7 L1629.6 1244.3" fill="none" stroke="#000" stroke-width="3.6" stroke-linejoin="miter"/>
<path d="M1650.2 1202.8 L1653.0 1204.4 L1655.1 1207.0 L1656.7 1210.5 L1657.5 1214.7 L1657.5 1219.4 L1656.8 1224.3 L1655.4 1229.3 L1653.3 1234.0 L1650.6 1238.2 L1647.6 1241.7 L1644.2 1244.4 L1640.8 1246.0 L1637.4 1246.6 L1634.3 1246.1" fill="none" stroke="#000" stroke-width="2.8800000000000003" stroke-linejoin="miter"/>
<path d="M1647.1 1204.1 L1644.3 1203.6 L1641.2 1204.1 L1638.2 1205.6 L1635.2 1208.0 L1632.4 1211.2 L1630.0 1215.0 L1628.1 1219.2 L1626.8 1223.7 L1626.2 1228.1 L1626.2 1232.3 L1626.9 1236.1 L1628.3 1239.2 L1630.3 1241.6 L1632.7 1243.1" fill="none" stroke="#000" stroke-width="2.52" stroke-linejoin="miter"/>
<path d="M1655.4 1204.7 L1652.3 1204.2 L1649.0 1204.8 L1645.5 1206.4 L1642.2 1209.1 L1639.1 1212.6 L1636.5 1216.9 L1634.4 1221.5 L1632.9 1226.5 L1632.2 1231.4 L1632.3 1236.1 L1633.1 1240.3 L1634.6 1243.8 L1636.8 1246.4 L1639.5 1248.0" fill="none" stroke="#000" stroke-width="3.6" stroke-linejoin="miter"/>
<path d="M1660.2 1206.5 L1662.9 1208.1 L1665.1 1210.7 L1666.6 1214.2 L1667.4 1218.4 L1667.5 1223.1 L1666.8 1228.0 L1665.3 1232.9 L1663.2 1237.6 L1660.6 1241.9 L1657.5 1245.4 L1654.2 1248.0 L1650.7 1249.7 L1647.4 1250.3 L1644.3 1249.8" fill="none" stroke="#000" stroke-width="2.8800000000000003" stroke-linejoin="miter"/>
<path d="M1657.0 1207.8 L1654.2 1207.3 L1651.2 1207.8 L1648.1 1209.3 L1645.1 1211.7 L1642.3 1214.9 L1639.9 1218.7 L1638.1 1222.9 L1636.8 1227.3 L1636.1 1231.8 L1636.2 1236.0 L1636.9 1239.8 L1638.3 1242.9 L1640.2 1245.3 L1642.7 1246.7" fill="none" stroke="#000" stroke-width="2.52" stroke-linejoin="miter"/>
<path d="M1665.4 1208.4 L1662.3 1207.9 L1658.9 1208.4 L1655.5 1210.1 L1652.1 1212.8 L1649.1 1216.3 L1646.4 1220.5 L1644.3 1225.2 L1642.9 1230.1 L1642.2 1235.1 L1642.2 1239.8 L1643.0 1243.9 L1644.6 1247.4 L1646.7 1250.1 L1649.5 1251.7" fill="none" stroke="#000" stroke-width="3.6" stroke-linejoin="miter"/>
<path d="M1670.1 1210.1 L1672.9 1211.8 L1675.0 1214.4 L1676.6 1217.9 L1677.4 1222.1 L1677.4 1226.7 L1676.7 1231.7 L1675.3 1236.6 L1673.2 1241.3 L1670.5 1245.5 L1667.5 1249.0 L1664.1 1251.7 L1660.7 1253.4 L1657.3 1254.0 L1654.2 1253.4" fill="none" stroke="#000" stroke-width="2.8800000000000003" stroke-linejoin="miter"/>
<path d="M1667.0 1211.4 L1664.2 1211.0 L1661.1 1211.5 L1658.1 1213.0 L1655.0 1215.4 L1652.3 1218.5 L1649.9 1222.3 L1648.0 1226.6 L1646.7 1231.0 L1646.1 1235.4 L1646.1 1239.7 L1646.8 1243.4 L1648.2 1246.6 L1650.2 1248.9 L1652.6 1250.4" fill="none" stroke="#000" stroke-width="2.52" stroke-linejoin="miter"/>
<path d="M1675.3 1212.1 L1672.2 1211.5 L1668.9 1212.1 L1665.4 1213.8 L1662.1 1216.4 L1659.0 1220.0 L1656.4 1224.2 L1654.3 1228.9 L1652.8 1233.8 L1652.1 1238.7 L1652.2 1243.4 L1653.0 1247.6 L1654.5 1251.1 L1656.7 1253.7 L1659.4 1255.3" fill="none" stroke="#000" stroke-width="3.6" stroke-linejoin="miter"/>
<path d="M1680.1 1213.8 L1682.8 1215.4 L1685.0 1218.0 L1686.5 1221.5 L1687.3 1225.7 L1687.4 1230.4 L1686.7 1235.3 L1685.2 1240.3 L1683.1 1245.0 L1680.5 1249.2 L1677.4 1252.7 L1674.1 1255.4 L1670.6 1257.0 L1667.3 1257.6 L1664.2 1257.1" fill="none" stroke="#000" stroke-width="2.8800000000000003" stroke-linejoin="miter"/>
<path d="M1676.9 1215.1 L1674.1 1214.6 L1671.1 1215.1 L1668.0 1216.6 L1665.0 1219.0 L1662.2 1222.2 L1659.8 1226.0 L1658.0 1230.2 L1656.7 1234.7 L1656.0 1239.1 L1656.1 1243.3 L1656.8 1247.1 L1658.2 1250.2 L1660.1 1252.6 L1662.6 1254.1" fill="none" stroke="#000" stroke-width="2.52" stroke-linejoin="miter"/>
<path d="M1685.3 1215.7 L1682.2 1215.2 L1678.8 1215.8 L1675.4 1217.4 L1672.0 1220.1 L1669.0 1223.6 L1666.3 1227.8 L1664.2 1232.5 L1662.8 1237.5 L1662.1 1242.4 L1662.1 1247.1 L1662.9 1251.3 L1664.5 1254.8 L1666.6 1257.4 L1669.4 1259.0" fill="none" stroke="#000" stroke-width="3.6" stroke-linejoin="miter"/>
<path d="M1690.0 1217.5 L1692.8 1219.1 L1694.9 1221.7 L1696.5 1225.2 L1697.3 1229.4 L1697.3 1234.1 L1696.6 1239.0 L1695.2 1243.9 L1693.1 1248.6 L1690.4 1252.8 L1687.3 1256.4 L1684.0 1259.0 L1680.6 1260.7 L1677.2 1261.3 L1674.1 1260.8" fill="none" stroke="#000" stroke-width="2.8800000000000003" stroke-linejoin="miter"/>
<path d="M1686.9 1218.8 L1684.1 1218.3 L1681.0 1218.8 L1677.9 1220.3 L1674.9 1222.7 L1672.2 1225.9 L1669.8 1229.7 L1667.9 1233.9 L1666.6 1238.3 L1666.0 1242.8 L1666.0 1247.0 L1666.7 1250.8 L1668.1 1253.9 L1670.1 1256.3 L1672.5 1257.7" fill="none" stroke="#000" stroke-width="2.52" stroke-linejoin="miter"/>
<path d="M1695.2 1219.4 L1692.1 1218.9 L1688.8 1219.4 L1685.3 1221.1 L1682.0 1223.8 L1678.9 1227.3 L1676.3 1231.5 L1674.2 1236.2 L1672.7 1241.1 L1672.0 1246.1 L1672.1 1250.7 L1672.9 1254.9 L1674.4 1258.4 L1676.6 1261.1 L1679.3 1262.7" fill="none" stroke="#000" stroke-width="3.6" stroke-linejoin="miter"/>
<path d="M1700.0 1221.1 L1702.7 1222.7 L1704.9 1225.4 L1706.4 1228.9 L1707.2 1233.1 L1707.3 1237.7 L1706.6 1242.7 L1705.1 1247.6 L1703.0 1252.3 L1700.4 1256.5 L1697.3 1260.0 L1694.0 1262.7 L1690.5 1264.4 L1687.2 1264.9 L1684.1 1264.4" fill="none" stroke="#000" stroke-width="2.8800000000000003" stroke-linejoin="miter"/>
<path d="M1696.8 1222.4 L1694.0 1221.9 L1691.0 1222.5 L1687.9 1224.0 L1684.9 1226.4 L1682.1 1229.5 L1679.7 1233.3 L1677.9 1237.6 L1676.6 1242.0 L1675.9 1246.4 L1676.0 1250.6 L1676.7 1254.4 L1678.1 1257.6 L1680.0 1259.9 L1682.5 1261.4" fill="none" stroke="#000" stroke-width="2.52" stroke-linejoin="miter"/>
<path d="M1705.2 1223.0 L1702.1 1222.5 L1698.7 1223.1 L1695.3 1224.8 L1691.9 1227.4 L1688.9 1231.0 L1686.2 1235.2 L1684.1 1239.9 L1682.7 1244.8 L1682.0 1249.7 L1682.0 1254.4 L1682.8 1258.6 L1684.4 1262.1 L1686.5 1264.7 L1689.3 1266.3" fill="none" stroke="#000" stroke-width="3.6" stroke-linejoin="miter"/>
<path d="M1709.9 1224.8 L1712.6 1226.4 L1714.8 1229.0 L1716.4 1232.5 L1717.2 1236.7 L1717.2 1241.4 L1716.5 1246.3 L1715.1 1251.3 L1713.0 1256.0 L1710.3 1260.2 L1707.2 1263.7 L1703.9 1266.4 L1700.5 1268.0 L1697.1 1268.6 L1694.0 1268.1" fill="none" stroke="#000" stroke-width="2.8800000000000003" stroke-linejoin="miter"/>
<path d="M1706.8 1226.1 L1704.0 1225.6 L1700.9 1226.1 L1697.8 1227.6 L1694.8 1230.0 L1692.1 1233.2 L1689.7 1237.0 L1687.8 1241.2 L1686.5 1245.7 L1685.9 1250.1 L1685.9 1254.3 L1686.6 1258.1 L1688.0 1261.2 L1690.0 1263.6 L1692.4 1265.0" fill="none" stroke="#000" stroke-width="2.52" stroke-linejoin="miter"/>
<path d="M1715.1 1226.7 L1712.0 1226.2 L1708.7 1226.8 L1705.2 1228.4 L1701.9 1231.1 L1698.8 1234.6 L1696.2 1238.8 L1694.1 1243.5 L1692.6 1248.5 L1691.9 1253.4 L1692.0 1258.1 L1692.8 1262.3 L1694.3 1265.8 L1696.5 1268.4 L1699.2 1270.0" fill="none" stroke="#000" stroke-width="3.6" stroke-linejoin="miter"/>
<path d="M1719.9 1228.5 L1722.6 1230.1 L1724.8 1232.7 L1726.3 1236.2 L1727.1 1240.4 L1727.2 1245.1 L1726.5 1250.0 L1725.0 1254.9 L1722.9 1259.6 L1720.3 1263.8 L1717.2 1267.4 L1713.9 1270.0 L1710.4 1271.7 L1707.1 1272.3 L1704.0 1271.7" fill="none" stroke="#000" stroke-width="2.8800000000000003" stroke-linejoin="miter"/>
<path d="M1716.7 1229.7 L1713.9 1229.3 L1710.9 1229.8 L1707.8 1231.3 L1704.8 1233.7 L1702.0 1236.9 L1699.6 1240.7 L1697.8 1244.9 L1696.5 1249.3 L1695.8 1253.8 L1695.9 1258.0 L1696.6 1261.7 L1698.0 1264.9 L1699.9 1267.3 L1702.4 1268.7" fill="none" stroke="#000" stroke-width="2.52" stroke-linejoin="miter"/>
<path d="M1696.7 1244.5 L1726.1 1255.3" fill="none" stroke="#000" stroke-width="3.6" stroke-linejoin="miter"/>
<path d="M1756.4 1279.3 L1754.9 1278.5 L1753.8 1277.1 L1753.0 1275.3 L1752.6 1273.1 L1752.5 1270.6 L1752.9 1268.1 L1753.7 1265.5 L1754.8 1263.0 L1756.2 1260.8 L1757.8 1259.0 L1759.5 1257.6 L1761.3 1256.7 L1763.1 1256.4 L1764.7 1256.7 L1786.1 1264.6 L1787.6 1265.4 L1788.7 1266.8 L1789.5 1268.6 L1789.9 1270.8 L1790.0 1273.3 L1789.6 1275.8 L1788.8 1278.4 L1787.7 1280.9 L1786.3 1283.1 L1784.7 1284.9 L1783.0 1286.3 L1781.2 1287.2 L1779.4 1287.5 L1777.8 1287.2Z" fill="#fff" stroke="#000" stroke-width="3" stroke-linejoin="round"/>
<ellipse cx="1782.0" cy="1275.9" rx="12.1" ry="7.3" transform="rotate(110.19 1782.0 1275.9)" fill="#fff" stroke="#000" stroke-width="3"/>
<path d="M1823.5 1302.9 L1822.2 1302.1 L1821.2 1300.9 L1820.4 1299.2 L1820.1 1297.2 L1820.0 1295.0 L1820.4 1292.6 L1821.1 1290.3 L1822.1 1288.1 L1823.3 1286.0 L1824.8 1284.4 L1826.4 1283.1 L1828.0 1282.3 L1829.6 1282.0 L1831.1 1282.3 L2056.5 1365.3 L2057.8 1366.0 L2058.8 1367.3 L2059.6 1369.0 L2059.9 1371.0 L2060.0 1373.2 L2059.6 1375.5 L2058.9 1377.9 L2057.9 1380.1 L2056.7 1382.1 L2055.2 1383.8 L2053.6 1385.1 L2052.0 1385.9 L2050.4 1386.1 L2048.9 1385.9Z" fill="#fff" stroke="#000" stroke-width="3" stroke-linejoin="round"/>
<ellipse cx="2052.7" cy="1375.6" rx="11.0" ry="6.6" transform="rotate(110.19 2052.7 1375.6)" fill="#fff" stroke="#000" stroke-width="3"/>
<path d="M1793.4 1308.2 L1790.3 1306.3 L1787.8 1303.4 L1786.1 1299.4 L1785.1 1294.6 L1785.1 1289.2 L1785.9 1283.6 L1787.5 1277.9 L1789.9 1272.6 L1793.0 1267.8 L1796.5 1263.7 L1800.3 1260.7 L1804.2 1258.8 L1808.1 1258.1 L1811.6 1258.7 L1851.6 1273.4 L1854.7 1275.3 L1857.2 1278.3 L1858.9 1282.3 L1859.9 1287.1 L1859.9 1292.4 L1859.1 1298.0 L1857.5 1303.7 L1855.1 1309.1 L1852.0 1313.9 L1848.5 1317.9 L1844.7 1321.0 L1840.8 1322.9 L1836.9 1323.5 L1833.4 1322.9Z" fill="#fff" stroke="#000" stroke-width="3" stroke-linejoin="round"/>
<ellipse cx="1842.5" cy="1298.2" rx="26.4" ry="16.0" transform="rotate(110.19 1842.5 1298.2)" fill="#fff" stroke="#000" stroke-width="3"/>
<ellipse cx="1842.5" cy="1298.2" rx="19.0" ry="11.5" transform="rotate(110.19 1842.5 1298.2)" fill="none" stroke="#000" stroke-width="2.5"/>
<ellipse cx="1842.5" cy="1298.2" rx="11.9" ry="7.2" transform="rotate(110.19 1842.5 1298.2)" fill="#fff" stroke="#000" stroke-width="2.5"/>
<path d="M1860.2 1330.5 L1857.4 1328.8 L1855.1 1326.0 L1853.5 1322.4 L1852.6 1318.0 L1852.6 1313.1 L1853.3 1307.9 L1854.8 1302.7 L1857.0 1297.8 L1859.8 1293.4 L1863.0 1289.7 L1866.5 1286.9 L1870.1 1285.2 L1873.6 1284.6 L1876.9 1285.1 L1899.8 1293.5 L1902.6 1295.2 L1904.9 1298.0 L1906.5 1301.6 L1907.4 1306.0 L1907.4 1310.9 L1906.7 1316.1 L1905.2 1321.3 L1903.0 1326.2 L1900.2 1330.6 L1897.0 1334.3 L1893.5 1337.1 L1889.9 1338.8 L1886.4 1339.4 L1883.1 1338.9Z" fill="#fff" stroke="#000" stroke-width="3" stroke-linejoin="round"/>
<ellipse cx="1891.4" cy="1316.2" rx="24.2" ry="14.6" transform="rotate(110.19 1891.4 1316.2)" fill="#fff" stroke="#000" stroke-width="3"/>
<ellipse cx="1891.4" cy="1316.2" rx="17.4" ry="10.5" transform="rotate(110.19 1891.4 1316.2)" fill="none" stroke="#000" stroke-width="2.5"/>
<ellipse cx="1891.4" cy="1316.2" rx="10.9" ry="6.6" transform="rotate(110.19 1891.4 1316.2)" fill="#fff" stroke="#000" stroke-width="2.5"/>
<path d="M1911.3 1352.8 L1908.0 1350.8 L1905.4 1347.7 L1903.6 1343.6 L1902.6 1338.6 L1902.6 1333.0 L1903.4 1327.1 L1905.2 1321.3 L1907.7 1315.7 L1910.8 1310.6 L1914.5 1306.4 L1918.4 1303.3 L1922.5 1301.3 L1926.5 1300.6 L1930.2 1301.2 L1968.7 1315.4 L1972.0 1317.3 L1974.6 1320.5 L1976.4 1324.6 L1977.4 1329.6 L1977.4 1335.2 L1976.6 1341.0 L1974.8 1346.9 L1972.3 1352.5 L1969.2 1357.5 L1965.5 1361.7 L1961.6 1364.9 L1957.5 1366.9 L1953.5 1367.6 L1949.8 1366.9Z" fill="#fff" stroke="#000" stroke-width="3" stroke-linejoin="round"/>
<ellipse cx="1959.2" cy="1341.2" rx="27.5" ry="16.6" transform="rotate(110.19 1959.2 1341.2)" fill="#fff" stroke="#000" stroke-width="3"/>
<ellipse cx="1959.2" cy="1341.2" rx="19.8" ry="12.0" transform="rotate(110.19 1959.2 1341.2)" fill="none" stroke="#000" stroke-width="2.5"/>
<ellipse cx="1959.2" cy="1341.2" rx="12.4" ry="7.5" transform="rotate(110.19 1959.2 1341.2)" fill="#fff" stroke="#000" stroke-width="2.5"/>
<path d="M1985.2 1376.5 L1982.4 1374.8 L1980.1 1372.0 L1978.5 1368.4 L1977.6 1364.0 L1977.6 1359.1 L1978.3 1353.9 L1979.8 1348.8 L1982.0 1343.8 L1984.8 1339.4 L1988.0 1335.7 L1991.5 1332.9 L1995.1 1331.2 L1998.6 1330.6 L2001.9 1331.1 L2019.8 1337.7 L2022.6 1339.4 L2024.9 1342.2 L2026.5 1345.8 L2027.4 1350.2 L2027.4 1355.1 L2026.7 1360.3 L2025.2 1365.4 L2023.0 1370.4 L2020.2 1374.8 L2017.0 1378.5 L2013.5 1381.3 L2009.9 1383.0 L2006.4 1383.6 L2003.1 1383.1Z" fill="#fff" stroke="#000" stroke-width="3" stroke-linejoin="round"/>
<ellipse cx="2011.4" cy="1360.4" rx="24.2" ry="14.6" transform="rotate(110.19 2011.4 1360.4)" fill="#fff" stroke="#000" stroke-width="3"/>
<ellipse cx="2011.4" cy="1360.4" rx="17.4" ry="10.5" transform="rotate(110.19 2011.4 1360.4)" fill="none" stroke="#000" stroke-width="2.5"/>
<ellipse cx="2011.4" cy="1360.4" rx="10.9" ry="6.6" transform="rotate(110.19 2011.4 1360.4)" fill="#fff" stroke="#000" stroke-width="2.5"/>
<path d="M2031.3 1397.0 L2028.0 1395.0 L2025.4 1391.9 L2023.6 1387.7 L2022.6 1382.8 L2022.6 1377.2 L2023.4 1371.3 L2025.2 1365.4 L2027.7 1359.9 L2030.8 1354.8 L2034.5 1350.6 L2038.4 1347.5 L2042.5 1345.5 L2046.5 1344.8 L2050.2 1345.4 L2093.7 1361.4 L2097.0 1363.4 L2099.6 1366.5 L2101.4 1370.6 L2102.4 1375.6 L2102.4 1381.2 L2101.6 1387.1 L2099.8 1392.9 L2097.3 1398.5 L2094.2 1403.6 L2090.5 1407.8 L2086.6 1410.9 L2082.5 1412.9 L2078.5 1413.6 L2074.8 1413.0Z" fill="#fff" stroke="#000" stroke-width="3" stroke-linejoin="round"/>
<ellipse cx="2084.2" cy="1387.2" rx="27.5" ry="16.6" transform="rotate(110.19 2084.2 1387.2)" fill="#fff" stroke="#000" stroke-width="3"/>
<path d="M2090.0 1360.8 L2086.0 1361.5 L2081.9 1363.5 L2078.0 1366.6 L2074.3 1370.9 L2071.2 1375.9 L2068.7 1381.5 L2066.9 1387.3 L2066.1 1393.2 L2066.1 1398.8 L2067.1 1403.8 L2068.9 1407.9 L2071.5 1411.0" fill="none" stroke="#000" stroke-width="5.5" stroke-linejoin="miter"/>
<path d="M2152.0 1443.7 L2148.5 1441.7 L2145.7 1438.3 L2143.7 1433.8 L2142.7 1428.4 L2142.6 1422.4 L2143.5 1416.1 L2145.4 1409.7 L2148.1 1403.7 L2151.5 1398.2 L2155.4 1393.7 L2159.7 1390.3 L2164.1 1388.1 L2168.4 1387.4 L2172.4 1388.1 L2203.0 1399.3 L2206.5 1401.4 L2209.3 1404.8 L2211.3 1409.3 L2212.3 1414.7 L2212.4 1420.7 L2211.5 1427.0 L2209.6 1433.4 L2206.9 1439.4 L2203.5 1444.8 L2199.6 1449.4 L2195.3 1452.8 L2190.9 1454.9 L2186.6 1455.7 L2182.6 1455.0Z" fill="#fff" stroke="#000" stroke-width="3" stroke-linejoin="round"/>
<ellipse cx="2192.8" cy="1427.2" rx="29.6" ry="17.9" transform="rotate(110.19 2192.8 1427.2)" fill="#fff" stroke="#000" stroke-width="3"/>
<path d="M2199.0 1398.7 L2194.7 1399.4 L2190.3 1401.5 L2186.0 1405.0 L2182.1 1409.5 L2178.6 1414.9 L2175.9 1421.0 L2174.1 1427.3 L2173.2 1433.7 L2173.2 1439.7 L2174.3 1445.1 L2176.3 1449.6 L2179.1 1452.9" fill="none" stroke="#000" stroke-width="5.5" stroke-linejoin="miter"/>
<path d="M2259.0 1421.0 L2308.9 1397.6 L2317.5 1400.8 L2269.6 1425.2Z" fill="#fff" stroke="#000" stroke-width="2.6" stroke-linejoin="round"/>
<path d="M2269.6 1425.2 L2317.5 1400.8 L2317.5 1501.0 L2304.0 1518.5 L2295.5 1516.0 L2290.5 1476.0 L2286.5 1483.0 L2280.5 1528.5 L2269.6 1526.0Z" fill="#fff" stroke="#000" stroke-width="3" stroke-linejoin="round"/>
<path d="M2259.0 1421.0 L2269.6 1425.2 L2269.6 1526.0 L2259.0 1520.0Z" fill="#fff" stroke="#000" stroke-width="2.6" stroke-linejoin="round"/>
<path d="M2286.0 1483.0 L2286.0 1450.0 Q2292.2 1439.0 2298.5 1450.0 L2298.5 1476.0" fill="#fff" stroke="#000" stroke-width="3"/>
<path d="M2290.5 1476.0 L2295.5 1516.0" fill="none" stroke="#000" stroke-width="3" stroke-linejoin="miter"/>
<path d="M1348.2 1288.8 L1345.1 1288.3 L1341.7 1288.9 L1338.3 1290.6 L1335.0 1293.3 L1331.9 1296.8 L1329.3 1301.1 L1327.2 1305.8 L1325.8 1310.7 L1325.1 1315.6 L1325.1 1320.3 L1326.0 1324.5 L1327.5 1328.0 L1329.7 1330.5 L1332.4 1332.1" fill="none" stroke="#000" stroke-width="3.6" stroke-linejoin="miter"/>
<path d="M1353.0 1290.5 L1355.7 1292.1 L1357.9 1294.7 L1359.4 1298.2 L1360.3 1302.3 L1360.3 1307.0 L1359.6 1311.9 L1358.2 1316.9 L1356.1 1321.6 L1353.5 1325.8 L1350.4 1329.4 L1347.1 1332.0 L1343.7 1333.7 L1340.3 1334.3 L1337.2 1333.8" fill="none" stroke="#000" stroke-width="2.8800000000000003" stroke-linejoin="miter"/>
<path d="M1349.8 1291.8 L1347.0 1291.4 L1344.0 1291.9 L1340.9 1293.4 L1337.9 1295.8 L1335.1 1299.0 L1332.8 1302.9 L1330.9 1307.1 L1329.6 1311.5 L1329.0 1316.0 L1329.0 1320.2 L1329.8 1323.9 L1331.2 1327.1 L1333.1 1329.4 L1335.6 1330.8" fill="none" stroke="#000" stroke-width="2.52" stroke-linejoin="miter"/>
<path d="M1358.0 1292.3 L1354.9 1291.8 L1351.5 1292.4 L1348.1 1294.1 L1344.7 1296.8 L1341.7 1300.3 L1339.0 1304.6 L1336.9 1309.3 L1335.5 1314.2 L1334.8 1319.1 L1334.9 1323.8 L1335.7 1328.0 L1337.3 1331.4 L1339.5 1334.0 L1342.2 1335.6" fill="none" stroke="#000" stroke-width="3.6" stroke-linejoin="miter"/>
<path d="M1362.7 1294.0 L1365.5 1295.6 L1367.6 1298.2 L1369.2 1301.7 L1370.0 1305.8 L1370.1 1310.5 L1369.4 1315.4 L1368.0 1320.4 L1365.9 1325.1 L1363.3 1329.3 L1360.2 1332.9 L1356.9 1335.5 L1353.4 1337.2 L1350.1 1337.8 L1346.9 1337.3" fill="none" stroke="#000" stroke-width="2.8800000000000003" stroke-linejoin="miter"/>
<path d="M1359.6 1295.3 L1356.8 1294.9 L1353.7 1295.4 L1350.6 1296.9 L1347.6 1299.3 L1344.9 1302.5 L1342.5 1306.3 L1340.6 1310.6 L1339.3 1315.0 L1338.7 1319.5 L1338.8 1323.7 L1339.5 1327.4 L1340.9 1330.5 L1342.9 1332.9 L1345.4 1334.3" fill="none" stroke="#000" stroke-width="2.52" stroke-linejoin="miter"/>
<path d="M1367.7 1295.8 L1364.6 1295.3 L1361.3 1295.9 L1357.8 1297.6 L1354.5 1300.3 L1351.4 1303.8 L1348.8 1308.0 L1346.7 1312.8 L1345.3 1317.7 L1344.6 1322.6 L1344.6 1327.3 L1345.5 1331.5 L1347.0 1334.9 L1349.2 1337.5 L1352.0 1339.1" fill="none" stroke="#000" stroke-width="3.6" stroke-linejoin="miter"/>
<path d="M1372.5 1297.5 L1375.2 1299.1 L1377.4 1301.7 L1379.0 1305.1 L1379.8 1309.3 L1379.9 1314.0 L1379.2 1318.9 L1377.7 1323.9 L1375.7 1328.6 L1373.0 1332.8 L1369.9 1336.3 L1366.6 1339.0 L1363.2 1340.7 L1359.8 1341.3 L1356.7 1340.8" fill="none" stroke="#000" stroke-width="2.8800000000000003" stroke-linejoin="miter"/>
<path d="M1369.3 1298.8 L1366.5 1298.4 L1363.5 1298.9 L1360.4 1300.4 L1357.4 1302.8 L1354.6 1306.0 L1352.3 1309.8 L1350.4 1314.1 L1349.1 1318.5 L1348.5 1323.0 L1348.5 1327.2 L1349.3 1330.9 L1350.7 1334.0 L1352.7 1336.4 L1355.1 1337.8" fill="none" stroke="#000" stroke-width="2.52" stroke-linejoin="miter"/>
<path d="M1377.5 1299.3 L1374.4 1298.8 L1371.0 1299.4 L1367.6 1301.1 L1364.2 1303.8 L1361.2 1307.3 L1358.5 1311.5 L1356.5 1316.2 L1355.0 1321.2 L1354.3 1326.1 L1354.4 1330.8 L1355.2 1335.0 L1356.8 1338.4 L1359.0 1341.0 L1361.7 1342.6" fill="none" stroke="#000" stroke-width="3.6" stroke-linejoin="miter"/>
<path d="M1382.2 1301.0 L1385.0 1302.6 L1387.2 1305.2 L1388.7 1308.6 L1389.5 1312.8 L1389.6 1317.5 L1388.9 1322.4 L1387.5 1327.4 L1385.4 1332.1 L1382.8 1336.3 L1379.7 1339.8 L1376.4 1342.5 L1372.9 1344.2 L1369.6 1344.8 L1366.5 1344.3" fill="none" stroke="#000" stroke-width="2.8800000000000003" stroke-linejoin="miter"/>
<path d="M1379.1 1302.3 L1376.3 1301.8 L1373.2 1302.4 L1370.2 1303.9 L1367.2 1306.3 L1364.4 1309.5 L1362.0 1313.3 L1360.1 1317.6 L1358.9 1322.0 L1358.2 1326.4 L1358.3 1330.6 L1359.0 1334.4 L1360.4 1337.5 L1362.4 1339.9 L1364.9 1341.3" fill="none" stroke="#000" stroke-width="2.52" stroke-linejoin="miter"/>
<path d="M1387.2 1302.8 L1384.1 1302.3 L1380.8 1302.9 L1377.3 1304.6 L1374.0 1307.3 L1370.9 1310.8 L1368.3 1315.0 L1366.2 1319.7 L1364.8 1324.7 L1364.1 1329.6 L1364.2 1334.3 L1365.0 1338.5 L1366.5 1341.9 L1368.7 1344.5 L1371.5 1346.1" fill="none" stroke="#000" stroke-width="3.6" stroke-linejoin="miter"/>
<path d="M1392.0 1304.5 L1394.7 1306.1 L1396.9 1308.7 L1398.5 1312.1 L1399.3 1316.3 L1399.4 1321.0 L1398.7 1325.9 L1397.3 1330.8 L1395.2 1335.6 L1392.5 1339.8 L1389.5 1343.3 L1386.1 1346.0 L1382.7 1347.7 L1379.3 1348.3 L1376.2 1347.8" fill="none" stroke="#000" stroke-width="2.8800000000000003" stroke-linejoin="miter"/>
<path d="M1388.8 1305.8 L1386.0 1305.3 L1383.0 1305.9 L1379.9 1307.4 L1376.9 1309.8 L1374.2 1313.0 L1371.8 1316.8 L1369.9 1321.1 L1368.6 1325.5 L1368.0 1329.9 L1368.1 1334.1 L1368.8 1337.9 L1370.2 1341.0 L1372.2 1343.4 L1374.6 1344.8" fill="none" stroke="#000" stroke-width="2.52" stroke-linejoin="miter"/>
<path d="M1397.0 1306.3 L1393.9 1305.8 L1390.5 1306.4 L1387.1 1308.1 L1383.8 1310.7 L1380.7 1314.3 L1378.1 1318.5 L1376.0 1323.2 L1374.5 1328.2 L1373.8 1333.1 L1373.9 1337.8 L1374.8 1341.9 L1376.3 1345.4 L1378.5 1348.0 L1381.2 1349.6" fill="none" stroke="#000" stroke-width="3.6" stroke-linejoin="miter"/>
<path d="M1401.8 1308.0 L1404.5 1309.6 L1406.7 1312.2 L1408.2 1315.6 L1409.1 1319.8 L1409.1 1324.5 L1408.4 1329.4 L1407.0 1334.3 L1404.9 1339.0 L1402.3 1343.3 L1399.2 1346.8 L1395.9 1349.5 L1392.5 1351.2 L1389.1 1351.8 L1386.0 1351.3" fill="none" stroke="#000" stroke-width="2.8800000000000003" stroke-linejoin="miter"/>
<path d="M1398.6 1309.3 L1395.8 1308.8 L1392.8 1309.4 L1389.7 1310.9 L1386.7 1313.3 L1383.9 1316.5 L1381.5 1320.3 L1379.7 1324.6 L1378.4 1329.0 L1377.8 1333.4 L1377.8 1337.6 L1378.6 1341.4 L1380.0 1344.5 L1381.9 1346.9 L1384.4 1348.3" fill="none" stroke="#000" stroke-width="2.52" stroke-linejoin="miter"/>
<path d="M1406.8 1309.8 L1403.6 1309.3 L1400.3 1309.9 L1396.8 1311.6 L1393.5 1314.2 L1390.5 1317.8 L1387.8 1322.0 L1385.7 1326.7 L1384.3 1331.7 L1383.6 1336.6 L1383.7 1341.3 L1384.5 1345.4 L1386.1 1348.9 L1388.3 1351.5 L1391.0 1353.1" fill="none" stroke="#000" stroke-width="3.6" stroke-linejoin="miter"/>
<path d="M1411.5 1311.5 L1414.2 1313.1 L1416.4 1315.6 L1418.0 1319.1 L1418.8 1323.3 L1418.9 1328.0 L1418.2 1332.9 L1416.8 1337.8 L1414.7 1342.5 L1412.0 1346.8 L1409.0 1350.3 L1405.6 1353.0 L1402.2 1354.7 L1398.9 1355.3 L1395.7 1354.8" fill="none" stroke="#000" stroke-width="2.8800000000000003" stroke-linejoin="miter"/>
<path d="M1408.3 1312.8 L1405.5 1312.3 L1402.5 1312.9 L1399.4 1314.4 L1396.4 1316.8 L1393.7 1320.0 L1391.3 1323.8 L1389.4 1328.0 L1388.1 1332.5 L1387.5 1336.9 L1387.6 1341.1 L1388.3 1344.9 L1389.7 1348.0 L1391.7 1350.4 L1394.1 1351.8" fill="none" stroke="#000" stroke-width="2.52" stroke-linejoin="miter"/>
<path d="M1416.5 1313.3 L1413.4 1312.7 L1410.0 1313.4 L1406.6 1315.0 L1403.3 1317.7 L1400.2 1321.3 L1397.6 1325.5 L1395.5 1330.2 L1394.1 1335.2 L1393.4 1340.1 L1393.4 1344.8 L1394.3 1348.9 L1395.8 1352.4 L1398.0 1355.0 L1400.7 1356.6" fill="none" stroke="#000" stroke-width="3.6" stroke-linejoin="miter"/>
<path d="M1421.3 1315.0 L1424.0 1316.5 L1426.2 1319.1 L1427.7 1322.6 L1428.6 1326.8 L1428.6 1331.5 L1427.9 1336.4 L1426.5 1341.3 L1424.4 1346.0 L1421.8 1350.3 L1418.7 1353.8 L1415.4 1356.5 L1412.0 1358.2 L1408.6 1358.8 L1405.5 1358.3" fill="none" stroke="#000" stroke-width="2.8800000000000003" stroke-linejoin="miter"/>
<path d="M1418.1 1316.3 L1415.3 1315.8 L1412.3 1316.4 L1409.2 1317.9 L1406.2 1320.3 L1403.4 1323.5 L1401.1 1327.3 L1399.2 1331.5 L1397.9 1336.0 L1397.3 1340.4 L1397.3 1344.6 L1398.1 1348.4 L1399.5 1351.5 L1401.4 1353.8 L1403.9 1355.3" fill="none" stroke="#000" stroke-width="2.52" stroke-linejoin="miter"/>
<path d="M1426.3 1316.7 L1423.2 1316.2 L1419.8 1316.9 L1416.4 1318.5 L1413.0 1321.2 L1410.0 1324.8 L1407.3 1329.0 L1405.2 1333.7 L1403.8 1338.6 L1403.1 1343.6 L1403.2 1348.2 L1404.0 1352.4 L1405.6 1355.9 L1407.8 1358.5 L1410.5 1360.1" fill="none" stroke="#000" stroke-width="3.6" stroke-linejoin="miter"/>
<path d="M1431.0 1318.4 L1433.8 1320.0 L1435.9 1322.6 L1437.5 1326.1 L1438.3 1330.3 L1438.4 1335.0 L1437.7 1339.9 L1436.3 1344.8 L1434.2 1349.5 L1431.6 1353.8 L1428.5 1357.3 L1425.2 1360.0 L1421.7 1361.7 L1418.4 1362.3 L1415.2 1361.8" fill="none" stroke="#000" stroke-width="2.8800000000000003" stroke-linejoin="miter"/>
<path d="M1427.9 1319.8 L1425.1 1319.3 L1422.0 1319.9 L1418.9 1321.4 L1415.9 1323.8 L1413.2 1327.0 L1410.8 1330.8 L1408.9 1335.0 L1407.6 1339.5 L1407.0 1343.9 L1407.1 1348.1 L1407.8 1351.9 L1409.2 1355.0 L1411.2 1357.3 L1413.7 1358.8" fill="none" stroke="#000" stroke-width="2.52" stroke-linejoin="miter"/>
<path d="M1436.0 1320.2 L1432.9 1319.7 L1429.5 1320.3 L1426.1 1322.0 L1422.8 1324.7 L1419.7 1328.3 L1417.1 1332.5 L1415.0 1337.2 L1413.6 1342.1 L1412.9 1347.1 L1412.9 1351.7 L1413.8 1355.9 L1415.3 1359.4 L1417.5 1362.0 L1420.3 1363.6" fill="none" stroke="#000" stroke-width="3.6" stroke-linejoin="miter"/>
<path d="M1440.8 1321.9 L1443.5 1323.5 L1445.7 1326.1 L1447.3 1329.6 L1448.1 1333.8 L1448.2 1338.4 L1447.5 1343.4 L1446.0 1348.3 L1444.0 1353.0 L1441.3 1357.3 L1438.2 1360.8 L1434.9 1363.5 L1431.5 1365.2 L1428.1 1365.8 L1425.0 1365.3" fill="none" stroke="#000" stroke-width="2.8800000000000003" stroke-linejoin="miter"/>
<path d="M1437.6 1323.3 L1434.8 1322.8 L1431.8 1323.4 L1428.7 1324.9 L1425.7 1327.3 L1422.9 1330.5 L1420.6 1334.3 L1418.7 1338.5 L1417.4 1343.0 L1416.8 1347.4 L1416.8 1351.6 L1417.6 1355.4 L1419.0 1358.5 L1421.0 1360.8 L1423.4 1362.3" fill="none" stroke="#000" stroke-width="2.52" stroke-linejoin="miter"/>
<path d="M1445.8 1323.7 L1442.7 1323.2 L1439.3 1323.8 L1435.9 1325.5 L1432.5 1328.2 L1429.5 1331.8 L1426.8 1336.0 L1424.8 1340.7 L1423.3 1345.6 L1422.6 1350.6 L1422.7 1355.2 L1423.5 1359.4 L1425.1 1362.9 L1427.3 1365.5 L1430.0 1367.1" fill="none" stroke="#000" stroke-width="3.6" stroke-linejoin="miter"/>
<path d="M1450.5 1325.4 L1453.3 1327.0 L1455.5 1329.6 L1457.0 1333.1 L1457.8 1337.3 L1457.9 1341.9 L1457.2 1346.9 L1455.8 1351.8 L1453.7 1356.5 L1451.1 1360.7 L1448.0 1364.3 L1444.7 1367.0 L1441.2 1368.7 L1437.9 1369.3 L1434.8 1368.8" fill="none" stroke="#000" stroke-width="2.8800000000000003" stroke-linejoin="miter"/>
<path d="M1447.4 1326.8 L1444.6 1326.3 L1441.5 1326.8 L1438.5 1328.4 L1435.5 1330.8 L1432.7 1334.0 L1430.3 1337.8 L1428.4 1342.0 L1427.2 1346.5 L1426.5 1350.9 L1426.6 1355.1 L1427.3 1358.9 L1428.7 1362.0 L1430.7 1364.3 L1433.2 1365.8" fill="none" stroke="#000" stroke-width="2.52" stroke-linejoin="miter"/>
<path d="M1455.5 1327.2 L1452.4 1326.7 L1449.1 1327.3 L1445.6 1329.0 L1442.3 1331.7 L1439.2 1335.3 L1436.6 1339.5 L1434.5 1344.2 L1433.1 1349.1 L1432.4 1354.1 L1432.5 1358.7 L1433.3 1362.9 L1434.8 1366.4 L1437.0 1369.0 L1439.8 1370.6" fill="none" stroke="#000" stroke-width="3.6" stroke-linejoin="miter"/>
<path d="M1460.3 1328.9 L1463.0 1330.5 L1465.2 1333.1 L1466.8 1336.6 L1467.6 1340.8 L1467.7 1345.4 L1467.0 1350.4 L1465.5 1355.3 L1463.5 1360.0 L1460.8 1364.2 L1457.8 1367.8 L1454.4 1370.5 L1451.0 1372.2 L1447.6 1372.8 L1444.5 1372.3" fill="none" stroke="#000" stroke-width="2.8800000000000003" stroke-linejoin="miter"/>
<path d="M1457.1 1330.2 L1454.3 1329.8 L1451.3 1330.3 L1448.2 1331.9 L1445.2 1334.3 L1442.5 1337.5 L1440.1 1341.3 L1438.2 1345.5 L1436.9 1350.0 L1436.3 1354.4 L1436.4 1358.6 L1437.1 1362.4 L1438.5 1365.5 L1440.5 1367.8 L1442.9 1369.2" fill="none" stroke="#000" stroke-width="2.52" stroke-linejoin="miter"/>
<path d="M1465.3 1330.7 L1462.2 1330.2 L1458.8 1330.8 L1455.4 1332.5 L1452.1 1335.2 L1449.0 1338.7 L1446.4 1343.0 L1444.3 1347.7 L1442.8 1352.6 L1442.1 1357.6 L1442.2 1362.2 L1443.0 1366.4 L1444.6 1369.9 L1446.8 1372.5 L1449.5 1374.1" fill="none" stroke="#000" stroke-width="3.6" stroke-linejoin="miter"/>
<path d="M1470.1 1332.4 L1472.8 1334.0 L1475.0 1336.6 L1476.5 1340.1 L1477.4 1344.3 L1477.4 1348.9 L1476.7 1353.9 L1475.3 1358.8 L1473.2 1363.5 L1470.6 1367.7 L1467.5 1371.3 L1464.2 1374.0 L1460.8 1375.7 L1457.4 1376.3 L1454.3 1375.8" fill="none" stroke="#000" stroke-width="2.8800000000000003" stroke-linejoin="miter"/>
<path d="M1466.9 1333.7 L1464.1 1333.3 L1461.1 1333.8 L1458.0 1335.4 L1455.0 1337.8 L1452.2 1341.0 L1449.8 1344.8 L1448.0 1349.0 L1446.7 1353.4 L1446.0 1357.9 L1446.1 1362.1 L1446.9 1365.8 L1448.3 1369.0 L1450.2 1371.3 L1452.7 1372.7" fill="none" stroke="#000" stroke-width="2.52" stroke-linejoin="miter"/>
<path d="M1475.1 1334.2 L1471.9 1333.7 L1468.6 1334.3 L1465.1 1336.0 L1461.8 1338.7 L1458.8 1342.2 L1456.1 1346.5 L1454.0 1351.2 L1452.6 1356.1 L1451.9 1361.0 L1452.0 1365.7 L1452.8 1369.9 L1454.4 1373.4 L1456.6 1376.0 L1459.3 1377.6" fill="none" stroke="#000" stroke-width="3.6" stroke-linejoin="miter"/>
<path d="M1479.8 1335.9 L1482.5 1337.5 L1484.7 1340.1 L1486.3 1343.6 L1487.1 1347.8 L1487.2 1352.4 L1486.5 1357.3 L1485.1 1362.3 L1483.0 1367.0 L1480.3 1371.2 L1477.3 1374.8 L1473.9 1377.5 L1470.5 1379.1 L1467.2 1379.8 L1464.0 1379.3" fill="none" stroke="#000" stroke-width="2.8800000000000003" stroke-linejoin="miter"/>
<path d="M1476.6 1337.2 L1473.8 1336.8 L1470.8 1337.3 L1467.7 1338.8 L1464.7 1341.3 L1462.0 1344.5 L1459.6 1348.3 L1457.7 1352.5 L1456.4 1356.9 L1455.8 1361.4 L1455.9 1365.6 L1456.6 1369.3 L1458.0 1372.5 L1460.0 1374.8 L1462.4 1376.2" fill="none" stroke="#000" stroke-width="2.52" stroke-linejoin="miter"/>
<path d="M1456.7 1352.1 L1486.1 1362.6" fill="none" stroke="#000" stroke-width="3.6" stroke-linejoin="miter"/>
<path d="M1518.9 1387.2 L1517.5 1386.4 L1516.3 1385.0 L1515.5 1383.2 L1515.1 1381.0 L1515.0 1378.6 L1515.4 1376.0 L1516.1 1373.4 L1517.2 1371.0 L1518.6 1368.7 L1520.2 1366.9 L1522.0 1365.5 L1523.8 1364.6 L1525.5 1364.3 L1527.2 1364.5 L1548.6 1372.2 L1550.0 1373.0 L1551.2 1374.4 L1552.0 1376.2 L1552.4 1378.4 L1552.5 1380.9 L1552.1 1383.4 L1551.4 1386.0 L1550.3 1388.5 L1548.9 1390.7 L1547.3 1392.6 L1545.5 1394.0 L1543.7 1394.9 L1542.0 1395.2 L1540.3 1394.9Z" fill="#fff" stroke="#000" stroke-width="3" stroke-linejoin="round"/>
<ellipse cx="1544.5" cy="1383.6" rx="12.1" ry="7.3" transform="rotate(110.19 1544.5 1383.6)" fill="#fff" stroke="#000" stroke-width="3"/>
<path d="M1593.5 1412.8 L1592.2 1412.0 L1591.2 1410.8 L1590.5 1409.1 L1590.1 1407.2 L1590.0 1404.9 L1590.4 1402.6 L1591.0 1400.2 L1592.0 1398.0 L1593.3 1396.0 L1594.7 1394.3 L1596.3 1393.0 L1598.0 1392.2 L1599.6 1391.9 L1601.1 1392.2 L1876.5 1490.8 L1877.8 1491.5 L1878.8 1492.7 L1879.5 1494.4 L1879.9 1496.4 L1880.0 1498.6 L1879.6 1501.0 L1879.0 1503.3 L1878.0 1505.6 L1876.7 1507.6 L1875.3 1509.3 L1873.7 1510.5 L1872.0 1511.3 L1870.4 1511.6 L1868.9 1511.4Z" fill="#fff" stroke="#000" stroke-width="3" stroke-linejoin="round"/>
<ellipse cx="1872.7" cy="1501.1" rx="11.0" ry="6.6" transform="rotate(110.19 1872.7 1501.1)" fill="#fff" stroke="#000" stroke-width="3"/>
<path d="M1558.5 1416.6 L1555.4 1414.8 L1552.9 1411.8 L1551.1 1407.8 L1550.2 1403.0 L1550.1 1397.7 L1550.9 1392.1 L1552.5 1386.4 L1554.9 1381.1 L1557.9 1376.2 L1561.4 1372.2 L1565.2 1369.1 L1569.1 1367.2 L1573.0 1366.5 L1576.5 1367.0 L1621.5 1383.1 L1624.6 1385.0 L1627.1 1387.9 L1628.9 1391.9 L1629.8 1396.7 L1629.9 1402.0 L1629.1 1407.6 L1627.5 1413.3 L1625.1 1418.7 L1622.1 1423.5 L1618.6 1427.6 L1614.8 1430.6 L1610.9 1432.6 L1607.0 1433.2 L1603.5 1432.7Z" fill="#fff" stroke="#000" stroke-width="3" stroke-linejoin="round"/>
<ellipse cx="1612.5" cy="1407.9" rx="26.4" ry="16.0" transform="rotate(110.19 1612.5 1407.9)" fill="#fff" stroke="#000" stroke-width="3"/>
<ellipse cx="1612.5" cy="1407.9" rx="19.0" ry="11.5" transform="rotate(110.19 1612.5 1407.9)" fill="none" stroke="#000" stroke-width="2.5"/>
<ellipse cx="1612.5" cy="1407.9" rx="11.9" ry="7.2" transform="rotate(110.19 1612.5 1407.9)" fill="#fff" stroke="#000" stroke-width="2.5"/>
<path d="M1632.8 1440.8 L1629.9 1439.2 L1627.6 1436.5 L1626.0 1432.8 L1625.1 1428.4 L1625.1 1423.5 L1625.8 1418.4 L1627.3 1413.2 L1629.5 1408.3 L1632.2 1403.8 L1635.4 1400.1 L1638.9 1397.3 L1642.5 1395.5 L1646.1 1394.9 L1649.3 1395.4 L1672.2 1403.6 L1675.1 1405.3 L1677.4 1408.0 L1679.0 1411.7 L1679.9 1416.0 L1679.9 1420.9 L1679.2 1426.1 L1677.7 1431.3 L1675.5 1436.2 L1672.8 1440.6 L1669.6 1444.3 L1666.1 1447.2 L1662.5 1448.9 L1658.9 1449.6 L1655.7 1449.0Z" fill="#fff" stroke="#000" stroke-width="3" stroke-linejoin="round"/>
<ellipse cx="1663.9" cy="1426.3" rx="24.2" ry="14.6" transform="rotate(110.19 1663.9 1426.3)" fill="#fff" stroke="#000" stroke-width="3"/>
<ellipse cx="1663.9" cy="1426.3" rx="17.4" ry="10.5" transform="rotate(110.19 1663.9 1426.3)" fill="none" stroke="#000" stroke-width="2.5"/>
<ellipse cx="1663.9" cy="1426.3" rx="10.9" ry="6.6" transform="rotate(110.19 1663.9 1426.3)" fill="#fff" stroke="#000" stroke-width="2.5"/>
<path d="M1682.8 1458.7 L1679.9 1457.1 L1677.6 1454.4 L1676.0 1450.7 L1675.1 1446.3 L1675.1 1441.4 L1675.8 1436.3 L1677.3 1431.1 L1679.5 1426.2 L1682.2 1421.7 L1685.4 1418.0 L1688.9 1415.2 L1692.5 1413.4 L1696.1 1412.8 L1699.3 1413.3 L1719.7 1420.6 L1722.6 1422.3 L1724.9 1425.0 L1726.5 1428.7 L1727.4 1433.0 L1727.4 1437.9 L1726.7 1443.1 L1725.2 1448.3 L1723.0 1453.2 L1720.3 1457.6 L1717.1 1461.3 L1713.6 1464.2 L1710.0 1465.9 L1706.4 1466.6 L1703.2 1466.0Z" fill="#fff" stroke="#000" stroke-width="3" stroke-linejoin="round"/>
<ellipse cx="1711.4" cy="1443.3" rx="24.2" ry="14.6" transform="rotate(110.19 1711.4 1443.3)" fill="#fff" stroke="#000" stroke-width="3"/>
<ellipse cx="1711.4" cy="1443.3" rx="17.4" ry="10.5" transform="rotate(110.19 1711.4 1443.3)" fill="none" stroke="#000" stroke-width="2.5"/>
<ellipse cx="1711.4" cy="1443.3" rx="10.9" ry="6.6" transform="rotate(110.19 1711.4 1443.3)" fill="#fff" stroke="#000" stroke-width="2.5"/>
<path d="M1732.8 1476.6 L1729.9 1475.0 L1727.6 1472.3 L1726.0 1468.6 L1725.1 1464.2 L1725.1 1459.3 L1725.8 1454.2 L1727.3 1449.0 L1729.5 1444.1 L1732.2 1439.7 L1735.4 1435.9 L1738.9 1433.1 L1742.5 1431.3 L1746.1 1430.7 L1749.3 1431.2 L1767.2 1437.6 L1770.1 1439.3 L1772.4 1442.0 L1774.0 1445.7 L1774.9 1450.0 L1774.9 1454.9 L1774.2 1460.1 L1772.7 1465.3 L1770.5 1470.2 L1767.8 1474.6 L1764.6 1478.4 L1761.1 1481.2 L1757.5 1482.9 L1753.9 1483.6 L1750.7 1483.0Z" fill="#fff" stroke="#000" stroke-width="3" stroke-linejoin="round"/>
<ellipse cx="1758.9" cy="1460.3" rx="24.2" ry="14.6" transform="rotate(110.19 1758.9 1460.3)" fill="#fff" stroke="#000" stroke-width="3"/>
<ellipse cx="1758.9" cy="1460.3" rx="17.4" ry="10.5" transform="rotate(110.19 1758.9 1460.3)" fill="none" stroke="#000" stroke-width="2.5"/>
<ellipse cx="1758.9" cy="1460.3" rx="10.9" ry="6.6" transform="rotate(110.19 1758.9 1460.3)" fill="#fff" stroke="#000" stroke-width="2.5"/>
<path d="M1778.9 1496.6 L1775.6 1494.7 L1773.0 1491.6 L1771.2 1487.5 L1770.2 1482.5 L1770.1 1477.0 L1770.9 1471.1 L1772.6 1465.2 L1775.1 1459.6 L1778.2 1454.6 L1781.9 1450.4 L1785.8 1447.2 L1789.9 1445.2 L1793.9 1444.4 L1797.6 1445.0 L1838.6 1459.7 L1841.9 1461.6 L1844.5 1464.7 L1846.3 1468.8 L1847.3 1473.8 L1847.4 1479.4 L1846.6 1485.2 L1844.9 1491.1 L1842.4 1496.7 L1839.3 1501.8 L1835.6 1506.0 L1831.7 1509.2 L1827.6 1511.2 L1823.6 1511.9 L1819.9 1511.3Z" fill="#fff" stroke="#000" stroke-width="3" stroke-linejoin="round"/>
<ellipse cx="1829.2" cy="1485.5" rx="27.5" ry="16.6" transform="rotate(110.19 1829.2 1485.5)" fill="#fff" stroke="#000" stroke-width="3"/>
<ellipse cx="1829.2" cy="1485.5" rx="19.8" ry="12.0" transform="rotate(110.19 1829.2 1485.5)" fill="none" stroke="#000" stroke-width="2.5"/>
<ellipse cx="1829.2" cy="1485.5" rx="12.4" ry="7.5" transform="rotate(110.19 1829.2 1485.5)" fill="#fff" stroke="#000" stroke-width="2.5"/>
<path d="M1851.4 1522.6 L1848.1 1520.7 L1845.5 1517.6 L1843.7 1513.5 L1842.7 1508.5 L1842.6 1502.9 L1843.4 1497.1 L1845.1 1491.2 L1847.6 1485.6 L1850.7 1480.6 L1854.4 1476.3 L1858.3 1473.1 L1862.4 1471.1 L1866.4 1470.4 L1870.1 1471.0 L1911.1 1485.7 L1914.4 1487.6 L1917.0 1490.7 L1918.8 1494.8 L1919.8 1499.8 L1919.9 1505.3 L1919.1 1511.2 L1917.4 1517.1 L1914.9 1522.7 L1911.8 1527.7 L1908.1 1531.9 L1904.2 1535.1 L1900.1 1537.1 L1896.1 1537.9 L1892.4 1537.3Z" fill="#fff" stroke="#000" stroke-width="3" stroke-linejoin="round"/>
<ellipse cx="1901.8" cy="1511.5" rx="27.5" ry="16.6" transform="rotate(110.19 1901.8 1511.5)" fill="#fff" stroke="#000" stroke-width="3"/>
<path d="M1907.4 1485.1 L1903.4 1485.8 L1899.3 1487.8 L1895.4 1491.0 L1891.7 1495.2 L1888.6 1500.3 L1886.1 1505.9 L1884.4 1511.8 L1883.6 1517.6 L1883.7 1523.2 L1884.7 1528.1 L1886.5 1532.3 L1889.1 1535.4" fill="none" stroke="#000" stroke-width="5.5" stroke-linejoin="miter"/>
<path d="M1967.1 1566.3 L1963.6 1564.3 L1960.7 1561.0 L1958.7 1556.5 L1957.7 1551.1 L1957.6 1545.1 L1958.5 1538.8 L1960.3 1532.4 L1963.0 1526.4 L1966.4 1520.9 L1970.3 1516.4 L1974.6 1512.9 L1979.0 1510.8 L1983.3 1510.0 L1987.4 1510.6 L2020.4 1522.5 L2023.9 1524.5 L2026.8 1527.9 L2028.8 1532.3 L2029.8 1537.7 L2029.9 1543.7 L2029.0 1550.0 L2027.2 1556.4 L2024.5 1562.4 L2021.1 1567.9 L2017.2 1572.4 L2012.9 1575.9 L2008.5 1578.1 L2004.2 1578.8 L2000.1 1578.2Z" fill="#fff" stroke="#000" stroke-width="3" stroke-linejoin="round"/>
<ellipse cx="2010.3" cy="1550.3" rx="29.6" ry="17.9" transform="rotate(110.19 2010.3 1550.3)" fill="#fff" stroke="#000" stroke-width="3"/>
<path d="M2016.4 1521.8 L2012.1 1522.6 L2007.7 1524.8 L2003.4 1528.2 L1999.5 1532.8 L1996.1 1538.2 L1993.4 1544.3 L1991.6 1550.6 L1990.7 1557.0 L1990.8 1563.0 L1991.8 1568.3 L1993.8 1572.8 L1996.6 1576.1" fill="none" stroke="#000" stroke-width="5.5" stroke-linejoin="miter"/>
<path d="M2075.0 1550.0 L2124.9 1526.6 L2133.5 1529.8 L2085.6 1554.2Z" fill="#fff" stroke="#000" stroke-width="2.6" stroke-linejoin="round"/>
<path d="M2085.6 1554.2 L2133.5 1529.8 L2133.5 1630.0 L2120.0 1647.5 L2111.5 1645.0 L2106.5 1605.0 L2102.5 1612.0 L2096.5 1657.5 L2085.6 1655.0Z" fill="#fff" stroke="#000" stroke-width="3" stroke-linejoin="round"/>
<path d="M2075.0 1550.0 L2085.6 1554.2 L2085.6 1655.0 L2075.0 1649.0Z" fill="#fff" stroke="#000" stroke-width="2.6" stroke-linejoin="round"/>
<path d="M2102.0 1612.0 L2102.0 1579.0 Q2108.2 1568.0 2114.5 1579.0 L2114.5 1605.0" fill="#fff" stroke="#000" stroke-width="3"/>
<path d="M2106.5 1605.0 L2111.5 1645.0" fill="none" stroke="#000" stroke-width="3" stroke-linejoin="miter"/>
<path d="M1126.3 1474.7 L1124.0 1473.3 L1122.1 1471.1 L1120.8 1468.1 L1120.1 1464.5 L1120.1 1460.5 L1120.7 1456.2 L1121.9 1452.0 L1123.7 1448.0 L1126.0 1444.4 L1128.6 1441.3 L1131.5 1439.1 L1134.4 1437.7 L1137.3 1437.2 L1140.0 1437.6 L1193.7 1457.6 L1196.0 1458.9 L1197.9 1461.2 L1199.2 1464.2 L1199.9 1467.8 L1199.9 1471.8 L1199.3 1476.0 L1198.1 1480.3 L1196.3 1484.3 L1194.0 1487.9 L1191.4 1490.9 L1188.5 1493.2 L1185.6 1494.6 L1182.7 1495.1 L1180.0 1494.6Z" fill="#fff" stroke="#000" stroke-width="3" stroke-linejoin="round"/>
<ellipse cx="1186.9" cy="1476.1" rx="19.8" ry="12.0" transform="rotate(110.19 1186.9 1476.1)" fill="#fff" stroke="#000" stroke-width="3"/>
<path d="M1256.3 1522.9 L1254.0 1521.5 L1252.1 1519.3 L1250.8 1516.3 L1250.1 1512.7 L1250.1 1508.7 L1250.7 1504.5 L1251.9 1500.2 L1253.7 1496.2 L1256.0 1492.6 L1258.6 1489.6 L1261.5 1487.3 L1264.4 1485.9 L1267.3 1485.4 L1270.0 1485.9 L1318.7 1503.9 L1321.0 1505.3 L1322.9 1507.6 L1324.2 1510.6 L1324.9 1514.2 L1324.9 1518.2 L1324.3 1522.4 L1323.1 1526.6 L1321.3 1530.7 L1319.0 1534.3 L1316.4 1537.3 L1313.5 1539.6 L1310.6 1541.0 L1307.7 1541.5 L1305.0 1541.0Z" fill="#fff" stroke="#000" stroke-width="3" stroke-linejoin="round"/>
<ellipse cx="1311.9" cy="1522.5" rx="19.8" ry="12.0" transform="rotate(110.19 1311.9 1522.5)" fill="#fff" stroke="#000" stroke-width="3"/>
<path d="M1053.0 1470.9 L1048.1 1468.0 L1044.2 1463.3 L1041.4 1456.9 L1039.9 1449.3 L1039.8 1440.9 L1041.1 1431.9 L1043.8 1423.0 L1047.6 1414.5 L1052.4 1406.9 L1057.9 1400.5 L1064.0 1395.7 L1070.2 1392.7 L1076.3 1391.7 L1081.9 1392.6 L1082.9 1393.0 L1087.8 1395.9 L1091.7 1400.7 L1094.5 1407.0 L1096.0 1414.6 L1096.0 1423.1 L1094.7 1432.0 L1092.1 1440.9 L1088.3 1449.4 L1083.5 1457.1 L1078.0 1463.4 L1071.9 1468.2 L1065.7 1471.2 L1059.6 1472.3 L1054.0 1471.3Z" fill="#fff" stroke="#000" stroke-width="3" stroke-linejoin="round"/>
<ellipse cx="1068.4" cy="1432.2" rx="41.7" ry="25.3" transform="rotate(110.19 1068.4 1432.2)" fill="#fff" stroke="#000" stroke-width="3"/>
<ellipse cx="1068.4" cy="1432.2" rx="30.0" ry="18.2" transform="rotate(110.19 1068.4 1432.2)" fill="none" stroke="#000" stroke-width="2.5"/>
<path d="M1085.0 1482.8 L1080.1 1479.9 L1076.2 1475.1 L1073.4 1468.8 L1071.9 1461.2 L1071.8 1452.7 L1073.1 1443.8 L1075.8 1434.9 L1079.6 1426.4 L1084.4 1418.8 L1089.9 1412.4 L1096.0 1407.6 L1102.2 1404.6 L1108.3 1403.5 L1113.9 1404.5 L1120.7 1407.0 L1125.6 1410.0 L1129.5 1414.7 L1132.3 1421.1 L1133.8 1428.7 L1133.9 1437.1 L1132.6 1446.0 L1129.9 1455.0 L1126.1 1463.5 L1121.3 1471.1 L1115.8 1477.5 L1109.7 1482.3 L1103.5 1485.3 L1097.4 1486.3 L1091.8 1485.3Z" fill="#fff" stroke="#000" stroke-width="3" stroke-linejoin="round"/>
<ellipse cx="1106.3" cy="1446.2" rx="41.7" ry="25.3" transform="rotate(110.19 1106.3 1446.2)" fill="#fff" stroke="#000" stroke-width="3"/>
<ellipse cx="1106.3" cy="1446.2" rx="30.0" ry="18.2" transform="rotate(110.19 1106.3 1446.2)" fill="none" stroke="#000" stroke-width="2.5"/>
<ellipse cx="1106.3" cy="1446.2" rx="20.9" ry="12.6" transform="rotate(110.19 1106.3 1446.2)" fill="#fff" stroke="#000" stroke-width="2.5"/>
<path d="M1193.7 1527.8 L1188.3 1524.6 L1183.9 1519.3 L1180.9 1512.3 L1179.2 1503.9 L1179.1 1494.6 L1180.6 1484.7 L1183.5 1474.8 L1187.7 1465.5 L1193.0 1457.0 L1199.1 1450.0 L1205.8 1444.7 L1212.7 1441.4 L1219.4 1440.2 L1225.6 1441.3 L1250.3 1450.4 L1255.7 1453.7 L1260.1 1458.9 L1263.1 1465.9 L1264.8 1474.3 L1264.9 1483.7 L1263.4 1493.6 L1260.5 1503.4 L1256.3 1512.8 L1251.0 1521.2 L1244.9 1528.3 L1238.2 1533.6 L1231.3 1536.9 L1224.6 1538.1 L1218.4 1537.0Z" fill="#fff" stroke="#000" stroke-width="3" stroke-linejoin="round"/>
<ellipse cx="1234.3" cy="1493.7" rx="46.1" ry="27.9" transform="rotate(110.19 1234.3 1493.7)" fill="#fff" stroke="#000" stroke-width="3"/>
<ellipse cx="1234.3" cy="1493.7" rx="33.2" ry="20.1" transform="rotate(110.19 1234.3 1493.7)" fill="none" stroke="#000" stroke-width="2.5"/>
<ellipse cx="1234.3" cy="1493.7" rx="23.1" ry="14.0" transform="rotate(110.19 1234.3 1493.7)" fill="#fff" stroke="#000" stroke-width="2.5"/>
<path d="M1317.2 1573.6 L1311.8 1570.4 L1307.4 1565.1 L1304.4 1558.1 L1302.7 1549.8 L1302.6 1540.4 L1304.1 1530.5 L1307.0 1520.7 L1311.2 1511.3 L1316.5 1502.8 L1322.6 1495.8 L1329.3 1490.5 L1336.2 1487.2 L1342.9 1486.0 L1349.1 1487.1 L1367.8 1494.0 L1373.2 1497.3 L1377.6 1502.5 L1380.6 1509.5 L1382.3 1517.9 L1382.4 1527.3 L1380.9 1537.1 L1378.0 1547.0 L1373.8 1556.4 L1368.5 1564.8 L1362.4 1571.9 L1355.7 1577.2 L1348.8 1580.5 L1342.1 1581.7 L1335.9 1580.6Z" fill="#fff" stroke="#000" stroke-width="3" stroke-linejoin="round"/>
<ellipse cx="1351.8" cy="1537.3" rx="46.1" ry="27.9" transform="rotate(110.19 1351.8 1537.3)" fill="#fff" stroke="#000" stroke-width="3"/>
<ellipse cx="1351.8" cy="1537.3" rx="33.2" ry="20.1" transform="rotate(110.19 1351.8 1537.3)" fill="none" stroke="#000" stroke-width="2.5"/>
<ellipse cx="1351.8" cy="1537.3" rx="23.1" ry="14.0" transform="rotate(110.19 1351.8 1537.3)" fill="#fff" stroke="#000" stroke-width="2.5"/>
<path d="M1377.9 1598.5 L1372.2 1595.1 L1367.7 1589.6 L1364.4 1582.3 L1362.8 1573.5 L1362.7 1563.7 L1364.2 1553.3 L1367.2 1543.0 L1371.6 1533.2 L1377.2 1524.3 L1383.6 1517.0 L1390.6 1511.4 L1397.8 1507.9 L1404.8 1506.7 L1411.3 1507.8 L1432.1 1515.5 L1437.8 1518.9 L1442.3 1524.4 L1445.6 1531.8 L1447.2 1540.6 L1447.3 1550.4 L1445.8 1560.7 L1442.8 1571.1 L1438.4 1580.9 L1432.8 1589.7 L1426.4 1597.1 L1419.4 1602.7 L1412.2 1606.1 L1405.2 1607.3 L1398.7 1606.2Z" fill="#fff" stroke="#000" stroke-width="3" stroke-linejoin="round"/>
<ellipse cx="1415.4" cy="1560.9" rx="48.3" ry="29.2" transform="rotate(110.19 1415.4 1560.9)" fill="#fff" stroke="#000" stroke-width="3"/>
<path d="M607.5 135.0 L655.0 185.0" fill="none" stroke="#000" stroke-width="4" stroke-linejoin="miter"/>
<path d="M795.0 162.5 L787.5 217.5" fill="none" stroke="#000" stroke-width="4" stroke-linejoin="miter"/>
<path d="M262.5 230.0 L292.5 247.5" fill="none" stroke="#000" stroke-width="4" stroke-linejoin="miter"/>
<path d="M442.5 240.0 L432.5 280.0" fill="none" stroke="#000" stroke-width="4" stroke-linejoin="miter"/>
<path d="M580.0 302.5 L565.0 332.5" fill="none" stroke="#000" stroke-width="4" stroke-linejoin="miter"/>
<path d="M1025.5 269.7 L1004.6 303.8" fill="none" stroke="#000" stroke-width="4" stroke-linejoin="miter"/>
<path d="M822.0 397.8 L806.0 421.0" fill="none" stroke="#000" stroke-width="4" stroke-linejoin="miter"/>
<path d="M978.6 451.5 L945.0 475.6" fill="none" stroke="#000" stroke-width="4" stroke-linejoin="miter"/>
<path d="M1255.4 364.4 L1231.7 390.9" fill="none" stroke="#000" stroke-width="4" stroke-linejoin="miter"/>
<path d="M250.0 420.0 L277.5 445.0" fill="none" stroke="#000" stroke-width="4" stroke-linejoin="miter"/>
<path d="M431.0 441.5 L417.0 474.0" fill="none" stroke="#000" stroke-width="4" stroke-linejoin="miter"/>
<path d="M544.5 484.7 L523.5 514.0" fill="none" stroke="#000" stroke-width="4" stroke-linejoin="miter"/>
<path d="M712.8 558.3 L692.8 575.0" fill="none" stroke="#000" stroke-width="4" stroke-linejoin="miter"/>
<path d="M859.7 622.0 L840.8 641.0" fill="none" stroke="#000" stroke-width="4" stroke-linejoin="miter"/>
<path d="M69.0 460.0 L82.4 491.0" fill="none" stroke="#000" stroke-width="4" stroke-linejoin="miter"/>
<path d="M168.0 611.0 L118.8 664.0" fill="none" stroke="#000" stroke-width="4" stroke-linejoin="miter"/>
<path d="M371.8 678.0 L310.6 734.7" fill="none" stroke="#000" stroke-width="4" stroke-linejoin="miter"/>
<path d="M600.0 759.4 L546.0 818.0" fill="none" stroke="#000" stroke-width="4" stroke-linejoin="miter"/>
<path d="M2194.5 735.0 L2174.5 790.0" fill="none" stroke="#000" stroke-width="4" stroke-linejoin="miter"/>
<path d="M2454.5 805.0 L2439.5 880.0" fill="none" stroke="#000" stroke-width="4" stroke-linejoin="miter"/>
<path d="M2612.0 875.0 L2612.0 945.0" fill="none" stroke="#000" stroke-width="4" stroke-linejoin="miter"/>
<path d="M2724.5 912.5 L2707.0 965.0" fill="none" stroke="#000" stroke-width="4" stroke-linejoin="miter"/>
<path d="M2037.0 892.5 L2017.0 930.0" fill="none" stroke="#000" stroke-width="4" stroke-linejoin="miter"/>
<path d="M2207.0 950.0 L2189.5 995.0" fill="none" stroke="#000" stroke-width="4" stroke-linejoin="miter"/>
<path d="M2329.5 1005.0 L2307.0 1040.0" fill="none" stroke="#000" stroke-width="4" stroke-linejoin="miter"/>
<path d="M2429.5 1130.0 L2467.0 1182.5" fill="none" stroke="#000" stroke-width="4" stroke-linejoin="miter"/>
<path d="M1802.0 995.0 L1794.5 1030.0" fill="none" stroke="#000" stroke-width="4" stroke-linejoin="miter"/>
<path d="M2007.0 1082.5 L1987.0 1117.5" fill="none" stroke="#000" stroke-width="4" stroke-linejoin="miter"/>
<path d="M2127.0 1217.5 L2147.0 1237.5" fill="none" stroke="#000" stroke-width="4" stroke-linejoin="miter"/>
<path d="M1685.0 1178.5 L1662.5 1206.0" fill="none" stroke="#000" stroke-width="4" stroke-linejoin="miter"/>
<path d="M1957.5 1261.0 L1940.0 1306.0" fill="none" stroke="#000" stroke-width="4" stroke-linejoin="miter"/>
<path d="M2217.5 1363.5 L2190.0 1396.0" fill="none" stroke="#000" stroke-width="4" stroke-linejoin="miter"/>
<path d="M2303.0 1516.0 L2332.0 1560.0" fill="none" stroke="#000" stroke-width="4" stroke-linejoin="miter"/>
<path d="M1430.0 1281.0 L1407.5 1321.0" fill="none" stroke="#000" stroke-width="4" stroke-linejoin="miter"/>
<path d="M1805.0 1398.5 L1792.5 1446.0" fill="none" stroke="#000" stroke-width="4" stroke-linejoin="miter"/>
<path d="M2032.5 1496.0 L2012.5 1523.5" fill="none" stroke="#000" stroke-width="4" stroke-linejoin="miter"/>
<path d="M2115.0 1633.5 L2140.0 1673.5" fill="none" stroke="#000" stroke-width="4" stroke-linejoin="miter"/>
<path d="M1207.5 1528.5 L1192.5 1561.0" fill="none" stroke="#000" stroke-width="4" stroke-linejoin="miter"/>
<path d="M758.0 1138.0 L719.5 1187.0" fill="none" stroke="#000" stroke-width="4" stroke-linejoin="miter"/>
<text x="523.5" y="120.5" class="t">328</text>
<text x="745.5" y="138.5" class="t">327</text>
<text x="163.5" y="228.5" class="t">328</text>
<text x="406.5" y="228.5" class="t">327</text>
<text x="535.5" y="290.5" class="t">334</text>
<text x="990.5" y="255.5" class="t">336</text>
<text x="793.5" y="383.5" class="t">333</text>
<text x="988.5" y="450.5" class="t">332</text>
<text x="168.5" y="403.5" class="t">328</text>
<text x="388.5" y="425.5" class="t">327</text>
<text x="516.5" y="474.5" class="t">331</text>
<text x="688.5" y="543.5" class="t">330</text>
<text x="833.5" y="608.5" class="t">329</text>
<text x="13.5" y="450.5" class="t">328</text>
<text x="43.5" y="725.5" class="t">327</text>
<text x="218.5" y="785.5" class="t">326</text>
<text x="463.5" y="874.5" class="t">325</text>
<text x="2155.5" y="718.5" class="t">337</text>
<text x="2407.5" y="783.5" class="t">338</text>
<text x="2562.5" y="853.5" class="t">327</text>
<text x="2680.5" y="895.5" class="t">339</text>
<text x="2000.5" y="880.5" class="t">341</text>
<text x="2175.5" y="938.5" class="t">340</text>
<text x="2317.5" y="990.5" class="t">327</text>
<text x="1765.5" y="988.5" class="t">342</text>
<text x="1977.5" y="1070.5" class="t">343</text>
<text x="1665.5" y="1165.5" class="t">344</text>
<text x="2157.5" y="1258.5" class="t">328</text>
<text x="2452.5" y="1230.5" class="t">339</text>
<text x="1925.5" y="1248.5" class="t">345</text>
<text x="2195.5" y="1348.5" class="t">327</text>
<text x="2334.5" y="1584.5" class="t">328</text>
<text x="1415.5" y="1264.5" class="t">346</text>
<text x="1753.5" y="1386.5" class="t">347</text>
<text x="2010.5" y="1486.5" class="t">327</text>
<text x="2113.5" y="1726.5" class="t">328</text>
<text x="1128.5" y="1609.5" class="t">348</text>
<text x="638.5" y="1240.5" class="t">349</text>
</svg></body></html>
